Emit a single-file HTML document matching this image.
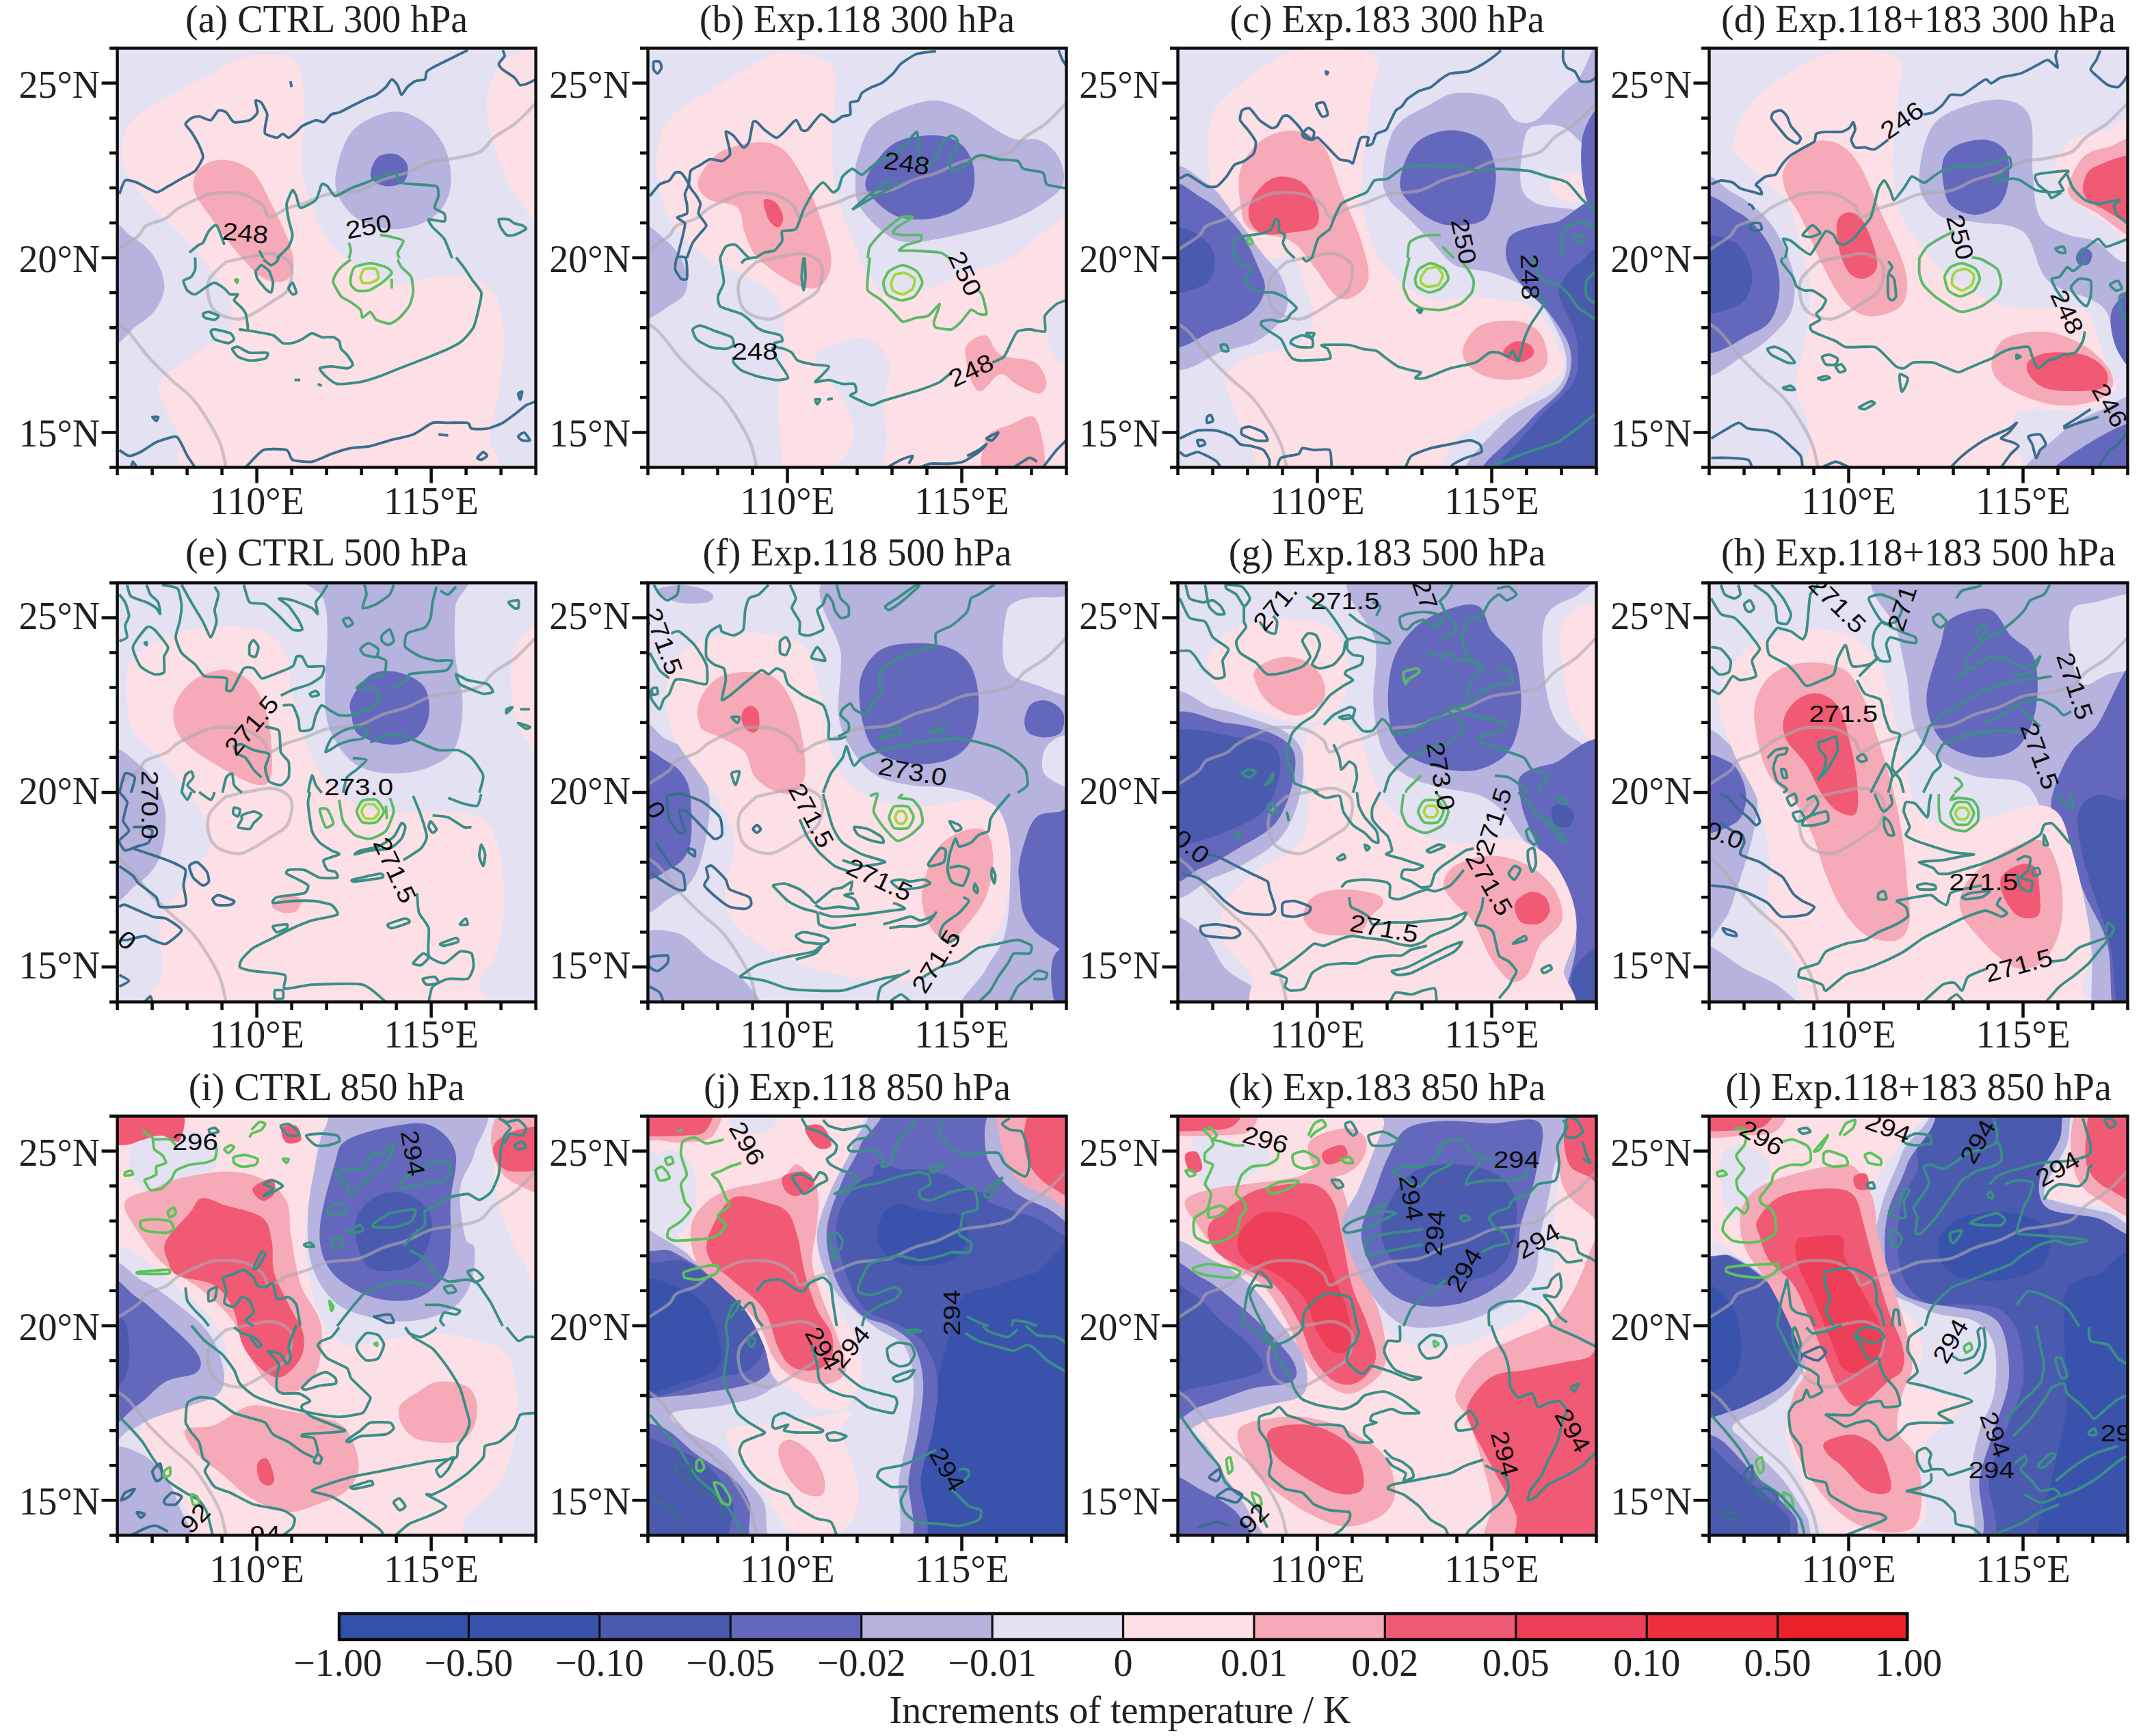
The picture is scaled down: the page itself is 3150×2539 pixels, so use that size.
<!DOCTYPE html><html><head><meta charset="utf-8"><style>html,body{margin:0;padding:0;background:#fff;overflow:hidden}svg{display:block}</style></head><body>
<svg xmlns="http://www.w3.org/2000/svg" width="3150" height="2539" viewBox="0 0 3150 2539">
<rect width="3150" height="2539" fill="#fff"/>
<defs><clipPath id="cp"><rect x="0" y="0" width="1736" height="1736"/></clipPath></defs>
<g transform="translate(171.6 70.5) scale(0.353111)">
<g clip-path="url(#cp)">
<rect x="-10" y="-10" width="1760" height="1760" fill="#e4e1f3"/>
<path d="M1590 60C1612.5 38.3 1645 30 1680 20C1715 10 1780 -123.3 1800 0C1820 123.3 1816.7 646.7 1800 760C1783.3 873.3 1730 713.3 1700 680C1670 646.7 1643.3 606.7 1620 560C1596.7 513.3 1575 451.7 1560 400C1545 348.3 1532.5 291.7 1530 250C1527.5 208.3 1535 181.7 1545 150C1555 118.3 1567.5 81.7 1590 60Z" fill="#fde0e5"/>
<path d="M480 55C513.3 42.5 560 27.5 600 25C640 22.5 692.5 24.2 720 40C747.5 55.8 756.3 76.7 765 120C773.7 163.3 772 240 772 300C772 360 760.3 421.7 765 480C769.7 538.3 780.8 596.7 800 650C819.2 703.3 848.3 758.3 880 800C911.7 841.7 945 870.8 990 900C1035 929.2 1098.3 966.7 1150 975C1201.7 983.3 1250 955 1300 950C1350 945 1405 931.7 1450 945C1495 958.3 1545 987.5 1570 1030C1595 1072.5 1597.5 1138.3 1600 1200C1602.5 1261.7 1595 1333.3 1585 1400C1575 1466.7 1555.8 1533.3 1540 1600C1524.2 1666.7 1683.3 1766.7 1490 1800C1296.7 1833.3 586.7 1835 380 1800C173.3 1765 284.2 1651.7 250 1590C215.8 1528.3 184.2 1468.3 175 1430C165.8 1391.7 165.8 1390 195 1360C224.2 1330 305.8 1281.7 350 1250C394.2 1218.3 440 1201.7 460 1170C480 1138.3 480 1100 470 1060C460 1020 431.7 975 400 930C368.3 885 325 838.3 280 790C235 741.7 171.7 688.3 130 640C88.3 591.7 48.3 541.7 30 500C11.7 458.3 11.7 426.7 20 390C28.3 353.3 41.7 315 80 280C118.3 245 196.7 210 250 180C303.3 150 361.7 120.8 400 100C438.3 79.2 446.7 67.5 480 55Z" fill="#fde0e5"/>
<path d="M-50 740C-31.7 666.7 26.7 760 60 780C93.3 800 127.5 826.7 150 860C172.5 893.3 193.3 943.3 195 980C196.7 1016.7 179.2 1051.7 160 1080C140.8 1108.3 115 1126.7 80 1150C45 1173.3 -28.3 1288.3 -50 1220C-71.7 1151.7 -68.3 813.3 -50 740Z" fill="#b6b3de"/>
<path d="M340 500C360.3 478.7 403.3 460.3 440 462C476.7 463.7 526.7 478.7 560 510C593.3 541.3 615 601.7 640 650C665 698.3 695 757.5 710 800C725 842.5 733.3 877.5 730 905C726.7 932.5 711.7 957.5 690 965C668.3 972.5 631.7 969.2 600 950C568.3 930.8 533.3 888.3 500 850C466.7 811.7 430.3 763.3 400 720C369.7 676.7 328 626.7 318 590C308 553.3 319.7 521.3 340 500Z" fill="#f6a9b6"/>
<path d="M905 520C911.7 476.7 934.2 399.2 960 360C985.8 320.8 1023.3 300.8 1060 285C1096.7 269.2 1140 257.5 1180 265C1220 272.5 1268.3 299.2 1300 330C1331.7 360.8 1357.5 405 1370 450C1382.5 495 1386.7 557.5 1375 600C1363.3 642.5 1337.5 680 1300 705C1262.5 730 1200 749.2 1150 750C1100 750.8 1038.3 731.7 1000 710C961.7 688.3 935.8 651.7 920 620C904.2 588.3 898.3 563.3 905 520Z" fill="#b6b3de"/>
<path d="M1050 510C1053.3 493.3 1063.3 462 1080 450C1096.7 438 1130 433 1150 438C1170 443 1193.3 461.3 1200 480C1206.7 498.7 1203.3 534.7 1190 550C1176.7 565.3 1141.7 572 1120 572C1098.3 572 1071.7 560.3 1060 550C1048.3 539.7 1046.7 526.7 1050 510Z" fill="#6468bc"/>
<path d="M1790 180C1781 187.5 1759.3 203.3 1736 225C1712.7 246.7 1679.3 285.8 1650 310C1620.7 334.2 1585 350 1560 370C1535 390 1526.7 415.8 1500 430C1473.3 444.2 1433.3 448.3 1400 455C1366.7 461.7 1333.3 460 1300 470C1266.7 480 1233.3 502.5 1200 515C1166.7 527.5 1133.3 532.5 1100 545C1066.7 557.5 1038.3 580 1000 590C961.7 600 906.7 596.7 870 605C833.3 613.3 808.3 630 780 640C751.7 650 725 655 700 665C675 675 646.7 702.5 630 700C613.3 697.5 618.3 665.8 600 650C581.7 634.2 553.3 613.3 520 605C486.7 596.7 431.7 596.7 400 600C368.3 603.3 355 614.2 330 625C305 635.8 271.7 651.7 250 665C228.3 678.3 221.7 693.3 200 705C178.3 716.7 138.3 723.3 120 735C101.7 746.7 103.3 762.5 90 775C76.7 787.5 61.7 795.8 40 810C18.3 824.2 -26.7 851.7 -40 860" fill="none" stroke="#aca9b0" stroke-opacity="0.62" stroke-width="13" stroke-linejoin="round" stroke-linecap="round"/>
<path d="M-40 1120C-26.7 1128.3 11.7 1143.3 40 1170C68.3 1196.7 100 1246.7 130 1280C160 1313.3 190 1341.7 220 1370C250 1398.3 283.3 1420 310 1450C336.7 1480 360 1516.7 380 1550C400 1583.3 416.7 1610 430 1650C443.3 1690 455 1766.7 460 1790" fill="none" stroke="#aca9b0" stroke-opacity="0.62" stroke-width="13" stroke-linejoin="round" stroke-linecap="round"/>
<path d="M450 885C468.3 881.2 526.7 867.5 560 862C593.3 856.5 623.3 845.7 650 852C676.7 858.3 710.8 875.3 720 900C729.2 924.7 718.3 975 705 1000C691.7 1025 664.2 1033.3 640 1050C615.8 1066.7 583.3 1088 560 1100C536.7 1112 523.3 1122 500 1122C476.7 1122 439.7 1112 420 1100C400.3 1088 388.7 1073.3 382 1050C375.3 1026.7 368.7 987.5 380 960C391.3 932.5 438.3 897.5 450 885" fill="none" stroke="#aca9b0" stroke-opacity="0.62" stroke-width="13" stroke-linejoin="round" stroke-linecap="round"/>
<path d="M8.1 604.5C10.5 598.8 25 552.9 32.2 548C39.5 543.2 67.7 551.3 80.6 556.1C93.5 560.9 148.3 594.8 161.2 596.4C174.1 598 199.1 577.9 209.5 572.2C220 566.6 254.7 546.4 266 540C277.2 533.5 313.5 516.6 322.4 507.7C331.2 498.9 353 461.8 354.6 451.3C356.2 440.9 343.3 413.4 338.5 403C333.7 392.5 311.9 355.4 306.3 346.6C300.6 337.7 282.1 320 282.1 314.3C282.1 308.7 300.6 293.4 306.3 290.1C311.9 286.9 330.4 281.3 338.5 282.1C346.6 282.9 378.8 300.6 386.9 298.2C394.9 295.8 412.6 261.1 419.1 257.9C425.5 254.7 444.9 261.1 451.3 266C457.8 270.8 473.9 303 483.6 306.3C493.2 309.5 538.4 302.2 548 298.2C557.7 294.2 577.9 274 580.3 266C582.7 257.9 570.6 221.6 572.2 217.6C573.8 213.6 591.6 220 596.4 225.7C601.2 231.3 619 264.3 620.6 274C622.2 283.7 613.3 314.3 612.5 322.4C611.7 330.4 607.7 349.8 612.5 354.6C617.4 359.5 653.6 370.7 660.9 370.7C668.1 370.7 680.2 354.6 685.1 354.6C689.9 354.6 703.6 371.5 709.2 370.7C714.9 369.9 735.8 351.4 741.5 346.6C747.1 341.7 757.6 327.2 765.6 322.4C773.7 317.5 813.2 299.8 822.1 298.2C830.9 296.6 847.9 308.7 854.3 306.3C860.7 303.8 880.1 278.1 886.5 274C893 270 909.1 270 918.8 266C928.4 261.9 972 239.4 983.2 233.7C994.5 228.1 1022.7 213.6 1031.6 209.5C1040.5 205.5 1063.8 198.3 1071.9 193.4C1080 188.6 1105.8 167.6 1112.2 161.2C1118.6 154.7 1131.5 129.8 1136.4 129C1141.2 128.1 1156.5 146.7 1160.6 153.1C1164.6 159.6 1172.6 192.6 1176.7 193.4C1180.7 194.2 1195.2 166.8 1200.9 161.2C1206.5 155.5 1225.8 140.2 1233.1 137C1240.3 133.8 1268.6 133 1273.4 129C1278.2 124.9 1278.2 101.5 1281.4 96.7C1284.7 91.9 1296.8 85.4 1305.6 80.6C1314.5 75.8 1358.8 54 1370.1 48.4C1381.4 42.7 1410.4 28.2 1418.5 24.2C1426.5 20.1 1447.5 9.7 1450.7 8.1" fill="none" stroke="#3b6e8e" stroke-width="11" stroke-linejoin="round"/>
<path d="M1595.8 8.1C1596.6 10.5 1605.4 26.6 1603.8 32.2C1602.2 37.9 1580.5 58.8 1579.6 64.5C1578.8 70.1 1589.3 83 1595.8 88.7C1602.2 94.3 1636.9 114.4 1644.1 120.9C1651.4 127.3 1662.7 150.7 1668.3 153.1C1673.9 155.5 1694.1 147.5 1700.5 145.1C1707 142.7 1729.6 130.6 1732.8 129" fill="none" stroke="#3b6e8e" stroke-width="11" stroke-linejoin="round"/>
<path d="M717.3 137C717.7 139.4 720.9 158.8 721.3 161.2" fill="none" stroke="#3b6e8e" stroke-width="11" stroke-linejoin="round"/>
<path d="M298.2 846.2C302.2 843 332.9 818 338.5 814C344.1 810 350.6 811.6 354.6 805.9C358.6 800.3 373.2 764.8 378.8 757.6C384.4 750.3 404.6 727.8 411 733.4C417.5 739 440 805.9 443.3 814" fill="none" stroke="#3b8e86" stroke-width="11" stroke-linejoin="round"/>
<path d="M660.9 869.6C665.7 864.9 702.8 831.7 709.2 822.1C715.7 812.5 725.3 785 725.3 773.7C725.3 762.4 711.6 722.1 709.2 709.2C706.8 696.3 699.6 656.8 701.2 644.8C702.8 632.7 721.3 591.6 725.3 588.3C729.4 585.1 738.2 605.3 741.5 612.5C744.7 619.8 749.5 659.3 757.6 660.9C765.6 662.5 813.2 638.3 822.1 628.6C830.9 619 841.4 569.8 846.2 564.2C851.1 558.5 864.8 567.4 870.4 572.2C876.1 577.1 893 611.7 902.7 612.5C912.3 613.3 954.2 585.9 967.1 580.3C980 574.6 1019.5 560.9 1031.6 556.1C1043.7 551.3 1075.9 536 1088 531.9C1100.1 527.9 1144.4 513.4 1152.5 515.8C1160.6 518.2 1159.8 551.3 1168.6 556.1C1177.5 560.9 1225.8 562.5 1241.2 564.2C1256.5 565.8 1312.9 567.4 1321.7 572.2C1330.6 577.1 1330.6 603.7 1329.8 612.5C1329 621.4 1311.3 653.6 1313.7 660.9C1316.1 668.1 1350 679.4 1354 685.1C1358 690.7 1360.4 714.9 1354 717.3C1347.5 719.7 1294.3 706.8 1289.5 709.2C1284.7 711.6 1299.2 733.4 1305.6 741.5C1312.1 749.5 1345.9 777 1354 789.8C1362 802.6 1383 861.6 1386.2 869.6" fill="none" stroke="#3b8e86" stroke-width="11" stroke-linejoin="round"/>
<path d="M1579.6 709.2C1582.9 706 1613.5 707.6 1619.9 709.2C1626.4 710.8 1638.5 722.9 1644.1 725.3C1649.8 727.8 1671.5 731 1676.4 733.4C1681.2 735.8 1695.7 745.5 1692.5 749.5C1689.3 753.6 1652.2 771.3 1644.1 773.7C1636.1 776.1 1617.5 776.9 1611.9 773.7C1606.2 770.5 1590.9 747.9 1587.7 741.5C1584.5 735 1576.4 712.5 1579.6 709.2Z" fill="none" stroke="#3b8e86" stroke-width="11" stroke-linejoin="round"/>
<path d="M1088 773.7C1092.9 774.5 1126.7 779.3 1136.4 781.8C1146.1 784.2 1182.3 791.4 1184.7 797.9C1187.2 804.3 1162.2 839.1 1160.6 846.2C1158.9 853.4 1167.8 867.3 1168.6 869.6" fill="none" stroke="#5cb86a" stroke-width="11" stroke-linejoin="round"/>
<path d="M959.1 869.6C959.9 866.5 967.1 844.5 967.1 838.2C967.1 831.8 959.9 809.2 959.1 805.9" fill="none" stroke="#5cb86a" stroke-width="11" stroke-linejoin="round"/>
<path d="M588.3 838.2C589.9 841.3 602.8 866.5 604.5 869.6" fill="none" stroke="#3b8e86" stroke-width="11" stroke-linejoin="round"/>
<path d="M322.4 866.6C322.4 871.4 324 906.9 322.4 915C320.8 923 311.1 942.4 306.3 947.2C301.4 952 275.6 957.7 274 963.3C272.4 969 285.3 998 290.1 1003.6C295 1009.3 314.3 1021.3 322.4 1019.7C330.4 1018.1 362.7 992.3 370.7 987.5C378.8 982.7 395.7 970.6 403 971.4C410.2 972.2 436.8 990.7 443.3 995.6C449.7 1000.4 461.8 1017.3 467.4 1019.7C473.1 1022.1 498.1 1017.3 499.7 1019.7C501.3 1022.1 482 1038.3 483.6 1043.9C485.2 1049.5 511 1070.5 515.8 1076.1C520.6 1081.8 529.5 1091.5 531.9 1100.3C534.3 1109.2 542.4 1158.4 540 1164.8C537.6 1171.2 505.3 1164 507.7 1164.8C510.2 1165.6 550.5 1170.4 564.2 1172.9C577.9 1175.3 632.7 1184.1 644.8 1189C656.8 1193.8 677 1218 685.1 1221.2C693.1 1224.4 717.3 1222.8 725.3 1221.2C733.4 1219.6 757.6 1209.1 765.6 1205.1C773.7 1201.1 797.9 1181.7 805.9 1180.9C814 1180.1 837.4 1195.4 846.2 1197C855.1 1198.6 887.3 1195.4 894.6 1197C901.8 1198.6 915.6 1208.3 918.8 1213.2C922 1218 923.6 1239.8 926.8 1245.4C930.1 1251 946.2 1263.1 951 1269.6C955.8 1276 975.2 1304.2 975.2 1309.9C975.2 1315.5 959.9 1325.2 951 1326C942.1 1326.8 897.8 1317.9 886.5 1317.9C875.3 1317.9 840.6 1322 838.2 1326C835.8 1330 855.1 1351.8 862.4 1358.2C869.6 1364.7 896.2 1388 910.7 1390.5C925.2 1392.9 989.7 1385.6 1007.4 1382.4C1025.2 1379.2 1071.9 1363.9 1088 1358.2C1104.1 1352.6 1150.1 1333.2 1168.6 1326C1187.2 1318.7 1253.2 1293.7 1273.4 1285.7C1293.5 1277.6 1354.8 1252.6 1370.1 1245.4C1385.4 1238.1 1416 1222 1426.5 1213.2C1437 1204.3 1467.6 1171.2 1474.9 1156.7C1482.1 1142.2 1495.8 1082.6 1499.1 1068.1C1502.3 1053.6 1510.3 1023 1507.1 1011.7C1503.9 1000.4 1474.1 965.7 1466.8 955.3C1459.6 944.8 1441 915.8 1434.6 906.9C1428.1 898 1405.6 870.6 1402.3 866.6" fill="none" stroke="#3b8e86" stroke-width="11" stroke-linejoin="round"/>
<path d="M580.3 915C582.7 912.5 591.6 898 596.4 898.8C601.2 899.6 623.8 915.8 628.6 923C633.5 930.3 643.9 962.5 644.8 971.4C645.6 980.2 639.9 1009.3 636.7 1011.7C633.5 1014.1 618.2 1001.2 612.5 995.6C606.9 989.9 584.3 962.5 580.3 955.3C576.2 948 572.2 927 572.2 923C572.2 919 577.9 917.4 580.3 915Z" fill="none" stroke="#3b8e86" stroke-width="11" stroke-linejoin="round"/>
<path d="M604.5 874.7C607.7 877.1 631.1 898 636.7 898.8C642.3 899.6 657.6 885.9 660.9 882.7C664.1 879.5 668.1 868.2 668.9 866.6" fill="none" stroke="#3b8e86" stroke-width="11" stroke-linejoin="round"/>
<path d="M709.2 995.6C709.2 990.7 722.1 969.8 725.3 971.4C728.6 973 741.5 1006.8 741.5 1011.7C741.5 1016.5 728.6 1021.3 725.3 1019.7C722.1 1018.1 709.2 1000.4 709.2 995.6Z" fill="none" stroke="#3b8e86" stroke-width="11" stroke-linejoin="round"/>
<path d="M354.6 1100.3C356.2 1097.9 372.3 1091.5 378.8 1092.3C385.2 1093.1 416.7 1105.2 419.1 1108.4C421.5 1111.6 408.6 1123.7 403 1124.5C397.3 1125.3 367.5 1118.9 362.7 1116.4C357.8 1114 353 1102.7 354.6 1100.3Z" fill="none" stroke="#3b8e86" stroke-width="11" stroke-linejoin="round"/>
<path d="M386.9 1172.9C386.9 1168.8 394.9 1164 403 1164.8C411 1165.6 459.4 1176.9 467.4 1180.9C475.5 1184.9 484.4 1201.1 483.6 1205.1C482.8 1209.1 467.4 1221.2 459.4 1221.2C451.3 1221.2 410.2 1209.9 403 1205.1C395.7 1200.3 386.9 1176.9 386.9 1172.9Z" fill="none" stroke="#3b8e86" stroke-width="11" stroke-linejoin="round"/>
<path d="M475.5 1245.4C475.5 1241.4 492.4 1235.7 499.7 1237.3C506.9 1238.9 536 1259.1 548 1261.5C560.1 1263.9 614.1 1259.1 620.6 1261.5C627 1263.9 619.8 1282.5 612.5 1285.7C605.3 1288.9 559.3 1294.6 548 1293.7C536.8 1292.9 506.9 1282.5 499.7 1277.6C492.4 1272.8 475.5 1249.4 475.5 1245.4Z" fill="none" stroke="#3b8e86" stroke-width="11" stroke-linejoin="round"/>
<path d="M733.4 1374.3C735.8 1374.3 755.2 1374.3 757.6 1374.3" fill="none" stroke="#3b8e86" stroke-width="11" stroke-linejoin="round"/>
<path d="M830.1 1390.5C831.7 1391.3 844.6 1397.7 846.2 1398.5" fill="none" stroke="#3b8e86" stroke-width="11" stroke-linejoin="round"/>
<path d="M487.6 959.3C488 958.1 498.9 958.1 499.7 959.3C500.5 960.5 496.9 971.4 495.7 971.4C494.4 971.4 487.2 960.5 487.6 959.3Z" fill="none" stroke="#5cb86a" stroke-width="11" stroke-linejoin="round"/>
<path d="M967.1 874.7C963.1 877.9 933.3 900.4 926.8 906.9C920.4 913.3 905.9 932.7 902.7 939.1C899.4 945.6 892.2 962.5 894.6 971.4C897 980.2 919.6 1019.7 926.8 1027.8C934.1 1035.8 959.1 1046.3 967.1 1052C975.2 1057.6 1002.6 1077.8 1007.4 1084.2C1012.3 1090.7 1011.5 1115.6 1015.5 1116.4C1019.5 1117.2 1042.1 1091.5 1047.7 1092.3C1053.4 1093.1 1063.8 1119.7 1071.9 1124.5C1080 1129.3 1118.6 1141.4 1128.3 1140.6C1138 1139.8 1160.6 1123.7 1168.6 1116.4C1176.7 1109.2 1203.3 1078.6 1208.9 1068.1C1214.6 1057.6 1224.2 1023.8 1225 1011.7C1225.8 999.6 1221.8 957.7 1217 947.2C1212.1 936.7 1182.3 914.2 1176.7 906.9C1171 899.6 1162.2 877.9 1160.6 874.7" fill="none" stroke="#5cb86a" stroke-width="11" stroke-linejoin="round"/>
<path d="M967.1 947.2C968.7 939.9 975.2 912.5 983.2 906.9C991.3 901.3 1034.8 890.8 1047.7 890.8C1060.6 890.8 1103.3 902.9 1112.2 906.9C1121.1 910.9 1138 924.6 1136.4 931.1C1134.8 937.5 1105.8 964.1 1096.1 971.4C1086.4 978.6 1050.1 1000.4 1039.7 1003.6C1029.2 1006.8 998.6 1006 991.3 1003.6C984.1 1001.2 969.5 985.1 967.1 979.4C964.7 973.8 965.5 954.4 967.1 947.2Z" fill="none" stroke="#5cc25c" stroke-width="11" stroke-linejoin="round"/>
<path d="M1007.4 947.2C1008.2 941.6 1017.1 918.2 1023.5 915C1030 911.7 1066.3 910.9 1071.9 915C1077.5 919 1082.4 949.6 1080 955.3C1077.5 960.9 1054.2 969.8 1047.7 971.4C1041.3 973 1019.5 973.8 1015.5 971.4C1011.5 969 1006.6 952.8 1007.4 947.2Z" fill="none" stroke="#9fd83c" stroke-width="11" stroke-linejoin="round"/>
<path d="M1136.4 955.3C1136.4 959.3 1136.4 991.5 1136.4 995.6" fill="none" stroke="#5cc25c" stroke-width="11" stroke-linejoin="round"/>
<path d="M8.1 1664.5C12.1 1666.9 39.5 1687.9 48.4 1688.7C57.2 1689.5 85.4 1678.2 96.7 1672.5C108 1666.9 146.7 1638.7 161.2 1632.2C175.7 1625.8 231.3 1607.3 241.8 1608.1C252.3 1608.9 261.1 1632.2 266 1640.3C270.8 1648.4 284.5 1679.1 290.1 1688.7C295.8 1698.3 319.2 1731.5 322.4 1736.2" fill="none" stroke="#3b6e8e" stroke-width="11" stroke-linejoin="round"/>
<path d="M531.9 1736.2C539.2 1729 587.5 1671.7 604.5 1664.5C621.4 1657.3 689.1 1660.5 701.2 1664.5C713.3 1668.5 714.9 1699.9 725.3 1704.8C735.8 1709.6 789.8 1715.3 805.9 1712.8C822.1 1710.4 870.4 1686.2 886.5 1680.6C902.7 1675 951 1659.6 967.1 1656.4C983.2 1653.2 1031.6 1651.6 1047.7 1648.4C1063.8 1645.1 1110.6 1629 1128.3 1624.2C1146.1 1619.4 1207.3 1607.3 1225 1600C1242.8 1592.8 1291.1 1556.5 1305.6 1551.7C1320.1 1546.8 1355.6 1551.7 1370.1 1551.7C1384.6 1551.7 1441 1549.2 1450.7 1551.7C1460.4 1554.1 1458.8 1573.4 1466.8 1575.8C1474.9 1578.2 1518.4 1578.2 1531.3 1575.8C1544.2 1573.4 1583.7 1558.1 1595.8 1551.7C1607.9 1545.2 1642.5 1518.6 1652.2 1511.4C1661.9 1504.1 1684.4 1484 1692.5 1479.1C1700.5 1474.3 1728.7 1464.6 1732.8 1463" fill="none" stroke="#3b6e8e" stroke-width="11" stroke-linejoin="round"/>
<path d="M145.1 1527.5C145.9 1525.9 167.6 1525.9 169.2 1527.5C170.9 1529.1 163.6 1543.6 161.2 1543.6C158.8 1543.6 144.3 1529.1 145.1 1527.5Z" fill="none" stroke="#3b6e8e" stroke-width="11" stroke-linejoin="round"/>
<path d="M1660.2 1430.8C1661 1427.5 1675.6 1420.3 1676.4 1422.7C1677.2 1425.1 1669.9 1454.1 1668.3 1454.9C1666.7 1455.7 1659.4 1434 1660.2 1430.8Z" fill="none" stroke="#3b6e8e" stroke-width="11" stroke-linejoin="round"/>
<path d="M1329.8 1600C1333.8 1600.4 1366.1 1603.6 1370.1 1604" fill="none" stroke="#3b6e8e" stroke-width="11" stroke-linejoin="round"/>
<path d="M1660.2 1608.1C1661 1604.8 1679.6 1590.3 1684.4 1591.9C1689.3 1593.6 1709.4 1621 1708.6 1624.2C1707.8 1627.4 1681.2 1625.8 1676.4 1624.2C1671.5 1622.6 1659.4 1611.3 1660.2 1608.1Z" fill="none" stroke="#3b6e8e" stroke-width="11" stroke-linejoin="round"/>
<path d="M1491 1696.7C1491.8 1693.5 1511.1 1673.3 1515.2 1672.5C1519.2 1671.7 1532.1 1685.4 1531.3 1688.7C1530.5 1691.9 1511.1 1704 1507.1 1704.8C1503.1 1705.6 1490.2 1699.9 1491 1696.7Z" fill="none" stroke="#3b6e8e" stroke-width="11" stroke-linejoin="round"/>
<path d="M56.4 1736.2C57.2 1733.9 62.1 1712.8 64.5 1712.8C66.9 1712.8 79 1733.9 80.6 1736.2" fill="none" stroke="#3b6e8e" stroke-width="11" stroke-linejoin="round"/>
<text transform="translate(530 765) rotate(5) scale(1.12 1)" y="36" font-family="Liberation Sans" font-size="102" text-anchor="middle" fill="#0d0d0d">248</text>
<text transform="translate(1040 738) rotate(-10) scale(1.12 1)" y="36" font-family="Liberation Sans" font-size="102" text-anchor="middle" fill="#0d0d0d">250</text>
</g></g>
<rect x="171.6" y="70.5" width="612" height="613" fill="none" stroke="#0d0d0d" stroke-width="4.4"/>
<path d="M171.6 683.5H160.1M171.6 632.4H148.6M171.6 581.3H160.1M171.6 530.2H160.1M171.6 479.2H160.1M171.6 428.1H160.1M171.6 377H148.6M171.6 325.9H160.1M171.6 274.8H160.1M171.6 223.8H160.1M171.6 172.7H160.1M171.6 121.6H148.6M171.6 70.5H160.1M171.6 683.5V695M222.6 683.5V695M273.6 683.5V695M324.6 683.5V695M375.6 683.5V706.5M426.6 683.5V695M477.6 683.5V695M528.6 683.5V695M579.6 683.5V695M630.6 683.5V706.5M681.6 683.5V695M732.6 683.5V695M783.6 683.5V695" stroke="#0d0d0d" stroke-width="4.5" fill="none"/>
<text x="146.3" y="653.4" font-family="Liberation Serif" font-size="56" text-anchor="end" fill="#231f20">15°N</text>
<text x="146.3" y="398" font-family="Liberation Serif" font-size="56" text-anchor="end" fill="#231f20">20°N</text>
<text x="146.3" y="142.6" font-family="Liberation Serif" font-size="56" text-anchor="end" fill="#231f20">25°N</text>
<text x="375.6" y="751.8" font-family="Liberation Serif" font-size="56" text-anchor="middle" fill="#231f20">110°E</text>
<text x="630.6" y="751.8" font-family="Liberation Serif" font-size="56" text-anchor="middle" fill="#231f20">115°E</text>
<text x="477.6" y="46.8" font-family="Liberation Serif" font-size="56" text-anchor="middle" fill="#231f20">(a) CTRL 300 hPa</text>
<g transform="translate(947.5 70.5) scale(0.353111)">
<g clip-path="url(#cp)">
<rect x="-10" y="-10" width="1760" height="1760" fill="#e4e1f3"/>
<path d="M540 20C606.7 1.7 661.3 26.7 700 40C738.7 53.3 760 65 772 100C784 135 774 200 772 250C770 300 758.7 341.7 760 400C761.3 458.3 765 533.3 780 600C795 666.7 826.7 741.7 850 800C873.3 858.3 895 913.3 920 950C945 986.7 961.7 1011.7 1000 1020C1038.3 1028.3 1100 1013.3 1150 1000C1200 986.7 1241.7 961.7 1300 940C1358.3 918.3 1443.3 900 1500 870C1556.7 840 1590 791.7 1640 760C1690 728.3 1773.3 640 1800 680C1826.7 720 1816.7 936.7 1800 1000C1783.3 1063.3 1725 1035 1700 1060C1675 1085 1650 1110 1650 1150C1650 1190 1675 1275 1700 1300C1725 1325 1783.3 1216.7 1800 1300C1816.7 1383.3 1925 1716.7 1800 1800C1675 1883.3 1185 1833.3 1050 1800C915 1766.7 1001.7 1658.3 990 1600C978.3 1541.7 978.3 1500 980 1450C981.7 1400 1013.3 1341.7 1000 1300C986.7 1258.3 946.7 1208.3 900 1200C853.3 1191.7 753.3 1233.3 720 1250C686.7 1266.7 681.7 1258.3 700 1300C718.3 1341.7 806.7 1441.7 830 1500C853.3 1558.3 861.7 1600 840 1650C818.3 1700 743.3 1775 700 1800C656.7 1825 606.7 1850 580 1800C553.3 1750 543.3 1591.7 540 1500C536.7 1408.3 556.7 1316.7 560 1250C563.3 1183.3 570 1141.7 560 1100C550 1058.3 530 1028.3 500 1000C470 971.7 421.7 951.7 380 930C338.3 908.3 293.3 900 250 870C206.7 840 153.3 795 120 750C86.7 705 63.3 655 50 600C36.7 545 31.7 473.3 40 420C48.3 366.7 56.7 325 100 280C143.3 235 226.7 193.3 300 150C373.3 106.7 473.3 38.3 540 20Z" fill="#fde0e5"/>
<path d="M-50 740C-28.3 688.3 46.7 773.3 80 800C113.3 826.7 136.7 866.7 150 900C163.3 933.3 168.3 973.3 160 1000C151.7 1026.7 135 1041.7 100 1060C65 1078.3 -25 1163.3 -50 1110C-75 1056.7 -71.7 791.7 -50 740Z" fill="#b6b3de"/>
<path d="M220 520C235 495 261.7 451.7 300 430C338.3 408.3 406.7 391.7 450 390C493.3 388.3 526.7 393.3 560 420C593.3 446.7 623.3 500 650 550C676.7 600 701.7 665 720 720C738.3 775 760 836.7 760 880C760 923.3 740 961.7 720 980C700 998.3 671.7 998.3 640 990C608.3 981.7 563.3 953.3 530 930C496.7 906.7 461.7 878.3 440 850C418.3 821.7 411.7 791.7 400 760C388.3 728.3 393.3 681.7 370 660C346.7 638.3 286.7 643.3 260 630C233.3 616.7 216.7 598.3 210 580C203.3 561.7 205 545 220 520Z" fill="#f6a9b6"/>
<path d="M480 630C485 618.3 516.7 628.3 530 640C543.3 651.7 558.3 683 560 700C561.7 717 550 740.3 540 742C530 743.7 510 728.7 500 710C490 691.3 475 641.7 480 630Z" fill="#f05a75"/>
<path d="M870 450C883.3 413.3 893.3 348.3 940 310C986.7 271.7 1090 230 1150 220C1210 210 1241.7 225 1300 250C1358.3 275 1446.7 348.3 1500 370C1553.3 391.7 1586.7 366.7 1620 380C1653.3 393.3 1683.3 420 1700 450C1716.7 480 1730 528.3 1720 560C1710 591.7 1680 613.3 1640 640C1600 666.7 1553.3 695 1480 720C1406.7 745 1271.7 776.7 1200 790C1128.3 803.3 1091.7 808.3 1050 800C1008.3 791.7 980 766.7 950 740C920 713.3 885 675 870 640C855 605 860 561.7 860 530C860 498.3 856.7 486.7 870 450Z" fill="#b6b3de"/>
<path d="M960 450C985 420 1010 394.7 1050 380C1090 365.3 1158.3 358.7 1200 362C1241.7 365.3 1275 377 1300 400C1325 423 1345 461.7 1350 500C1355 538.3 1355 596.7 1330 630C1305 663.3 1246.7 688 1200 700C1153.3 712 1091.7 712 1050 702C1008.3 692 975 663.7 950 640C925 616.3 898.3 591.7 900 560C901.7 528.3 935 480 960 450Z" fill="#6468bc"/>
<path d="M1320 1230C1333.3 1211.7 1376.7 1183.3 1400 1190C1423.3 1196.7 1426.7 1251.7 1460 1270C1493.3 1288.3 1568.3 1281.7 1600 1300C1631.7 1318.3 1646.7 1358.3 1650 1380C1653.3 1401.7 1640 1427.5 1620 1430C1600 1432.5 1556.7 1408.3 1530 1395C1503.3 1381.7 1485 1345.8 1460 1350C1435 1354.2 1400 1415 1380 1420C1360 1425 1350 1400 1340 1380C1330 1360 1323.3 1325 1320 1300C1316.7 1275 1306.7 1248.3 1320 1230Z" fill="#f6a9b6"/>
<path d="M1400 1620C1416.7 1580 1465 1573.3 1500 1560C1535 1546.7 1588.3 1500 1610 1540C1631.7 1580 1665 1756.7 1630 1800C1595 1843.3 1438.3 1830 1400 1800C1361.7 1770 1383.3 1660 1400 1620Z" fill="#f6a9b6"/>
<path d="M1790 180C1781 187.5 1759.3 203.3 1736 225C1712.7 246.7 1679.3 285.8 1650 310C1620.7 334.2 1585 350 1560 370C1535 390 1526.7 415.8 1500 430C1473.3 444.2 1433.3 448.3 1400 455C1366.7 461.7 1333.3 460 1300 470C1266.7 480 1233.3 502.5 1200 515C1166.7 527.5 1133.3 532.5 1100 545C1066.7 557.5 1038.3 580 1000 590C961.7 600 906.7 596.7 870 605C833.3 613.3 808.3 630 780 640C751.7 650 725 655 700 665C675 675 646.7 702.5 630 700C613.3 697.5 618.3 665.8 600 650C581.7 634.2 553.3 613.3 520 605C486.7 596.7 431.7 596.7 400 600C368.3 603.3 355 614.2 330 625C305 635.8 271.7 651.7 250 665C228.3 678.3 221.7 693.3 200 705C178.3 716.7 138.3 723.3 120 735C101.7 746.7 103.3 762.5 90 775C76.7 787.5 61.7 795.8 40 810C18.3 824.2 -26.7 851.7 -40 860" fill="none" stroke="#aca9b0" stroke-opacity="0.62" stroke-width="13" stroke-linejoin="round" stroke-linecap="round"/>
<path d="M-40 1120C-26.7 1128.3 11.7 1143.3 40 1170C68.3 1196.7 100 1246.7 130 1280C160 1313.3 190 1341.7 220 1370C250 1398.3 283.3 1420 310 1450C336.7 1480 360 1516.7 380 1550C400 1583.3 416.7 1610 430 1650C443.3 1690 455 1766.7 460 1790" fill="none" stroke="#aca9b0" stroke-opacity="0.62" stroke-width="13" stroke-linejoin="round" stroke-linecap="round"/>
<path d="M450 885C468.3 881.2 526.7 867.5 560 862C593.3 856.5 623.3 845.7 650 852C676.7 858.3 710.8 875.3 720 900C729.2 924.7 718.3 975 705 1000C691.7 1025 664.2 1033.3 640 1050C615.8 1066.7 583.3 1088 560 1100C536.7 1112 523.3 1122 500 1122C476.7 1122 439.7 1112 420 1100C400.3 1088 388.7 1073.3 382 1050C375.3 1026.7 368.7 987.5 380 960C391.3 932.5 438.3 897.5 450 885" fill="none" stroke="#aca9b0" stroke-opacity="0.62" stroke-width="13" stroke-linejoin="round" stroke-linecap="round"/>
<path d="M8.1 612.5C12.1 607.7 40.3 570.6 48.4 564.2C56.4 557.7 82.2 552.9 88.7 548C95.1 543.2 108 519 112.8 515.8C117.7 512.6 132.2 512.6 137 515.8C141.8 519 157.2 541.6 161.2 548C165.2 554.5 173.3 573.8 177.3 580.3C181.3 586.7 197.5 606.1 201.5 612.5C205.5 619 216.8 637.5 217.6 644.8C218.4 652 207.1 676.2 209.5 685.1C212 693.9 241 725.3 241.8 733.4C242.6 741.5 223.2 758.4 217.6 765.6C212 772.9 191 795.5 185.4 805.9C179.7 816.3 163.6 863.2 161.2 869.6" fill="none" stroke="#3b6e8e" stroke-width="11" stroke-linejoin="round"/>
<path d="M120.9 869.6C122.5 863.2 134.6 815.5 137 805.9C139.4 796.4 143.5 781.8 145.1 773.7C146.7 765.6 155.5 732.6 153.1 725.3C150.7 718.1 120.1 705.2 120.9 701.2C121.7 697.1 157.2 690.7 161.2 685.1C165.2 679.4 162 652.8 161.2 644.8C160.4 636.7 152.3 612.5 153.1 604.5C153.9 596.4 166.8 573.8 169.2 564.2C171.7 554.5 172.5 515.8 177.3 507.7C182.1 499.7 209.5 488.4 217.6 483.6C225.7 478.7 249 461 257.9 459.4C266.8 457.8 298.2 469.1 306.3 467.4C314.3 465.8 335.3 448.1 338.5 443.3C341.7 438.4 340.1 428.8 338.5 419.1C336.9 409.4 320.8 352.2 322.4 346.6C324 340.9 347.4 356.2 354.6 362.7C361.9 369.1 388.5 408.6 394.9 411C401.4 413.4 415.1 397.3 419.1 386.9C423.1 376.4 432 314.3 435.2 306.3C438.4 298.2 446.5 303 451.3 306.3C456.2 309.5 475.5 332 483.6 338.5C491.6 344.9 523.9 369.9 531.9 370.7C540 371.5 556.1 353.8 564.2 346.6C572.2 339.3 605.3 299 612.5 298.2C619.8 297.4 631.9 334.5 636.7 338.5C641.5 342.5 652.8 344.9 660.9 338.5C668.9 332 706.8 277.2 717.3 274C727.8 270.8 756.8 305.5 765.6 306.3C774.5 307.1 798.7 285.3 805.9 282.1C813.2 278.9 835 279.7 838.2 274C841.4 268.4 835 231.3 838.2 225.7C841.4 220 865.6 221.6 870.4 217.6C875.3 213.6 880.9 191 886.5 185.4C892.2 179.7 918.8 165.2 926.8 161.2C934.9 157.2 958.3 150.7 967.1 145.1C976 139.4 1007.4 112.8 1015.5 104.8C1023.5 96.7 1038.1 72.5 1047.7 64.5C1057.4 56.4 1097.7 29.4 1112.2 24.2C1126.7 18.9 1184.7 13.3 1192.8 12.1" fill="none" stroke="#3b6e8e" stroke-width="11" stroke-linejoin="round"/>
<path d="M24.2 56.4C26.6 53.2 45.1 54 48.4 56.4C51.6 58.8 57.2 75.8 56.4 80.6C55.6 85.4 43.5 104 40.3 104.8C37.1 105.6 25.8 93.5 24.2 88.7C22.6 83.8 21.8 59.6 24.2 56.4Z" fill="none" stroke="#3b6e8e" stroke-width="11" stroke-linejoin="round"/>
<path d="M1700.5 8.1C1702.2 12.1 1713.4 41.9 1716.7 48.4C1719.9 54.8 1731.2 70.1 1732.8 72.5" fill="none" stroke="#3b6e8e" stroke-width="11" stroke-linejoin="round"/>
<path d="M298.2 869.6C300.6 864.9 315.9 827.6 322.4 822.1C328.8 816.5 354.6 810.8 362.7 814C370.7 817.2 397.3 848.7 403 854.3C408.6 859.9 417.5 868.1 419.1 869.6" fill="none" stroke="#3b8e86" stroke-width="11" stroke-linejoin="round"/>
<path d="M443.3 869.6C447.3 867.3 475.5 849.4 483.6 846.2C491.6 843.1 516.6 843 523.9 838.2C531.1 833.3 552.9 805.9 556.1 797.9C559.3 789.8 550.5 762.4 556.1 757.6C561.7 752.8 603.7 758.4 612.5 749.5C621.4 740.7 637.5 684.2 644.8 668.9C652 653.6 677 607.7 685.1 596.4C693.1 585.1 717.3 556.1 725.3 556.1C733.4 556.1 759.2 594 765.6 596.4C772.1 598.8 785.8 586.7 789.8 580.3C793.9 573.8 800.3 540 805.9 531.9C811.6 523.9 838.2 500.5 846.2 499.7C854.3 498.9 877.7 525.5 886.5 523.9C895.4 522.3 924.4 490.8 934.9 483.6C945.4 476.3 980 457.8 991.3 451.3C1002.6 444.9 1035.6 429.6 1047.7 419.1C1059.8 408.6 1104.9 348.2 1112.2 346.6C1119.5 344.9 1118.6 390.9 1120.3 403C1121.9 415.1 1125.1 457.8 1128.3 467.4C1131.5 477.1 1146.1 501.3 1152.5 499.7C1158.9 498.1 1185.5 462.6 1192.8 451.3C1200 440 1218.6 395.7 1225 386.9C1231.5 378 1251.6 363.5 1257.3 362.7C1262.9 361.9 1279.8 373.2 1281.4 378.8C1283.1 384.4 1276.6 411 1273.4 419.1C1270.2 427.1 1250.8 450.5 1249.2 459.4C1247.6 468.3 1251.6 504.5 1257.3 507.7C1262.9 511 1296 497.3 1305.6 491.6C1315.3 486 1345.9 456.2 1354 451.3C1362 446.5 1376.5 442.5 1386.2 443.3C1395.9 444.1 1436.2 457 1450.7 459.4C1465.2 461.8 1520.8 463.4 1531.3 467.4C1541.8 471.5 1545 494.8 1555.5 499.7C1565.9 504.5 1626.4 509.4 1636.1 515.8C1645.7 522.3 1642.5 557.7 1652.2 564.2C1661.9 570.6 1724.7 578.7 1732.8 580.3" fill="none" stroke="#3b8e86" stroke-width="11" stroke-linejoin="round"/>
<path d="M846.2 668.9C852.7 663.3 894.6 625.4 910.7 612.5C926.8 599.6 997.8 547.2 1007.4 540" fill="none" stroke="#3b8e86" stroke-width="11" stroke-linejoin="round"/>
<path d="M846.2 668.9C854.3 664.1 906.7 631.9 926.8 620.6C947 609.3 1035.6 562.5 1047.7 556.1" fill="none" stroke="#3b8e86" stroke-width="11" stroke-linejoin="round"/>
<path d="M910.7 869.6C911.5 864.9 913.1 832.5 918.8 822.1C924.4 811.7 954.2 777.7 967.1 765.6C980 753.6 1034.8 707.6 1047.7 701.2C1060.6 694.7 1097.7 697.1 1096.1 701.2C1094.5 705.2 1039.7 735 1031.6 741.5C1023.5 747.9 1013.1 762.4 1015.5 765.6C1017.9 768.9 1044.5 772.9 1055.8 773.7C1067.1 774.5 1121.1 771.3 1128.3 773.7C1135.6 776.1 1134 793.9 1128.3 797.9C1122.7 801.9 1080.8 810 1071.9 814C1063 818 1038.1 835.8 1039.7 838.2C1041.3 840.6 1071.1 837.4 1088 838.2C1104.9 839 1192.8 843.1 1208.9 846.2C1225 849.4 1245.2 867.3 1249.2 869.6" fill="none" stroke="#5cb86a" stroke-width="11" stroke-linejoin="round"/>
<path d="M120.9 866.6C116.9 871.4 111.2 906.1 112.8 915C114.4 923.8 132.2 951.2 137 955.3C141.8 959.3 158.8 960.9 161.2 955.3C163.6 949.6 162 907.7 161.2 898.8C160.4 890 157.2 869.8 153.1 866.6C149.1 863.4 124.9 861.8 120.9 866.6Z" fill="none" stroke="#3b6e8e" stroke-width="11" stroke-linejoin="round"/>
<path d="M298.2 866.6C299 871.4 304.6 904.5 306.3 915C307.9 925.4 315.9 960.1 314.3 971.4C312.7 982.7 291.8 1018.1 290.1 1027.8C288.5 1037.5 293.4 1062.4 298.2 1068.1C303 1073.7 329.6 1081 338.5 1084.2C347.4 1087.4 378.8 1096.3 386.9 1100.3C394.9 1104.4 412.6 1118.9 419.1 1124.5C425.5 1130.1 444.9 1151.9 451.3 1156.7C457.8 1161.6 473.9 1169.6 483.6 1172.9C493.2 1176.1 540.8 1184.9 548 1189C555.3 1193 558.5 1209.9 556.1 1213.2C553.7 1216.4 526.3 1218.8 523.9 1221.2C521.4 1223.6 527.9 1234.9 531.9 1237.3C536 1239.8 557.7 1243 564.2 1245.4C570.6 1247.8 590.8 1256.7 596.4 1261.5C602 1266.3 611.7 1288.9 620.6 1293.7C629.4 1298.6 672.2 1307.5 685.1 1309.9C697.9 1312.3 746.3 1313.1 749.5 1317.9C752.8 1322.8 722.9 1351.8 717.3 1358.2C711.6 1364.7 689.9 1380.8 693.1 1382.4C696.3 1384 738.2 1373.5 749.5 1374.3C760.8 1375.1 795.5 1388.9 805.9 1390.5C816.4 1392.1 848.7 1387.2 854.3 1390.5C859.9 1393.7 864 1417.9 862.4 1422.7C860.7 1427.5 835.8 1434.8 838.2 1438.8C840.6 1442.8 877.7 1459 886.5 1463C895.4 1467 918.8 1479.1 926.8 1479.1C934.9 1479.1 955 1467 967.1 1463C979.2 1459 1031.6 1443.7 1047.7 1438.8C1063.8 1434 1112.2 1420.3 1128.3 1414.6C1144.4 1409 1196 1389.7 1208.9 1382.4C1221.8 1375.1 1252.4 1346.1 1257.3 1342.1" fill="none" stroke="#3b8e86" stroke-width="11" stroke-linejoin="round"/>
<path d="M1426.5 1301.8C1431.4 1299.4 1466.8 1286.5 1474.9 1277.6C1482.9 1268.8 1501.5 1223.6 1507.1 1213.2C1512.8 1202.7 1524 1177.7 1531.3 1172.9C1538.5 1168 1568.4 1164.8 1579.6 1164.8C1590.9 1164.8 1637.7 1178.5 1644.1 1172.9C1650.6 1167.2 1639.3 1119.7 1644.1 1108.4C1649 1097.1 1683.6 1066.5 1692.5 1060C1701.3 1053.6 1728.7 1045.5 1732.8 1043.9" fill="none" stroke="#3b8e86" stroke-width="11" stroke-linejoin="round"/>
<path d="M515.8 1237.3C517.4 1242.2 527.1 1276 531.9 1285.7C536.8 1295.4 559.3 1326 564.2 1334C569 1342.1 583.5 1362.3 580.3 1366.3C577.1 1370.3 544.8 1375.1 531.9 1374.3C519 1373.5 465.8 1362.3 451.3 1358.2C436.8 1354.2 396.5 1339.7 386.9 1334C377.2 1328.4 357.8 1307.5 354.6 1301.8C351.4 1296.2 354.6 1280 354.6 1277.6" fill="none" stroke="#3b8e86" stroke-width="11" stroke-linejoin="round"/>
<path d="M185.4 1164.8C187 1159.2 207.9 1147.9 217.6 1148.7C227.3 1149.5 269.2 1168 282.1 1172.9C295 1177.7 339.3 1191.4 346.6 1197C353.8 1202.7 357 1224.4 354.6 1229.3C352.2 1234.1 332 1244.6 322.4 1245.4C312.7 1246.2 270 1241.4 257.9 1237.3C245.8 1233.3 208.7 1212.3 201.5 1205.1C194.2 1197.8 183.8 1170.4 185.4 1164.8Z" fill="none" stroke="#3b8e86" stroke-width="11" stroke-linejoin="round"/>
<path d="M386.9 890.8C388.5 889.2 397.3 877.1 403 874.7C408.6 872.2 439.2 867.4 443.3 866.6" fill="none" stroke="#3b8e86" stroke-width="11" stroke-linejoin="round"/>
<path d="M644.8 866.6C643.9 874.7 636.7 933.5 636.7 947.2C636.7 960.9 643.1 1003.6 644.8 1003.6C646.4 1003.6 652.4 960.9 652.8 947.2C653.2 933.5 649.2 874.7 648.8 866.6" fill="none" stroke="#3b8e86" stroke-width="11" stroke-linejoin="round"/>
<path d="M918.8 866.6C918 874.7 911.5 933.5 910.7 947.2C909.9 960.9 905.1 993.9 910.7 1003.6C916.4 1013.3 955.8 1034.2 967.1 1043.9C978.4 1053.6 1014.7 1091.5 1023.5 1100.3C1032.4 1109.2 1046.9 1130.9 1055.8 1132.6C1064.6 1134.2 1101.7 1118.9 1112.2 1116.4C1122.7 1114 1150.9 1114 1160.6 1108.4C1170.2 1102.7 1206.5 1057.6 1208.9 1060C1211.3 1062.4 1186.3 1122.9 1184.7 1132.6C1183.1 1142.2 1185.5 1153.5 1192.8 1156.7C1200 1160 1246.8 1167.2 1257.3 1164.8C1267.7 1162.4 1289.5 1140.6 1297.6 1132.6C1305.6 1124.5 1330.6 1087.4 1337.9 1084.2C1345.1 1081 1363.7 1098.7 1370.1 1100.3C1376.5 1101.9 1400.7 1107.6 1402.3 1100.3C1404 1093.1 1389.4 1037.5 1386.2 1027.8C1383 1018.1 1371.7 1006 1370.1 1003.6" fill="none" stroke="#5cb86a" stroke-width="11" stroke-linejoin="round"/>
<path d="M975.2 971.4C976 961.7 991.3 930.3 999.4 923C1007.4 915.8 1044.5 898.8 1055.8 898.8C1067.1 898.8 1104.1 915.8 1112.2 923C1120.3 930.3 1137.2 960.9 1136.4 971.4C1135.6 981.8 1113 1020.5 1104.1 1027.8C1095.3 1035 1059 1044.7 1047.7 1043.9C1036.4 1043.1 998.6 1027 991.3 1019.7C984.1 1012.5 974.4 981 975.2 971.4Z" fill="none" stroke="#5cc25c" stroke-width="11" stroke-linejoin="round"/>
<path d="M1007.4 971.4C1008.2 964.9 1017.9 943.2 1023.5 939.1C1029.2 935.1 1055.8 929.5 1063.8 931.1C1071.9 932.7 1100.9 948.8 1104.1 955.3C1107.4 961.7 1100.9 989.1 1096.1 995.6C1091.2 1002 1063.8 1018.9 1055.8 1019.7C1047.7 1020.5 1020.3 1008.4 1015.5 1003.6C1010.7 998.8 1006.6 977.8 1007.4 971.4Z" fill="none" stroke="#9fd83c" stroke-width="11" stroke-linejoin="round"/>
<path d="M741.5 1454.9C743.9 1454.5 763.2 1451.3 765.6 1450.9" fill="none" stroke="#3b8e86" stroke-width="11" stroke-linejoin="round"/>
<path d="M693.1 1454.9C694.3 1452.9 712.5 1452.9 713.3 1454.9C714.1 1457 703.2 1475.1 701.2 1475.1C699.2 1475.1 691.9 1457 693.1 1454.9Z" fill="none" stroke="#3b8e86" stroke-width="11" stroke-linejoin="round"/>
<path d="M991.3 1736.2C997 1733.1 1037.2 1709.5 1047.7 1704.8C1058.2 1700 1092.9 1687 1096.1 1688.7C1099.3 1690.3 1081.6 1717.7 1080 1720.9" fill="none" stroke="#3b6e8e" stroke-width="11" stroke-linejoin="round"/>
<path d="M1128.3 1736.2C1132.3 1734.7 1156.5 1722.4 1168.6 1720.9C1180.7 1719.4 1235.5 1721.7 1249.2 1720.9C1262.9 1720.1 1293.5 1717.7 1305.6 1712.8C1317.7 1708 1360.4 1679.8 1370.1 1672.5C1379.8 1665.3 1402.3 1641.1 1402.3 1640.3C1402.3 1639.5 1378.2 1659.6 1370.1 1664.5C1362 1669.3 1326.6 1686.2 1321.7 1688.7" fill="none" stroke="#3b6e8e" stroke-width="11" stroke-linejoin="round"/>
<path d="M1402.3 1616.1C1404.8 1612.9 1448.3 1591.1 1450.7 1591.9C1453.1 1592.8 1431.4 1621.8 1426.5 1624.2C1421.7 1626.6 1399.9 1619.4 1402.3 1616.1Z" fill="none" stroke="#3b6e8e" stroke-width="11" stroke-linejoin="round"/>
<path d="M1515.2 1736.2C1521.6 1732.3 1570 1699.1 1579.6 1696.7C1589.3 1694.4 1608.7 1711.2 1611.9 1712.8" fill="none" stroke="#3b6e8e" stroke-width="11" stroke-linejoin="round"/>
<path d="M1636.1 1736.2C1641.7 1729 1682.8 1675.7 1692.5 1664.5C1702.2 1653.3 1728.7 1628.2 1732.8 1624.2" fill="none" stroke="#3b6e8e" stroke-width="11" stroke-linejoin="round"/>
<text transform="translate(1072 476) rotate(8) scale(1.12 1)" y="36" font-family="Liberation Sans" font-size="102" text-anchor="middle" fill="#0d0d0d">248</text>
<text transform="translate(1314 933) rotate(65) scale(1.12 1)" y="36" font-family="Liberation Sans" font-size="102" text-anchor="middle" fill="#0d0d0d">250</text>
<text transform="translate(443 1253) rotate(0) scale(1.12 1)" y="36" font-family="Liberation Sans" font-size="102" text-anchor="middle" fill="#0d0d0d">248</text>
<text transform="translate(1338 1334) rotate(-25) scale(1.12 1)" y="36" font-family="Liberation Sans" font-size="102" text-anchor="middle" fill="#0d0d0d">248</text>
</g></g>
<rect x="947.5" y="70.5" width="612" height="613" fill="none" stroke="#0d0d0d" stroke-width="4.4"/>
<path d="M947.5 683.5H936M947.5 632.4H924.5M947.5 581.3H936M947.5 530.2H936M947.5 479.2H936M947.5 428.1H936M947.5 377H924.5M947.5 325.9H936M947.5 274.8H936M947.5 223.8H936M947.5 172.7H936M947.5 121.6H924.5M947.5 70.5H936M947.5 683.5V695M998.5 683.5V695M1049.5 683.5V695M1100.5 683.5V695M1151.5 683.5V706.5M1202.5 683.5V695M1253.5 683.5V695M1304.5 683.5V695M1355.5 683.5V695M1406.5 683.5V706.5M1457.5 683.5V695M1508.5 683.5V695M1559.5 683.5V695" stroke="#0d0d0d" stroke-width="4.5" fill="none"/>
<text x="922.2" y="653.4" font-family="Liberation Serif" font-size="56" text-anchor="end" fill="#231f20">15°N</text>
<text x="922.2" y="398" font-family="Liberation Serif" font-size="56" text-anchor="end" fill="#231f20">20°N</text>
<text x="922.2" y="142.6" font-family="Liberation Serif" font-size="56" text-anchor="end" fill="#231f20">25°N</text>
<text x="1151.5" y="751.8" font-family="Liberation Serif" font-size="56" text-anchor="middle" fill="#231f20">110°E</text>
<text x="1406.5" y="751.8" font-family="Liberation Serif" font-size="56" text-anchor="middle" fill="#231f20">115°E</text>
<text x="1253.5" y="46.8" font-family="Liberation Serif" font-size="56" text-anchor="middle" fill="#231f20">(b) Exp.118 300 hPa</text>
<g transform="translate(1722.5 70.5) scale(0.353111)">
<g clip-path="url(#cp)">
<rect x="-10" y="-10" width="1760" height="1760" fill="#e4e1f3"/>
<path d="M430 30C496.7 -3.3 534.7 -1.7 600 0C665.3 1.7 788.7 6.7 822 40C855.3 73.3 808.7 131.7 800 200C791.3 268.3 776.7 383.3 770 450C763.3 516.7 755 541.7 760 600C765 658.3 776.7 741.7 800 800C823.3 858.3 858.3 910 900 950C941.7 990 1000 1026.7 1050 1040C1100 1053.3 1141.7 1028.3 1200 1030C1258.3 1031.7 1350 1038.3 1400 1050C1450 1061.7 1470 1066.7 1500 1100C1530 1133.3 1566.7 1208.3 1580 1250C1593.3 1291.7 1618.3 1308.3 1580 1350C1541.7 1391.7 1421.7 1455 1350 1500C1278.3 1545 1208.3 1570 1150 1620C1091.7 1670 1121.7 1770 1000 1800C878.3 1830 536.7 1825 420 1800C303.3 1775 335 1711.7 300 1650C265 1588.3 226.7 1480 210 1430C193.3 1380 185 1375 200 1350C215 1325 250 1301.3 300 1280C350 1258.7 456.7 1252 500 1222C543.3 1192 556.7 1140.3 560 1100C563.3 1059.7 535 1018.3 520 980C505 941.7 511.7 890 470 870C428.3 850 323.3 896.7 270 860C216.7 823.3 173.3 738.3 150 650C126.7 561.7 121.7 405 130 330C138.3 255 150 250 200 200C250 150 363.3 63.3 430 30Z" fill="#fde0e5"/>
<path d="M-50 540C-21.7 419.2 71.7 533.3 120 560C168.3 586.7 201.7 651.7 240 700C278.3 748.3 318.3 808.3 350 850C381.7 891.7 413.3 911.7 430 950C446.7 988.3 463.3 1038.3 450 1080C436.7 1121.7 391.7 1171.7 350 1200C308.3 1228.3 266.7 1235.8 200 1250C133.3 1264.2 -8.3 1403.3 -50 1285C-91.7 1166.7 -78.3 660.8 -50 540Z" fill="#b6b3de"/>
<path d="M-50 600C-25 503.3 50 595 100 620C150 645 211.7 703.3 250 750C288.3 796.7 311.7 858.3 330 900C348.3 941.7 365 966.7 360 1000C355 1033.3 335 1071.7 300 1100C265 1128.3 208.3 1153.3 150 1170C91.7 1186.7 -16.7 1295 -50 1200C-83.3 1105 -75 696.7 -50 600Z" fill="#6468bc"/>
<path d="M-50 760C-31.7 720 28.3 748.3 60 760C91.7 771.7 125 803.3 140 830C155 856.7 156.7 894.2 150 920C143.3 945.8 133.3 971.7 100 985C66.7 998.3 -25 1037.5 -50 1000C-75 962.5 -68.3 800 -50 760Z" fill="#4a5aaf"/>
<path d="M260 500C275 455 313.3 406.3 350 380C386.7 353.7 438.3 338.7 480 342C521.7 345.3 566.7 357 600 400C633.3 443 653.3 533.3 680 600C706.7 666.7 741.7 741.7 760 800C778.3 858.3 793.3 913 790 950C786.7 987 761.7 1008.7 740 1022C718.3 1035.3 690 1050.3 660 1030C630 1009.7 591.7 938.3 560 900C528.3 861.7 513.3 825 470 800C426.7 775 335 775 300 750C265 725 266.7 691.7 260 650C253.3 608.3 245 545 260 500Z" fill="#f6a9b6"/>
<path d="M300 640C310 613.3 338.3 578 360 560C381.7 542 403.3 532 430 532C456.7 532 495 538.7 520 560C545 581.3 571.7 630 580 660C588.3 690 586.7 723 570 740C553.3 757 515 757 480 762C445 767 390 777 360 770C330 763 310 741.7 300 720C290 698.3 290 666.7 300 640Z" fill="#f05a75"/>
<path d="M850 520C855 471.7 866.7 378.3 900 330C933.3 281.7 1006.7 254.2 1050 230C1093.3 205.8 1115 188.3 1160 185C1205 181.7 1280 190.8 1320 210C1360 229.2 1373.3 285 1400 300C1426.7 315 1453.3 313.3 1480 300C1506.7 286.7 1531.7 246.7 1560 220C1588.3 193.3 1610 168.3 1650 140C1690 111.7 1775 -226.7 1800 50C1825 326.7 1900 1508.3 1800 1800C1700 2091.7 1275 1841.7 1200 1800C1125 1758.3 1290 1613.3 1350 1550C1410 1486.7 1516.7 1461.7 1560 1420C1603.3 1378.3 1610 1345 1610 1300C1610 1255 1586.7 1200 1560 1150C1533.3 1100 1493.3 1036.7 1450 1000C1406.7 963.3 1350 946.7 1300 930C1250 913.3 1191.7 921.7 1150 900C1108.3 878.3 1083.3 833.3 1050 800C1016.7 766.7 980 730 950 700C920 670 886.7 650 870 620C853.3 590 845 568.3 850 520Z" fill="#b6b3de"/>
<path d="M1420 560C1413.3 513.3 1426.7 400 1440 360C1453.3 320 1473.3 325 1500 320C1526.7 315 1566.7 313.3 1600 330C1633.3 346.7 1666.7 391.7 1700 420C1733.3 448.3 1783.3 456.7 1800 500C1816.7 543.3 1830 652.5 1800 680C1770 707.5 1673.3 671.7 1620 665C1566.7 658.3 1513.3 657.5 1480 640C1446.7 622.5 1426.7 606.7 1420 560Z" fill="#e4e1f3"/>
<path d="M1540 570C1543.3 552.5 1576.7 526.7 1600 520C1623.3 513.3 1660 520 1680 530C1700 540 1723.3 563.3 1720 580C1716.7 596.7 1683.3 622.5 1660 630C1636.7 637.5 1600 635 1580 625C1560 615 1536.7 587.5 1540 570Z" fill="#fde0e5"/>
<path d="M920 560C920 516.7 946.7 436.7 980 400C1013.3 363.3 1073.3 343.3 1120 340C1166.7 336.7 1227.5 353.3 1260 380C1292.5 406.7 1308.3 455 1315 500C1321.7 545 1310.8 613.3 1300 650C1289.2 686.7 1283.3 706.7 1250 720C1216.7 733.3 1145 740 1100 730C1055 720 1010 688.3 980 660C950 631.7 920 603.3 920 560Z" fill="#6468bc"/>
<path d="M1680 350C1698.3 285 1780 168.3 1800 230C1820 291.7 1818.3 655 1800 720C1781.7 785 1710 681.7 1690 620C1670 558.3 1661.7 415 1680 350Z" fill="#6468bc"/>
<path d="M1360 820C1365 797 1366.7 778.3 1400 762C1433.3 745.7 1493.3 732.3 1560 722C1626.7 711.7 1760 520.3 1800 700C1840 879.7 1891.7 1616.7 1800 1800C1708.3 1983.3 1308.3 1841.7 1250 1800C1191.7 1758.3 1391.7 1616.7 1450 1550C1508.3 1483.3 1570.8 1450 1600 1400C1629.2 1350 1635 1300 1625 1250C1615 1200 1570.8 1141.7 1540 1100C1509.2 1058.3 1468.3 1033.3 1440 1000C1411.7 966.7 1383.3 930 1370 900C1356.7 870 1355 843 1360 820Z" fill="#6468bc"/>
<path d="M1580 1000C1588.3 970 1613.3 920 1650 900C1686.7 880 1775 730 1800 880C1825 1030 1880 1646.7 1800 1800C1720 1953.3 1373.3 1841.7 1320 1800C1266.7 1758.3 1426.7 1620 1480 1550C1533.3 1480 1611.7 1438.3 1640 1380C1668.3 1321.7 1656.7 1250 1650 1200C1643.3 1150 1611.7 1113.3 1600 1080C1588.3 1046.7 1571.7 1030 1580 1000Z" fill="#4a5aaf"/>
<path d="M1180 1250C1185 1220 1213.3 1170 1250 1150C1286.7 1130 1358.3 1125 1400 1130C1441.7 1135 1478.3 1151.7 1500 1180C1521.7 1208.3 1536.7 1270 1530 1300C1523.3 1330 1493.3 1348 1460 1360C1426.7 1372 1370 1377 1330 1372C1290 1367 1245 1350.3 1220 1330C1195 1309.7 1175 1280 1180 1250Z" fill="#f6a9b6"/>
<path d="M1350 1250C1356.7 1238.8 1381.7 1218.3 1400 1215C1418.3 1211.7 1448 1220.8 1460 1230C1472 1239.2 1478.7 1258.3 1472 1270C1465.3 1281.7 1438.7 1298 1420 1300C1401.3 1302 1371.7 1290.3 1360 1282C1348.3 1273.7 1343.3 1261.2 1350 1250Z" fill="#f05a75"/>
<path d="M1790 180C1781 187.5 1759.3 203.3 1736 225C1712.7 246.7 1679.3 285.8 1650 310C1620.7 334.2 1585 350 1560 370C1535 390 1526.7 415.8 1500 430C1473.3 444.2 1433.3 448.3 1400 455C1366.7 461.7 1333.3 460 1300 470C1266.7 480 1233.3 502.5 1200 515C1166.7 527.5 1133.3 532.5 1100 545C1066.7 557.5 1038.3 580 1000 590C961.7 600 906.7 596.7 870 605C833.3 613.3 808.3 630 780 640C751.7 650 725 655 700 665C675 675 646.7 702.5 630 700C613.3 697.5 618.3 665.8 600 650C581.7 634.2 553.3 613.3 520 605C486.7 596.7 431.7 596.7 400 600C368.3 603.3 355 614.2 330 625C305 635.8 271.7 651.7 250 665C228.3 678.3 221.7 693.3 200 705C178.3 716.7 138.3 723.3 120 735C101.7 746.7 103.3 762.5 90 775C76.7 787.5 61.7 795.8 40 810C18.3 824.2 -26.7 851.7 -40 860" fill="none" stroke="#aca9b0" stroke-opacity="0.62" stroke-width="13" stroke-linejoin="round" stroke-linecap="round"/>
<path d="M-40 1120C-26.7 1128.3 11.7 1143.3 40 1170C68.3 1196.7 100 1246.7 130 1280C160 1313.3 190 1341.7 220 1370C250 1398.3 283.3 1420 310 1450C336.7 1480 360 1516.7 380 1550C400 1583.3 416.7 1610 430 1650C443.3 1690 455 1766.7 460 1790" fill="none" stroke="#aca9b0" stroke-opacity="0.62" stroke-width="13" stroke-linejoin="round" stroke-linecap="round"/>
<path d="M450 885C468.3 881.2 526.7 867.5 560 862C593.3 856.5 623.3 845.7 650 852C676.7 858.3 710.8 875.3 720 900C729.2 924.7 718.3 975 705 1000C691.7 1025 664.2 1033.3 640 1050C615.8 1066.7 583.3 1088 560 1100C536.7 1112 523.3 1122 500 1122C476.7 1122 439.7 1112 420 1100C400.3 1088 388.7 1073.3 382 1050C375.3 1026.7 368.7 987.5 380 960C391.3 932.5 438.3 897.5 450 885" fill="none" stroke="#aca9b0" stroke-opacity="0.62" stroke-width="13" stroke-linejoin="round" stroke-linecap="round"/>
<path d="M8.1 540C11.3 538.4 33 523.1 40.3 523.9C47.6 524.7 72.5 543.2 80.6 548C88.7 552.9 112.8 569.8 120.9 572.2C129 574.6 153.1 576.2 161.2 572.2C169.2 568.2 194.2 540.8 201.5 531.9C208.7 523.1 226.5 490 233.7 483.6C241 477.1 266 472.3 274 467.4C282.1 462.6 309.5 443.3 314.3 435.2C319.2 427.1 324.8 396.5 322.4 386.9C320 377.2 296.6 347.4 290.1 338.5C283.7 329.6 260.3 306.3 257.9 298.2C255.5 290.1 261.9 262.7 266 257.9C270 253.1 290.9 245.8 298.2 249.8C305.5 253.9 329.6 290.1 338.5 298.2C347.4 306.3 379.6 328 386.9 330.4C394.1 332.9 406.2 327.2 411 322.4C415.9 317.5 430.4 286.1 435.2 282.1C440 278.1 452.9 278.1 459.4 282.1C465.8 286.1 493.2 315.1 499.7 322.4C506.1 329.6 518.2 349 523.9 354.6C529.5 360.3 550.5 377.2 556.1 378.8C561.7 380.4 573 366.7 580.3 370.7C587.5 374.8 619.8 410.2 628.6 419.1C637.5 428 660.9 454.6 668.9 459.4C677 464.2 703.6 465.8 709.2 467.4C714.9 469.1 722.1 480.3 725.3 475.5C728.6 470.7 738.2 429.6 741.5 419.1C744.7 408.6 752.8 375.6 757.6 370.7C762.4 365.9 787.4 367.5 789.8 370.7C792.2 374 780.2 400.6 781.8 403C783.4 405.4 801.9 399.7 805.9 394.9C810 390.1 816.4 360.3 822.1 354.6C827.7 349 856.7 343.3 862.4 338.5C868 333.7 874.4 314.3 878.5 306.3C882.5 298.2 897.8 264.3 902.7 257.9C907.5 251.5 922 246.6 926.8 241.8C931.7 236.9 943.8 216 951 209.5C958.3 203.1 989.7 182.1 999.4 177.3C1009 172.5 1038.9 166 1047.7 161.2C1056.6 156.4 1080 134.6 1088 129C1096.1 123.3 1117 108 1128.3 104.8C1139.6 101.5 1187.2 100.7 1200.9 96.7C1214.6 92.7 1253.2 71.7 1265.3 64.5C1277.4 57.2 1314.5 29.8 1321.7 24.2C1329 18.5 1336.3 9.7 1337.9 8.1" fill="none" stroke="#3b6e8e" stroke-width="11" stroke-linejoin="round"/>
<path d="M515.8 354.6C517.4 350.6 535.1 331.2 540 330.4C544.8 329.6 562.5 341.7 564.2 346.6C565.8 351.4 560.1 376.4 556.1 378.8C552.1 381.2 527.9 373.2 523.9 370.7C519.8 368.3 514.2 358.6 515.8 354.6Z" fill="none" stroke="#3b6e8e" stroke-width="11" stroke-linejoin="round"/>
<path d="M572.2 233.7C573 228.1 599.6 221.6 604.5 225.7C609.3 229.7 621.4 268.4 620.6 274C619.8 279.7 601.2 286.1 596.4 282.1C591.6 278.1 571.4 239.4 572.2 233.7Z" fill="none" stroke="#3b6e8e" stroke-width="11" stroke-linejoin="round"/>
<path d="M612.5 96.7C613.1 95.9 621.8 99.5 622.2 100.7C622.6 102 617.5 109.2 616.5 108.8C615.6 108.4 612 97.5 612.5 96.7Z" fill="none" stroke="#3b6e8e" stroke-width="11" stroke-linejoin="round"/>
<path d="M1595.8 8.1C1595.8 12.1 1594.2 41.1 1595.8 48.4C1597.4 55.6 1607 75.8 1611.9 80.6C1616.7 85.4 1638.5 91.1 1644.1 96.7C1649.8 102.4 1661.9 133 1668.3 137C1674.7 141 1702.2 138.6 1708.6 137C1715 135.4 1730.4 122.5 1732.8 120.9" fill="none" stroke="#3b6e8e" stroke-width="11" stroke-linejoin="round"/>
<path d="M233.7 869.6C232.9 863.2 223.2 814.7 225.7 805.9C228.1 797.2 249.8 785 257.9 781.8C266 778.5 296.6 775.3 306.3 773.7C315.9 772.1 346.6 768.1 354.6 765.6C362.7 763.2 382 755.2 386.9 749.5C391.7 743.9 399.7 712.5 403 709.2C406.2 706 417.5 712.5 419.1 717.3C420.7 722.1 416.7 751.9 419.1 757.6C421.5 763.2 441.7 768.9 443.3 773.7C444.9 778.5 434.4 799.5 435.2 805.9C436 812.4 446.5 831.8 451.3 838.2C456.2 844.5 480.3 866.5 483.6 869.6" fill="none" stroke="#3b8e86" stroke-width="11" stroke-linejoin="round"/>
<path d="M556.1 869.6C558.5 861.6 573 801.8 580.3 789.8C587.5 777.8 622.2 757.6 628.6 749.5C635.1 741.5 639.9 719.7 644.8 709.2C649.6 698.8 668.9 653.6 677 644.8C685.1 635.9 714.9 625.4 725.3 620.6C735.8 615.7 772.9 603.7 781.8 596.4C790.6 589.1 805.1 553.7 814 548C822.9 542.4 859.1 544.8 870.4 540C881.7 535.1 913.1 505.3 926.8 499.7C940.5 494 991.3 484.4 1007.4 483.6C1023.5 482.8 1071.9 490.8 1088 491.6C1104.1 492.4 1152.5 490 1168.6 491.6C1184.7 493.2 1233.1 506.9 1249.2 507.7C1265.3 508.5 1309.7 499.7 1329.8 499.7C1350 499.7 1430.5 504.5 1450.7 507.7C1470.8 511 1515.2 527.1 1531.3 531.9C1547.4 536.8 1597.4 546.4 1611.9 556.1C1626.4 565.8 1664.3 616.5 1676.4 628.6C1688.4 640.7 1727.1 672.2 1732.8 677" fill="none" stroke="#3b8e86" stroke-width="11" stroke-linejoin="round"/>
<path d="M951 869.6C951.8 863.2 954.2 814.7 959.1 805.9C963.9 797.2 990.5 785 999.4 781.8C1008.2 778.5 1038.9 774.5 1047.7 773.7C1056.6 772.9 1084 773.7 1088 773.7" fill="none" stroke="#5cb86a" stroke-width="11" stroke-linejoin="round"/>
<path d="M1096.1 822.1C1098.5 824.5 1115.4 841.5 1120.3 846.2C1125.1 851 1142 867.3 1144.4 869.6" fill="none" stroke="#5cb86a" stroke-width="11" stroke-linejoin="round"/>
<path d="M1595.8 869.6C1595 861.6 1586.1 802.6 1587.7 789.8C1589.3 777 1606.2 747.9 1611.9 741.5C1617.5 735 1636.1 727 1644.1 725.3C1652.2 723.7 1683.6 723.7 1692.5 725.3C1701.3 727 1728.7 739.9 1732.8 741.5" fill="none" stroke="#3b8e86" stroke-width="11" stroke-linejoin="round"/>
<path d="M1644.1 781.8C1646.5 778.5 1672.3 772.1 1676.4 773.7C1680.4 775.3 1686.8 794.7 1684.4 797.9C1682 801.1 1656.2 807.6 1652.2 805.9C1648.2 804.3 1641.7 785 1644.1 781.8Z" fill="none" stroke="#3b8e86" stroke-width="11" stroke-linejoin="round"/>
<path d="M286.1 793.9C286.7 791 297.4 784.6 299.8 785.8C302.2 787 310.9 803.1 310.3 805.9C309.7 808.8 296.6 815.2 294.2 814C291.8 812.8 285.5 796.7 286.1 793.9Z" fill="none" stroke="#5cc25c" stroke-width="11" stroke-linejoin="round"/>
<path d="M241.8 866.6C244.2 869.8 259.5 894 266 898.8C272.4 903.7 304.6 910.1 306.3 915C307.9 919.8 284.5 941.6 282.1 947.2C279.7 952.8 278.1 965.7 282.1 971.4C286.1 977 314.3 999.6 322.4 1003.6C330.4 1007.6 355.4 1010.9 362.7 1011.7C369.9 1012.5 387.7 1010.1 394.9 1011.7C402.2 1013.3 428.8 1024.6 435.2 1027.8C441.7 1031 453.7 1039.1 459.4 1043.9C465 1048.7 490.8 1070.5 491.6 1076.1C492.4 1081.8 471.5 1095.5 467.4 1100.3C463.4 1105.2 456.2 1121.3 451.3 1124.5C446.5 1127.7 425.5 1132.6 419.1 1132.6C412.6 1132.6 394.1 1124.5 386.9 1124.5C379.6 1124.5 350.6 1130.1 346.6 1132.6C342.5 1135 343.3 1144.7 346.6 1148.7C349.8 1152.7 370.7 1167.2 378.8 1172.9C386.9 1178.5 419.9 1197 427.1 1205.1C434.4 1213.2 446.5 1245.4 451.3 1253.5C456.2 1261.5 469.1 1281.7 475.5 1285.7C482 1289.7 500.5 1293.7 515.8 1293.7C531.1 1293.7 618.2 1290.5 628.6 1285.7C639.1 1280.9 623.8 1251 620.6 1245.4C617.4 1239.8 587.5 1230.9 596.4 1229.3C605.3 1227.7 692.3 1227.7 709.2 1229.3C726.2 1230.9 754.4 1243 765.6 1245.4C776.9 1247.8 813.2 1250.2 822.1 1253.5C830.9 1256.7 845.4 1271.2 854.3 1277.6C863.2 1284.1 899.4 1312.3 910.7 1317.9C922 1323.6 957.5 1331.6 967.1 1334C976.8 1336.5 1005.8 1338.9 1007.4 1342.1C1009 1345.3 981.6 1363.9 983.2 1366.3C984.9 1368.7 1009 1370.3 1023.5 1366.3C1038.1 1362.3 1107.4 1332.4 1128.3 1326C1149.3 1319.5 1217 1308.3 1233.1 1301.8C1249.2 1295.4 1279.8 1265.5 1289.5 1261.5C1299.2 1257.5 1321.7 1259.9 1329.8 1261.5C1337.9 1263.1 1364.5 1278.4 1370.1 1277.6C1375.7 1276.8 1382.2 1251.8 1386.2 1253.5C1390.3 1255.1 1405.6 1298.6 1410.4 1293.7C1415.2 1288.9 1429.7 1219.6 1434.6 1205.1C1439.4 1190.6 1453.1 1159.2 1458.8 1148.7C1464.4 1138.2 1485.4 1109.2 1491 1100.3C1496.6 1091.5 1514.4 1067.3 1515.2 1060C1516 1052.8 1503.1 1031.8 1499.1 1027.8C1495 1023.8 1477.3 1020.5 1474.9 1019.7" fill="none" stroke="#3b8e86" stroke-width="11" stroke-linejoin="round"/>
<path d="M515.8 866.6C517.4 868.2 527.9 882.7 531.9 882.7C536 882.7 553.7 868.2 556.1 866.6" fill="none" stroke="#3b8e86" stroke-width="11" stroke-linejoin="round"/>
<path d="M959.1 866.6C957.5 873 945.4 919 943 931.1C940.5 943.2 933.3 976.2 934.9 987.5C936.5 998.8 951.8 1035 959.1 1043.9C966.3 1052.8 994.5 1072.1 1007.4 1076.1C1020.3 1080.2 1071.9 1085.8 1088 1084.2C1104.1 1082.6 1155.7 1067.3 1168.6 1060C1181.5 1052.8 1211.3 1021.3 1217 1011.7C1222.6 1002 1226.6 973 1225 963.3C1223.4 953.6 1206.5 923.8 1200.9 915C1195.2 906.1 1171.8 878.7 1168.6 874.7" fill="none" stroke="#5cb86a" stroke-width="11" stroke-linejoin="round"/>
<path d="M983.2 955.3C984.1 948 992.9 921.4 999.4 915C1005.8 908.5 1037.2 890.8 1047.7 890.8C1058.2 890.8 1096.9 908.5 1104.1 915C1111.4 921.4 1121.9 947.2 1120.3 955.3C1118.6 963.3 1096.1 989.9 1088 995.6C1080 1001.2 1049.3 1012.5 1039.7 1011.7C1030 1010.9 997 993.1 991.3 987.5C985.7 981.8 982.4 962.5 983.2 955.3Z" fill="none" stroke="#5cc25c" stroke-width="11" stroke-linejoin="round"/>
<path d="M1007.4 947.2C1009.8 941.6 1025.2 919 1031.6 915C1038.1 910.9 1065.5 904.5 1071.9 906.9C1078.4 909.3 1095.3 931.9 1096.1 939.1C1096.9 946.4 1086.4 974.6 1080 979.4C1073.5 984.3 1038.9 988.3 1031.6 987.5C1024.4 986.7 1009.8 975.4 1007.4 971.4C1005 967.3 1005 952.8 1007.4 947.2Z" fill="none" stroke="#9fd83c" stroke-width="11" stroke-linejoin="round"/>
<path d="M475.5 1205.1C480.3 1201.9 507.7 1189 515.8 1189C523.9 1189 552.1 1200.3 556.1 1205.1C560.1 1209.9 561.7 1234.1 556.1 1237.3C550.5 1240.6 508.5 1238.9 499.7 1237.3C490.8 1235.7 469.9 1224.4 467.4 1221.2C465 1218 470.7 1208.3 475.5 1205.1Z" fill="none" stroke="#3b8e86" stroke-width="11" stroke-linejoin="round"/>
<path d="M531.9 1180.9C532.7 1179.3 561.7 1179.3 564.2 1180.9C566.6 1182.5 559.3 1197 556.1 1197C552.9 1197 531.1 1182.5 531.9 1180.9Z" fill="none" stroke="#3b8e86" stroke-width="11" stroke-linejoin="round"/>
<path d="M177.3 1229.3C178.9 1226.9 198.3 1226.9 201.5 1229.3C204.7 1231.7 211.2 1251 209.5 1253.5C207.9 1255.9 188.6 1255.9 185.4 1253.5C182.1 1251 175.7 1231.7 177.3 1229.3Z" fill="none" stroke="#3b8e86" stroke-width="11" stroke-linejoin="round"/>
<path d="M991.3 1084.2C992.1 1083 1010.2 1083 1011.5 1084.2C1012.7 1085.4 1005.4 1096.3 1003.4 1096.3C1001.4 1096.3 990.5 1085.4 991.3 1084.2Z" fill="none" stroke="#3b8e86" stroke-width="11" stroke-linejoin="round"/>
<path d="M8.1 1616.1C15.3 1612.9 65.3 1587.1 80.6 1583.9C95.9 1580.7 146.7 1581.5 161.2 1583.9C175.7 1586.3 216 1602.4 225.7 1608.1C235.3 1613.7 249.8 1636.3 257.9 1640.3C266 1644.3 296.6 1645.9 306.3 1648.4C315.9 1650.8 347.4 1658.8 354.6 1664.5C361.9 1670.1 376.4 1697.6 378.8 1704.8C381.2 1712 378.8 1733.1 378.8 1736.2" fill="none" stroke="#3b6e8e" stroke-width="11" stroke-linejoin="round"/>
<path d="M8.1 1672.5C10.5 1674.2 25 1688.7 32.2 1688.7C39.5 1688.7 71.7 1672.5 80.6 1672.5C89.5 1672.5 112.8 1684.6 120.9 1688.7C129 1692.7 155.5 1708.1 161.2 1712.8C166.8 1717.6 175.7 1733.9 177.3 1736.2" fill="none" stroke="#3b6e8e" stroke-width="11" stroke-linejoin="round"/>
<path d="M80.6 1624.2C82.2 1621.8 101.5 1622.6 104.8 1624.2C108 1625.8 114.4 1637.9 112.8 1640.3C111.2 1642.7 91.9 1650 88.7 1648.4C85.4 1646.8 79 1626.6 80.6 1624.2Z" fill="none" stroke="#3b6e8e" stroke-width="11" stroke-linejoin="round"/>
<path d="M266 1575.8C269.2 1572.6 289.3 1566.2 298.2 1567.8C307.1 1569.4 347.4 1586.3 354.6 1591.9C361.9 1597.6 374 1621 370.7 1624.2C367.5 1627.4 332.9 1626.6 322.4 1624.2C311.9 1621.8 271.6 1604.8 266 1600C260.3 1595.2 262.7 1579.1 266 1575.8Z" fill="none" stroke="#3b6e8e" stroke-width="11" stroke-linejoin="round"/>
<path d="M120.9 1527.5C122.5 1524.2 134.6 1517.8 137 1519.4C139.4 1521 146.7 1540.4 145.1 1543.6C143.5 1546.8 123.3 1553.3 120.9 1551.7C118.5 1550 119.3 1530.7 120.9 1527.5Z" fill="none" stroke="#3b6e8e" stroke-width="11" stroke-linejoin="round"/>
<path d="M411 1736.2C412.6 1732.3 418.3 1702.3 427.1 1696.7C436 1691.2 490.8 1684.6 499.7 1680.6C508.5 1676.6 509.4 1658 515.8 1656.4C522.3 1654.8 552.9 1663.7 564.2 1664.5C575.4 1665.3 621.4 1657.3 628.6 1664.5C635.9 1671.7 635.9 1729 636.7 1736.2" fill="none" stroke="#3b6e8e" stroke-width="11" stroke-linejoin="round"/>
<path d="M943 1736.2C945.4 1731.5 956.7 1696.6 967.1 1688.7C977.6 1680.7 1031.6 1661.3 1047.7 1656.4C1063.8 1651.6 1112.2 1643.5 1128.3 1640.3C1144.4 1637.1 1196.8 1624.2 1208.9 1624.2C1221 1624.2 1244.4 1635.5 1249.2 1640.3C1254 1645.1 1262.9 1666.9 1257.3 1672.5C1251.6 1678.2 1204.1 1691.9 1192.8 1696.7C1181.5 1701.6 1150.9 1716.9 1144.4 1720.9C1138 1724.8 1129.9 1734.7 1128.3 1736.2" fill="none" stroke="#3b6e8e" stroke-width="11" stroke-linejoin="round"/>
<path d="M1466.8 866.6C1469.2 873 1486.2 921.4 1491 931.1C1495.8 940.7 1507.1 958.5 1515.2 963.3C1523.2 968.1 1561.9 974.6 1571.6 979.4C1581.3 984.3 1603 1002 1611.9 1011.7C1620.8 1021.3 1648.2 1064.9 1660.2 1076.1C1672.3 1087.4 1725.5 1119.7 1732.8 1124.5" fill="none" stroke="#3b8e86" stroke-width="11" stroke-linejoin="round"/>
<path d="M1732.8 923C1728.7 927 1696.5 952.8 1692.5 963.3C1688.4 973.8 1688.4 1018.1 1692.5 1027.8C1696.5 1037.5 1728.7 1056.8 1732.8 1060" fill="none" stroke="#3b8e86" stroke-width="11" stroke-linejoin="round"/>
<path d="M1289.5 1736.2C1305.6 1729.8 1422.5 1682.9 1450.7 1672.5C1478.9 1662.1 1551.4 1641.9 1571.6 1632.2C1591.7 1622.6 1636.1 1587.9 1652.2 1575.8C1668.3 1563.7 1724.7 1517.8 1732.8 1511.4" fill="none" stroke="#3b8e86" stroke-width="11" stroke-linejoin="round"/>
<text transform="translate(1185 800) rotate(78) scale(1.12 1)" y="36" font-family="Liberation Sans" font-size="102" text-anchor="middle" fill="#0d0d0d">250</text>
<text transform="translate(1459 947) rotate(88) scale(1.12 1)" y="36" font-family="Liberation Sans" font-size="102" text-anchor="middle" fill="#0d0d0d">248</text>
</g></g>
<rect x="1722.5" y="70.5" width="612" height="613" fill="none" stroke="#0d0d0d" stroke-width="4.4"/>
<path d="M1722.5 683.5H1711M1722.5 632.4H1699.5M1722.5 581.3H1711M1722.5 530.2H1711M1722.5 479.2H1711M1722.5 428.1H1711M1722.5 377H1699.5M1722.5 325.9H1711M1722.5 274.8H1711M1722.5 223.8H1711M1722.5 172.7H1711M1722.5 121.6H1699.5M1722.5 70.5H1711M1722.5 683.5V695M1773.5 683.5V695M1824.5 683.5V695M1875.5 683.5V695M1926.5 683.5V706.5M1977.5 683.5V695M2028.5 683.5V695M2079.5 683.5V695M2130.5 683.5V695M2181.5 683.5V706.5M2232.5 683.5V695M2283.5 683.5V695M2334.5 683.5V695" stroke="#0d0d0d" stroke-width="4.5" fill="none"/>
<text x="1697.2" y="653.4" font-family="Liberation Serif" font-size="56" text-anchor="end" fill="#231f20">15°N</text>
<text x="1697.2" y="398" font-family="Liberation Serif" font-size="56" text-anchor="end" fill="#231f20">20°N</text>
<text x="1697.2" y="142.6" font-family="Liberation Serif" font-size="56" text-anchor="end" fill="#231f20">25°N</text>
<text x="1926.5" y="751.8" font-family="Liberation Serif" font-size="56" text-anchor="middle" fill="#231f20">110°E</text>
<text x="2181.5" y="751.8" font-family="Liberation Serif" font-size="56" text-anchor="middle" fill="#231f20">115°E</text>
<text x="2028.5" y="46.8" font-family="Liberation Serif" font-size="56" text-anchor="middle" fill="#231f20">(c) Exp.183 300 hPa</text>
<g transform="translate(2499.5 70.5) scale(0.353111)">
<g clip-path="url(#cp)">
<rect x="-10" y="-10" width="1760" height="1760" fill="#e4e1f3"/>
<path d="M500 20C596.7 -6.7 733.3 10 780 40C826.7 70 783.3 123.3 780 200C776.7 276.7 756.7 416.7 760 500C763.3 583.3 776.7 641.7 800 700C823.3 758.3 866.7 808.3 900 850C933.3 891.7 950 915 1000 950C1050 985 1133.3 1038.3 1200 1060C1266.7 1081.7 1341.7 1076.7 1400 1080C1458.3 1083.3 1515 1060 1550 1080C1585 1100 1593.3 1158.3 1610 1200C1626.7 1241.7 1638.3 1293.3 1650 1330C1661.7 1366.7 1696.7 1391.7 1680 1420C1663.3 1448.3 1613.3 1486.7 1550 1500C1486.7 1513.3 1350 1483.3 1300 1500C1250 1516.7 1258.3 1550 1250 1600C1241.7 1650 1381.7 1766.7 1250 1800C1118.3 1833.3 598.3 1833.3 460 1800C321.7 1766.7 436.7 1666.7 420 1600C403.3 1533.3 366.7 1450 360 1400C353.3 1350 370 1358.3 380 1300C390 1241.7 416.7 1116.7 420 1050C423.3 983.3 415 966.7 400 900C385 833.3 358.3 708.3 330 650C301.7 591.7 265 583.3 230 550C195 516.7 141.7 478.3 120 450C98.3 421.7 86.7 421.7 100 380C113.3 338.3 133.3 260 200 200C266.7 140 403.3 46.7 500 20Z" fill="#fde0e5"/>
<path d="M1430 500C1430 460 1465 406.7 1500 380C1535 353.3 1590 351.7 1640 340C1690 328.3 1773.3 230 1800 310C1826.7 390 1826.7 751.7 1800 820C1773.3 888.3 1690 753.3 1640 720C1590 686.7 1535 656.7 1500 620C1465 583.3 1430 540 1430 500Z" fill="#fde0e5"/>
<path d="M1490 560C1498.3 531.7 1523.3 475 1550 450C1576.7 425 1608.3 420 1650 410C1691.7 400 1775 328.3 1800 390C1825 451.7 1833.3 731.7 1800 780C1766.7 828.3 1650 706.7 1600 680C1550 653.3 1518.3 640 1500 620C1481.7 600 1481.7 588.3 1490 560Z" fill="#f6a9b6"/>
<path d="M1550 560C1556.7 538.3 1558.3 507.5 1600 490C1641.7 472.5 1766.7 415 1800 455C1833.3 495 1830 695.8 1800 730C1770 764.2 1660 678.3 1620 660C1580 641.7 1571.7 636.7 1560 620C1548.3 603.3 1543.3 581.7 1550 560Z" fill="#f05a75"/>
<path d="M-50 580C-25 461.7 50 576.7 100 600C150 623.3 210 670 250 720C290 770 323.3 845 340 900C356.7 955 356.7 1008.3 350 1050C343.3 1091.7 333.3 1113.3 300 1150C266.7 1186.7 208.3 1243.3 150 1270C91.7 1296.7 -16.7 1425 -50 1310C-83.3 1195 -75 698.3 -50 580Z" fill="#b6b3de"/>
<path d="M-50 650C-21.7 558.3 71.7 655 120 680C168.3 705 211.7 755 240 800C268.3 845 285 900 290 950C295 1000 288.3 1061.7 270 1100C251.7 1138.3 233.3 1158.3 180 1180C126.7 1201.7 -11.7 1318.3 -50 1230C-88.3 1141.7 -78.3 741.7 -50 650Z" fill="#6468bc"/>
<path d="M-50 800C-25 753.3 63.3 783.3 100 800C136.7 816.7 158.3 866.7 170 900C181.7 933.3 180 971.7 170 1000C160 1028.3 146.7 1056.7 110 1070C73.3 1083.3 -23.3 1125 -50 1080C-76.7 1035 -75 846.7 -50 800Z" fill="#4a5aaf"/>
<path d="M310 500C323.3 466.7 365 418.3 400 400C435 381.7 483.3 376.7 520 390C556.7 403.3 586.7 428.3 620 480C653.3 531.7 690 633.3 720 700C750 766.7 783.3 830 800 880C816.7 930 823.3 966.7 820 1000C816.7 1033.3 806.7 1061.7 780 1080C753.3 1098.3 696.7 1115 660 1110C623.3 1105 591.7 1085 560 1050C528.3 1015 500 958.3 470 900C440 841.7 405 750 380 700C355 650 331.7 633.3 320 600C308.3 566.7 296.7 533.3 310 500Z" fill="#f6a9b6"/>
<path d="M530 720C536.7 693.3 561.7 680 580 680C598.3 680 621.7 691.7 640 720C658.3 748.3 681.7 816.7 690 850C698.3 883.3 698.3 902.5 690 920C681.7 937.5 658.3 953.3 640 955C621.7 956.7 596.7 949.2 580 930C563.3 910.8 548.3 875 540 840C531.7 805 523.3 746.7 530 720Z" fill="#f05a75"/>
<path d="M870 560C865 500 888.3 383.3 920 330C951.7 276.7 1008.3 259.2 1060 240C1111.7 220.8 1185 206.7 1230 215C1275 223.3 1311.7 239.2 1330 290C1348.3 340.8 1333.3 451.7 1340 520C1346.7 588.3 1346.7 658.3 1370 700C1393.3 741.7 1441.7 753.3 1480 770C1518.3 786.7 1563.3 781.7 1600 800C1636.7 818.3 1666.7 860 1700 880C1733.3 900 1783.3 850 1800 920C1816.7 990 1816.7 1245 1800 1300C1783.3 1355 1725 1283.3 1700 1250C1675 1216.7 1670 1135 1650 1100C1630 1065 1621.7 1063.3 1580 1040C1538.3 1016.7 1446.7 1006.7 1400 960C1353.3 913.3 1350 800 1300 760C1250 720 1158.3 731.7 1100 720C1041.7 708.3 988.3 716.7 950 690C911.7 663.3 875 620 870 560Z" fill="#b6b3de"/>
<path d="M970 460C980 433.3 1000 413.3 1030 400C1060 386.7 1116.7 375 1150 380C1183.3 385 1215 401.7 1230 430C1245 458.3 1245 513.3 1240 550C1235 586.7 1223.3 626.7 1200 650C1176.7 673.3 1133.3 690 1100 690C1066.7 690 1021.7 671.7 1000 650C978.3 628.3 975 591.7 970 560C965 528.3 960 486.7 970 460Z" fill="#6468bc"/>
<path d="M1520 860C1523.3 848.3 1539.2 826.7 1550 825C1560.8 823.3 1581.7 838.3 1585 850C1588.3 861.7 1579.2 887.5 1570 895C1560.8 902.5 1538.3 900.8 1530 895C1521.7 889.2 1516.7 871.7 1520 860Z" fill="#6468bc"/>
<path d="M1670 1080C1688.3 1038.3 1778.3 955 1800 1000C1821.7 1045 1818.3 1308.3 1800 1350C1781.7 1391.7 1711.7 1295 1690 1250C1668.3 1205 1651.7 1121.7 1670 1080Z" fill="#6468bc"/>
<path d="M1300 1800C1241.7 1766.7 1396.7 1650 1450 1600C1503.3 1550 1561.7 1525 1620 1500C1678.3 1475 1770 1400 1800 1450C1830 1500 1883.3 1741.7 1800 1800C1716.7 1858.3 1358.3 1833.3 1300 1800Z" fill="#b6b3de"/>
<path d="M1400 1800C1358.3 1775 1483.3 1691.7 1550 1650C1616.7 1608.3 1758.3 1525 1800 1550C1841.7 1575 1866.7 1758.3 1800 1800C1733.3 1841.7 1441.7 1825 1400 1800Z" fill="#6468bc"/>
<path d="M1170 1300C1175 1270 1191.7 1220.8 1230 1200C1268.3 1179.2 1346.7 1170 1400 1175C1453.3 1180 1508.3 1205.8 1550 1230C1591.7 1254.2 1630 1291.7 1650 1320C1670 1348.3 1678.3 1376.7 1670 1400C1661.7 1423.3 1636.7 1446.7 1600 1460C1563.3 1473.3 1500 1483.3 1450 1480C1400 1476.7 1341.7 1456.7 1300 1440C1258.3 1423.3 1221.7 1403.3 1200 1380C1178.3 1356.7 1165 1330 1170 1300Z" fill="#f6a9b6"/>
<path d="M1320 1300C1331.7 1283.7 1361.7 1267 1400 1262C1438.3 1257 1510 1258.7 1550 1270C1590 1281.3 1625 1308.3 1640 1330C1655 1351.7 1655 1385 1640 1400C1625 1415 1590 1418.3 1550 1420C1510 1421.7 1436.7 1420 1400 1410C1363.3 1400 1343.3 1378.3 1330 1360C1316.7 1341.7 1308.3 1316.3 1320 1300Z" fill="#f05a75"/>
<path d="M1790 180C1781 187.5 1759.3 203.3 1736 225C1712.7 246.7 1679.3 285.8 1650 310C1620.7 334.2 1585 350 1560 370C1535 390 1526.7 415.8 1500 430C1473.3 444.2 1433.3 448.3 1400 455C1366.7 461.7 1333.3 460 1300 470C1266.7 480 1233.3 502.5 1200 515C1166.7 527.5 1133.3 532.5 1100 545C1066.7 557.5 1038.3 580 1000 590C961.7 600 906.7 596.7 870 605C833.3 613.3 808.3 630 780 640C751.7 650 725 655 700 665C675 675 646.7 702.5 630 700C613.3 697.5 618.3 665.8 600 650C581.7 634.2 553.3 613.3 520 605C486.7 596.7 431.7 596.7 400 600C368.3 603.3 355 614.2 330 625C305 635.8 271.7 651.7 250 665C228.3 678.3 221.7 693.3 200 705C178.3 716.7 138.3 723.3 120 735C101.7 746.7 103.3 762.5 90 775C76.7 787.5 61.7 795.8 40 810C18.3 824.2 -26.7 851.7 -40 860" fill="none" stroke="#aca9b0" stroke-opacity="0.62" stroke-width="13" stroke-linejoin="round" stroke-linecap="round"/>
<path d="M-40 1120C-26.7 1128.3 11.7 1143.3 40 1170C68.3 1196.7 100 1246.7 130 1280C160 1313.3 190 1341.7 220 1370C250 1398.3 283.3 1420 310 1450C336.7 1480 360 1516.7 380 1550C400 1583.3 416.7 1610 430 1650C443.3 1690 455 1766.7 460 1790" fill="none" stroke="#aca9b0" stroke-opacity="0.62" stroke-width="13" stroke-linejoin="round" stroke-linecap="round"/>
<path d="M450 885C468.3 881.2 526.7 867.5 560 862C593.3 856.5 623.3 845.7 650 852C676.7 858.3 710.8 875.3 720 900C729.2 924.7 718.3 975 705 1000C691.7 1025 664.2 1033.3 640 1050C615.8 1066.7 583.3 1088 560 1100C536.7 1112 523.3 1122 500 1122C476.7 1122 439.7 1112 420 1100C400.3 1088 388.7 1073.3 382 1050C375.3 1026.7 368.7 987.5 380 960C391.3 932.5 438.3 897.5 450 885" fill="none" stroke="#aca9b0" stroke-opacity="0.62" stroke-width="13" stroke-linejoin="round" stroke-linecap="round"/>
<path d="M8.1 564.2C12.1 562.5 39.5 548.8 48.4 548C57.2 547.2 88.7 552.9 96.7 556.1C104.8 559.3 120.1 576.2 129 580.3C137.8 584.3 176.5 594 185.4 596.4C194.2 598.8 215.2 606.1 217.6 604.5C220 602.8 212 584.3 209.5 580.3C207.1 576.2 191 569 193.4 564.2C195.8 559.3 225.7 536 233.7 531.9C241.8 527.9 268.4 527.1 274 523.9C279.7 520.6 286.9 504.5 290.1 499.7C293.4 494.8 301.4 481.1 306.3 475.5C311.1 469.9 331.2 448.9 338.5 443.3C345.7 437.6 369.1 424.7 378.8 419.1C388.5 413.4 428.8 393.3 435.2 386.9C441.7 380.4 438.4 358.6 443.3 354.6C448.1 350.6 473.1 347.4 483.6 346.6C494 345.7 538.4 348.2 548 346.6C557.7 344.9 575.4 334.5 580.3 330.4C585.1 326.4 594 305.5 596.4 306.3C598.8 307.1 605.3 331.2 604.5 338.5C603.7 345.7 588.3 371.5 588.3 378.8C588.3 386 598.8 407.8 604.5 411C610.1 414.3 636.7 410.2 644.8 411C652.8 411.8 675.4 422.3 685.1 419.1C694.7 415.9 735.8 382.8 741.5 378.8" fill="none" stroke="#3b6e8e" stroke-width="11" stroke-linejoin="round"/>
<path d="M886.5 274C890.6 273.2 918.8 270 926.8 266C934.9 261.9 959.9 241 967.1 233.7C974.4 226.5 991.3 197.5 999.4 193.4C1007.4 189.4 1038.1 196.6 1047.7 193.4C1057.4 190.2 1086.4 167.6 1096.1 161.2C1105.8 154.7 1137.2 130.6 1144.4 129C1151.7 127.3 1162.2 145.9 1168.6 145.1C1175.1 144.3 1196.8 124.9 1208.9 120.9C1221 116.9 1275 109.6 1289.5 104.8C1304 99.9 1342.7 78.2 1354 72.5C1365.3 66.9 1393.5 47.6 1402.3 48.4C1411.2 49.2 1439.4 82.2 1442.6 80.6C1445.9 79 1434.6 39.5 1434.6 32.2C1434.6 25 1441.8 10.5 1442.6 8.1" fill="none" stroke="#3b6e8e" stroke-width="11" stroke-linejoin="round"/>
<path d="M266 266C270 262.7 292.6 256.3 298.2 257.9C303.8 259.5 318.3 275.6 322.4 282.1C326.4 288.5 332.9 313.5 338.5 322.4C344.1 331.2 376.4 363.5 378.8 370.7C381.2 378 368.3 394.9 362.7 394.9C357 394.9 330.4 378 322.4 370.7C314.3 363.5 288.5 330.4 282.1 322.4C275.6 314.3 259.5 295.8 257.9 290.1C256.3 284.5 261.9 269.2 266 266Z" fill="none" stroke="#3b6e8e" stroke-width="11" stroke-linejoin="round"/>
<path d="M1619.9 8.1C1618.3 12.1 1607.9 40.3 1603.8 48.4C1599.8 56.4 1578.8 81.4 1579.6 88.7C1580.5 95.9 1604.6 114.4 1611.9 120.9C1619.1 127.3 1644.1 149.1 1652.2 153.1C1660.2 157.2 1686 162.8 1692.5 161.2C1698.9 159.6 1712.6 141.8 1716.7 137C1720.7 132.2 1731.2 115.2 1732.8 112.8" fill="none" stroke="#3b6e8e" stroke-width="11" stroke-linejoin="round"/>
<path d="M161.2 644.8C162.8 645.6 174.9 650.4 177.3 652.8C179.7 655.2 184.6 667.3 185.4 668.9" fill="none" stroke="#3b6e8e" stroke-width="11" stroke-linejoin="round"/>
<path d="M177.3 725.3C181.3 723.7 205.5 722.9 209.5 725.3C213.6 727.8 220 746.3 217.6 749.5C215.2 752.8 190.2 758.4 185.4 757.6C180.5 756.8 170.1 744.7 169.2 741.5C168.4 738.2 173.3 727 177.3 725.3Z" fill="none" stroke="#3b6e8e" stroke-width="11" stroke-linejoin="round"/>
<path d="M314.3 869.6C315.1 865.7 323.2 838.1 322.4 830.1C321.6 822.1 304.6 793 306.3 789.8C307.9 786.6 331.2 793.9 338.5 797.9C345.7 801.9 370.7 824.5 378.8 830.1C386.9 835.8 411.8 856.7 419.1 854.3C426.3 851.9 444.9 815.6 451.3 805.9C457.8 796.3 477.1 760.8 483.6 757.6C490 754.4 511 768.9 515.8 773.7C520.6 778.5 527.9 801.9 531.9 805.9C536 810 549.7 815.6 556.1 814C562.5 812.4 588.3 797.1 596.4 789.8C604.5 782.6 629.4 750.3 636.7 741.5C643.9 732.6 664.1 710.8 668.9 701.2C673.8 691.5 681.8 656.8 685.1 644.8C688.3 632.7 697.1 589.9 701.2 580.3C705.2 570.6 720.5 547.2 725.3 548C730.2 548.8 745.5 580.3 749.5 588.3C753.6 596.4 760 629.4 765.6 628.6C771.3 627.8 798.7 589.9 805.9 580.3C813.2 570.6 831.7 535.1 838.2 531.9C844.6 528.7 864.8 545.6 870.4 548C876.1 550.5 886.5 559.3 894.6 556.1C902.7 552.9 939.7 522.3 951 515.8C962.3 509.4 993.7 494 1007.4 491.6C1021.1 489.2 1071.9 493.2 1088 491.6C1104.1 490 1153.3 479.5 1168.6 475.5C1183.9 471.5 1233.1 449.7 1241.2 451.3C1249.2 452.9 1250.8 486 1249.2 491.6C1247.6 497.3 1232.3 501.3 1225 507.7C1217.8 514.2 1178.3 552.1 1176.7 556.1C1175.1 560.1 1200.9 549.7 1208.9 548C1217 546.4 1249.2 540 1257.3 540C1265.3 540 1279.8 543.2 1289.5 548C1299.2 552.9 1341.1 583.5 1354 588.3C1366.9 593.2 1407.2 596.4 1418.5 596.4C1429.7 596.4 1463.6 592.4 1466.8 588.3C1470 584.3 1449.9 562.5 1450.7 556.1C1451.5 549.7 1471.7 528.7 1474.9 523.9C1478.1 519 1495 507.7 1482.9 507.7C1470.8 507.7 1366.1 518.2 1354 523.9C1341.9 529.5 1357.2 556.9 1362 564.2C1366.9 571.4 1396.7 590.8 1402.3 596.4C1408 602 1412.8 620.6 1418.5 620.6C1424.1 620.6 1454.7 598.8 1458.8 596.4" fill="none" stroke="#3b8e86" stroke-width="11" stroke-linejoin="round"/>
<path d="M1482.9 523.9C1485.4 529.5 1499.9 569.8 1507.1 580.3C1514.4 590.8 1545 622.2 1555.5 628.6C1565.9 635.1 1602.2 643.9 1611.9 644.8C1621.6 645.6 1643.3 638.3 1652.2 636.7C1661 635.1 1698.1 627 1700.5 628.6C1703 630.2 1677.2 646.4 1676.4 652.8C1675.6 659.3 1686.8 685.9 1692.5 693.1C1698.1 700.4 1728.7 722.1 1732.8 725.3" fill="none" stroke="#3b8e86" stroke-width="11" stroke-linejoin="round"/>
<path d="M386.9 773.7C387.7 768.9 419.9 734.2 427.1 733.4C434.4 732.6 460.2 760.8 459.4 765.6C458.6 770.5 426.3 781 419.1 781.8C411.8 782.6 386 778.5 386.9 773.7Z" fill="none" stroke="#3b8e86" stroke-width="11" stroke-linejoin="round"/>
<path d="M870.4 869.6C873.6 864.9 893 830.8 902.7 822.1C912.3 813.3 955.8 788.2 967.1 781.8C978.4 775.3 1010.7 760 1015.5 757.6" fill="none" stroke="#5cb86a" stroke-width="11" stroke-linejoin="round"/>
<path d="M1434.6 830.1C1436.2 827.7 1462.8 820.4 1466.8 822.1C1470.8 823.7 1476.5 843.8 1474.9 846.2C1473.3 848.7 1454.7 847.9 1450.7 846.2C1446.7 844.6 1433 832.5 1434.6 830.1Z" fill="none" stroke="#3b8e86" stroke-width="11" stroke-linejoin="round"/>
<path d="M1523.2 869.6C1525.6 866.5 1541 844.5 1547.4 838.2C1553.9 831.8 1581.3 810.8 1587.7 805.9C1594.2 801.1 1606.2 788.2 1611.9 789.8C1617.5 791.4 1636.1 820.4 1644.1 822.1C1652.2 823.7 1683.6 809.2 1692.5 805.9C1701.3 802.7 1728.7 791.4 1732.8 789.8" fill="none" stroke="#3b8e86" stroke-width="11" stroke-linejoin="round"/>
<path d="M306.3 866.6C305.5 868.2 296.6 877.9 298.2 882.7C299.8 887.6 317.5 908.5 322.4 915C327.2 921.4 342.5 939.9 346.6 947.2C350.6 954.4 357.8 981.8 362.7 987.5C367.5 993.1 388.5 1002 394.9 1003.6C401.4 1005.2 419.9 1001.2 427.1 1003.6C434.4 1006 461.8 1023.8 467.4 1027.8C473.1 1031.8 483.6 1039.1 483.6 1043.9C483.6 1048.7 471.5 1070.5 467.4 1076.1C463.4 1081.8 444.1 1095.5 443.3 1100.3C442.5 1105.2 461.8 1119.7 459.4 1124.5C457 1129.3 422.3 1143.8 419.1 1148.7C415.9 1153.5 420.7 1168 427.1 1172.9C433.6 1177.7 473.9 1193 483.6 1197C493.2 1201.1 515.8 1209.1 523.9 1213.2C531.9 1217.2 553.7 1234.9 564.2 1237.3C574.6 1239.8 616.5 1237.3 628.6 1237.3C640.7 1237.3 677 1235.7 685.1 1237.3C693.1 1238.9 703.6 1248.6 709.2 1253.5C714.9 1258.3 735 1279.2 741.5 1285.7C747.9 1292.1 767.3 1313.9 773.7 1317.9C780.2 1322 798.7 1327.6 805.9 1326C813.2 1324.4 834.2 1304.2 846.2 1301.8C858.3 1299.4 914.7 1300.2 926.8 1301.8C938.9 1303.4 956.7 1313.9 967.1 1317.9C977.6 1322 1021.1 1341.3 1031.6 1342.1C1042.1 1342.9 1062.2 1330 1071.9 1326C1081.6 1322 1118.6 1305.8 1128.3 1301.8C1138 1297.8 1160.6 1289.7 1168.6 1285.7C1176.7 1281.7 1200.9 1265.5 1208.9 1261.5C1217 1257.5 1237.9 1247.8 1249.2 1245.4C1260.5 1243 1312.9 1234.1 1321.7 1237.3C1330.6 1240.6 1333.8 1268.8 1337.9 1277.6C1341.9 1286.5 1355.6 1324.4 1362 1326C1368.5 1327.6 1395.1 1297.8 1402.3 1293.7C1409.6 1289.7 1428.1 1288.1 1434.6 1285.7C1441 1283.3 1458.8 1272 1466.8 1269.6C1474.9 1267.2 1507.1 1267.2 1515.2 1261.5C1523.2 1255.9 1543.4 1222 1547.4 1213.2C1551.4 1204.3 1554.7 1176.9 1555.5 1172.9" fill="none" stroke="#3b8e86" stroke-width="11" stroke-linejoin="round"/>
<path d="M741.5 882.7C743.1 885.1 757.6 902.1 757.6 906.9C757.6 911.7 743.1 928.7 741.5 931.1" fill="none" stroke="#3b8e86" stroke-width="11" stroke-linejoin="round"/>
<path d="M741.5 939.1C743.9 931.9 762.4 946.4 765.6 955.3C768.9 964.1 774.5 1018.9 773.7 1027.8C772.9 1036.7 760.8 1043.9 757.6 1043.9C754.4 1043.9 743.1 1038.3 741.5 1027.8C739.9 1017.3 739 946.4 741.5 939.1Z" fill="none" stroke="#3b8e86" stroke-width="11" stroke-linejoin="round"/>
<path d="M241.8 1245.4C243.4 1242.2 266 1235.7 274 1237.3C282.1 1238.9 314.3 1255.1 322.4 1261.5C330.4 1268 354.6 1297.8 354.6 1301.8C354.6 1305.8 332 1305 322.4 1301.8C312.7 1298.6 266 1275.2 257.9 1269.6C249.8 1263.9 240.2 1248.6 241.8 1245.4Z" fill="none" stroke="#3b8e86" stroke-width="11" stroke-linejoin="round"/>
<path d="M467.4 1277.6C469.1 1273.6 493.2 1268.8 499.7 1269.6C506.1 1270.4 529.5 1281.7 531.9 1285.7C534.3 1289.7 528.7 1307.5 523.9 1309.9C519 1312.3 489.2 1313.1 483.6 1309.9C477.9 1306.6 465.8 1281.7 467.4 1277.6Z" fill="none" stroke="#3b8e86" stroke-width="11" stroke-linejoin="round"/>
<path d="M523.9 1317.9C524.7 1314.7 544 1308.3 548 1309.9C552.1 1311.5 565 1330.8 564.2 1334C563.4 1337.3 544 1343.7 540 1342.1C536 1340.5 523.1 1321.2 523.9 1317.9Z" fill="none" stroke="#3b8e86" stroke-width="11" stroke-linejoin="round"/>
<path d="M451.3 1366.3C452.9 1364.7 478.7 1358.2 483.6 1358.2C488.4 1358.2 501.3 1364.7 499.7 1366.3C498.1 1367.9 472.3 1374.3 467.4 1374.3C462.6 1374.3 449.7 1367.9 451.3 1366.3Z" fill="none" stroke="#3b8e86" stroke-width="11" stroke-linejoin="round"/>
<path d="M306.3 1406.6C307.9 1405 333.7 1397.7 338.5 1398.5C343.3 1399.3 356.2 1413 354.6 1414.6C353 1416.3 327.2 1415.4 322.4 1414.6C317.5 1413.8 304.6 1408.2 306.3 1406.6Z" fill="none" stroke="#3b8e86" stroke-width="11" stroke-linejoin="round"/>
<path d="M620.6 1487.2C623 1484 662.5 1464.6 668.9 1463C675.4 1461.4 687.5 1467.8 685.1 1471.1C682.6 1474.3 651.2 1493.6 644.8 1495.2C638.3 1496.8 618.2 1490.4 620.6 1487.2Z" fill="none" stroke="#3b8e86" stroke-width="11" stroke-linejoin="round"/>
<path d="M789.8 1350.2C793 1348.6 819.6 1361.4 822.1 1366.3C824.5 1371.1 816.4 1392.9 814 1398.5C811.6 1404.2 800.3 1424.3 797.9 1422.7C795.5 1421.1 790.6 1389.7 789.8 1382.4C789 1375.1 786.6 1351.8 789.8 1350.2Z" fill="none" stroke="#3b8e86" stroke-width="11" stroke-linejoin="round"/>
<path d="M1273.4 1269.6C1275 1268.8 1289.5 1276 1289.5 1277.6C1289.5 1279.2 1275 1286.5 1273.4 1285.7C1271.8 1284.9 1271.8 1270.4 1273.4 1269.6Z" fill="none" stroke="#3b8e86" stroke-width="11" stroke-linejoin="round"/>
<path d="M870.4 866.6C870.4 873 868.8 919.8 870.4 931.1C872 942.4 880.1 969.8 886.5 979.4C893 989.1 922.8 1018.1 934.9 1027.8C947 1037.5 996.1 1069.7 1007.4 1076.1C1018.7 1082.6 1035.6 1093.1 1047.7 1092.3C1059.8 1091.5 1113.8 1075.3 1128.3 1068.1C1142.8 1060.8 1184.7 1029.4 1192.8 1019.7C1200.9 1010.1 1208.9 981.8 1208.9 971.4C1208.9 960.9 1200.9 924.6 1192.8 915C1184.7 905.3 1138.8 879.5 1128.3 874.7C1117.8 869.8 1092.1 867.4 1088 866.6" fill="none" stroke="#5cb86a" stroke-width="11" stroke-linejoin="round"/>
<path d="M975.2 947.2C976 937.5 992.1 912.5 999.4 906.9C1006.6 901.3 1037.2 890 1047.7 890.8C1058.2 891.6 1096.9 908.5 1104.1 915C1111.4 921.4 1121.1 946.4 1120.3 955.3C1119.5 964.1 1104.1 996.4 1096.1 1003.6C1088 1010.9 1050.1 1027.8 1039.7 1027.8C1029.2 1027.8 997.8 1011.7 991.3 1003.6C984.9 995.6 974.4 956.9 975.2 947.2Z" fill="none" stroke="#5cc25c" stroke-width="11" stroke-linejoin="round"/>
<path d="M1007.4 947.2C1009 941.6 1017.9 926.2 1023.5 923C1029.2 919.8 1056.6 913.3 1063.8 915C1071.1 916.6 1093.7 932.7 1096.1 939.1C1098.5 945.6 1092.9 973 1088 979.4C1083.2 985.9 1055.8 1003.6 1047.7 1003.6C1039.7 1003.6 1011.5 985.1 1007.4 979.4C1003.4 973.8 1005.8 952.8 1007.4 947.2Z" fill="none" stroke="#9fd83c" stroke-width="11" stroke-linejoin="round"/>
<path d="M1563.5 866.6C1561.9 869 1553.1 885.1 1547.4 890.8C1541.8 896.4 1513.6 921.4 1507.1 923C1500.7 924.6 1488.6 904.5 1482.9 906.9C1477.3 909.3 1457.1 942.4 1450.7 947.2C1444.2 952 1420.1 950.4 1418.5 955.3C1416.8 960.1 1429.7 986.7 1434.6 995.6C1439.4 1004.4 1463.6 1039.1 1466.8 1043.9" fill="none" stroke="#3b8e86" stroke-width="11" stroke-linejoin="round"/>
<path d="M1499.1 987.5C1501.5 981.8 1523.2 957.7 1531.3 955.3C1539.4 952.8 1574.8 956.1 1579.6 963.3C1584.5 970.6 1581.3 1017.3 1579.6 1027.8C1578 1038.3 1567.6 1065.7 1563.5 1068.1C1559.5 1070.5 1545 1057.6 1539.4 1052C1533.7 1046.3 1511.1 1018.1 1507.1 1011.7C1503.1 1005.2 1496.6 993.1 1499.1 987.5Z" fill="none" stroke="#3b8e86" stroke-width="11" stroke-linejoin="round"/>
<path d="M1660.2 979.4C1661 975.4 1687.6 961.7 1692.5 963.3C1697.3 964.9 1709.4 991.5 1708.6 995.6C1707.8 999.6 1689.3 1005.2 1684.4 1003.6C1679.6 1002 1659.4 983.5 1660.2 979.4Z" fill="none" stroke="#3b8e86" stroke-width="11" stroke-linejoin="round"/>
<path d="M1732.8 1011.7C1729.6 1013.3 1703 1018.1 1700.5 1027.8C1698.1 1037.5 1705.4 1098.7 1708.6 1108.4C1711.8 1118.1 1730.4 1122.9 1732.8 1124.5" fill="none" stroke="#3b8e86" stroke-width="11" stroke-linejoin="round"/>
<path d="M8.1 1616.1C12.1 1613.7 37.1 1598.4 48.4 1591.9C59.6 1585.5 109.6 1553.3 120.9 1551.7C132.2 1550 149.1 1572.6 161.2 1575.8C173.3 1579.1 229.7 1581.5 241.8 1583.9C253.9 1586.3 272.4 1593.6 282.1 1600C291.8 1606.5 328.8 1639.5 338.5 1648.4C348.2 1657.2 374 1679.9 378.8 1688.7C383.6 1697.4 386 1731.5 386.9 1736.2" fill="none" stroke="#3b6e8e" stroke-width="11" stroke-linejoin="round"/>
<path d="M8.1 1696.7C15.3 1696.7 65.3 1695.9 80.6 1696.7C95.9 1697.5 151.5 1700.8 161.2 1704.8C170.9 1708.7 175.7 1733.1 177.3 1736.2" fill="none" stroke="#3b6e8e" stroke-width="11" stroke-linejoin="round"/>
<path d="M467.4 1736.2C473.1 1733.9 512.6 1712.8 523.9 1712.8C535.1 1712.8 574.6 1733.9 580.3 1736.2" fill="none" stroke="#3b6e8e" stroke-width="11" stroke-linejoin="round"/>
<path d="M999.4 1736.2C1004.2 1731.5 1036.4 1698.3 1047.7 1688.7C1059 1679.1 1100.1 1648.4 1112.2 1640.3C1124.3 1632.2 1155.7 1614.5 1168.6 1608.1C1181.5 1601.6 1230.7 1581.5 1241.2 1575.8C1251.6 1570.2 1273.4 1550 1273.4 1551.7C1273.4 1553.3 1247.6 1585.5 1241.2 1591.9C1234.7 1598.4 1207.3 1612.1 1208.9 1616.1C1210.5 1620.2 1250 1629 1257.3 1632.2C1264.5 1635.5 1282.3 1643.5 1281.4 1648.4C1280.6 1653.2 1256.5 1671.8 1249.2 1680.6C1242 1689.4 1212.9 1730.7 1208.9 1736.2" fill="none" stroke="#3b6e8e" stroke-width="11" stroke-linejoin="round"/>
<path d="M1321.7 1608.1C1325 1604 1362.8 1596.8 1370.1 1600C1377.4 1603.2 1394.3 1633.9 1394.3 1640.3C1394.3 1646.8 1374.1 1658.8 1370.1 1664.5C1366.1 1670.1 1357.2 1699.1 1354 1696.7C1350.8 1694.3 1341.1 1649.2 1337.9 1640.3C1334.6 1631.4 1318.5 1612.1 1321.7 1608.1Z" fill="none" stroke="#3b6e8e" stroke-width="11" stroke-linejoin="round"/>
<path d="M1466.8 1567.8C1473.3 1563.7 1520 1534.7 1531.3 1527.5C1542.6 1520.2 1574.8 1498.5 1579.6 1495.2" fill="none" stroke="#3b6e8e" stroke-width="11" stroke-linejoin="round"/>
<path d="M1466.8 1575.8C1473.3 1573.4 1516.8 1556.5 1531.3 1551.7C1545.8 1546.8 1603.8 1529.9 1611.9 1527.5" fill="none" stroke="#3b6e8e" stroke-width="11" stroke-linejoin="round"/>
<path d="M1611.9 1736.2C1615.9 1729.8 1644.1 1682.1 1652.2 1672.5C1660.2 1663 1684.4 1648.4 1692.5 1640.3C1700.5 1632.2 1728.7 1596.8 1732.8 1591.9" fill="none" stroke="#3b6e8e" stroke-width="11" stroke-linejoin="round"/>
<text transform="translate(798 298) rotate(-35) scale(1.12 1)" y="36" font-family="Liberation Sans" font-size="102" text-anchor="middle" fill="#0d0d0d">246</text>
<text transform="translate(1040 782) rotate(75) scale(1.12 1)" y="36" font-family="Liberation Sans" font-size="102" text-anchor="middle" fill="#0d0d0d">250</text>
<text transform="translate(1483 1092) rotate(65) scale(1.12 1)" y="36" font-family="Liberation Sans" font-size="102" text-anchor="middle" fill="#0d0d0d">248</text>
<text transform="translate(1660 1479) rotate(60) scale(1.12 1)" y="36" font-family="Liberation Sans" font-size="102" text-anchor="middle" fill="#0d0d0d">246</text>
</g></g>
<rect x="2499.5" y="70.5" width="612" height="613" fill="none" stroke="#0d0d0d" stroke-width="4.4"/>
<path d="M2499.5 683.5H2488M2499.5 632.4H2476.5M2499.5 581.3H2488M2499.5 530.2H2488M2499.5 479.2H2488M2499.5 428.1H2488M2499.5 377H2476.5M2499.5 325.9H2488M2499.5 274.8H2488M2499.5 223.8H2488M2499.5 172.7H2488M2499.5 121.6H2476.5M2499.5 70.5H2488M2499.5 683.5V695M2550.5 683.5V695M2601.5 683.5V695M2652.5 683.5V695M2703.5 683.5V706.5M2754.5 683.5V695M2805.5 683.5V695M2856.5 683.5V695M2907.5 683.5V695M2958.5 683.5V706.5M3009.5 683.5V695M3060.5 683.5V695M3111.5 683.5V695" stroke="#0d0d0d" stroke-width="4.5" fill="none"/>
<text x="2474.2" y="653.4" font-family="Liberation Serif" font-size="56" text-anchor="end" fill="#231f20">15°N</text>
<text x="2474.2" y="398" font-family="Liberation Serif" font-size="56" text-anchor="end" fill="#231f20">20°N</text>
<text x="2474.2" y="142.6" font-family="Liberation Serif" font-size="56" text-anchor="end" fill="#231f20">25°N</text>
<text x="2703.5" y="751.8" font-family="Liberation Serif" font-size="56" text-anchor="middle" fill="#231f20">110°E</text>
<text x="2958.5" y="751.8" font-family="Liberation Serif" font-size="56" text-anchor="middle" fill="#231f20">115°E</text>
<text x="2805.5" y="46.8" font-family="Liberation Serif" font-size="56" text-anchor="middle" fill="#231f20">(d) Exp.118+183 300 hPa</text>
<g transform="translate(171.6 852.4) scale(0.353111)">
<g clip-path="url(#cp)">
<rect x="-10" y="-10" width="1760" height="1760" fill="#e4e1f3"/>
<path d="M380 180C446.7 175 546.7 180 600 200C653.3 220 680 258.3 700 300C720 341.7 706.7 391.7 720 450C733.3 508.3 758.3 591.7 780 650C801.7 708.3 821.7 758.3 850 800C878.3 841.7 908.3 875 950 900C991.7 925 1041.7 941.7 1100 950C1158.3 958.3 1233.3 946.7 1300 950C1366.7 953.3 1453.3 945 1500 970C1546.7 995 1563.3 1045 1580 1100C1596.7 1155 1600 1233.3 1600 1300C1600 1366.7 1596.7 1441.7 1580 1500C1563.3 1558.3 1525 1600 1500 1650C1475 1700 1641.7 1775 1430 1800C1218.3 1825 436.7 1833.3 230 1800C23.3 1766.7 198.3 1666.7 190 1600C181.7 1533.3 165 1458.3 180 1400C195 1341.7 246.7 1300 280 1250C313.3 1200 365 1141.7 380 1100C395 1058.3 383.3 1036.7 370 1000C356.7 963.3 328.3 921.7 300 880C271.7 838.3 240 796.7 200 750C160 703.3 86.7 658.3 60 600C33.3 541.7 40 446.7 40 400C40 353.3 33.3 348.3 60 320C86.7 291.7 146.7 253.3 200 230C253.3 206.7 313.3 185 380 180Z" fill="#fde0e5"/>
<path d="M1640 280C1651.7 243.3 1673.3 221.7 1700 200C1726.7 178.3 1783.3 56.7 1800 150C1816.7 243.3 1816.7 675 1800 760C1783.3 845 1725 693.3 1700 660C1675 626.7 1661.7 600 1650 560C1638.3 520 1631.7 466.7 1630 420C1628.3 373.3 1628.3 316.7 1640 280Z" fill="#fde0e5"/>
<path d="M-50 720C-25 630 61.7 733.3 100 760C138.3 786.7 163.3 840 180 880C196.7 920 201.7 955 200 1000C198.3 1045 190 1108.3 170 1150C150 1191.7 116.7 1225 80 1250C43.3 1275 -28.3 1388.3 -50 1300C-71.7 1211.7 -75 810 -50 720Z" fill="#b6b3de"/>
<path d="M240 500C253.3 466.7 285 423.3 320 400C355 376.7 410 356.7 450 360C490 363.3 531.7 388.3 560 420C588.3 451.7 606.7 503.3 620 550C633.3 596.7 638.3 655 640 700C641.7 745 643.3 798 630 820C616.7 842 595 842 560 832C525 822 463.3 785.3 420 760C376.7 734.7 330 706.7 300 680C270 653.3 250 630 240 600C230 570 226.7 533.3 240 500Z" fill="#f6a9b6"/>
<path d="M770 -50C865 -68.3 1315 -75 1420 -50C1525 -25 1403.3 41.7 1400 100C1396.7 158.3 1395 233.3 1400 300C1405 366.7 1430 436.7 1430 500C1430 563.3 1421.7 636.7 1400 680C1378.3 723.3 1341.7 741.7 1300 760C1258.3 778.3 1200 790 1150 790C1100 790 1041.7 783.3 1000 760C958.3 736.7 923.3 693.3 900 650C876.7 606.7 865 575 860 500C855 425 871.7 273.3 870 200C868.3 126.7 866.7 101.7 850 60C833.3 18.3 675 -31.7 770 -50Z" fill="#b6b3de"/>
<path d="M970 480C983.3 451.7 1018.3 398.3 1050 380C1081.7 361.7 1123.3 361.7 1160 370C1196.7 378.3 1248.3 400 1270 430C1291.7 460 1295 515 1290 550C1285 585 1266.7 620 1240 640C1213.3 660 1170 671.7 1130 670C1090 668.3 1026.7 650 1000 630C973.3 610 975 575 970 550C965 525 956.7 508.3 970 480Z" fill="#6468bc"/>
<path d="M640 1335C643.3 1324.2 680 1304.2 700 1300C720 1295.8 753.3 1300 760 1310C766.7 1320 753.3 1350.8 740 1360C726.7 1369.2 696.7 1369.2 680 1365C663.3 1360.8 636.7 1345.8 640 1335Z" fill="#f6a9b6"/>
<path d="M1790 180C1781 187.5 1759.3 203.3 1736 225C1712.7 246.7 1679.3 285.8 1650 310C1620.7 334.2 1585 350 1560 370C1535 390 1526.7 415.8 1500 430C1473.3 444.2 1433.3 448.3 1400 455C1366.7 461.7 1333.3 460 1300 470C1266.7 480 1233.3 502.5 1200 515C1166.7 527.5 1133.3 532.5 1100 545C1066.7 557.5 1038.3 580 1000 590C961.7 600 906.7 596.7 870 605C833.3 613.3 808.3 630 780 640C751.7 650 725 655 700 665C675 675 646.7 702.5 630 700C613.3 697.5 618.3 665.8 600 650C581.7 634.2 553.3 613.3 520 605C486.7 596.7 431.7 596.7 400 600C368.3 603.3 355 614.2 330 625C305 635.8 271.7 651.7 250 665C228.3 678.3 221.7 693.3 200 705C178.3 716.7 138.3 723.3 120 735C101.7 746.7 103.3 762.5 90 775C76.7 787.5 61.7 795.8 40 810C18.3 824.2 -26.7 851.7 -40 860" fill="none" stroke="#aca9b0" stroke-opacity="0.62" stroke-width="13" stroke-linejoin="round" stroke-linecap="round"/>
<path d="M-40 1120C-26.7 1128.3 11.7 1143.3 40 1170C68.3 1196.7 100 1246.7 130 1280C160 1313.3 190 1341.7 220 1370C250 1398.3 283.3 1420 310 1450C336.7 1480 360 1516.7 380 1550C400 1583.3 416.7 1610 430 1650C443.3 1690 455 1766.7 460 1790" fill="none" stroke="#aca9b0" stroke-opacity="0.62" stroke-width="13" stroke-linejoin="round" stroke-linecap="round"/>
<path d="M450 885C468.3 881.2 526.7 867.5 560 862C593.3 856.5 623.3 845.7 650 852C676.7 858.3 710.8 875.3 720 900C729.2 924.7 718.3 975 705 1000C691.7 1025 664.2 1033.3 640 1050C615.8 1066.7 583.3 1088 560 1100C536.7 1112 523.3 1122 500 1122C476.7 1122 439.7 1112 420 1100C400.3 1088 388.7 1073.3 382 1050C375.3 1026.7 368.7 987.5 380 960C391.3 932.5 438.3 897.5 450 885" fill="none" stroke="#aca9b0" stroke-opacity="0.62" stroke-width="13" stroke-linejoin="round" stroke-linecap="round"/>
<path d="M8.1 48.4C10.5 51.6 28.2 71.7 32.2 80.6C36.3 89.5 48.4 127.3 48.4 137C48.4 146.7 33 168.4 32.2 177.3C31.4 186.2 42.7 219.2 40.3 225.7C37.9 232.1 11.3 240.2 8.1 241.8" fill="none" stroke="#3b8e86" stroke-width="11" stroke-linejoin="round"/>
<path d="M40.3 8.1C41.9 12.9 48.4 49.2 56.4 56.4C64.5 63.7 110.4 75.8 120.9 80.6C131.4 85.4 155.5 99.9 161.2 104.8C166.8 109.6 176.5 131.4 177.3 129C178.1 126.5 173.3 88.7 169.2 80.6C165.2 72.5 141.8 55.6 137 48.4C132.2 41.1 122.5 12.1 120.9 8.1" fill="none" stroke="#3b8e86" stroke-width="11" stroke-linejoin="round"/>
<path d="M64.5 266C66.9 249.8 112 192.6 120.9 185.4C129.8 178.1 144.3 185.4 153.1 193.4C162 201.5 205.5 254.7 209.5 266C213.6 277.2 195 295.8 193.4 306.3C191.8 316.7 197.5 363.5 193.4 370.7C189.4 378 162.8 381.2 153.1 378.8C143.5 376.4 105.6 357.8 96.7 346.6C87.8 335.3 62.1 282.1 64.5 266Z" fill="none" stroke="#3b8e86" stroke-width="11" stroke-linejoin="round"/>
<path d="M112.8 249.8C112.8 248.6 120.1 245 120.9 245.8C121.7 246.6 121.7 257.5 120.9 257.9C120.1 258.3 112.8 251.1 112.8 249.8Z" fill="none" stroke="#3b8e86" stroke-width="11" stroke-linejoin="round"/>
<path d="M185.4 8.1C191.8 9.7 241.8 15.3 249.8 24.2C257.9 33 265.2 83 266 96.7C266.8 110.4 260.3 148.3 257.9 161.2C255.5 174.1 241 212.8 241.8 225.7C242.6 238.6 257.9 278.9 266 290.1C274 301.4 312.7 328.8 322.4 338.5C332 348.2 349.8 381.2 362.7 386.9C375.6 392.5 442.5 389.3 451.3 394.9C460.2 400.6 448.9 438.4 451.3 443.3C453.7 448.1 468.3 452.1 475.5 443.3C482.8 434.4 515 363.5 523.9 354.6C532.7 345.7 556.9 350.6 564.2 354.6C571.4 358.6 589.9 391.7 596.4 394.9C602.8 398.1 615.7 391.7 628.6 386.9C641.5 382 714.1 354.6 725.3 346.6C736.6 338.5 737.4 310.3 741.5 306.3C745.5 302.2 760.8 302.2 765.6 306.3C770.5 310.3 781 342.5 789.8 346.6C798.7 350.6 848.7 342.5 854.3 346.6C859.9 350.6 851.9 379.6 846.2 386.9C840.6 394.1 810 413.4 797.9 419.1C785.8 424.7 737.4 438.4 725.3 443.3C713.3 448.1 681.8 465 677 467.4" fill="none" stroke="#3b8e86" stroke-width="11" stroke-linejoin="round"/>
<path d="M685.1 507.7C689.1 507.7 718.9 502.1 725.3 507.7C731.8 513.4 746.3 553.7 749.5 564.2C752.8 574.6 751.9 608.5 757.6 612.5C763.2 616.5 799.5 610.9 805.9 604.5C812.4 598 818 557.7 822.1 548C826.1 538.4 839.8 509.4 846.2 507.7C852.7 506.1 879.3 527.9 886.5 531.9C893.8 536 910.7 546.4 918.8 548C926.8 549.7 953.4 551.3 967.1 548C980.8 544.8 1043.7 523.1 1055.8 515.8C1067.9 508.5 1087.2 483.6 1088 475.5C1088.8 467.4 1073.5 439.2 1063.8 435.2C1054.2 431.2 992.9 439.2 991.3 435.2C989.7 431.2 1036.4 400.6 1047.7 394.9C1059 389.3 1097.7 386 1104.1 378.8C1110.6 371.5 1115.4 329.6 1112.2 322.4C1109 315.1 1075.9 307.9 1071.9 306.3" fill="none" stroke="#3b8e86" stroke-width="11" stroke-linejoin="round"/>
<path d="M266 8.1C270 15.3 297.4 65.3 306.3 80.6C315.1 95.9 346.6 146.7 354.6 161.2C362.7 175.7 381.2 225.7 386.9 225.7C392.5 225.7 409.4 172.5 411 161.2C412.6 149.9 402.2 124.1 403 112.8C403.8 101.5 419.1 58 419.1 48.4C419.1 38.7 404.6 19.3 403 16.1" fill="none" stroke="#3b8e86" stroke-width="11" stroke-linejoin="round"/>
<path d="M523.9 8.1C526.3 15.3 539.2 72.5 548 80.6C556.9 88.7 600.4 83 612.5 88.7C624.6 94.3 657.6 126.5 668.9 137C680.2 147.5 715.7 187.8 725.3 193.4C735 199.1 763.2 197.5 765.6 193.4C768.1 189.4 755.2 162.8 749.5 153.1C743.9 143.5 717.3 105.6 709.2 96.7C701.2 87.8 667.3 66.9 668.9 64.5C670.5 62.1 711.6 68.5 725.3 72.5C739 76.6 795.5 99.1 805.9 104.8C816.4 110.4 828.5 131.4 830.1 129C831.7 126.5 820.4 88.7 822.1 80.6C823.7 72.5 841.4 55.6 846.2 48.4C851.1 41.1 868 12.1 870.4 8.1" fill="none" stroke="#3b8e86" stroke-width="11" stroke-linejoin="round"/>
<path d="M564.2 237.8C567.8 238.6 583.5 259.1 584.3 266C585.1 272.8 575.8 303 572.2 306.3C568.6 309.5 550.5 303 548 298.2C545.6 293.4 546.4 263.9 548 257.9C549.7 251.9 560.5 236.9 564.2 237.8Z" fill="none" stroke="#3b8e86" stroke-width="11" stroke-linejoin="round"/>
<path d="M1007.4 274C1009 269.2 1032.4 249.8 1039.7 249.8C1046.9 249.8 1076.7 268.4 1080 274C1083.2 279.7 1077.5 303.8 1071.9 306.3C1066.3 308.7 1030 301.4 1023.5 298.2C1017.1 295 1005.8 278.9 1007.4 274Z" fill="none" stroke="#3b8e86" stroke-width="11" stroke-linejoin="round"/>
<path d="M1096.1 217.6C1099.3 212.8 1123.5 191 1128.3 193.4C1133.2 195.8 1145.2 235.3 1144.4 241.8C1143.6 248.2 1125.1 257.9 1120.3 257.9C1115.4 257.9 1098.5 245.8 1096.1 241.8C1093.7 237.8 1092.9 222.4 1096.1 217.6Z" fill="none" stroke="#3b8e86" stroke-width="11" stroke-linejoin="round"/>
<path d="M934.9 153.1C935.7 149.5 955 143.5 959.1 145.1C963.1 146.7 976 165.6 975.2 169.2C974.4 172.9 955 182.9 951 181.3C947 179.7 934.1 156.8 934.9 153.1Z" fill="none" stroke="#3b8e86" stroke-width="11" stroke-linejoin="round"/>
<path d="M797.9 459.4C799.5 457 818.4 446.9 822.1 447.3C825.7 447.7 835.8 461 834.2 463.4C832.5 465.8 809.6 471.9 805.9 471.5C802.3 471.1 796.3 461.8 797.9 459.4Z" fill="none" stroke="#3b8e86" stroke-width="11" stroke-linejoin="round"/>
<path d="M1023.5 8.1C1024.4 12.1 1032.4 38.7 1031.6 48.4C1030.8 58 1011.5 100.7 1015.5 104.8C1019.5 108.8 1060.6 94.3 1071.9 88.7C1083.2 83 1121.1 56.4 1128.3 48.4C1135.6 40.3 1142.8 12.1 1144.4 8.1" fill="none" stroke="#3b8e86" stroke-width="11" stroke-linejoin="round"/>
<path d="M1321.7 16.1C1320.1 22.6 1308 67.7 1305.6 80.6C1303.2 93.5 1300.8 134.6 1297.6 145.1C1294.3 155.5 1283.1 178.9 1273.4 185.4C1263.7 191.8 1208.9 201.5 1200.9 209.5C1192.8 217.6 1187.2 256.3 1192.8 266C1198.4 275.6 1244.4 300.6 1257.3 306.3C1270.2 311.9 1308.9 320.8 1321.7 322.4C1334.6 324 1382.2 318.3 1386.2 322.4C1390.3 326.4 1373.3 357.8 1362 362.7C1350.8 367.5 1288.7 369.1 1273.4 370.7C1258.1 372.3 1216.2 375.6 1208.9 378.8C1201.7 382 1207.3 397.3 1200.9 403C1194.4 408.6 1150.1 432 1144.4 435.2" fill="none" stroke="#3b8e86" stroke-width="11" stroke-linejoin="round"/>
<path d="M1402.3 16.1C1399.1 19.3 1376.5 46.7 1370.1 48.4C1363.7 50 1341.1 33.8 1337.9 32.2" fill="none" stroke="#3b8e86" stroke-width="11" stroke-linejoin="round"/>
<path d="M862.4 701.2C859.1 698.8 879.3 653.6 886.5 644.8C893.8 635.9 923.6 617.4 934.9 612.5C946.2 607.7 988.9 596.4 999.4 596.4C1009.8 596.4 1038.1 607.7 1039.7 612.5C1041.3 617.4 1022.7 640.7 1015.5 644.8C1008.2 648.8 976.8 650.4 967.1 652.8C957.5 655.2 929.3 664.1 918.8 668.9C908.3 673.8 865.6 703.6 862.4 701.2Z" fill="none" stroke="#3b8e86" stroke-width="11" stroke-linejoin="round"/>
<path d="M975.2 725.3C980.8 726.2 1030 728.6 1031.6 733.4C1033.2 738.2 999.4 766.5 991.3 773.7C983.2 781 956.7 796.4 951 805.9C945.4 815.5 936.5 863.2 934.9 869.6" fill="none" stroke="#3b8e86" stroke-width="11" stroke-linejoin="round"/>
<path d="M1047.7 660.9C1055.8 657.6 1113.8 631.1 1128.3 628.6C1142.8 626.2 1180.7 633.5 1192.8 636.7C1204.9 639.9 1235.5 655.2 1249.2 660.9C1262.9 666.5 1313.7 689.9 1329.8 693.1C1345.9 696.3 1396.7 689.9 1410.4 693.1C1424.1 696.3 1456.3 714.9 1466.8 725.3C1477.3 735.8 1511.9 783.5 1515.2 797.9C1518.4 812.3 1500.7 862.4 1499.1 869.6" fill="none" stroke="#3b8e86" stroke-width="11" stroke-linejoin="round"/>
<path d="M1402.3 378.8C1405.6 377.2 1437.8 398.9 1450.7 403C1463.6 407 1520.8 414.3 1531.3 419.1C1541.8 423.9 1557.1 447.3 1555.5 451.3C1553.9 455.4 1525.6 461 1515.2 459.4C1504.7 457.8 1460.4 439.2 1450.7 435.2C1441 431.2 1423.3 424.7 1418.5 419.1C1413.6 413.4 1399.1 380.4 1402.3 378.8Z" fill="none" stroke="#3b8e86" stroke-width="11" stroke-linejoin="round"/>
<path d="M1619.9 80.6C1621.6 77.4 1656.2 70.1 1660.2 72.5C1664.3 75 1661.9 101.5 1660.2 104.8C1658.6 108 1648.2 107.2 1644.1 104.8C1640.1 102.4 1618.3 83.8 1619.9 80.6Z" fill="none" stroke="#3b8e86" stroke-width="11" stroke-linejoin="round"/>
<path d="M1611.9 523.9C1614.3 521.4 1636.1 514.2 1636.1 515.8C1636.1 517.4 1614.3 539.2 1611.9 540C1609.5 540.8 1609.5 526.3 1611.9 523.9Z" fill="none" stroke="#3b8e86" stroke-width="11" stroke-linejoin="round"/>
<path d="M1668.3 523.9C1672.3 523.9 1704.6 523.9 1708.6 523.9" fill="none" stroke="#3b8e86" stroke-width="11" stroke-linejoin="round"/>
<path d="M1660.2 580.3C1661.9 579.5 1705.4 594 1708.6 596.4C1711.8 598.8 1697.3 606.1 1692.5 604.5C1687.6 602.8 1658.6 581.1 1660.2 580.3Z" fill="none" stroke="#3b8e86" stroke-width="11" stroke-linejoin="round"/>
<path d="M612.5 596.4C618.2 598 662.5 602 668.9 612.5C675.4 623 673 688.3 677 701.2C681 714.1 706 731 709.2 741.5C712.5 751.9 712.5 796.3 709.2 805.9C706 815.6 685.1 836.6 677 838.2C668.9 839.8 635.1 829.3 628.6 822.1C622.2 814.8 612.5 776.9 612.5 765.6C612.5 754.4 633.5 716.5 628.6 709.2C623.8 702 575.4 697.1 564.2 693.1C552.9 689.1 523.9 670.5 515.8 668.9C507.7 667.3 485.2 673 483.6 677C482 681 494.8 704.4 499.7 709.2C504.5 714.1 525.5 718.9 531.9 725.3C538.4 731.8 557.7 765.6 564.2 773.7C570.6 781.8 593.2 802.7 596.4 805.9" fill="none" stroke="#3b8e86" stroke-width="11" stroke-linejoin="round"/>
<path d="M266 869.6C267.6 862.4 278.1 806.7 282.1 797.9C286.1 789.1 303 781 306.3 781.8C309.5 782.6 315.9 800.3 314.3 805.9C312.7 811.6 289.3 831.8 290.1 838.2C290.9 844.5 319.2 866.5 322.4 869.6" fill="none" stroke="#3b8e86" stroke-width="11" stroke-linejoin="round"/>
<path d="M435.2 869.6C436.8 863.2 447.3 813.9 451.3 805.9C455.4 798 472.3 786.6 475.5 789.8C478.7 793 479.5 830.2 483.6 838.2C487.6 846.2 512.6 866.5 515.8 869.6" fill="none" stroke="#3b8e86" stroke-width="11" stroke-linejoin="round"/>
<path d="M789.8 869.6C791.4 862.4 802.7 801 805.9 797.9C809.2 794.7 818 831 822.1 838.2C826.1 845.4 843.8 866.5 846.2 869.6" fill="none" stroke="#3b8e86" stroke-width="11" stroke-linejoin="round"/>
<path d="M8.1 869.6C10.5 861.6 25.8 796.2 32.2 789.8C38.7 783.5 70.1 798 72.5 805.9C75 813.9 58 863.2 56.4 869.6" fill="none" stroke="#3b6e8e" stroke-width="11" stroke-linejoin="round"/>
<path d="M797.9 866.6C797.1 871.4 789 898.8 789.8 915C790.6 931.1 801.1 1011.7 805.9 1027.8C810.8 1043.9 830.1 1068.1 838.2 1076.1C846.2 1084.2 878.5 1103.5 886.5 1108.4C894.6 1113.2 922 1120.5 918.8 1124.5C915.6 1128.5 859.1 1142.2 854.3 1148.7C849.5 1155.1 865.6 1184.1 870.4 1189C875.3 1193.8 898.6 1193.8 902.7 1197C906.7 1200.3 917.2 1218.8 910.7 1221.2C904.3 1223.6 851.9 1224.4 838.2 1221.2C824.5 1218 786.6 1192.2 773.7 1189C760.8 1185.8 716.5 1187.4 709.2 1189C702 1190.6 697.1 1201.1 701.2 1205.1C705.2 1209.1 740.7 1224.4 749.5 1229.3C758.4 1234.1 787.4 1247.8 789.8 1253.5C792.2 1259.1 786.6 1280.9 773.7 1285.7C760.8 1290.5 673.8 1297.8 660.9 1301.8C648 1305.8 638.3 1324.4 644.8 1326C651.2 1327.6 708.4 1318.7 725.3 1317.9C742.3 1317.1 797.9 1316.3 814 1317.9C830.1 1319.5 876.9 1328.4 886.5 1334C896.2 1339.7 918.8 1367.9 910.7 1374.3C902.7 1380.8 824.5 1392.9 805.9 1398.5C787.4 1404.2 741.5 1423.5 725.3 1430.8C709.2 1438 660.9 1463 644.8 1471.1C628.6 1479.1 577.1 1502.5 564.2 1511.4C551.3 1520.2 521.4 1551.7 515.8 1559.7C510.2 1567.8 502.9 1587.1 507.7 1591.9C512.6 1596.8 545.6 1604.8 564.2 1608.1C582.7 1611.3 680.2 1616.9 693.1 1624.2C706 1631.4 681.8 1676.6 693.1 1680.6C704.4 1684.6 773.7 1666.1 805.9 1664.5C838.2 1662.9 984.9 1657.3 1015.5 1664.5C1046.1 1671.7 1102.5 1729 1112.2 1736.2" fill="none" stroke="#3b8e86" stroke-width="11" stroke-linejoin="round"/>
<path d="M1225 882.7C1228.3 890.8 1251.6 946.4 1257.3 963.3C1262.9 980.2 1281.4 1038.3 1281.4 1052C1281.4 1065.7 1266.9 1090.7 1257.3 1100.3C1247.6 1110 1192 1143.8 1184.7 1148.7" fill="none" stroke="#3b8e86" stroke-width="11" stroke-linejoin="round"/>
<path d="M1241.2 1285.7C1242 1293.7 1244.4 1351.8 1249.2 1366.3C1254 1380.8 1285.5 1413 1289.5 1430.8C1293.5 1448.5 1283.1 1529.1 1289.5 1543.6C1296 1558.1 1341.1 1577.4 1354 1575.8C1366.9 1574.2 1407.2 1531.5 1418.5 1527.5C1429.7 1523.4 1461.2 1529.1 1466.8 1535.5C1472.5 1542 1476.5 1581.5 1474.9 1591.9C1473.3 1602.4 1461.2 1635.5 1450.7 1640.3C1440.2 1645.1 1384.6 1637.1 1370.1 1640.3C1355.6 1643.5 1313.7 1663 1305.6 1672.5C1297.6 1682.1 1291.1 1729.8 1289.5 1736.2" fill="none" stroke="#3b8e86" stroke-width="11" stroke-linejoin="round"/>
<path d="M1507.1 874.7C1505.5 879.5 1498.2 919 1491 923C1483.7 927 1446.7 918.2 1434.6 915C1422.5 911.7 1376.5 893.2 1370.1 890.8" fill="none" stroke="#3b8e86" stroke-width="11" stroke-linejoin="round"/>
<path d="M1305.6 963.3C1312.1 964.1 1357.2 966.5 1370.1 971.4C1383 976.2 1424.9 1007.6 1434.6 1011.7C1444.2 1015.7 1463.6 1011.7 1466.8 1011.7" fill="none" stroke="#3b8e86" stroke-width="11" stroke-linejoin="round"/>
<path d="M1297.6 987.5C1300.8 988.3 1320.9 1014.9 1321.7 1019.7C1322.6 1024.6 1308.9 1036.7 1305.6 1035.8C1302.4 1035 1290.3 1016.5 1289.5 1011.7C1288.7 1006.8 1294.3 986.7 1297.6 987.5Z" fill="none" stroke="#3b8e86" stroke-width="11" stroke-linejoin="round"/>
<path d="M1507.1 1084.2C1509.5 1083.4 1522.4 1115.6 1523.2 1124.5C1524 1133.4 1517.6 1172.1 1515.2 1172.9C1512.8 1173.7 1499.9 1141.4 1499.1 1132.6C1498.2 1123.7 1504.7 1085 1507.1 1084.2Z" fill="none" stroke="#3b8e86" stroke-width="11" stroke-linejoin="round"/>
<path d="M1120.3 1414.6C1125.9 1410.6 1183.9 1391.3 1192.8 1390.5C1201.7 1389.7 1214.6 1402.6 1208.9 1406.6C1203.3 1410.6 1145.2 1430 1136.4 1430.8C1127.5 1431.6 1114.6 1418.7 1120.3 1414.6Z" fill="none" stroke="#3b8e86" stroke-width="11" stroke-linejoin="round"/>
<path d="M975.2 1229.3C985.7 1226.1 1075.9 1205.9 1088 1205.1C1100.1 1204.3 1106.6 1218 1096.1 1221.2C1085.6 1224.4 995.3 1236.5 983.2 1237.3C971.2 1238.1 964.7 1232.5 975.2 1229.3Z" fill="none" stroke="#3b8e86" stroke-width="11" stroke-linejoin="round"/>
<path d="M1225 1575.8C1225.8 1571 1258.9 1538 1265.3 1535.5C1271.8 1533.1 1290.3 1546.8 1289.5 1551.7C1288.7 1556.5 1263.7 1581.5 1257.3 1583.9C1250.8 1586.3 1224.2 1580.7 1225 1575.8Z" fill="none" stroke="#3b8e86" stroke-width="11" stroke-linejoin="round"/>
<path d="M1265.3 1640.3C1268.6 1637.1 1307.2 1630.6 1313.7 1632.2C1320.1 1633.9 1333 1653.2 1329.8 1656.4C1326.6 1659.6 1287.9 1666.1 1281.4 1664.5C1275 1662.9 1262.1 1643.5 1265.3 1640.3Z" fill="none" stroke="#3b8e86" stroke-width="11" stroke-linejoin="round"/>
<path d="M1418.5 1414.6C1417.7 1412.2 1439.4 1390.5 1442.6 1390.5C1445.9 1390.5 1453.1 1412.2 1450.7 1414.6C1448.3 1417.1 1419.3 1417.1 1418.5 1414.6Z" fill="none" stroke="#3b8e86" stroke-width="11" stroke-linejoin="round"/>
<path d="M1337.9 1495.2C1342.7 1492 1395.1 1471.9 1402.3 1471.1C1409.6 1470.3 1415.2 1484 1410.4 1487.2C1405.6 1490.4 1361.2 1502.5 1354 1503.3C1346.7 1504.1 1333 1498.5 1337.9 1495.2Z" fill="none" stroke="#3b8e86" stroke-width="11" stroke-linejoin="round"/>
<path d="M983.2 1124.5C987.3 1124.5 1033.2 1110.8 1047.7 1108.4C1062.2 1106 1115.4 1105.2 1128.3 1100.3C1141.2 1095.5 1170.2 1068.9 1176.7 1060C1183.1 1051.2 1192.8 1018.1 1192.8 1011.7C1192.8 1005.2 1181.5 991.5 1176.7 995.6C1171.8 999.6 1154.1 1042.3 1144.4 1052C1134.8 1061.6 1093.7 1086.6 1080 1092.3C1066.3 1097.9 1017.1 1105.2 1007.4 1108.4C997.8 1111.6 979.2 1124.5 983.2 1124.5Z" fill="none" stroke="#3b8e86" stroke-width="11" stroke-linejoin="round"/>
<path d="M918.8 898.8C920.4 907.7 928.4 973 934.9 987.5C941.3 1002 972 1036.7 983.2 1043.9C994.5 1051.2 1034.8 1061.6 1047.7 1060C1060.6 1058.4 1102.5 1039.1 1112.2 1027.8C1121.9 1016.5 1142.8 960.9 1144.4 947.2C1146.1 933.5 1129.9 896.4 1128.3 890.8" fill="none" stroke="#5cb86a" stroke-width="11" stroke-linejoin="round"/>
<path d="M838.2 939.1C839 931.9 864.8 933.5 870.4 939.1C876.1 944.8 895.4 988.3 894.6 995.6C893.8 1002.8 868 1017.3 862.4 1011.7C856.7 1006 837.4 946.4 838.2 939.1Z" fill="none" stroke="#5cb86a" stroke-width="11" stroke-linejoin="round"/>
<path d="M991.3 947.2C991.3 938.3 1007.4 907.7 1015.5 902.9C1023.5 898 1063 894.4 1071.9 898.8C1080.8 903.3 1104.1 937.9 1104.1 947.2C1104.1 956.5 1080.8 987.1 1071.9 991.5C1063 996 1023.5 996 1015.5 991.5C1007.4 987.1 991.3 956.1 991.3 947.2Z" fill="none" stroke="#5cc25c" stroke-width="11" stroke-linejoin="round"/>
<path d="M1011.5 947.2C1011.5 941.6 1022.3 921.8 1027.6 919C1032.8 916.2 1058.2 916.2 1063.8 919C1069.5 921.8 1084 941.6 1084 947.2C1084 952.8 1069.5 972.6 1063.8 975.4C1058.2 978.2 1032.8 978.2 1027.6 975.4C1022.3 972.6 1011.5 952.8 1011.5 947.2Z" fill="none" stroke="#9fd83c" stroke-width="11" stroke-linejoin="round"/>
<path d="M1112.2 923C1112.6 928.7 1115.8 973.8 1116.2 979.4" fill="none" stroke="#5cc25c" stroke-width="11" stroke-linejoin="round"/>
<path d="M8.1 1172.9C13.7 1176.9 56.4 1205.9 64.5 1213.2C72.5 1220.4 79 1236.5 88.7 1245.4C98.3 1254.3 152.3 1292.1 161.2 1301.8C170.1 1311.5 165.2 1338.9 177.3 1342.1C189.4 1345.3 272.4 1342.9 282.1 1334C291.8 1325.2 274 1268 274 1253.5C274 1238.9 286.9 1198.6 282.1 1189C277.2 1179.3 237.8 1162.4 225.7 1156.7C213.6 1151.1 177.3 1138.2 161.2 1132.6C145.1 1126.9 74.1 1103.5 64.5 1100.3" fill="none" stroke="#3b6e8e" stroke-width="11" stroke-linejoin="round"/>
<path d="M8.1 1342.1C10.5 1341.3 18.5 1330 32.2 1334C45.9 1338.1 128.1 1376.8 145.1 1382.4C162 1388 189.4 1384.8 201.5 1390.5C213.6 1396.1 266 1428.3 266 1438.8C266 1449.3 213.6 1491.2 201.5 1495.2C189.4 1499.3 153.9 1482.3 145.1 1479.1C136.2 1475.9 123.3 1463 112.8 1463C102.4 1463 50.8 1477.5 40.3 1479.1C29.8 1480.7 11.3 1479.1 8.1 1479.1" fill="none" stroke="#3b6e8e" stroke-width="11" stroke-linejoin="round"/>
<path d="M298.2 1172.9C299.8 1166.4 323.2 1154.3 330.4 1156.7C337.7 1159.2 365.9 1189 370.7 1197C375.6 1205.1 380.4 1231.7 378.8 1237.3C377.2 1243 361.1 1255.1 354.6 1253.5C348.2 1251.8 320 1229.3 314.3 1221.2C308.7 1213.2 296.6 1179.3 298.2 1172.9Z" fill="none" stroke="#3b6e8e" stroke-width="11" stroke-linejoin="round"/>
<path d="M394.9 1309.9C395.7 1305.8 410.2 1292.9 419.1 1293.7C428 1294.6 478.7 1313.9 483.6 1317.9C488.4 1322 474.7 1332.4 467.4 1334C460.2 1335.7 418.3 1336.5 411 1334C403.8 1331.6 394.1 1313.9 394.9 1309.9Z" fill="none" stroke="#3b6e8e" stroke-width="11" stroke-linejoin="round"/>
<path d="M8.1 866.6C11.3 870.6 37.9 898.8 40.3 906.9C42.7 915 33.8 939.1 32.2 947.2C30.6 955.3 22.6 979.4 24.2 987.5C25.8 995.6 50 1019.7 48.4 1027.8C46.7 1035.8 9.7 1060 8.1 1068.1C6.4 1076.1 25 1106 32.2 1108.4C39.5 1110.8 70.9 1095.5 80.6 1092.3C90.3 1089 122.5 1082.6 129 1076.1C135.4 1069.7 146.7 1034.2 145.1 1027.8C143.5 1021.3 120.9 1013.3 112.8 1011.7C104.8 1010.1 69.3 1011.7 64.5 1011.7" fill="none" stroke="#3b6e8e" stroke-width="11" stroke-linejoin="round"/>
<path d="M266 866.6C268.4 869.8 286.1 898.8 290.1 898.8C294.2 898.8 304.6 869.8 306.3 866.6" fill="none" stroke="#3b8e86" stroke-width="11" stroke-linejoin="round"/>
<path d="M338.5 866.6C343.3 869.8 380.4 898.8 386.9 898.8C393.3 898.8 401.4 869.8 403 866.6" fill="none" stroke="#3b8e86" stroke-width="11" stroke-linejoin="round"/>
<path d="M483.6 931.1C486.4 929.5 506.1 935.5 507.7 939.1C509.4 942.8 502.5 965.7 499.7 967.3C496.9 969 481.1 958.9 479.5 955.3C477.9 951.6 480.7 932.7 483.6 931.1Z" fill="none" stroke="#3b8e86" stroke-width="11" stroke-linejoin="round"/>
<path d="M515.8 963.3C520.6 960.1 556.1 947.2 564.2 947.2C572.2 947.2 596.4 958.5 596.4 963.3C596.4 968.1 569 989.9 564.2 995.6C559.3 1001.2 554.5 1018.1 548 1019.7C541.6 1021.3 502.9 1015.7 499.7 1011.7C496.5 1007.6 514.2 984.3 515.8 979.4C517.4 974.6 511 966.5 515.8 963.3Z" fill="none" stroke="#3b8e86" stroke-width="11" stroke-linejoin="round"/>
<path d="M644.8 1422.7C648.8 1419.5 695.5 1413.8 701.2 1414.6C706.8 1415.4 705.2 1427.5 701.2 1430.8C697.1 1434 666.5 1447.7 660.9 1446.9C655.2 1446.1 640.7 1425.9 644.8 1422.7Z" fill="none" stroke="#3b8e86" stroke-width="11" stroke-linejoin="round"/>
<path d="M8.1 1624.2C12.1 1626.6 48.4 1643.5 48.4 1648.4C48.4 1653.2 12.1 1670.1 8.1 1672.5" fill="none" stroke="#3b6e8e" stroke-width="11" stroke-linejoin="round"/>
<path d="M112.8 1736.2C115.2 1733.9 133.8 1712.8 137 1712.8C140.2 1712.8 144.3 1733.9 145.1 1736.2" fill="none" stroke="#3b6e8e" stroke-width="11" stroke-linejoin="round"/>
<path d="M652.8 1688.7C656 1685.4 681.8 1685.4 685.1 1688.7C688.3 1691.9 688.3 1717.7 685.1 1720.9C681.8 1724.1 656 1724.1 652.8 1720.9C649.6 1717.7 649.6 1691.9 652.8 1688.7Z" fill="none" stroke="#3b8e86" stroke-width="11" stroke-linejoin="round"/>
<text transform="translate(555 590) rotate(-50) scale(1.12 1)" y="36" font-family="Liberation Sans" font-size="102" text-anchor="middle" fill="#0d0d0d">271.5</text>
<text transform="translate(1000 845) rotate(0) scale(1.12 1)" y="36" font-family="Liberation Sans" font-size="102" text-anchor="middle" fill="#0d0d0d">273.0</text>
<text transform="translate(135 920) rotate(90) scale(1.12 1)" y="36" font-family="Liberation Sans" font-size="102" text-anchor="middle" fill="#0d0d0d">270.0</text>
<text transform="translate(1150 1190) rotate(65) scale(1.12 1)" y="36" font-family="Liberation Sans" font-size="102" text-anchor="middle" fill="#0d0d0d">271.5</text>
<text transform="translate(40 1480) rotate(40) scale(1.12 1)" y="36" font-family="Liberation Sans" font-size="102" text-anchor="middle" fill="#0d0d0d">0</text>
</g></g>
<rect x="171.6" y="852.4" width="612" height="613" fill="none" stroke="#0d0d0d" stroke-width="4.4"/>
<path d="M171.6 1465.4H160.1M171.6 1414.3H148.6M171.6 1363.2H160.1M171.6 1312.2H160.1M171.6 1261.1H160.1M171.6 1210H160.1M171.6 1158.9H148.6M171.6 1107.8H160.1M171.6 1056.7H160.1M171.6 1005.6H160.1M171.6 954.6H160.1M171.6 903.5H148.6M171.6 852.4H160.1M171.6 1465.4V1476.9M222.6 1465.4V1476.9M273.6 1465.4V1476.9M324.6 1465.4V1476.9M375.6 1465.4V1488.4M426.6 1465.4V1476.9M477.6 1465.4V1476.9M528.6 1465.4V1476.9M579.6 1465.4V1476.9M630.6 1465.4V1488.4M681.6 1465.4V1476.9M732.6 1465.4V1476.9M783.6 1465.4V1476.9" stroke="#0d0d0d" stroke-width="4.5" fill="none"/>
<text x="146.3" y="1430.9" font-family="Liberation Serif" font-size="56" text-anchor="end" fill="#231f20">15°N</text>
<text x="146.3" y="1175.5" font-family="Liberation Serif" font-size="56" text-anchor="end" fill="#231f20">20°N</text>
<text x="146.3" y="920.1" font-family="Liberation Serif" font-size="56" text-anchor="end" fill="#231f20">25°N</text>
<text x="375.6" y="1532" font-family="Liberation Serif" font-size="56" text-anchor="middle" fill="#231f20">110°E</text>
<text x="630.6" y="1532" font-family="Liberation Serif" font-size="56" text-anchor="middle" fill="#231f20">115°E</text>
<text x="477.6" y="826.8" font-family="Liberation Serif" font-size="56" text-anchor="middle" fill="#231f20">(e) CTRL 500 hPa</text>
<g transform="translate(947.5 852.4) scale(0.353111)">
<g clip-path="url(#cp)">
<rect x="-10" y="-10" width="1760" height="1760" fill="#e4e1f3"/>
<path d="M780 -50C946.7 -108.3 1630 -358.3 1800 -50C1970 258.3 1883.3 1491.7 1800 1800C1716.7 2108.3 1366.7 1833.3 1300 1800C1233.3 1766.7 1370 1658.3 1400 1600C1430 1541.7 1463.3 1516.7 1480 1450C1496.7 1383.3 1500 1275 1500 1200C1500 1125 1496.7 1050 1480 1000C1463.3 950 1438.3 925 1400 900C1361.7 875 1300 860 1250 850C1200 840 1150 848.3 1100 840C1050 831.7 991.7 823.3 950 800C908.3 776.7 876.7 741.7 850 700C823.3 658.3 798.3 616.7 790 550C781.7 483.3 801.7 400 800 300C798.3 200 613.3 8.3 780 -50Z" fill="#b6b3de"/>
<path d="M1480 150C1486.7 105 1491.7 95 1520 80C1548.3 65 1603.3 56.7 1650 60C1696.7 63.3 1775 35 1800 100C1825 165 1833.3 396.7 1800 450C1766.7 503.3 1653.3 436.7 1600 420C1546.7 403.3 1500 395 1480 350C1460 305 1473.3 195 1480 150Z" fill="#e4e1f3"/>
<path d="M1640 700C1648.3 673.3 1673.3 650 1700 640C1726.7 630 1783.3 605 1800 640C1816.7 675 1825 823.3 1800 850C1775 876.7 1676.7 825 1650 800C1623.3 775 1631.7 726.7 1640 700Z" fill="#e4e1f3"/>
<path d="M-50 620C-28.3 508.3 38.3 633.3 80 650C121.7 666.7 171.7 686.7 200 720C228.3 753.3 241.7 803.3 250 850C258.3 896.7 258.3 941.7 250 1000C241.7 1058.3 225 1150 200 1200C175 1250 141.7 1280 100 1300C58.3 1320 -25 1433.3 -50 1320C-75 1206.7 -71.7 731.7 -50 620Z" fill="#b6b3de"/>
<path d="M-50 1480C-21.7 1421.7 70 1438.3 120 1450C170 1461.7 203.3 1516.7 250 1550C296.7 1583.3 366.7 1608.3 400 1650C433.3 1691.7 525 1775 450 1800C375 1825 33.3 1853.3 -50 1800C-133.3 1746.7 -78.3 1538.3 -50 1480Z" fill="#b6b3de"/>
<path d="M40 30C45 18.3 113.3 8.3 150 10C186.7 11.7 243.3 28.3 260 40C276.7 51.7 273.3 73.3 250 80C226.7 86.7 155 88.3 120 80C85 71.7 35 41.7 40 30Z" fill="#b6b3de"/>
<path d="M880 400C891.7 350 923.3 305 960 280C996.7 255 1051.7 251.7 1100 250C1148.3 248.3 1210 253.3 1250 270C1290 286.7 1320 311.7 1340 350C1360 388.3 1370 450 1370 500C1370 550 1360 611.7 1340 650C1320 688.3 1290 713.3 1250 730C1210 746.7 1150 755 1100 750C1050 745 985 728.3 950 700C915 671.7 901.7 630 890 580C878.3 530 868.3 450 880 400Z" fill="#6468bc"/>
<path d="M1560 565C1562.5 545 1573.3 512.5 1590 500C1606.7 487.5 1638.3 483.3 1660 490C1681.7 496.7 1711.7 518.3 1720 540C1728.3 561.7 1723.3 603.3 1710 620C1696.7 636.7 1662.5 640 1640 640C1617.5 640 1588.3 632.5 1575 620C1561.7 607.5 1557.5 585 1560 565Z" fill="#6468bc"/>
<path d="M1540 1150C1550 1105 1573.3 1013.3 1600 980C1626.7 946.7 1666.7 955 1700 950C1733.3 945 1783.3 858.3 1800 950C1816.7 1041.7 1825 1411.7 1800 1500C1775 1588.3 1690 1500 1650 1480C1610 1460 1578.3 1418.3 1560 1380C1541.7 1341.7 1543.3 1288.3 1540 1250C1536.7 1211.7 1530 1195 1540 1150Z" fill="#6468bc"/>
<path d="M-50 720C-28.3 643.3 45 723.3 80 740C115 756.7 143.3 785 160 820C176.7 855 178.3 903.3 180 950C181.7 996.7 183.3 1061.7 170 1100C156.7 1138.3 136.7 1163.3 100 1180C63.3 1196.7 -25 1276.7 -50 1200C-75 1123.3 -71.7 796.7 -50 720Z" fill="#6468bc"/>
<path d="M1680 1550C1698.3 1508.3 1780 1458.3 1800 1500C1820 1541.7 1818.3 1758.3 1800 1800C1781.7 1841.7 1710 1791.7 1690 1750C1670 1708.3 1661.7 1591.7 1680 1550Z" fill="#6468bc"/>
<path d="M80 420C88.3 363.3 113.3 313.3 150 280C186.7 246.7 245 231.7 300 220C355 208.3 423.3 203.3 480 210C536.7 216.7 603.3 228.3 640 260C676.7 291.7 685 351.7 700 400C715 448.3 720 500 730 550C740 600 745 655 760 700C775 745 788.3 786.7 820 820C851.7 853.3 903.3 881.7 950 900C996.7 918.3 1050 928.3 1100 930C1150 931.7 1203.3 915 1250 910C1296.7 905 1345 893.3 1380 900C1415 906.7 1440 916.7 1460 950C1480 983.3 1495 1041.7 1500 1100C1505 1158.3 1500 1241.7 1490 1300C1480 1358.3 1471.7 1406.7 1440 1450C1408.3 1493.3 1356.7 1528.3 1300 1560C1243.3 1591.7 1166.7 1626.7 1100 1640C1033.3 1653.3 966.7 1646.7 900 1640C833.3 1633.3 766.7 1620 700 1600C633.3 1580 558.3 1553.3 500 1520C441.7 1486.7 380 1445 350 1400C320 1355 318.3 1300 320 1250C321.7 1200 360 1150 360 1100C360 1050 343.3 1000 320 950C296.7 900 256.7 855 220 800C183.3 745 123.3 683.3 100 620C76.7 556.7 71.7 476.7 80 420Z" fill="#fde0e5"/>
<path d="M210 500C220 466.7 248.3 421.7 280 400C311.7 378.3 360 371.7 400 370C440 368.3 486.7 368.3 520 390C553.3 411.7 580 456.7 600 500C620 543.3 631.7 600 640 650C648.3 700 656.7 763.3 650 800C643.3 836.7 621.7 860 600 870C578.3 880 546.7 871.7 520 860C493.3 848.3 460 826.7 440 800C420 773.3 423.3 726.7 400 700C376.7 673.3 330 656.7 300 640C270 623.3 235 623.3 220 600C205 576.7 200 533.3 210 500Z" fill="#f6a9b6"/>
<path d="M1140 1250C1150 1208.3 1173.3 1136.7 1200 1100C1226.7 1063.3 1266.7 1041.7 1300 1030C1333.3 1018.3 1378.3 1010 1400 1030C1421.7 1050 1430 1105 1430 1150C1430 1195 1418.3 1255 1400 1300C1381.7 1345 1345 1390 1320 1420C1295 1450 1273.3 1476.7 1250 1480C1226.7 1483.3 1198.3 1461.7 1180 1440C1161.7 1418.3 1146.7 1381.7 1140 1350C1133.3 1318.3 1130 1291.7 1140 1250Z" fill="#f6a9b6"/>
<path d="M390 540C394.2 526.7 409.2 511.7 420 510C430.8 508.3 448.3 515 455 530C461.7 545 464.2 585 460 600C455.8 615 440.8 621.7 430 620C419.2 618.3 401.7 603.3 395 590C388.3 576.7 385.8 553.3 390 540Z" fill="#f05a75"/>
<path d="M1790 180C1781 187.5 1759.3 203.3 1736 225C1712.7 246.7 1679.3 285.8 1650 310C1620.7 334.2 1585 350 1560 370C1535 390 1526.7 415.8 1500 430C1473.3 444.2 1433.3 448.3 1400 455C1366.7 461.7 1333.3 460 1300 470C1266.7 480 1233.3 502.5 1200 515C1166.7 527.5 1133.3 532.5 1100 545C1066.7 557.5 1038.3 580 1000 590C961.7 600 906.7 596.7 870 605C833.3 613.3 808.3 630 780 640C751.7 650 725 655 700 665C675 675 646.7 702.5 630 700C613.3 697.5 618.3 665.8 600 650C581.7 634.2 553.3 613.3 520 605C486.7 596.7 431.7 596.7 400 600C368.3 603.3 355 614.2 330 625C305 635.8 271.7 651.7 250 665C228.3 678.3 221.7 693.3 200 705C178.3 716.7 138.3 723.3 120 735C101.7 746.7 103.3 762.5 90 775C76.7 787.5 61.7 795.8 40 810C18.3 824.2 -26.7 851.7 -40 860" fill="none" stroke="#aca9b0" stroke-opacity="0.62" stroke-width="13" stroke-linejoin="round" stroke-linecap="round"/>
<path d="M-40 1120C-26.7 1128.3 11.7 1143.3 40 1170C68.3 1196.7 100 1246.7 130 1280C160 1313.3 190 1341.7 220 1370C250 1398.3 283.3 1420 310 1450C336.7 1480 360 1516.7 380 1550C400 1583.3 416.7 1610 430 1650C443.3 1690 455 1766.7 460 1790" fill="none" stroke="#aca9b0" stroke-opacity="0.62" stroke-width="13" stroke-linejoin="round" stroke-linecap="round"/>
<path d="M450 885C468.3 881.2 526.7 867.5 560 862C593.3 856.5 623.3 845.7 650 852C676.7 858.3 710.8 875.3 720 900C729.2 924.7 718.3 975 705 1000C691.7 1025 664.2 1033.3 640 1050C615.8 1066.7 583.3 1088 560 1100C536.7 1112 523.3 1122 500 1122C476.7 1122 439.7 1112 420 1100C400.3 1088 388.7 1073.3 382 1050C375.3 1026.7 368.7 987.5 380 960C391.3 932.5 438.3 897.5 450 885" fill="none" stroke="#aca9b0" stroke-opacity="0.62" stroke-width="13" stroke-linejoin="round" stroke-linecap="round"/>
<path d="M24.2 8.1C26.6 12.1 42.7 41.9 48.4 48.4C54 54.8 73.3 72.5 80.6 72.5C87.8 72.5 116.1 54.8 120.9 48.4C125.7 41.9 128.1 12.1 129 8.1" fill="none" stroke="#3b8e86" stroke-width="11" stroke-linejoin="round"/>
<path d="M96.7 209.5C99.9 208.7 119.3 196.6 129 201.5C138.6 206.3 182.1 244.2 193.4 257.9C204.7 271.6 236.9 322.4 241.8 338.5C246.6 354.6 249.8 412.6 241.8 419.1C233.7 425.5 174.1 404.6 161.2 403C148.3 401.4 120.1 397.3 112.8 403C105.6 408.6 93.5 451.3 88.7 459.4C83.8 467.4 68.5 477.1 64.5 483.6C60.4 490 53.2 523.9 48.4 523.9C43.5 523.9 20.1 491.6 16.1 483.6C12.1 475.5 8.9 447.3 8.1 443.3" fill="none" stroke="#3b8e86" stroke-width="11" stroke-linejoin="round"/>
<path d="M8.1 290.1C12.1 297.4 40.3 352.2 48.4 362.7C56.4 373.2 84.6 391.7 88.7 394.9" fill="none" stroke="#3b8e86" stroke-width="11" stroke-linejoin="round"/>
<path d="M16.1 439.2C17.7 436.4 33.8 433.2 36.3 435.2C38.7 437.2 41.9 456.6 40.3 459.4C38.7 462.2 22.6 465.4 20.1 463.4C17.7 461.4 14.5 442.1 16.1 439.2Z" fill="none" stroke="#3b8e86" stroke-width="11" stroke-linejoin="round"/>
<path d="M241.8 233.7C243.4 230.5 252.3 207.1 257.9 201.5C263.5 195.8 293.4 177.3 298.2 177.3C303 177.3 300.6 197.5 306.3 201.5C311.9 205.5 345.7 218.4 354.6 217.6C363.5 216.8 390.1 203.9 394.9 193.4C399.7 182.9 400.6 125.7 403 112.8C405.4 99.9 413.4 70.9 419.1 64.5C424.7 58 451.3 54 459.4 48.4C467.4 42.7 495.7 12.1 499.7 8.1" fill="none" stroke="#3b8e86" stroke-width="11" stroke-linejoin="round"/>
<path d="M241.8 233.7C241.8 241 238.6 295.8 241.8 306.3C245 316.7 266.8 333.7 274 338.5C281.3 343.3 309.5 348.2 314.3 354.6C319.2 361.1 323.2 390.1 322.4 403C321.6 415.9 304.6 477.1 306.3 483.6C307.9 490 330.4 473.1 338.5 467.4C346.6 461.8 374 437.6 386.9 427.1C399.7 416.7 456.2 367.5 467.4 362.7C478.7 357.8 493.2 379.6 499.7 378.8C506.1 378 525.5 355.4 531.9 354.6C538.4 353.8 559.3 364.3 564.2 370.7C569 377.2 572.2 409.4 580.3 419.1C588.3 428.8 630.2 458.6 644.8 467.4C659.3 476.3 714.9 496.5 725.3 507.7C735.8 519 747.1 566.6 749.5 580.3C751.9 594 744.7 638.3 749.5 644.8C754.4 651.2 790.6 645.6 797.9 644.8C805.1 643.9 819.6 637.5 822.1 636.7" fill="none" stroke="#3b8e86" stroke-width="11" stroke-linejoin="round"/>
<path d="M588.3 8.1C590.8 13.7 611.7 54.8 612.5 64.5C613.3 74.1 594.8 95.1 596.4 104.8C598 114.4 625.4 150.7 628.6 161.2C631.9 171.7 624.6 203.9 628.6 209.5C632.7 215.2 659.3 219.2 668.9 217.6C678.6 216 720.5 199.1 725.3 193.4C730.2 187.8 719.7 169.2 717.3 161.2C714.9 153.1 700.4 120.1 701.2 112.8C702 105.6 721.3 95.1 725.3 88.7C729.4 82.2 737.4 49.2 741.5 48.4C745.5 47.6 762.4 74.1 765.6 80.6C768.9 87 770.5 106.4 773.7 112.8C776.9 119.3 792.2 142.7 797.9 145.1C803.5 147.5 826.9 141.8 830.1 137C833.3 132.2 833.3 104 830.1 96.7C826.9 89.5 802.7 73.3 797.9 64.5C793 55.6 783.4 13.7 781.8 8.1" fill="none" stroke="#3b8e86" stroke-width="11" stroke-linejoin="round"/>
<path d="M548 241.8C550.5 235.3 568.2 224.1 572.2 225.7C576.2 227.3 588.3 250.6 588.3 257.9C588.3 265.2 576.2 295 572.2 298.2C568.2 301.4 550.5 295.8 548 290.1C545.6 284.5 545.6 248.2 548 241.8Z" fill="none" stroke="#3b8e86" stroke-width="11" stroke-linejoin="round"/>
<path d="M677 306.3C678.6 301.4 696.3 266.8 701.2 266C706 265.2 722.1 292.6 725.3 298.2C728.6 303.8 737.4 320.8 733.4 322.4C729.4 324 690.7 315.9 685.1 314.3C679.4 312.7 675.4 311.1 677 306.3Z" fill="none" stroke="#3b8e86" stroke-width="11" stroke-linejoin="round"/>
<path d="M983.2 96.7C986.5 91.9 1018.7 73.3 1031.6 64.5C1044.5 55.6 1103.3 12.9 1112.2 8.1C1121.1 3.2 1126.7 8.9 1120.3 16.1C1113.8 23.4 1059.8 70.9 1047.7 80.6C1035.6 90.3 1005.8 111.2 999.4 112.8C992.9 114.4 980 101.5 983.2 96.7Z" fill="none" stroke="#3b8e86" stroke-width="11" stroke-linejoin="round"/>
<path d="M1434.6 8.1C1428.1 12.1 1379.8 42.7 1370.1 48.4C1360.4 54 1342.7 57.2 1337.9 64.5C1333 71.7 1329.8 109.6 1321.7 120.9C1313.7 132.2 1270.2 168.4 1257.3 177.3C1244.4 186.2 1199.2 200.7 1192.8 209.5C1186.3 218.4 1196 260.3 1192.8 266C1189.6 271.6 1175.1 261.9 1160.6 266C1146.1 270 1067.1 296.6 1047.7 306.3C1028.4 315.9 976 351.4 967.1 362.7C958.3 374 959.1 410.2 959.1 419.1C959.1 428 971.2 441.7 967.1 451.3C963.1 461 925.2 506.1 918.8 515.8C912.3 525.5 909.1 547.2 902.7 548C896.2 548.8 860.7 528.7 854.3 523.9C847.9 519 843 499.7 838.2 499.7C833.3 499.7 810 519 805.9 523.9C801.9 528.7 795.5 542.4 797.9 548C800.3 553.7 826.9 573.8 830.1 580.3C833.3 586.7 834.2 606.9 830.1 612.5C826.1 618.2 793.9 634.3 789.8 636.7" fill="none" stroke="#3b8e86" stroke-width="11" stroke-linejoin="round"/>
<path d="M959.1 644.8C959.1 642.3 982.4 616.5 991.3 612.5C1000.2 608.5 1042.9 602.8 1047.7 604.5C1052.6 606.1 1045.3 625.4 1039.7 628.6C1034 631.9 999.4 635.1 991.3 636.7C983.2 638.3 959.1 647.2 959.1 644.8Z" fill="none" stroke="#3b8e86" stroke-width="11" stroke-linejoin="round"/>
<path d="M1168.6 612.5C1171 610.9 1202.5 604.5 1208.9 604.5C1215.4 604.5 1235.5 610.9 1233.1 612.5C1230.7 614.1 1191.2 620.6 1184.7 620.6C1178.3 620.6 1166.2 614.1 1168.6 612.5Z" fill="none" stroke="#3b8e86" stroke-width="11" stroke-linejoin="round"/>
<path d="M725.3 869.6C728.6 861.6 749.5 804.2 757.6 789.8C765.6 775.4 799.5 736.6 805.9 725.3C812.4 714.1 818.8 677 822.1 677C825.3 677 835 717.3 838.2 725.3C841.4 733.4 849.5 757.6 854.3 757.6C859.1 757.6 876.9 731 886.5 725.3C896.2 719.7 934.9 706 951 701.2C967.1 696.3 1026 681.8 1047.7 677C1069.5 672.2 1144.4 656 1168.6 652.8C1192.8 649.6 1269.4 643.9 1289.5 644.8C1309.7 645.6 1354 656.8 1370.1 660.9C1386.2 664.9 1436.2 678.6 1450.7 685.1C1465.2 691.5 1503.9 716.5 1515.2 725.3C1526.5 734.2 1557.9 762.4 1563.5 773.7C1569.2 785 1574.8 828.6 1571.6 838.2C1568.4 847.8 1535.3 866.5 1531.3 869.6" fill="none" stroke="#3b8e86" stroke-width="11" stroke-linejoin="round"/>
<path d="M346.6 556.1C347.4 553.7 376.4 553.7 378.8 556.1C381.2 558.5 374 580.3 370.7 580.3C367.5 580.3 345.7 558.5 346.6 556.1Z" fill="none" stroke="#3b8e86" stroke-width="11" stroke-linejoin="round"/>
<path d="M346.6 789.8C348.2 784.2 377.2 776.9 378.8 781.8C380.4 786.6 365.9 837.4 362.7 838.2C359.5 839 344.9 795.5 346.6 789.8Z" fill="none" stroke="#3b8e86" stroke-width="11" stroke-linejoin="round"/>
<path d="M80.6 882.7C86.2 878.7 122.5 872.2 137 874.7C151.5 877.1 209.5 897.2 225.7 906.9C241.8 916.6 290.1 957.7 298.2 971.4C306.3 985.1 308.7 1035 306.3 1043.9C303.8 1052.8 282.9 1064.1 274 1060C265.2 1056 228.9 1014.9 217.6 1003.6C206.3 992.3 170.1 952.8 161.2 947.2C152.3 941.6 129.8 939.1 129 947.2C128.1 955.3 153.1 1018.9 153.1 1027.8C153.1 1036.7 135.4 1040.7 129 1035.8C122.5 1031 93.5 991.5 88.7 979.4C83.8 967.3 81.4 924.6 80.6 915C79.8 905.3 75 886.7 80.6 882.7Z" fill="none" stroke="#3b6e8e" stroke-width="11" stroke-linejoin="round"/>
<path d="M32.2 1076.1C35.5 1081 58 1114.8 64.5 1124.5C70.9 1134.2 88.7 1164.8 96.7 1172.9C104.8 1180.9 139.4 1195.4 145.1 1205.1C150.7 1214.8 155.5 1263.1 153.1 1269.6C150.7 1276 129.8 1272.8 120.9 1269.6C112 1266.3 75 1243.8 64.5 1237.3C54 1230.9 21 1208.3 16.1 1205.1" fill="none" stroke="#3b6e8e" stroke-width="11" stroke-linejoin="round"/>
<path d="M241.8 1180.9C243.4 1176.1 257.9 1168 266 1172.9C274 1177.7 315.1 1219.6 322.4 1229.3C329.6 1238.9 328.8 1262.3 338.5 1269.6C348.2 1276.8 410.2 1295.4 419.1 1301.8C428 1308.3 428.8 1329.2 427.1 1334C425.5 1338.9 411.8 1349.4 403 1350.2C394.1 1351 350.6 1346.9 338.5 1342.1C326.4 1337.3 292.6 1310.7 282.1 1301.8C271.6 1292.9 236.9 1261.5 233.7 1253.5C230.5 1245.4 249 1228.5 249.8 1221.2C250.6 1214 240.2 1185.8 241.8 1180.9Z" fill="none" stroke="#3b6e8e" stroke-width="11" stroke-linejoin="round"/>
<path d="M169.2 1100.3C171.7 1099.5 191 1105.2 193.4 1108.4C195.8 1111.6 195.8 1131.8 193.4 1132.6C191 1133.4 171.7 1119.7 169.2 1116.4C166.8 1113.2 166.8 1101.1 169.2 1100.3Z" fill="none" stroke="#3b6e8e" stroke-width="11" stroke-linejoin="round"/>
<path d="M435.2 1019.7C435.2 1016.5 448.1 1003.6 451.3 1003.6C454.6 1003.6 467.4 1016.5 467.4 1019.7C467.4 1023 454.6 1035.8 451.3 1035.8C448.1 1035.8 435.2 1023 435.2 1019.7Z" fill="none" stroke="#3b6e8e" stroke-width="11" stroke-linejoin="round"/>
<path d="M8.1 1551.7C15.3 1546.8 73.3 1541.2 80.6 1543.6C87.8 1546 84.6 1569.4 80.6 1575.8C76.6 1582.3 47.6 1606.5 40.3 1608.1C33 1609.7 11.3 1597.6 8.1 1591.9C4.8 1586.3 0.8 1556.5 8.1 1551.7Z" fill="none" stroke="#3b6e8e" stroke-width="11" stroke-linejoin="round"/>
<path d="M8.1 1672.5C12.1 1675 42.7 1690.4 48.4 1696.7C54 1703.1 62.9 1732.3 64.5 1736.2" fill="none" stroke="#3b6e8e" stroke-width="11" stroke-linejoin="round"/>
<path d="M628.6 979.4C631.9 986.7 652.8 1038.3 660.9 1052C668.9 1065.7 697.9 1104.4 709.2 1116.4C720.5 1128.5 760.8 1164.8 773.7 1172.9C786.6 1180.9 831.7 1194.6 838.2 1197" fill="none" stroke="#3b8e86" stroke-width="11" stroke-linejoin="round"/>
<path d="M725.3 874.7C729.4 888.4 757.6 991.5 765.6 1011.7C773.7 1031.8 793.9 1064.9 805.9 1076.1C818 1087.4 868.8 1116.4 886.5 1124.5C904.3 1132.6 983.2 1151.9 983.2 1156.7C983.2 1161.6 904.3 1173.7 886.5 1172.9C868.8 1172.1 814 1151.1 805.9 1148.7" fill="none" stroke="#3b8e86" stroke-width="11" stroke-linejoin="round"/>
<path d="M515.8 1253.5C520.6 1252.6 552.9 1243.8 564.2 1245.4C575.4 1247 618.2 1263.9 628.6 1269.6C639.1 1275.2 662.5 1296.2 668.9 1301.8C675.4 1307.5 687.5 1326 693.1 1326C698.8 1326 718.1 1307.5 725.3 1301.8C732.6 1296.2 757.6 1273.6 765.6 1269.6C773.7 1265.5 797.9 1264.7 805.9 1261.5C814 1258.3 843 1235.7 846.2 1237.3C849.5 1238.9 839 1273.6 838.2 1277.6" fill="none" stroke="#3b8e86" stroke-width="11" stroke-linejoin="round"/>
<path d="M693.1 1334C696.3 1335.7 715.7 1349.4 725.3 1350.2C735 1351 775.3 1342.1 789.8 1342.1C804.3 1342.1 864 1353.4 870.4 1350.2C876.9 1346.9 859.9 1315.5 854.3 1309.9C848.7 1304.2 814 1296.2 814 1293.7C814 1291.3 850.3 1286.5 854.3 1285.7" fill="none" stroke="#3b8e86" stroke-width="11" stroke-linejoin="round"/>
<path d="M515.8 1253.5C522.3 1259.9 567.4 1308.3 580.3 1317.9C593.2 1327.6 632.7 1345.3 644.8 1350.2C656.8 1355 694.7 1359.8 701.2 1366.3C707.6 1372.7 702.8 1408.2 709.2 1414.6C715.7 1421.1 750.3 1430.8 765.6 1430.8C781 1430.8 852.7 1416.3 862.4 1414.6" fill="none" stroke="#3b8e86" stroke-width="11" stroke-linejoin="round"/>
<path d="M709.2 1366.3C714.9 1367.9 747.9 1381.6 765.6 1382.4C783.4 1383.2 862.4 1376.8 886.5 1374.3C910.7 1371.9 989.7 1360.6 1007.4 1358.2C1025.2 1355.8 1060.6 1352.6 1063.8 1350.2C1067.1 1347.7 1044.5 1336.5 1039.7 1334C1034.8 1331.6 1017.9 1326.8 1015.5 1326" fill="none" stroke="#3b8e86" stroke-width="11" stroke-linejoin="round"/>
<path d="M612.5 1463C612.5 1459 633.5 1446.9 644.8 1446.9C656 1446.9 714.9 1459.8 725.3 1463C735.8 1466.2 749.5 1475.9 749.5 1479.1C749.5 1482.3 735.8 1494.4 725.3 1495.2C714.9 1496 656 1490.4 644.8 1487.2C633.5 1484 612.5 1467 612.5 1463Z" fill="none" stroke="#3b8e86" stroke-width="11" stroke-linejoin="round"/>
<path d="M975.2 1414.6C980.8 1413 1020.3 1401.7 1031.6 1398.5C1042.9 1395.3 1078.4 1382.4 1088 1382.4C1097.7 1382.4 1119.5 1398.5 1128.3 1398.5C1137.2 1398.5 1170.2 1385.6 1176.7 1382.4C1183.1 1379.2 1194.4 1363.9 1192.8 1366.3C1191.2 1368.7 1168.6 1400.9 1160.6 1406.6C1152.5 1412.2 1123.5 1421.1 1112.2 1422.7C1100.9 1424.3 1059 1421.9 1047.7 1422.7C1036.4 1423.5 1004.2 1430 999.4 1430.8" fill="none" stroke="#3b8e86" stroke-width="11" stroke-linejoin="round"/>
<path d="M1007.4 1237.3C1007.4 1233.3 1039.7 1229.3 1047.7 1229.3C1055.8 1229.3 1078.4 1237.3 1088 1237.3C1097.7 1237.3 1136.4 1228.5 1144.4 1229.3C1152.5 1230.1 1170.2 1242.2 1168.6 1245.4C1167 1248.6 1140.4 1259.1 1128.3 1261.5C1116.2 1263.9 1059.8 1272 1047.7 1269.6C1035.6 1267.2 1007.4 1241.4 1007.4 1237.3Z" fill="none" stroke="#3b8e86" stroke-width="11" stroke-linejoin="round"/>
<path d="M1499.1 874.7C1494.2 880.3 1458.8 920.6 1450.7 931.1C1442.6 941.6 1422.5 969.8 1418.5 979.4C1414.4 989.1 1415.2 1021.3 1410.4 1027.8C1405.6 1034.2 1377.4 1039.1 1370.1 1043.9C1362.8 1048.7 1345.9 1071.3 1337.9 1076.1C1329.8 1081 1296 1093.9 1289.5 1092.3C1283.1 1090.7 1277.4 1056.8 1273.4 1060C1269.4 1063.2 1252.4 1111.6 1249.2 1124.5C1246 1137.4 1240.3 1177.7 1241.2 1189C1242 1200.3 1250.8 1230.9 1257.3 1237.3C1263.7 1243.8 1298.4 1258.3 1305.6 1253.5C1312.9 1248.6 1331.4 1197 1329.8 1189C1328.2 1180.9 1297.6 1173.7 1289.5 1172.9C1281.4 1172.1 1253.2 1180.1 1249.2 1180.9" fill="none" stroke="#3b8e86" stroke-width="11" stroke-linejoin="round"/>
<path d="M1160.6 1164.8C1163.8 1157.5 1201.7 1106 1208.9 1100.3C1216.2 1094.7 1231.5 1102.7 1233.1 1108.4C1234.7 1114 1230.7 1150.3 1225 1156.7C1219.4 1163.2 1183.1 1172.1 1176.7 1172.9C1170.2 1173.7 1157.3 1172.1 1160.6 1164.8Z" fill="none" stroke="#3b8e86" stroke-width="11" stroke-linejoin="round"/>
<path d="M1305.6 1301.8C1308 1303.4 1331.4 1311.5 1329.8 1317.9C1328.2 1324.4 1300 1356.6 1289.5 1366.3C1279 1376 1233.1 1405 1225 1414.6C1217 1424.3 1206.5 1455.7 1208.9 1463C1211.3 1470.3 1241.2 1487.2 1249.2 1487.2C1257.3 1487.2 1285.5 1465.4 1289.5 1463" fill="none" stroke="#3b8e86" stroke-width="11" stroke-linejoin="round"/>
<path d="M1426.5 1180.9C1428.1 1180.9 1437.8 1206.7 1438.6 1213.2C1439.4 1219.6 1436.2 1245.4 1434.6 1245.4C1433 1245.4 1423.3 1219.6 1422.5 1213.2C1421.7 1206.7 1424.9 1180.9 1426.5 1180.9Z" fill="none" stroke="#3b8e86" stroke-width="11" stroke-linejoin="round"/>
<path d="M1354 1245.4C1355.6 1245.4 1365.3 1265.5 1366.1 1269.6C1366.9 1273.6 1363.7 1285.7 1362 1285.7C1360.4 1285.7 1350.8 1273.6 1350 1269.6C1349.1 1265.5 1352.4 1245.4 1354 1245.4Z" fill="none" stroke="#3b8e86" stroke-width="11" stroke-linejoin="round"/>
<path d="M1249.2 987.5C1250.8 985.1 1284.7 1000.4 1289.5 1003.6C1294.3 1006.8 1299.2 1017.3 1297.6 1019.7C1296 1022.1 1278.2 1031 1273.4 1027.8C1268.6 1024.6 1247.6 989.9 1249.2 987.5Z" fill="none" stroke="#3b8e86" stroke-width="11" stroke-linejoin="round"/>
<path d="M378.8 1632.2C386 1627.4 432.8 1591.9 451.3 1583.9C469.9 1575.8 540.8 1557.3 564.2 1551.7C587.5 1546 668.9 1533.1 685.1 1527.5C701.2 1521.8 724.5 1494.4 725.3 1495.2C726.2 1496 704.4 1529.1 693.1 1535.5C681.8 1542 620.6 1557.3 612.5 1559.7" fill="none" stroke="#3b8e86" stroke-width="11" stroke-linejoin="round"/>
<path d="M378.8 1632.2C389.3 1633.9 463.4 1643.5 483.6 1648.4C503.7 1653.2 560.1 1676.6 580.3 1680.6C600.4 1684.6 662.5 1687.9 685.1 1688.7C707.6 1689.5 785.8 1691.1 805.9 1688.7C826.1 1686.2 870.4 1669.3 886.5 1664.5C902.7 1659.6 951 1644.3 967.1 1640.3C983.2 1636.3 1036.4 1627.4 1047.7 1624.2C1059 1621 1088 1603.2 1080 1608.1C1071.9 1612.9 980 1659.7 967.1 1672.5C954.2 1685.4 952.6 1729.8 951 1736.2" fill="none" stroke="#3b8e86" stroke-width="11" stroke-linejoin="round"/>
<path d="M1128.3 1640.3C1136.4 1635.5 1192.8 1599.2 1208.9 1591.9C1225 1584.7 1273.4 1575.8 1289.5 1567.8C1305.6 1559.7 1354 1518.6 1370.1 1511.4C1386.2 1504.1 1434.6 1498.5 1450.7 1495.2C1466.8 1492 1517.6 1478.3 1531.3 1479.1C1545 1479.9 1582.9 1497.7 1587.7 1503.3C1592.5 1508.9 1586.9 1532.3 1579.6 1535.5C1572.4 1538.8 1524 1531.5 1515.2 1535.5C1506.3 1539.6 1497.4 1566.2 1491 1575.8C1484.5 1585.5 1457.9 1621 1450.7 1632.2C1443.4 1643.5 1426.5 1678.3 1418.5 1688.7C1410.4 1699.1 1374.9 1731.5 1370.1 1736.2" fill="none" stroke="#3b8e86" stroke-width="11" stroke-linejoin="round"/>
<path d="M999.4 1736.2C1004.2 1733.1 1038.9 1704.8 1047.7 1704.8C1056.6 1704.8 1084 1733.1 1088 1736.2" fill="none" stroke="#3b8e86" stroke-width="11" stroke-linejoin="round"/>
<path d="M1499.1 1736.2C1502.3 1729.8 1524 1682.1 1531.3 1672.5C1538.5 1663 1563.5 1646.8 1571.6 1640.3C1579.6 1633.9 1603.8 1610.5 1611.9 1608.1C1619.9 1605.6 1649 1612.9 1652.2 1616.1C1655.4 1619.4 1649.8 1637.9 1644.1 1640.3C1638.5 1642.7 1600.6 1640.3 1595.8 1640.3" fill="none" stroke="#3b8e86" stroke-width="11" stroke-linejoin="round"/>
<path d="M918.8 882.7C922 881.9 949.4 868.2 951 874.7C952.6 881.1 932.5 933.5 934.9 947.2C937.3 960.9 965.5 999.6 975.2 1011.7C984.9 1023.8 1020.3 1064.9 1031.6 1068.1C1042.9 1071.3 1077.5 1051.2 1088 1043.9C1098.5 1036.7 1132.3 1006 1136.4 995.6C1140.4 985.1 1132.3 948.8 1128.3 939.1C1124.3 929.5 1104.9 903.7 1096.1 898.8C1087.2 894 1043.7 893.2 1039.7 890.8C1035.6 888.4 1054.2 876.3 1055.8 874.7" fill="none" stroke="#5cb86a" stroke-width="11" stroke-linejoin="round"/>
<path d="M854.3 1011.7C858.3 1009.3 899.4 1015.7 910.7 1019.7C922 1023.8 960.7 1046.3 967.1 1052C973.6 1057.6 979.2 1074.5 975.2 1076.1C971.2 1077.8 937.3 1071.3 926.8 1068.1C916.4 1064.9 877.7 1049.5 870.4 1043.9C863.2 1038.3 850.3 1014.1 854.3 1011.7Z" fill="none" stroke="#3b8e86" stroke-width="11" stroke-linejoin="round"/>
<path d="M999.4 971.4C999.4 962.5 1011.9 931.5 1019.5 927C1027.2 922.6 1067.9 922.6 1075.9 927C1084 931.5 1100.1 962.5 1100.1 971.4C1100.1 980.2 1084 1011.3 1075.9 1015.7C1067.9 1020.1 1027.2 1020.1 1019.5 1015.7C1011.9 1011.3 999.4 980.2 999.4 971.4Z" fill="none" stroke="#5cc25c" stroke-width="11" stroke-linejoin="round"/>
<path d="M1023.5 971.4C1023.5 966.5 1032 949.6 1035.6 947.2C1039.3 944.8 1056.2 944.8 1059.8 947.2C1063.4 949.6 1071.9 966.5 1071.9 971.4C1071.9 976.2 1063.4 993.1 1059.8 995.6C1056.2 998 1039.3 998 1035.6 995.6C1032 993.1 1023.5 976.2 1023.5 971.4Z" fill="none" stroke="#9fd83c" stroke-width="11" stroke-linejoin="round"/>
<text transform="translate(65 242) rotate(70) scale(1.12 1)" y="36" font-family="Liberation Sans" font-size="102" text-anchor="middle" fill="#0d0d0d">271.5</text>
<text transform="translate(1096 782) rotate(10) scale(1.12 1)" y="36" font-family="Liberation Sans" font-size="102" text-anchor="middle" fill="#0d0d0d">273.0</text>
<text transform="translate(677 963) rotate(62) scale(1.12 1)" y="36" font-family="Liberation Sans" font-size="102" text-anchor="middle" fill="#0d0d0d">271.5</text>
<text transform="translate(959 1229) rotate(25) scale(1.12 1)" y="36" font-family="Liberation Sans" font-size="102" text-anchor="middle" fill="#0d0d0d">271.5</text>
<text transform="translate(1193 1568) rotate(-58) scale(1.12 1)" y="36" font-family="Liberation Sans" font-size="102" text-anchor="middle" fill="#0d0d0d">271.5</text>
<text transform="translate(32 940) rotate(60) scale(1.12 1)" y="36" font-family="Liberation Sans" font-size="102" text-anchor="middle" fill="#0d0d0d">0</text>
</g></g>
<rect x="947.5" y="852.4" width="612" height="613" fill="none" stroke="#0d0d0d" stroke-width="4.4"/>
<path d="M947.5 1465.4H936M947.5 1414.3H924.5M947.5 1363.2H936M947.5 1312.2H936M947.5 1261.1H936M947.5 1210H936M947.5 1158.9H924.5M947.5 1107.8H936M947.5 1056.7H936M947.5 1005.6H936M947.5 954.6H936M947.5 903.5H924.5M947.5 852.4H936M947.5 1465.4V1476.9M998.5 1465.4V1476.9M1049.5 1465.4V1476.9M1100.5 1465.4V1476.9M1151.5 1465.4V1488.4M1202.5 1465.4V1476.9M1253.5 1465.4V1476.9M1304.5 1465.4V1476.9M1355.5 1465.4V1476.9M1406.5 1465.4V1488.4M1457.5 1465.4V1476.9M1508.5 1465.4V1476.9M1559.5 1465.4V1476.9" stroke="#0d0d0d" stroke-width="4.5" fill="none"/>
<text x="922.2" y="1430.9" font-family="Liberation Serif" font-size="56" text-anchor="end" fill="#231f20">15°N</text>
<text x="922.2" y="1175.5" font-family="Liberation Serif" font-size="56" text-anchor="end" fill="#231f20">20°N</text>
<text x="922.2" y="920.1" font-family="Liberation Serif" font-size="56" text-anchor="end" fill="#231f20">25°N</text>
<text x="1151.5" y="1532" font-family="Liberation Serif" font-size="56" text-anchor="middle" fill="#231f20">110°E</text>
<text x="1406.5" y="1532" font-family="Liberation Serif" font-size="56" text-anchor="middle" fill="#231f20">115°E</text>
<text x="1253.5" y="826.8" font-family="Liberation Serif" font-size="56" text-anchor="middle" fill="#231f20">(f) Exp.118 500 hPa</text>
<g transform="translate(1722.5 852.4) scale(0.353111)">
<g clip-path="url(#cp)">
<rect x="-10" y="-10" width="1760" height="1760" fill="#e4e1f3"/>
<path d="M760 -50C923.3 -100 1626.7 -358.3 1800 -50C1973.3 258.3 1841.7 1491.7 1800 1800C1758.3 2108.3 1580 1850 1550 1800C1520 1750 1611.7 1583.3 1620 1500C1628.3 1416.7 1620 1358.3 1600 1300C1580 1241.7 1530 1191.7 1500 1150C1470 1108.3 1445 1083.3 1420 1050C1395 1016.7 1378.3 978.3 1350 950C1321.7 921.7 1291.7 896.7 1250 880C1208.3 863.3 1150 863.3 1100 850C1050 836.7 991.7 825 950 800C908.3 775 873.3 750 850 700C826.7 650 815 575 810 500C805 425 828.3 341.7 820 250C811.7 158.3 596.7 0 760 -50Z" fill="#b6b3de"/>
<path d="M1520 150C1540 93.3 1593.3 80 1640 60C1686.7 40 1773.3 -76.7 1800 30C1826.7 136.7 1825 596.7 1800 700C1775 803.3 1690 673.3 1650 650C1610 626.7 1581.7 601.7 1560 560C1538.3 518.3 1526.7 468.3 1520 400C1513.3 331.7 1500 206.7 1520 150Z" fill="#e4e1f3"/>
<path d="M1600 150C1633.3 103.3 1766.7 31.7 1800 120C1833.3 208.3 1825 603.3 1800 680C1775 756.7 1683.3 626.7 1650 580C1616.7 533.3 1608.3 471.7 1600 400C1591.7 328.3 1566.7 196.7 1600 150Z" fill="#fde0e5"/>
<path d="M-50 500C-16.7 376.7 91.7 510 150 520C208.3 530 250 543.3 300 560C350 576.7 413.3 593.3 450 620C486.7 646.7 511.7 673.3 520 720C528.3 766.7 515 845 500 900C485 955 463.3 1008.3 430 1050C396.7 1091.7 346.7 1121.7 300 1150C253.3 1178.3 208.3 1201.7 150 1220C91.7 1238.3 -16.7 1380 -50 1260C-83.3 1140 -83.3 623.3 -50 500Z" fill="#b6b3de"/>
<path d="M-50 1400C-25 1341.7 58.3 1416.7 100 1450C141.7 1483.3 158.3 1558.3 200 1600C241.7 1641.7 316.7 1666.7 350 1700C383.3 1733.3 466.7 1783.3 400 1800C333.3 1816.7 25 1866.7 -50 1800C-125 1733.3 -75 1458.3 -50 1400Z" fill="#b6b3de"/>
<path d="M870 480C870 421.7 878.3 351.7 900 300C921.7 248.3 958.3 203.3 1000 170C1041.7 136.7 1108.3 111.7 1150 100C1191.7 88.3 1225 83.3 1250 100C1275 116.7 1276.7 166.7 1300 200C1323.3 233.3 1370 258.3 1390 300C1410 341.7 1416.7 400 1420 450C1423.3 500 1421.7 555 1410 600C1398.3 645 1385 690 1350 720C1315 750 1258.3 776.7 1200 780C1141.7 783.3 1050 761.7 1000 740C950 718.3 921.7 693.3 900 650C878.3 606.7 870 538.3 870 480Z" fill="#6468bc"/>
<path d="M1420 800C1441.7 775 1486.7 763.3 1550 750C1613.3 736.7 1758.3 545 1800 720C1841.7 895 1833.3 1620 1800 1800C1766.7 1980 1625 1850 1600 1800C1575 1750 1646.7 1583.3 1650 1500C1653.3 1416.7 1641.7 1358.3 1620 1300C1598.3 1241.7 1548.3 1200 1520 1150C1491.7 1100 1466.7 1041.7 1450 1000C1433.3 958.3 1425 933.3 1420 900C1415 866.7 1398.3 825 1420 800Z" fill="#6468bc"/>
<path d="M-50 580C-8.3 476.7 128.3 573.3 200 580C271.7 586.7 333.3 600 380 620C426.7 640 465 661.7 480 700C495 738.3 483.3 800 470 850C456.7 900 436.7 958.3 400 1000C363.3 1041.7 300 1070 250 1100C200 1130 150 1163.3 100 1180C50 1196.7 -25 1300 -50 1200C-75 1100 -91.7 683.3 -50 580Z" fill="#6468bc"/>
<path d="M-50 640C0 566.7 175 633.3 250 640C325 646.7 371.7 653.3 400 680C428.3 706.7 428.3 755 420 800C411.7 845 386.7 911.7 350 950C313.3 988.3 250 1008.3 200 1030C150 1051.7 91.7 1071.7 50 1080C8.3 1088.3 -33.3 1153.3 -50 1080C-66.7 1006.7 -100 713.3 -50 640Z" fill="#4a5aaf"/>
<path d="M1640 1600C1663.3 1550 1773.3 1466.7 1800 1500C1826.7 1533.3 1823.3 1750 1800 1800C1776.7 1850 1686.7 1833.3 1660 1800C1633.3 1766.7 1616.7 1650 1640 1600Z" fill="#4a5aaf"/>
<path d="M1550 930C1556.7 916.7 1585 915 1600 920C1615 925 1636.7 945 1640 960C1643.3 975 1633.3 1003.3 1620 1010C1606.7 1016.7 1571.7 1013.3 1560 1000C1548.3 986.7 1543.3 943.3 1550 930Z" fill="#4a5aaf"/>
<path d="M130 300C146.7 260 196.7 205 250 180C303.3 155 388.3 150 450 150C511.7 150 578.3 155 620 180C661.7 205 686.7 255 700 300C713.3 345 713.3 408.3 700 450C686.7 491.7 653.3 528.3 620 550C586.7 571.7 553.3 585 500 580C446.7 575 358.3 546.7 300 520C241.7 493.3 178.3 456.7 150 420C121.7 383.3 113.3 340 130 300Z" fill="#fde0e5"/>
<path d="M540 620C560 588.3 606.7 570 640 570C673.3 570 713.3 585 740 620C766.7 655 781.7 733.3 800 780C818.3 826.7 825 863.3 850 900C875 936.7 916.7 973.3 950 1000C983.3 1026.7 1008.3 1046.7 1050 1060C1091.7 1073.3 1150 1080 1200 1080C1250 1080 1308.3 1060 1350 1060C1391.7 1060 1416.7 1065 1450 1080C1483.3 1095 1520 1113.3 1550 1150C1580 1186.7 1613.3 1250 1630 1300C1646.7 1350 1655 1400 1650 1450C1645 1500 1616.7 1541.7 1600 1600C1583.3 1658.3 1746.7 1766.7 1550 1800C1353.3 1833.3 628.3 1830 420 1800C211.7 1770 338.3 1673.3 300 1620C261.7 1566.7 206.7 1530 190 1480C173.3 1430 178.3 1366.7 200 1320C221.7 1273.3 278.3 1233.3 320 1200C361.7 1166.7 416.7 1145 450 1120C483.3 1095 505 1086.7 520 1050C535 1013.3 540 948.3 540 900C540 851.7 520 806.7 520 760C520 713.3 520 651.7 540 620Z" fill="#fde0e5"/>
<path d="M320 360C335 340 386.7 316.7 420 310C453.3 303.3 491.7 308.3 520 320C548.3 331.7 575 356.7 590 380C605 403.3 613.3 436.7 610 460C606.7 483.3 591.7 505 570 520C548.3 535 511.7 553.3 480 550C448.3 546.7 405 520 380 500C355 480 340 453.3 330 430C320 406.7 305 380 320 360Z" fill="#f6a9b6"/>
<path d="M520 1380C520 1356.7 533.3 1318.3 560 1300C586.7 1281.7 636.7 1271.7 680 1270C723.3 1268.3 791.7 1280 820 1290C848.3 1300 853.3 1315 850 1330C846.7 1345 816.7 1360 800 1380C783.3 1400 775 1436.7 750 1450C725 1463.3 681.7 1461.7 650 1460C618.3 1458.3 581.7 1453.3 560 1440C538.3 1426.7 520 1403.3 520 1380Z" fill="#f6a9b6"/>
<path d="M1100 1250C1100 1223.3 1116.7 1190 1150 1170C1183.3 1150 1250 1130 1300 1130C1350 1130 1406.7 1146.7 1450 1170C1493.3 1193.3 1536.7 1231.7 1560 1270C1583.3 1308.3 1600 1361.7 1590 1400C1580 1438.3 1523.3 1463.3 1500 1500C1476.7 1536.7 1470 1595 1450 1620C1430 1645 1405 1660 1380 1650C1355 1640 1326.7 1601.7 1300 1560C1273.3 1518.3 1245 1438.3 1220 1400C1195 1361.7 1170 1355 1150 1330C1130 1305 1100 1276.7 1100 1250Z" fill="#f6a9b6"/>
<path d="M1400 1320C1410 1305 1440 1283.3 1460 1280C1480 1276.7 1506.7 1286.7 1520 1300C1533.3 1313.3 1543.3 1341.7 1540 1360C1536.7 1378.3 1518.3 1401.7 1500 1410C1481.7 1418.3 1446.7 1416.7 1430 1410C1413.3 1403.3 1405 1385 1400 1370C1395 1355 1390 1335 1400 1320Z" fill="#f05a75"/>
<path d="M1790 180C1781 187.5 1759.3 203.3 1736 225C1712.7 246.7 1679.3 285.8 1650 310C1620.7 334.2 1585 350 1560 370C1535 390 1526.7 415.8 1500 430C1473.3 444.2 1433.3 448.3 1400 455C1366.7 461.7 1333.3 460 1300 470C1266.7 480 1233.3 502.5 1200 515C1166.7 527.5 1133.3 532.5 1100 545C1066.7 557.5 1038.3 580 1000 590C961.7 600 906.7 596.7 870 605C833.3 613.3 808.3 630 780 640C751.7 650 725 655 700 665C675 675 646.7 702.5 630 700C613.3 697.5 618.3 665.8 600 650C581.7 634.2 553.3 613.3 520 605C486.7 596.7 431.7 596.7 400 600C368.3 603.3 355 614.2 330 625C305 635.8 271.7 651.7 250 665C228.3 678.3 221.7 693.3 200 705C178.3 716.7 138.3 723.3 120 735C101.7 746.7 103.3 762.5 90 775C76.7 787.5 61.7 795.8 40 810C18.3 824.2 -26.7 851.7 -40 860" fill="none" stroke="#aca9b0" stroke-opacity="0.62" stroke-width="13" stroke-linejoin="round" stroke-linecap="round"/>
<path d="M-40 1120C-26.7 1128.3 11.7 1143.3 40 1170C68.3 1196.7 100 1246.7 130 1280C160 1313.3 190 1341.7 220 1370C250 1398.3 283.3 1420 310 1450C336.7 1480 360 1516.7 380 1550C400 1583.3 416.7 1610 430 1650C443.3 1690 455 1766.7 460 1790" fill="none" stroke="#aca9b0" stroke-opacity="0.62" stroke-width="13" stroke-linejoin="round" stroke-linecap="round"/>
<path d="M450 885C468.3 881.2 526.7 867.5 560 862C593.3 856.5 623.3 845.7 650 852C676.7 858.3 710.8 875.3 720 900C729.2 924.7 718.3 975 705 1000C691.7 1025 664.2 1033.3 640 1050C615.8 1066.7 583.3 1088 560 1100C536.7 1112 523.3 1122 500 1122C476.7 1122 439.7 1112 420 1100C400.3 1088 388.7 1073.3 382 1050C375.3 1026.7 368.7 987.5 380 960C391.3 932.5 438.3 897.5 450 885" fill="none" stroke="#aca9b0" stroke-opacity="0.62" stroke-width="13" stroke-linejoin="round" stroke-linecap="round"/>
<path d="M8.1 64.5C12.1 72.5 37.9 135.4 48.4 145.1C58.8 154.7 103.2 153.1 112.8 161.2C122.5 169.2 135.4 214.4 145.1 225.7C154.7 236.9 205.5 264.3 209.5 274C213.6 283.7 187 311.1 185.4 322.4C183.8 333.7 196.6 379.6 193.4 386.9C190.2 394.1 162 398.1 153.1 394.9C144.3 391.7 112.8 363.5 104.8 354.6C96.7 345.7 78.2 313.5 72.5 306.3C66.9 299 54.8 284.5 48.4 282.1C41.9 279.7 12.1 282.1 8.1 282.1" fill="none" stroke="#3b8e86" stroke-width="11" stroke-linejoin="round"/>
<path d="M32.2 8.1C33.8 13.7 41.1 57.2 48.4 64.5C55.6 71.7 95.1 79.8 104.8 80.6C114.4 81.4 137.8 70.9 145.1 72.5C152.3 74.1 172.5 91.1 177.3 96.7C182.1 102.4 195 125.7 193.4 129C191.8 132.2 167.6 132.2 161.2 129C154.7 125.7 133.8 108.8 129 96.7C124.1 84.6 114.4 16.9 112.8 8.1" fill="none" stroke="#3b8e86" stroke-width="11" stroke-linejoin="round"/>
<path d="M201.5 8.1C207.9 7.3 256.3 10.5 266 16.1C275.6 21.8 297.4 56.4 298.2 64.5C299 72.5 279.7 98.3 274 96.7C268.4 95.1 249 55.6 241.8 48.4C234.5 41.1 205.5 28.2 201.5 24.2C197.5 20.1 195 8.9 201.5 8.1Z" fill="none" stroke="#3b8e86" stroke-width="11" stroke-linejoin="round"/>
<path d="M274 96.7C274 103.2 273.2 152.3 274 161.2C274.8 170.1 285.3 177.3 282.1 185.4C278.9 193.4 244.2 231.3 241.8 241.8C239.4 252.3 249.8 281.3 257.9 290.1C266 299 311.1 321.6 322.4 330.4C333.7 339.3 358.6 374.8 370.7 378.8C382.8 382.8 428.8 374 443.3 370.7C457.8 367.5 505.3 353 515.8 346.6C526.3 340.1 548 316.7 548 306.3C548 295.8 516.6 251.5 515.8 241.8C515 232.1 534.3 212 540 209.5C545.6 207.1 567.4 212.8 572.2 217.6C577.1 222.4 588.3 249 588.3 257.9C588.3 266.8 575.4 298.2 572.2 306.3C569 314.3 554.5 333.7 556.1 338.5C557.7 343.3 579.5 354.6 588.3 354.6C597.2 354.6 635.1 344.9 644.8 338.5C654.4 332 680.2 299 685.1 290.1C689.9 281.3 690.7 255.5 693.1 249.8C695.5 244.2 702.8 236.1 709.2 233.7C715.7 231.3 747.9 224.9 757.6 225.7C767.3 226.5 796.3 239.4 805.9 241.8C815.6 244.2 847 249 854.3 249.8C861.6 250.6 876.9 251.5 878.5 249.8C880.1 248.2 877.7 239.4 870.4 233.7C863.2 228.1 818 200.7 805.9 193.4C793.9 186.2 759.2 167.6 749.5 161.2C739.9 154.7 713.3 132.2 709.2 129" fill="none" stroke="#3b8e86" stroke-width="11" stroke-linejoin="round"/>
<path d="M338.5 161.2C341.7 165.2 364.3 196.6 370.7 201.5C377.2 206.3 398.9 213.6 403 209.5C407 205.5 411.8 168.4 411 161.2C410.2 153.9 396.5 139.4 394.9 137" fill="none" stroke="#3b8e86" stroke-width="11" stroke-linejoin="round"/>
<path d="M531.9 56.4C536.8 59.6 572.2 83.8 580.3 88.7C588.3 93.5 606.1 99.1 612.5 104.8C619 110.4 638.3 136.2 644.8 145.1C651.2 153.9 671.4 184.6 677 193.4C682.6 202.3 698.8 225.7 701.2 233.7C703.6 241.8 698.8 267.6 701.2 274C703.6 280.5 718.9 295 725.3 298.2C731.8 301.4 762.4 302.2 765.6 306.3C768.9 310.3 764 332.9 757.6 338.5C751.1 344.1 707.6 358.6 701.2 362.7C694.7 366.7 690.7 374.8 693.1 378.8C695.5 382.8 726.2 398.1 725.3 403C724.5 407.8 694.7 420.7 685.1 427.1C675.4 433.6 640.7 455.4 628.6 467.4C616.5 479.5 575.4 536.8 564.2 548C552.9 559.3 524.7 573 515.8 580.3C506.9 587.5 481.1 611.7 475.5 620.6C469.9 629.4 461.8 658.5 459.4 668.9C457 679.4 449.7 713.3 451.3 725.3C452.9 737.4 472.3 779.3 475.5 789.8C478.7 800.3 476.3 823.7 483.6 830.1C490.8 836.6 538.4 850.3 548 854.3C557.7 858.2 577.1 868.1 580.3 869.6" fill="none" stroke="#3b8e86" stroke-width="11" stroke-linejoin="round"/>
<path d="M604.5 588.3C608.5 584.3 634.3 555.3 644.8 548C655.2 540.8 700.4 518.2 709.2 515.8C718.1 513.4 731.8 519 733.4 523.9C735 528.7 722.1 555.3 725.3 564.2C728.6 573 757.6 607.7 765.6 612.5C773.7 617.4 797.9 617.4 805.9 612.5C814 607.7 839 565.8 846.2 564.2C853.5 562.5 873.6 589.9 878.5 596.4C883.3 602.8 885.7 627 894.6 628.6C903.5 630.2 951.8 618.2 967.1 612.5C982.4 606.9 1030 581.9 1047.7 572.2C1065.5 562.5 1128.3 523.1 1144.4 515.8C1160.6 508.5 1202.5 501.3 1208.9 499.7" fill="none" stroke="#3b8e86" stroke-width="11" stroke-linejoin="round"/>
<path d="M668.9 556.1C671.4 554.5 704.4 547.6 709.2 548C714.1 548.4 719.7 558.5 717.3 560.1C714.9 561.7 689.9 564.6 685.1 564.2C680.2 563.8 666.5 557.7 668.9 556.1Z" fill="none" stroke="#3b8e86" stroke-width="11" stroke-linejoin="round"/>
<path d="M822.1 137C823.7 133 839.8 102.4 838.2 96.7C836.6 91.1 809.2 82.2 805.9 80.6" fill="none" stroke="#3b8e86" stroke-width="11" stroke-linejoin="round"/>
<path d="M1080 80.6C1083.2 77.4 1106.6 55.6 1112.2 48.4C1117.8 41.1 1134 12.1 1136.4 8.1" fill="none" stroke="#3b8e86" stroke-width="11" stroke-linejoin="round"/>
<path d="M1088 80.6C1090.4 85.4 1106.6 120.1 1112.2 129C1117.8 137.8 1140.4 162 1144.4 169.2C1148.5 176.5 1155.7 196.6 1152.5 201.5C1149.3 206.3 1117.8 213.6 1112.2 217.6C1106.6 221.6 1097.7 239.4 1096.1 241.8" fill="none" stroke="#3b8e86" stroke-width="11" stroke-linejoin="round"/>
<path d="M926.8 185.4C923.6 180.5 916.4 150.7 918.8 145.1C921.2 139.4 941.3 131.4 951 129C960.7 126.5 1003.4 120.9 1015.5 120.9C1027.6 120.9 1063.8 124.9 1071.9 129C1080 133 1097.7 156.4 1096.1 161.2C1094.5 166 1063.8 178.1 1055.8 177.3C1047.7 176.5 1023.5 153.9 1015.5 153.1C1007.4 152.3 981.6 165.2 975.2 169.2C968.7 173.3 955.8 191.8 951 193.4C946.2 195 930.1 190.2 926.8 185.4Z" fill="none" stroke="#3b8e86" stroke-width="11" stroke-linejoin="round"/>
<path d="M1321.7 24.2C1326.6 23.4 1362 13.7 1370.1 16.1C1378.2 18.5 1403.1 42.7 1402.3 48.4C1401.5 54 1369.3 72.5 1362 72.5C1354.8 72.5 1337.1 47.6 1329.8 48.4C1322.6 49.2 1296.8 71.7 1289.5 80.6C1282.3 89.5 1266.1 129 1257.3 137C1248.4 145.1 1208.9 152.3 1200.9 161.2C1192.8 170.1 1177.5 213.6 1176.7 225.7C1175.9 237.8 1188 271.6 1192.8 282.1C1197.6 292.6 1217.8 324 1225 330.4C1232.3 336.9 1263.7 342.5 1265.3 346.6C1266.9 350.6 1246.8 363.5 1241.2 370.7C1235.5 378 1212.9 409.4 1208.9 419.1C1204.9 428.8 1199.2 461 1200.9 467.4C1202.5 473.9 1219.4 485.2 1225 483.6C1230.7 482 1246.8 457.8 1257.3 451.3C1267.7 444.9 1316.9 423.1 1329.8 419.1C1342.7 415.1 1382.2 416.7 1386.2 411C1390.3 405.4 1375.7 369.1 1370.1 362.7C1364.5 356.2 1333.8 348.2 1329.8 346.6" fill="none" stroke="#3b8e86" stroke-width="11" stroke-linejoin="round"/>
<path d="M1031.6 290.1C1038.1 291.8 1086.4 306.3 1096.1 306.3C1105.8 306.3 1122.7 289.3 1128.3 290.1C1134 290.9 1144.4 311.1 1152.5 314.3C1160.6 317.5 1199.2 320 1208.9 322.4C1218.6 324.8 1245.2 336.9 1249.2 338.5" fill="none" stroke="#3b8e86" stroke-width="11" stroke-linejoin="round"/>
<path d="M934.9 370.7C939.7 364.3 984.9 354.6 991.3 354.6C997.8 354.6 1003.4 365.9 999.4 370.7C995.3 375.6 956.7 398.1 951 403C945.4 407.8 944.6 422.3 943 419.1C941.3 415.9 930.1 377.2 934.9 370.7Z" fill="none" stroke="#5cb86a" stroke-width="11" stroke-linejoin="round"/>
<path d="M1120.3 531.9C1124.3 535.1 1154.1 556.1 1160.6 564.2C1167 572.2 1188.8 602.8 1184.7 612.5C1180.7 622.2 1134 653.6 1120.3 660.9C1106.6 668.1 1064.6 678.6 1047.7 685.1C1030.8 691.5 967.9 714.1 951 725.3C934.1 736.6 888.1 783.5 878.5 797.9C868.8 812.3 856.7 862.4 854.3 869.6" fill="none" stroke="#3b8e86" stroke-width="11" stroke-linejoin="round"/>
<path d="M1144.4 515.8C1150.9 519 1194.4 543.2 1208.9 548C1223.4 552.9 1275 560.9 1289.5 564.2C1304 567.4 1349.1 575.4 1354 580.3C1358.8 585.1 1347.5 606.9 1337.9 612.5C1328.2 618.2 1265.3 631.9 1257.3 636.7C1249.2 641.5 1246 654.4 1257.3 660.9C1268.6 667.3 1352.4 694.7 1370.1 701.2C1387.8 707.6 1424.9 718.1 1434.6 725.3C1444.2 732.6 1457.1 767.3 1466.8 773.7C1476.5 780.2 1526.5 785 1531.3 789.8C1536.1 794.7 1519.2 814.1 1515.2 822.1C1511.1 830 1493.4 864.9 1491 869.6" fill="none" stroke="#3b8e86" stroke-width="11" stroke-linejoin="round"/>
<path d="M1313.7 797.9C1319.3 798.7 1359.6 801.9 1370.1 805.9C1380.6 810 1410.4 831.8 1418.5 838.2C1426.5 844.5 1447.5 866.5 1450.7 869.6" fill="none" stroke="#3b8e86" stroke-width="11" stroke-linejoin="round"/>
<path d="M1007.4 797.9C1001.8 803.5 957.5 847.1 951 854.3C944.6 861.5 943.8 868.1 943 869.6" fill="none" stroke="#5cb86a" stroke-width="11" stroke-linejoin="round"/>
<path d="M266 789.8C265.2 786.6 284.5 774.5 290.1 773.7C295.8 772.9 321.6 778.5 322.4 781.8C323.2 785 303.8 805.1 298.2 805.9C292.6 806.7 266.8 793 266 789.8Z" fill="none" stroke="#3b8e86" stroke-width="11" stroke-linejoin="round"/>
<path d="M362.7 838.2C363.5 835 392.5 791.4 394.9 789.8C397.3 788.2 390.1 817.2 386.9 822.1C383.6 826.9 361.9 841.4 362.7 838.2Z" fill="none" stroke="#3b8e86" stroke-width="11" stroke-linejoin="round"/>
<path d="M644.8 668.9C647.2 674.6 665.7 714.9 668.9 725.3C672.2 735.8 673 772.1 677 773.7C681 775.3 703.6 743.1 709.2 741.5C714.9 739.9 730.2 751.1 733.4 757.6C736.6 764 742.3 794.7 741.5 805.9C740.7 817.1 727 863.2 725.3 869.6" fill="none" stroke="#3b8e86" stroke-width="11" stroke-linejoin="round"/>
<path d="M16.1 1205.1C22.6 1206.7 67.7 1214.8 80.6 1221.2C93.5 1227.7 133.8 1259.9 145.1 1269.6C156.4 1279.2 181.3 1308.3 193.4 1317.9C205.5 1327.6 247.4 1360.6 266 1366.3C284.5 1371.9 365.1 1376 378.8 1374.3C392.5 1372.7 403 1360.6 403 1350.2C403 1339.7 382 1280.9 378.8 1269.6C375.6 1258.3 378 1243.8 370.7 1237.3C363.5 1230.9 319.2 1211.5 306.3 1205.1C293.4 1198.6 256.3 1180.1 241.8 1172.9C227.3 1165.6 174.9 1137.4 161.2 1132.6C147.5 1127.7 110.4 1125.3 104.8 1124.5" fill="none" stroke="#3b6e8e" stroke-width="11" stroke-linejoin="round"/>
<path d="M435.2 1326C440 1320.3 472.3 1316.3 483.6 1317.9C494.8 1319.5 542.4 1337.3 548 1342.1C553.7 1346.9 546.4 1362.3 540 1366.3C533.5 1370.3 494 1381.6 483.6 1382.4C473.1 1383.2 440 1380 435.2 1374.3C430.4 1368.7 430.4 1331.6 435.2 1326Z" fill="none" stroke="#3b6e8e" stroke-width="11" stroke-linejoin="round"/>
<path d="M96.7 1422.7C103.2 1419.5 146.7 1413.8 161.2 1414.6C175.7 1415.4 232.1 1426.7 241.8 1430.8C251.5 1434.8 259.5 1450.9 257.9 1454.9C256.3 1459 239.4 1470.3 225.7 1471.1C212 1471.9 133.8 1465.4 120.9 1463C108 1460.6 99.1 1450.9 96.7 1446.9C94.3 1442.8 90.3 1425.9 96.7 1422.7Z" fill="none" stroke="#3b6e8e" stroke-width="11" stroke-linejoin="round"/>
<path d="M564.2 866.6C569 869 602 889.2 612.5 890.8C623 892.4 661.7 877.1 668.9 882.7C676.2 888.4 679.4 935.1 685.1 947.2C690.7 959.3 716.5 994.7 725.3 1003.6C734.2 1012.5 765.6 1029.4 773.7 1035.8C781.8 1042.3 800.3 1064.1 805.9 1068.1C811.6 1072.1 828.5 1080.2 830.1 1076.1C831.7 1072.1 827.7 1038.3 822.1 1027.8C816.4 1017.3 781 981.8 773.7 971.4C766.5 960.9 752.8 933.5 749.5 923C746.3 912.5 742.3 872.2 741.5 866.6" fill="none" stroke="#3b8e86" stroke-width="11" stroke-linejoin="round"/>
<path d="M838.2 866.6C835 873 809.2 919.8 805.9 931.1C802.7 942.4 802.7 970.6 805.9 979.4C809.2 988.3 831.7 1012.5 838.2 1019.7C844.6 1027 865.6 1043.1 870.4 1052C875.3 1060.8 887.3 1101.1 886.5 1108.4C885.7 1115.6 859.1 1121.3 862.4 1124.5C865.6 1127.7 908.3 1137.4 918.8 1140.6C929.3 1143.8 957.5 1153.5 967.1 1156.7C976.8 1160 1013.9 1169.6 1015.5 1172.9C1017.1 1176.1 991.3 1187.4 983.2 1189C975.2 1190.6 940.5 1185.8 934.9 1189C929.3 1192.2 923.6 1216.4 926.8 1221.2C930.1 1226.1 959.1 1233.3 967.1 1237.3C975.2 1241.4 999.4 1259.9 1007.4 1261.5C1015.5 1263.1 1042.1 1259.1 1047.7 1253.5C1053.4 1247.8 1059 1213.2 1063.8 1205.1C1068.7 1197 1088 1179.3 1096.1 1172.9C1104.1 1166.4 1134.8 1147.1 1144.4 1140.6C1154.1 1134.2 1184.7 1112.4 1192.8 1108.4C1200.9 1104.4 1221.8 1101.1 1225 1100.3" fill="none" stroke="#3b8e86" stroke-width="11" stroke-linejoin="round"/>
<path d="M677 1261.5C679.4 1259.1 691.5 1240.6 701.2 1237.3C710.8 1234.1 758.4 1229.3 773.7 1229.3C789 1229.3 843.8 1234.9 854.3 1237.3C864.8 1239.8 876.1 1247 878.5 1253.5C880.9 1259.9 874.4 1296.2 878.5 1301.8C882.5 1307.5 908.3 1311.5 918.8 1309.9C929.3 1308.3 972 1289.7 983.2 1285.7C994.5 1281.7 1023.5 1270.4 1031.6 1269.6C1039.7 1268.8 1054.2 1279.2 1063.8 1277.6C1073.5 1276 1116.2 1262.3 1128.3 1253.5C1140.4 1244.6 1179.1 1195.4 1184.7 1189" fill="none" stroke="#3b8e86" stroke-width="11" stroke-linejoin="round"/>
<path d="M709.2 1301.8C710 1305.8 713.3 1336.5 717.3 1342.1C721.3 1347.7 742.3 1354.2 749.5 1358.2C756.8 1362.3 784.2 1376.8 789.8 1382.4C795.5 1388 796.3 1412.2 805.9 1414.6C815.6 1417.1 870.4 1407.4 886.5 1406.6C902.7 1405.8 951 1407.4 967.1 1406.6C983.2 1405.8 1031.6 1400.1 1047.7 1398.5C1063.8 1396.9 1113.8 1393.7 1128.3 1390.5C1142.8 1387.2 1188 1365.5 1192.8 1366.3C1197.6 1367.1 1183.1 1392.1 1176.7 1398.5C1170.2 1405 1141.2 1424.3 1128.3 1430.8C1115.4 1437.2 1059 1457.4 1047.7 1463C1036.4 1468.6 1023.5 1483.1 1015.5 1487.2C1007.4 1491.2 977.6 1502.5 967.1 1503.3C956.7 1504.1 922 1497.7 910.7 1495.2C899.4 1492.8 867.2 1481.5 854.3 1479.1C841.4 1476.7 794.7 1472.7 781.8 1471.1C768.9 1469.4 735 1463 725.3 1463C715.7 1463 693.1 1468.6 685.1 1471.1C677 1473.5 652.8 1484 644.8 1487.2C636.7 1490.4 612.5 1502.5 604.5 1503.3C596.4 1504.1 572.2 1492.8 564.2 1495.2C556.1 1497.7 531.9 1521 523.9 1527.5C515.8 1533.9 493.2 1552.5 483.6 1559.7C473.9 1567 436.8 1594.4 427.1 1600C417.5 1605.6 387.7 1613.7 386.9 1616.1C386 1618.5 412.6 1621.8 419.1 1624.2C425.5 1626.6 448.9 1635.5 451.3 1640.3C453.7 1645.1 441.7 1667.7 443.3 1672.5C444.9 1677.4 459.4 1687.9 467.4 1688.7C475.5 1689.5 515 1687.9 523.9 1680.6C532.7 1673.3 547.2 1625.8 556.1 1616.1C565 1606.5 599.6 1587.9 612.5 1583.9C625.4 1579.9 672.2 1576.6 685.1 1575.8C697.9 1575 729.4 1578.2 741.5 1575.8C753.6 1573.4 791.4 1554.9 805.9 1551.7C820.4 1548.4 874.4 1544.4 886.5 1543.6C898.6 1542.8 918.8 1546 926.8 1543.6C934.9 1541.2 956.7 1523.4 967.1 1519.4C977.6 1515.4 1025.2 1504.9 1031.6 1503.3" fill="none" stroke="#3b8e86" stroke-width="11" stroke-linejoin="round"/>
<path d="M886.5 1608.1C890.6 1604.8 936.5 1597.6 951 1591.9C965.5 1586.3 1015.5 1559.7 1031.6 1551.7C1047.7 1543.6 1097.7 1517.8 1112.2 1511.4C1126.7 1504.9 1173.5 1485.6 1176.7 1487.2C1179.9 1488.8 1157.3 1518.6 1144.4 1527.5C1131.5 1536.3 1065.5 1567 1047.7 1575.8C1030 1584.7 980.8 1611.3 967.1 1616.1C953.4 1621 918.8 1625 910.7 1624.2C902.7 1623.4 882.5 1611.3 886.5 1608.1Z" fill="none" stroke="#3b8e86" stroke-width="11" stroke-linejoin="round"/>
<path d="M878.5 1736.2C880.9 1732.3 893.8 1699.9 902.7 1696.7C911.5 1693.6 955.8 1705.6 967.1 1704.8C978.4 1704 1005.8 1691.1 1015.5 1688.7C1025.2 1686.2 1058.2 1675.8 1063.8 1680.6C1069.5 1685.4 1071.1 1730.7 1071.9 1736.2" fill="none" stroke="#3b8e86" stroke-width="11" stroke-linejoin="round"/>
<path d="M1265.3 1301.8C1264.5 1306.6 1260.5 1338.9 1257.3 1350.2C1254 1361.4 1231.5 1407.4 1233.1 1414.6C1234.7 1421.9 1266.1 1419.5 1273.4 1422.7C1280.6 1425.9 1300 1434.8 1305.6 1446.9C1311.3 1459 1323.4 1531.5 1329.8 1543.6C1336.3 1555.7 1362.8 1561.3 1370.1 1567.8C1377.4 1574.2 1400.7 1600.8 1402.3 1608.1C1404 1615.3 1389.4 1633.9 1386.2 1640.3C1383 1646.8 1375.7 1664.5 1370.1 1672.5C1364.5 1680.6 1333.8 1716.1 1329.8 1720.9" fill="none" stroke="#3b8e86" stroke-width="11" stroke-linejoin="round"/>
<path d="M1370.1 1205.1C1370.1 1199.5 1389.4 1174.5 1394.3 1172.9C1399.1 1171.2 1418.5 1183.3 1418.5 1189C1418.5 1194.6 1399.1 1227.7 1394.3 1229.3C1389.4 1230.9 1370.1 1210.7 1370.1 1205.1Z" fill="none" stroke="#3b8e86" stroke-width="11" stroke-linejoin="round"/>
<path d="M1442.6 1027.8C1443.4 1023.8 1453.9 1015.7 1458.8 1019.7C1463.6 1023.8 1489.4 1061.6 1491 1068.1C1492.6 1074.5 1478.9 1085 1474.9 1084.2C1470.8 1083.4 1453.9 1065.7 1450.7 1060C1447.5 1054.4 1441.8 1031.8 1442.6 1027.8Z" fill="none" stroke="#3b8e86" stroke-width="11" stroke-linejoin="round"/>
<path d="M1450.7 1108.4C1453.1 1103.5 1471.7 1094.7 1474.9 1100.3C1478.1 1106 1483.7 1155.1 1482.9 1164.8C1482.1 1174.5 1470 1198.6 1466.8 1197C1463.6 1195.4 1452.3 1157.5 1450.7 1148.7C1449.1 1139.8 1448.3 1113.2 1450.7 1108.4Z" fill="none" stroke="#3b8e86" stroke-width="11" stroke-linejoin="round"/>
<path d="M1386.2 1495.2C1385.4 1493.6 1428.9 1464.6 1434.6 1463C1440.2 1461.4 1447.5 1475.9 1442.6 1479.1C1437.8 1482.3 1387 1496.8 1386.2 1495.2Z" fill="none" stroke="#3b8e86" stroke-width="11" stroke-linejoin="round"/>
<path d="M1507.1 1600C1509.5 1596.8 1535.3 1583.9 1539.4 1583.9C1543.4 1583.9 1549.8 1596.8 1547.4 1600C1545 1603.2 1519.2 1616.1 1515.2 1616.1C1511.1 1616.1 1504.7 1603.2 1507.1 1600Z" fill="none" stroke="#3b8e86" stroke-width="11" stroke-linejoin="round"/>
<path d="M1410.4 866.6C1414.4 871.4 1442.6 905.3 1450.7 915C1458.8 924.6 1482.9 956.9 1491 963.3C1499.1 969.8 1522.4 973 1531.3 979.4C1540.2 985.9 1571.6 1018.9 1579.6 1027.8C1587.7 1036.7 1611.1 1064.9 1611.9 1068.1C1612.7 1071.3 1594.2 1065.7 1587.7 1060C1581.3 1054.4 1554.7 1018.9 1547.4 1011.7C1540.2 1004.4 1518.4 989.9 1515.2 987.5" fill="none" stroke="#3b8e86" stroke-width="11" stroke-linejoin="round"/>
<path d="M1571.6 890.8C1573.2 889.2 1599.8 896.4 1603.8 898.8C1607.9 901.3 1613.5 913.3 1611.9 915C1610.3 916.6 1591.7 917.4 1587.7 915C1583.7 912.5 1570 892.4 1571.6 890.8Z" fill="none" stroke="#3b8e86" stroke-width="11" stroke-linejoin="round"/>
<path d="M934.9 874.7C934.1 881.9 925.2 934.3 926.8 947.2C928.4 960.1 941.3 994.7 951 1003.6C960.7 1012.5 1009 1035.8 1023.5 1035.8C1038.1 1035.8 1086.4 1012.5 1096.1 1003.6C1105.8 994.7 1120.3 957.7 1120.3 947.2C1120.3 936.7 1100.9 906.1 1096.1 898.8C1091.2 891.6 1074.3 877.1 1071.9 874.7" fill="none" stroke="#5cb86a" stroke-width="11" stroke-linejoin="round"/>
<path d="M995.3 947.2C995.3 938.3 1011.5 907.3 1019.5 902.9C1027.6 898.4 1067.9 898.4 1075.9 902.9C1084 907.3 1100.1 938.3 1100.1 947.2C1100.1 956.1 1084 987.1 1075.9 991.5C1067.9 996 1027.6 996 1019.5 991.5C1011.5 987.1 995.3 956.1 995.3 947.2Z" fill="none" stroke="#5cc25c" stroke-width="11" stroke-linejoin="round"/>
<path d="M1019.5 947.2C1019.5 942.7 1027.2 926.9 1031.6 924.6C1036 922.4 1059.4 922.4 1063.8 924.6C1068.3 926.9 1075.9 942.7 1075.9 947.2C1075.9 951.7 1068.3 967.5 1063.8 969.8C1059.4 972 1036 972 1031.6 969.8C1027.2 967.5 1019.5 951.7 1019.5 947.2Z" fill="none" stroke="#9fd83c" stroke-width="11" stroke-linejoin="round"/>
<path d="M370.7 923C371.5 919 390.9 912.5 394.9 915C398.9 917.4 411.8 943.2 411 947.2C410.2 951.2 390.9 957.7 386.9 955.3C382.8 952.8 369.9 927 370.7 923Z" fill="none" stroke="#3b8e86" stroke-width="11" stroke-linejoin="round"/>
<path d="M451.3 947.2C452.1 951.2 458.6 983.5 459.4 987.5" fill="none" stroke="#3b8e86" stroke-width="11" stroke-linejoin="round"/>
<path d="M233.7 1035.8C234.5 1033.4 256.3 1033.4 257.9 1035.8C259.5 1038.3 252.3 1060 249.8 1060C247.4 1060 232.9 1038.3 233.7 1035.8Z" fill="none" stroke="#3b8e86" stroke-width="11" stroke-linejoin="round"/>
<path d="M773.7 1084.2C774.9 1083 793 1093.9 793.9 1096.3C794.7 1098.7 783.8 1109.6 781.8 1108.4C779.7 1107.2 772.5 1085.4 773.7 1084.2Z" fill="none" stroke="#3b8e86" stroke-width="11" stroke-linejoin="round"/>
<path d="M660.9 1140.6C662.5 1138.2 681.8 1124.5 685.1 1124.5C688.3 1124.5 694.7 1138.2 693.1 1140.6C691.5 1143 672.2 1148.7 668.9 1148.7C665.7 1148.7 659.3 1143 660.9 1140.6Z" fill="none" stroke="#3b8e86" stroke-width="11" stroke-linejoin="round"/>
<path d="M1031.6 1108.4C1034.8 1105.2 1072.7 1085.8 1080 1084.2C1087.2 1082.6 1107.4 1089 1104.1 1092.3C1100.9 1095.5 1055 1114.8 1047.7 1116.4C1040.5 1118.1 1028.4 1111.6 1031.6 1108.4Z" fill="none" stroke="#3b8e86" stroke-width="11" stroke-linejoin="round"/>
<text transform="translate(403 97) rotate(-50) scale(1.12 1)" y="36" font-family="Liberation Sans" font-size="102" text-anchor="middle" fill="#0d0d0d">271.</text>
<text transform="translate(693 72) rotate(0) scale(1.12 1)" y="36" font-family="Liberation Sans" font-size="102" text-anchor="middle" fill="#0d0d0d">271.5</text>
<text transform="translate(1024 48) rotate(70) scale(1.12 1)" y="36" font-family="Liberation Sans" font-size="102" text-anchor="middle" fill="#0d0d0d">27</text>
<text transform="translate(1090 800) rotate(80) scale(1.12 1)" y="36" font-family="Liberation Sans" font-size="102" text-anchor="middle" fill="#0d0d0d">273.0</text>
<text transform="translate(1306 988) rotate(-72) scale(1.12 1)" y="36" font-family="Liberation Sans" font-size="102" text-anchor="middle" fill="#0d0d0d">271.5</text>
<text transform="translate(1290 1245) rotate(60) scale(1.12 1)" y="36" font-family="Liberation Sans" font-size="102" text-anchor="middle" fill="#0d0d0d">271.5</text>
<text transform="translate(854 1431) rotate(10) scale(1.12 1)" y="36" font-family="Liberation Sans" font-size="102" text-anchor="middle" fill="#0d0d0d">271.5</text>
<text transform="translate(56 1092) rotate(40) scale(1.12 1)" y="36" font-family="Liberation Sans" font-size="102" text-anchor="middle" fill="#0d0d0d">0.0</text>
</g></g>
<rect x="1722.5" y="852.4" width="612" height="613" fill="none" stroke="#0d0d0d" stroke-width="4.4"/>
<path d="M1722.5 1465.4H1711M1722.5 1414.3H1699.5M1722.5 1363.2H1711M1722.5 1312.2H1711M1722.5 1261.1H1711M1722.5 1210H1711M1722.5 1158.9H1699.5M1722.5 1107.8H1711M1722.5 1056.7H1711M1722.5 1005.6H1711M1722.5 954.6H1711M1722.5 903.5H1699.5M1722.5 852.4H1711M1722.5 1465.4V1476.9M1773.5 1465.4V1476.9M1824.5 1465.4V1476.9M1875.5 1465.4V1476.9M1926.5 1465.4V1488.4M1977.5 1465.4V1476.9M2028.5 1465.4V1476.9M2079.5 1465.4V1476.9M2130.5 1465.4V1476.9M2181.5 1465.4V1488.4M2232.5 1465.4V1476.9M2283.5 1465.4V1476.9M2334.5 1465.4V1476.9" stroke="#0d0d0d" stroke-width="4.5" fill="none"/>
<text x="1697.2" y="1430.9" font-family="Liberation Serif" font-size="56" text-anchor="end" fill="#231f20">15°N</text>
<text x="1697.2" y="1175.5" font-family="Liberation Serif" font-size="56" text-anchor="end" fill="#231f20">20°N</text>
<text x="1697.2" y="920.1" font-family="Liberation Serif" font-size="56" text-anchor="end" fill="#231f20">25°N</text>
<text x="1926.5" y="1532" font-family="Liberation Serif" font-size="56" text-anchor="middle" fill="#231f20">110°E</text>
<text x="2181.5" y="1532" font-family="Liberation Serif" font-size="56" text-anchor="middle" fill="#231f20">115°E</text>
<text x="2028.5" y="826.8" font-family="Liberation Serif" font-size="56" text-anchor="middle" fill="#231f20">(g) Exp.183 500 hPa</text>
<g transform="translate(2499.5 852.4) scale(0.353111)">
<g clip-path="url(#cp)">
<rect x="-10" y="-10" width="1760" height="1760" fill="#e4e1f3"/>
<path d="M740 -50C910 -91.7 1623.3 -358.3 1800 -50C1976.7 258.3 1833.3 1491.7 1800 1800C1766.7 2108.3 1636.7 1850 1600 1800C1563.3 1750 1600 1583.3 1580 1500C1560 1416.7 1506.7 1366.7 1480 1300C1453.3 1233.3 1436.7 1158.3 1420 1100C1403.3 1041.7 1400 995 1380 950C1360 905 1346.7 855 1300 830C1253.3 805 1158.3 816.7 1100 800C1041.7 783.3 991.7 763.3 950 730C908.3 696.7 871.7 655 850 600C828.3 545 831.7 466.7 820 400C808.3 333.3 793.3 275 780 200C766.7 125 570 -8.3 740 -50Z" fill="#b6b3de"/>
<path d="M1500 120C1516.7 83.3 1550 90 1600 80C1650 70 1766.7 20 1800 60C1833.3 100 1825 266.7 1800 320C1775 373.3 1691.7 363.3 1650 380C1608.3 396.7 1575 433.3 1550 420C1525 406.7 1508.3 350 1500 300C1491.7 250 1483.3 156.7 1500 120Z" fill="#e4e1f3"/>
<path d="M-50 660C-25 531.7 61.7 660 100 680C138.3 700 163.3 743.3 180 780C196.7 816.7 200 855 200 900C200 945 193.3 991.7 180 1050C166.7 1108.3 140 1191.7 120 1250C100 1308.3 88.3 1366.7 60 1400C31.7 1433.3 -31.7 1573.3 -50 1450C-68.3 1326.7 -75 788.3 -50 660Z" fill="#b6b3de"/>
<path d="M-50 1500C-16.7 1466.7 91.7 1570 150 1600C208.3 1630 261.7 1646.7 300 1680C338.3 1713.3 438.3 1780 380 1800C321.7 1820 21.7 1850 -50 1800C-121.7 1750 -83.3 1533.3 -50 1500Z" fill="#b6b3de"/>
<path d="M900 480C900 413.3 943.3 305 960 250C976.7 195 966.7 173.3 1000 150C1033.3 126.7 1118.3 98.3 1160 110C1201.7 121.7 1220 188.3 1250 220C1280 251.7 1321.7 261.7 1340 300C1358.3 338.3 1361.7 400 1360 450C1358.3 500 1348.3 558.3 1330 600C1311.7 641.7 1288.3 680 1250 700C1211.7 720 1148.3 728.3 1100 720C1051.7 711.7 993.3 690 960 650C926.7 610 900 546.7 900 480Z" fill="#6468bc"/>
<path d="M1430 850C1443.3 808.3 1471.7 741.7 1500 700C1528.3 658.3 1550 653.3 1600 600C1650 546.7 1766.7 180 1800 380C1833.3 580 1820 1563.3 1800 1800C1780 2036.7 1705 1850 1680 1800C1655 1750 1670 1583.3 1650 1500C1630 1416.7 1588.3 1366.7 1560 1300C1531.7 1233.3 1503.3 1158.3 1480 1100C1456.7 1041.7 1428.3 991.7 1420 950C1411.7 908.3 1416.7 891.7 1430 850Z" fill="#6468bc"/>
<path d="M-50 730C-28.3 683.3 48.3 725 80 740C111.7 755 128.3 790 140 820C151.7 850 156.7 890 150 920C143.3 950 133.3 983.3 100 1000C66.7 1016.7 -25 1065 -50 1020C-75 975 -71.7 776.7 -50 730Z" fill="#6468bc"/>
<path d="M1530 950C1540 913.3 1571.7 888.3 1600 880C1628.3 871.7 1666.7 888.3 1700 900C1733.3 911.7 1783.3 800 1800 950C1816.7 1100 1816.7 1658.3 1800 1800C1783.3 1941.7 1723.3 1850 1700 1800C1676.7 1750 1680 1591.7 1660 1500C1640 1408.3 1600 1316.7 1580 1250C1560 1183.3 1548.3 1150 1540 1100C1531.7 1050 1520 986.7 1530 950Z" fill="#4a5aaf"/>
<path d="M40 470C48.3 400 98.3 325 150 280C201.7 235 281.7 211.7 350 200C418.3 188.3 501.7 188.3 560 210C618.3 231.7 666.7 278.3 700 330C733.3 381.7 743.3 455 760 520C776.7 585 786.7 660 800 720C813.3 780 823.3 836.7 840 880C856.7 923.3 865 960 900 980C935 1000 1000 1003.3 1050 1000C1100 996.7 1150 973.3 1200 960C1250 946.7 1308.3 920 1350 920C1391.7 920 1425 930 1450 960C1475 990 1483.3 1043.3 1500 1100C1516.7 1156.7 1536.7 1233.3 1550 1300C1563.3 1366.7 1580 1441.7 1580 1500C1580 1558.3 1571.7 1600 1550 1650C1528.3 1700 1625 1775 1450 1800C1275 1825 683.3 1840 500 1800C316.7 1760 393.3 1630 350 1560C306.7 1490 256.7 1448.3 240 1380C223.3 1311.7 256.7 1230 250 1150C243.3 1070 225 975 200 900C175 825 126.7 771.7 100 700C73.3 628.3 31.7 540 40 470Z" fill="#fde0e5"/>
<path d="M190 500C200 455 225 408.3 260 380C295 351.7 350 333.3 400 330C450 326.7 520 335 560 360C600 385 616.7 431.7 640 480C663.3 528.3 680 588.3 700 650C720 711.7 743.3 783.3 760 850C776.7 916.7 790 983.3 800 1050C810 1116.7 815 1191.7 820 1250C825 1308.3 836.7 1361.7 830 1400C823.3 1438.3 810 1470 780 1480C750 1490 688.3 1481.7 650 1460C611.7 1438.3 578.3 1393.3 550 1350C521.7 1306.7 500 1250 480 1200C460 1150 451.7 1100 430 1050C408.3 1000 380 941.7 350 900C320 858.3 275 841.7 250 800C225 758.3 210 700 200 650C190 600 180 545 190 500Z" fill="#f6a9b6"/>
<path d="M1040 1300C1048.3 1270 1065 1233.3 1100 1200C1135 1166.7 1203.3 1121.7 1250 1100C1296.7 1078.3 1346.7 1053.3 1380 1070C1413.3 1086.7 1436.7 1145 1450 1200C1463.3 1255 1468.3 1341.7 1460 1400C1451.7 1458.3 1426.7 1516.7 1400 1550C1373.3 1583.3 1333.3 1600 1300 1600C1266.7 1600 1233.3 1575 1200 1550C1166.7 1525 1125 1478.3 1100 1450C1075 1421.7 1060 1405 1050 1380C1040 1355 1031.7 1330 1040 1300Z" fill="#f6a9b6"/>
<path d="M310 560C318.3 531.7 345 496.7 370 480C395 463.3 431.7 453.3 460 460C488.3 466.7 520 488.3 540 520C560 551.7 568.3 603.3 580 650C591.7 696.7 605 750 610 800C615 850 621.7 925 610 950C598.3 975 563.3 961.7 540 950C516.7 938.3 493.3 913.3 470 880C446.7 846.7 425 788.3 400 750C375 711.7 335 681.7 320 650C305 618.3 301.7 588.3 310 560Z" fill="#f05a75"/>
<path d="M1210 1220C1220 1198.3 1256.7 1176.7 1280 1170C1303.3 1163.3 1335 1158.3 1350 1180C1365 1201.7 1368.3 1266.7 1370 1300C1371.7 1333.3 1375 1366.7 1360 1380C1345 1393.3 1303.3 1393.3 1280 1380C1256.7 1366.7 1231.7 1326.7 1220 1300C1208.3 1273.3 1200 1241.7 1210 1220Z" fill="#f05a75"/>
<path d="M1790 180C1781 187.5 1759.3 203.3 1736 225C1712.7 246.7 1679.3 285.8 1650 310C1620.7 334.2 1585 350 1560 370C1535 390 1526.7 415.8 1500 430C1473.3 444.2 1433.3 448.3 1400 455C1366.7 461.7 1333.3 460 1300 470C1266.7 480 1233.3 502.5 1200 515C1166.7 527.5 1133.3 532.5 1100 545C1066.7 557.5 1038.3 580 1000 590C961.7 600 906.7 596.7 870 605C833.3 613.3 808.3 630 780 640C751.7 650 725 655 700 665C675 675 646.7 702.5 630 700C613.3 697.5 618.3 665.8 600 650C581.7 634.2 553.3 613.3 520 605C486.7 596.7 431.7 596.7 400 600C368.3 603.3 355 614.2 330 625C305 635.8 271.7 651.7 250 665C228.3 678.3 221.7 693.3 200 705C178.3 716.7 138.3 723.3 120 735C101.7 746.7 103.3 762.5 90 775C76.7 787.5 61.7 795.8 40 810C18.3 824.2 -26.7 851.7 -40 860" fill="none" stroke="#aca9b0" stroke-opacity="0.62" stroke-width="13" stroke-linejoin="round" stroke-linecap="round"/>
<path d="M-40 1120C-26.7 1128.3 11.7 1143.3 40 1170C68.3 1196.7 100 1246.7 130 1280C160 1313.3 190 1341.7 220 1370C250 1398.3 283.3 1420 310 1450C336.7 1480 360 1516.7 380 1550C400 1583.3 416.7 1610 430 1650C443.3 1690 455 1766.7 460 1790" fill="none" stroke="#aca9b0" stroke-opacity="0.62" stroke-width="13" stroke-linejoin="round" stroke-linecap="round"/>
<path d="M450 885C468.3 881.2 526.7 867.5 560 862C593.3 856.5 623.3 845.7 650 852C676.7 858.3 710.8 875.3 720 900C729.2 924.7 718.3 975 705 1000C691.7 1025 664.2 1033.3 640 1050C615.8 1066.7 583.3 1088 560 1100C536.7 1112 523.3 1122 500 1122C476.7 1122 439.7 1112 420 1100C400.3 1088 388.7 1073.3 382 1050C375.3 1026.7 368.7 987.5 380 960C391.3 932.5 438.3 897.5 450 885" fill="none" stroke="#aca9b0" stroke-opacity="0.62" stroke-width="13" stroke-linejoin="round" stroke-linecap="round"/>
<path d="M8.1 64.5C12.1 70.9 38.7 120.9 48.4 129C58 137 95.1 139.4 104.8 145.1C114.4 150.7 137.8 177.3 145.1 185.4C152.3 193.4 170.9 216.8 177.3 225.7C183.8 234.5 209.5 264.3 209.5 274C209.5 283.7 178.9 311.1 177.3 322.4C175.7 333.7 198.3 378.8 193.4 386.9C188.6 394.9 138.6 403 129 403C119.3 403 103.2 383.6 96.7 386.9C90.3 390.1 70.1 428 64.5 435.2C58.8 442.5 45.9 458.6 40.3 459.4C34.7 460.2 11.3 444.9 8.1 443.3" fill="none" stroke="#3b8e86" stroke-width="11" stroke-linejoin="round"/>
<path d="M8.1 266C12.1 266.8 40.3 268.4 48.4 274C56.4 279.7 85.4 312.7 88.7 322.4C91.9 332 85.4 365.1 80.6 370.7C75.8 376.4 47.6 381.2 40.3 378.8C33 376.4 11.3 349.8 8.1 346.6" fill="none" stroke="#3b8e86" stroke-width="11" stroke-linejoin="round"/>
<path d="M48.4 8.1C50 12.1 58.8 42.7 64.5 48.4C70.1 54 98.3 64.5 104.8 64.5C111.2 64.5 127.3 54 129 48.4C130.6 42.7 121.7 12.1 120.9 8.1" fill="none" stroke="#3b8e86" stroke-width="11" stroke-linejoin="round"/>
<path d="M145.1 88.7C146.7 84.6 165.2 70.9 169.2 72.5C173.3 74.1 185.4 99.9 185.4 104.8C185.4 109.6 172.5 120.1 169.2 120.9C166 121.7 155.5 116.1 153.1 112.8C150.7 109.6 143.5 92.7 145.1 88.7Z" fill="none" stroke="#3b8e86" stroke-width="11" stroke-linejoin="round"/>
<path d="M185.4 8.1C191 12.1 232.9 39.5 241.8 48.4C250.6 57.2 270 85.4 274 96.7C278.1 108 277.2 153.9 282.1 161.2C286.9 168.4 316.7 172.5 322.4 169.2C328 166 340.1 139.4 338.5 129C336.9 118.5 314.3 76.6 306.3 64.5C298.2 52.4 262.7 13.7 257.9 8.1" fill="none" stroke="#3b8e86" stroke-width="11" stroke-linejoin="round"/>
<path d="M282.1 185.4C278.1 191 245 230.5 241.8 241.8C238.6 253.1 241.8 288.5 249.8 298.2C257.9 307.9 311.1 330.4 322.4 338.5C333.7 346.6 354.6 369.9 362.7 378.8C370.7 387.7 392.5 424.7 403 427.1C413.4 429.6 456.2 407.8 467.4 403C478.7 398.1 509.4 387.7 515.8 378.8C522.3 369.9 527.1 326.4 531.9 314.3C536.8 302.2 559.3 257.9 564.2 257.9C569 257.9 577.1 305.5 580.3 314.3C583.5 323.2 588.3 344.1 596.4 346.6C604.5 349 651.2 341.7 660.9 338.5C670.5 335.3 691.5 322.4 693.1 314.3C694.7 306.3 677.8 269.2 677 257.9C676.2 246.6 681 211.2 685.1 201.5C689.1 191.8 710 162.8 717.3 161.2C724.5 159.6 747.9 180.5 757.6 185.4C767.3 190.2 804.3 205.5 814 209.5C823.7 213.6 850.3 221.6 854.3 225.7C858.3 229.7 859.1 248.2 854.3 249.8C849.5 251.5 816.4 244.2 805.9 241.8C795.5 239.4 756.8 224.1 749.5 225.7C742.3 227.3 733.4 248.2 733.4 257.9C733.4 267.6 751.9 315.9 749.5 322.4C747.1 328.8 715.7 324.8 709.2 322.4C702.8 320 687.5 300.6 685.1 298.2" fill="none" stroke="#3b8e86" stroke-width="11" stroke-linejoin="round"/>
<path d="M282.1 185.4C287.7 187 328 196.6 338.5 201.5C349 206.3 380.4 233.7 386.9 233.7C393.3 233.7 400.6 212.8 403 201.5C405.4 190.2 409.4 136.2 411 120.9C412.6 105.6 415.1 59.6 419.1 48.4C423.1 37.1 448.1 12.1 451.3 8.1" fill="none" stroke="#3b8e86" stroke-width="11" stroke-linejoin="round"/>
<path d="M620.6 386.9C625.4 382 660.9 346.6 668.9 338.5C677 330.4 697.9 309.5 701.2 306.3" fill="none" stroke="#3b8e86" stroke-width="11" stroke-linejoin="round"/>
<path d="M612.5 403C615.7 408.6 635.1 451.3 644.8 459.4C654.4 467.4 701.2 474.7 709.2 483.6C717.3 492.4 721.3 535.1 725.3 548C729.4 560.9 743.1 604.5 749.5 612.5C756 620.6 787.4 621.4 789.8 628.6C792.2 635.9 776.9 671.4 773.7 685.1C770.5 698.8 756 752.8 757.6 765.6C759.2 778.5 785 803.6 789.8 814C794.7 824.4 804.3 864.1 805.9 869.6" fill="none" stroke="#3b8e86" stroke-width="11" stroke-linejoin="round"/>
<path d="M660.9 64.5C662.5 56.4 697.9 47.6 709.2 48.4C720.5 49.2 764.8 66.1 773.7 72.5C782.6 79 797.9 104 797.9 112.8C797.9 121.7 781 155.5 773.7 161.2C766.5 166.8 733.4 172.5 725.3 169.2C717.3 166 699.6 139.4 693.1 129C686.7 118.5 659.3 72.5 660.9 64.5Z" fill="none" stroke="#3b8e86" stroke-width="11" stroke-linejoin="round"/>
<path d="M1023.5 64.5C1026 61.3 1038.9 37.1 1047.7 32.2C1056.6 27.4 1104.1 18.5 1112.2 16.1C1120.3 13.7 1126.7 8.9 1128.3 8.1" fill="none" stroke="#3b8e86" stroke-width="11" stroke-linejoin="round"/>
<path d="M926.8 145.1C928.4 141 945.4 127.3 951 129C956.7 130.6 982.4 155.5 983.2 161.2C984.1 166.8 963.9 184.6 959.1 185.4C954.2 186.2 938.1 173.3 934.9 169.2C931.7 165.2 925.2 149.1 926.8 145.1Z" fill="none" stroke="#3b8e86" stroke-width="11" stroke-linejoin="round"/>
<path d="M1410.4 8.1C1408 12.1 1394.3 41.9 1386.2 48.4C1378.2 54.8 1337.9 66.1 1329.8 72.5C1321.7 79 1312.9 104 1305.6 112.8C1298.4 121.7 1268.6 151.5 1257.3 161.2C1246 170.9 1204.1 202.3 1192.8 209.5C1181.5 216.8 1152.5 228.1 1144.4 233.7C1136.4 239.4 1120.3 258.7 1112.2 266C1104.1 273.2 1068.7 299 1063.8 306.3C1059 313.5 1062.2 333.7 1063.8 338.5C1065.5 343.3 1078.4 353 1080 354.6" fill="none" stroke="#3b8e86" stroke-width="11" stroke-linejoin="round"/>
<path d="M1023.5 394.9C1030 390.9 1073.5 363.5 1088 354.6C1102.5 345.7 1152.5 309.5 1168.6 306.3C1184.7 303 1235.5 317.5 1249.2 322.4C1262.9 327.2 1295.1 354.6 1305.6 354.6C1316.1 354.6 1347.5 327.2 1354 322.4C1360.4 317.5 1371.7 301.4 1370.1 306.3C1368.5 311.1 1349.1 363.5 1337.9 370.7C1326.6 378 1265.3 378 1257.3 378.8" fill="none" stroke="#3b8e86" stroke-width="11" stroke-linejoin="round"/>
<path d="M1104.1 209.5C1104.9 203.9 1124.3 178.1 1128.3 177.3C1132.3 176.5 1145.2 195.8 1144.4 201.5C1143.6 207.1 1124.3 232.9 1120.3 233.7C1116.2 234.5 1103.3 215.2 1104.1 209.5Z" fill="none" stroke="#3b8e86" stroke-width="11" stroke-linejoin="round"/>
<path d="M910.7 596.4C916.4 591.6 953.4 557.7 967.1 548C980.8 538.4 1031.6 509.4 1047.7 499.7C1063.8 490 1112.2 459.4 1128.3 451.3C1144.4 443.3 1192.8 423.9 1208.9 419.1C1225 414.3 1273.4 405.4 1289.5 403C1305.6 400.6 1357.2 396.5 1370.1 394.9C1383 393.3 1413.6 387.7 1418.5 386.9" fill="none" stroke="#3b8e86" stroke-width="11" stroke-linejoin="round"/>
<path d="M1144.4 580.3C1150.9 577.1 1194.4 556.1 1208.9 548C1223.4 540 1273.4 506.1 1289.5 499.7C1305.6 493.2 1355.6 482 1370.1 483.6C1384.6 485.2 1424.9 509.4 1434.6 515.8C1444.2 522.3 1460.4 546.4 1466.8 548C1473.3 549.7 1495.8 533.5 1499.1 531.9" fill="none" stroke="#3b8e86" stroke-width="11" stroke-linejoin="round"/>
<path d="M1297.6 523.9C1300 526.3 1316.1 542.4 1321.7 548C1327.4 553.7 1349.1 575.4 1354 580.3C1358.8 585.1 1368.5 594.8 1370.1 596.4" fill="none" stroke="#3b8e86" stroke-width="11" stroke-linejoin="round"/>
<path d="M967.1 668.9C975.2 665.7 1031.6 641.5 1047.7 636.7C1063.8 631.9 1112.2 623 1128.3 620.6C1144.4 618.2 1192.8 612.5 1208.9 612.5C1225 612.5 1281.4 619.8 1289.5 620.6" fill="none" stroke="#3b8e86" stroke-width="11" stroke-linejoin="round"/>
<path d="M886.5 869.6C890.6 861.6 919.6 801 926.8 789.8C934.1 778.6 957.5 764.8 959.1 757.6C960.7 750.3 942.1 726.2 943 717.3C943.8 708.4 964.7 673.8 967.1 668.9" fill="none" stroke="#3b8e86" stroke-width="11" stroke-linejoin="round"/>
<path d="M910.7 596.4C908.3 602.8 892.2 649.6 886.5 660.9C880.9 672.2 864 697.9 854.3 709.2C844.6 720.5 799.5 764 789.8 773.7C780.2 783.4 760.8 802.7 757.6 805.9" fill="none" stroke="#3b8e86" stroke-width="11" stroke-linejoin="round"/>
<path d="M451.3 660.9C453.7 656.8 476.3 655.2 483.6 652.8C490.8 650.4 519 632.7 523.9 636.7C528.7 640.7 533.5 682.6 531.9 693.1C530.3 703.6 512.6 732.6 507.7 741.5C502.9 750.3 489.2 774.5 483.6 781.8C477.9 789 452.1 814.8 451.3 814C450.5 813.2 472.3 782.6 475.5 773.7C478.7 764.8 485.2 733.4 483.6 725.3C482 717.3 462.6 699.6 459.4 693.1C456.2 686.7 448.9 664.9 451.3 660.9Z" fill="none" stroke="#3b8e86" stroke-width="11" stroke-linejoin="round"/>
<path d="M241.8 725.3C245 722.1 266 697.1 274 693.1C282.1 689.1 318.3 683.4 322.4 685.1C326.4 686.7 318.3 706 314.3 709.2C310.3 712.5 286.9 711.6 282.1 717.3C277.2 722.9 266 755.2 266 765.6C266 776.1 276.4 813.2 282.1 822.1C287.7 830.9 320 849.5 322.4 854.3C324.8 859.1 307.9 868.1 306.3 869.6" fill="none" stroke="#3b8e86" stroke-width="11" stroke-linejoin="round"/>
<path d="M298.2 773.7C299 770.5 311.9 770.5 314.3 773.7C316.7 776.9 323.2 802.7 322.4 805.9C321.6 809.2 308.7 809.2 306.3 805.9C303.8 802.7 297.4 776.9 298.2 773.7Z" fill="none" stroke="#3b8e86" stroke-width="11" stroke-linejoin="round"/>
<path d="M612.5 725.3C613.3 722.1 632.7 708.4 636.7 709.2C640.7 710 653.6 730.2 652.8 733.4C652 736.6 632.7 742.3 628.6 741.5C624.6 740.7 611.7 728.6 612.5 725.3Z" fill="none" stroke="#3b8e86" stroke-width="11" stroke-linejoin="round"/>
<path d="M668.9 869.6C673 861.6 702.8 801.8 709.2 789.8C715.7 777.8 728.6 748.7 733.4 749.5C738.2 750.3 756.8 785.9 757.6 797.9C758.4 809.9 743.1 862.4 741.5 869.6" fill="none" stroke="#3b8e86" stroke-width="11" stroke-linejoin="round"/>
<path d="M1015.5 805.9C1017.1 806.7 1028.4 810.8 1031.6 814C1034.8 817.2 1049.3 832.6 1047.7 838.2C1046.1 843.7 1018.7 866.5 1015.5 869.6" fill="none" stroke="#5cb86a" stroke-width="11" stroke-linejoin="round"/>
<path d="M8.1 1253.5C15.3 1254.3 65.3 1258.3 80.6 1261.5C95.9 1264.7 145.1 1279.2 161.2 1285.7C177.3 1292.1 228.1 1316.3 241.8 1326C255.5 1335.7 282.1 1377.6 298.2 1382.4C314.3 1387.2 389.3 1378.4 403 1374.3C416.7 1370.3 436.8 1347.7 435.2 1342.1C433.6 1336.5 395.7 1323.6 386.9 1317.9C378 1312.3 354.6 1295.4 346.6 1285.7C338.5 1276 315.1 1230.9 306.3 1221.2C297.4 1211.5 267.6 1195.4 257.9 1189C248.2 1182.5 222.4 1163.2 209.5 1156.7C196.6 1150.3 135.4 1132.6 129 1124.5C122.5 1116.4 144.3 1084.2 145.1 1076.1C145.9 1068.1 141.8 1048.7 137 1043.9C132.2 1039.1 105.6 1032.6 96.7 1027.8C87.8 1023 53.2 998.8 48.4 995.6" fill="none" stroke="#3b6e8e" stroke-width="11" stroke-linejoin="round"/>
<path d="M129 874.7C134.6 880.3 177.3 919.8 185.4 931.1C193.4 942.4 208.7 980.2 209.5 987.5C210.4 994.7 198.3 1005.2 193.4 1003.6C188.6 1002 169.2 978.6 161.2 971.4C153.1 964.1 120.9 939.1 112.8 931.1C104.8 923 87 896.4 80.6 890.8C74.1 885.1 51.6 876.3 48.4 874.7" fill="none" stroke="#3b6e8e" stroke-width="11" stroke-linejoin="round"/>
<path d="M56.4 1430.8C59.6 1430 99.1 1443.7 104.8 1446.9C110.4 1450.1 116.1 1462.2 112.8 1463C109.6 1463.8 78.2 1458.2 72.5 1454.9C66.9 1451.7 53.2 1431.6 56.4 1430.8Z" fill="none" stroke="#3b6e8e" stroke-width="11" stroke-linejoin="round"/>
<path d="M322.4 890.8C324 885.9 350.6 873 354.6 874.7C358.6 876.3 364.3 902.1 362.7 906.9C361.1 911.7 342.5 924.6 338.5 923C334.5 921.4 320.8 895.6 322.4 890.8Z" fill="none" stroke="#3b8e86" stroke-width="11" stroke-linejoin="round"/>
<path d="M346.6 955.3C348.2 951.2 374 944.8 378.8 947.2C383.6 949.6 396.5 975.4 394.9 979.4C393.3 983.5 367.5 989.9 362.7 987.5C357.8 985.1 344.9 959.3 346.6 955.3Z" fill="none" stroke="#3b8e86" stroke-width="11" stroke-linejoin="round"/>
<path d="M403 971.4C412.6 965.7 474.7 945.6 483.6 947.2C492.4 948.8 496.5 981.8 491.6 987.5C486.8 993.1 445.7 1002 435.2 1003.6C424.7 1005.2 390.1 1006.8 386.9 1003.6C383.6 1000.4 393.3 977 403 971.4Z" fill="none" stroke="#3b8e86" stroke-width="11" stroke-linejoin="round"/>
<path d="M378.8 987.5C382.8 985.1 411.8 970.6 419.1 963.3C426.3 956.1 449.7 923 451.3 915C452.9 906.9 440 884.3 435.2 882.7C430.4 881.1 406.2 897.2 403 898.8" fill="none" stroke="#3b8e86" stroke-width="11" stroke-linejoin="round"/>
<path d="M685.1 874.7C687.5 880.3 705.2 923.8 709.2 931.1C713.3 938.3 720.5 948.8 725.3 947.2C730.2 945.6 755.2 922.2 757.6 915C760 907.7 750.3 878.7 749.5 874.7" fill="none" stroke="#3b8e86" stroke-width="11" stroke-linejoin="round"/>
<path d="M725.3 971.4C727.8 969.8 745.5 988.3 749.5 995.6C753.6 1002.8 766.5 1039.1 765.6 1043.9C764.8 1048.7 745.5 1047.1 741.5 1043.9C737.4 1040.7 727 1018.9 725.3 1011.7C723.7 1004.4 722.9 973 725.3 971.4Z" fill="none" stroke="#3b8e86" stroke-width="11" stroke-linejoin="round"/>
<path d="M814 906.9C818 907.7 845.4 908.5 854.3 915C863.2 921.4 897 971.4 902.7 971.4C908.3 971.4 909.1 924.6 910.7 915C912.3 905.3 918 878.7 918.8 874.7" fill="none" stroke="#3b8e86" stroke-width="11" stroke-linejoin="round"/>
<path d="M814 906.9C813.2 910.9 804.3 936.7 805.9 947.2C807.6 957.7 829.3 1002 830.1 1011.7C830.9 1021.3 811.6 1038.3 814 1043.9C816.4 1049.5 843 1063.2 854.3 1068.1C865.6 1072.9 911.5 1087.4 926.8 1092.3C942.1 1097.1 990.5 1113.2 1007.4 1116.4C1024.4 1119.7 1092.1 1122.9 1096.1 1124.5C1100.1 1126.1 1060.6 1130.1 1047.7 1132.6C1034.8 1135 984.9 1146.3 967.1 1148.7C949.4 1151.1 874.4 1153.5 870.4 1156.7C866.4 1160 918.8 1176.1 926.8 1180.9C934.9 1185.8 943.8 1202.7 951 1205.1C958.3 1207.5 994.5 1205.1 999.4 1205.1" fill="none" stroke="#3b8e86" stroke-width="11" stroke-linejoin="round"/>
<path d="M773.7 1317.9C781.8 1316.3 839.8 1304.2 854.3 1301.8C868.8 1299.4 909.1 1292.1 918.8 1293.7C928.4 1295.4 944.6 1313.9 951 1317.9C957.5 1322 978.4 1337.3 983.2 1334C988.1 1330.8 992.9 1292.1 999.4 1285.7C1005.8 1279.2 1034.8 1272.8 1047.7 1269.6C1060.6 1266.3 1120.3 1255.1 1128.3 1253.5" fill="none" stroke="#3b8e86" stroke-width="11" stroke-linejoin="round"/>
<path d="M1047.7 1301.8C1049.3 1299.4 1068.7 1288.1 1080 1285.7C1091.2 1283.3 1155.7 1276 1160.6 1277.6C1165.4 1279.2 1138 1298.6 1128.3 1301.8C1118.6 1305 1071.9 1309.9 1063.8 1309.9C1055.8 1309.9 1046.1 1304.2 1047.7 1301.8Z" fill="none" stroke="#3b8e86" stroke-width="11" stroke-linejoin="round"/>
<path d="M773.7 1317.9C777.7 1320.3 809.2 1335.7 814 1342.1C818.8 1348.6 826.1 1375.1 822.1 1382.4C818 1389.7 785.8 1408.2 773.7 1414.6C761.6 1421.1 714.1 1440.4 701.2 1446.9C688.3 1453.3 658.5 1474.3 644.8 1479.1C631.1 1484 580.3 1490.4 564.2 1495.2C548 1500.1 494.8 1519.4 483.6 1527.5C472.3 1535.5 461.8 1568.6 451.3 1575.8C440.9 1583.1 386.9 1594.4 378.8 1600C370.7 1605.6 368.3 1628.2 370.7 1632.2C373.2 1636.3 393.3 1637.1 403 1640.3C412.6 1643.5 459.4 1659.6 467.4 1664.5C475.5 1669.3 473.9 1692.7 483.6 1688.7C493.2 1684.6 548 1633.1 564.2 1624.2C580.3 1615.3 628.6 1605.6 644.8 1600C660.9 1594.4 709.2 1575 725.3 1567.8C741.5 1560.5 789.8 1537.1 805.9 1527.5C822.1 1517.8 870.4 1480.7 886.5 1471.1C902.7 1461.4 951 1438.8 967.1 1430.8C983.2 1422.7 1030 1397.7 1047.7 1390.5C1065.5 1383.2 1128.3 1359 1144.4 1358.2C1160.6 1357.4 1200 1381.6 1208.9 1382.4C1217.8 1383.2 1234.7 1371.1 1233.1 1366.3C1231.5 1361.4 1195.2 1340.5 1192.8 1334C1190.4 1327.6 1207.3 1305 1208.9 1301.8" fill="none" stroke="#3b8e86" stroke-width="11" stroke-linejoin="round"/>
<path d="M862.4 1253.5C864.8 1251 887.3 1245.4 894.6 1245.4C901.8 1245.4 930.9 1251 934.9 1253.5C938.9 1255.9 941.3 1268 934.9 1269.6C928.4 1271.2 877.7 1271.2 870.4 1269.6C863.2 1268 859.9 1255.9 862.4 1253.5Z" fill="none" stroke="#3b8e86" stroke-width="11" stroke-linejoin="round"/>
<path d="M701.2 1285.7C703.6 1282.5 722.1 1275.2 725.3 1277.6C728.6 1280 735.8 1306.6 733.4 1309.9C731 1313.1 704.4 1312.3 701.2 1309.9C697.9 1307.5 698.8 1288.9 701.2 1285.7Z" fill="none" stroke="#3b8e86" stroke-width="11" stroke-linejoin="round"/>
<path d="M991.3 1205.1C997 1203.5 1034 1193 1047.7 1189C1061.4 1184.9 1112.2 1170.4 1128.3 1164.8C1144.4 1159.2 1192.8 1139.8 1208.9 1132.6C1225 1125.3 1273.4 1101.1 1289.5 1092.3C1305.6 1083.4 1360.4 1052.8 1370.1 1043.9C1379.8 1035 1381.4 1008.4 1386.2 1003.6C1391.1 998.8 1412 993.1 1418.5 995.6C1424.9 998 1443.4 1019.7 1450.7 1027.8C1457.9 1035.8 1485.4 1070.5 1491 1076.1C1496.6 1081.8 1505.5 1083.4 1507.1 1084.2" fill="none" stroke="#3b8e86" stroke-width="11" stroke-linejoin="round"/>
<path d="M1273.4 1148.7C1276.6 1147.1 1300 1133.4 1305.6 1132.6C1311.3 1131.8 1328.2 1135 1329.8 1140.6C1331.4 1146.3 1325.8 1180.9 1321.7 1189C1317.7 1197 1287.9 1216.4 1289.5 1221.2C1291.1 1226.1 1333.8 1231.7 1337.9 1237.3C1341.9 1243 1334.6 1275.2 1329.8 1277.6C1325 1280 1295.1 1268.8 1289.5 1261.5C1283.9 1254.3 1275 1210.7 1273.4 1205.1" fill="none" stroke="#3b8e86" stroke-width="11" stroke-linejoin="round"/>
<path d="M1337.9 1189C1339.5 1185.8 1358.8 1179.3 1362 1180.9C1365.3 1182.5 1371.7 1201.9 1370.1 1205.1C1368.5 1208.3 1349.1 1214.8 1345.9 1213.2C1342.7 1211.5 1336.3 1192.2 1337.9 1189Z" fill="none" stroke="#3b8e86" stroke-width="11" stroke-linejoin="round"/>
<path d="M1386.2 1043.9C1387.8 1043.9 1402.3 1080.2 1402.3 1084.2C1402.3 1088.2 1387.8 1088.2 1386.2 1084.2C1384.6 1080.2 1384.6 1043.9 1386.2 1043.9Z" fill="none" stroke="#3b8e86" stroke-width="11" stroke-linejoin="round"/>
<path d="M886.5 1736.2C894.6 1729 954.2 1672.5 967.1 1664.5C980 1656.5 1007.4 1654 1015.5 1656.4C1023.5 1658.8 1042.1 1691.1 1047.7 1688.7C1053.4 1686.2 1062.2 1641.1 1071.9 1632.2C1081.6 1623.4 1137.2 1603.2 1144.4 1600" fill="none" stroke="#3b8e86" stroke-width="11" stroke-linejoin="round"/>
<path d="M1418.5 1567.8C1424.1 1567 1463.6 1565.4 1474.9 1559.7C1486.2 1554.1 1519.2 1518.6 1531.3 1511.4C1543.4 1504.1 1582.9 1492 1595.8 1487.2C1608.7 1482.3 1652.2 1468.6 1660.2 1463C1668.3 1457.4 1677.2 1436.4 1676.4 1430.8C1675.6 1425.1 1655.4 1405 1652.2 1406.6C1649 1408.2 1644.9 1442.8 1644.1 1446.9" fill="none" stroke="#3b8e86" stroke-width="11" stroke-linejoin="round"/>
<path d="M983.2 1736.2C987.3 1733.1 1016.3 1704.8 1023.5 1704.8C1030.8 1704.8 1052.6 1733.1 1055.8 1736.2" fill="none" stroke="#3b8e86" stroke-width="11" stroke-linejoin="round"/>
<path d="M1394.3 1736.2C1399.9 1729.8 1438.6 1683.7 1450.7 1672.5C1462.8 1661.3 1503.1 1633.9 1515.2 1624.2C1527.3 1614.5 1561.9 1585.5 1571.6 1575.8C1581.3 1566.2 1603.8 1537.1 1611.9 1527.5C1619.9 1517.8 1648.2 1484 1652.2 1479.1" fill="none" stroke="#3b8e86" stroke-width="11" stroke-linejoin="round"/>
<path d="M1434.6 874.7C1438.6 878.7 1467.6 909.3 1474.9 915C1482.1 920.6 1505.5 935.1 1507.1 931.1C1508.7 927 1492.6 880.3 1491 874.7" fill="none" stroke="#3b8e86" stroke-width="11" stroke-linejoin="round"/>
<path d="M951 874.7C951 880.3 950.2 919.8 951 931.1C951.8 942.4 953.4 978.6 959.1 987.5C964.7 996.4 997 1015.7 1007.4 1019.7C1017.9 1023.8 1053.4 1031 1063.8 1027.8C1074.3 1024.6 1107.4 997.2 1112.2 987.5C1117 977.8 1114.6 939.9 1112.2 931.1C1109.8 922.2 1096.1 902.9 1088 898.8C1080 894.8 1040.5 890.8 1031.6 890.8C1022.7 890.8 1001 900.4 999.4 898.8C997.8 897.2 1013.9 877.1 1015.5 874.7" fill="none" stroke="#5cb86a" stroke-width="11" stroke-linejoin="round"/>
<path d="M999.4 955.3C999.4 946.4 1016.3 915.4 1023.5 910.9C1030.8 906.5 1064.6 906.5 1071.9 910.9C1079.2 915.4 1096.1 946.4 1096.1 955.3C1096.1 964.1 1079.2 995.1 1071.9 999.6C1064.6 1004 1030.8 1004 1023.5 999.6C1016.3 995.1 999.4 964.1 999.4 955.3Z" fill="none" stroke="#5cc25c" stroke-width="11" stroke-linejoin="round"/>
<path d="M1019.5 955.3C1019.5 950.7 1028.9 934.9 1033.2 932.7C1037.5 930.4 1058 930.4 1062.2 932.7C1066.5 934.9 1075.9 950.7 1075.9 955.3C1075.9 959.8 1066.5 975.6 1062.2 977.8C1058 980.1 1037.5 980.1 1033.2 977.8C1028.9 975.6 1019.5 959.8 1019.5 955.3Z" fill="none" stroke="#9fd83c" stroke-width="11" stroke-linejoin="round"/>
<text transform="translate(556 540) rotate(0) scale(1.12 1)" y="36" font-family="Liberation Sans" font-size="102" text-anchor="middle" fill="#0d0d0d">271.5</text>
<text transform="translate(532 89) rotate(45) scale(1.12 1)" y="36" font-family="Liberation Sans" font-size="102" text-anchor="middle" fill="#0d0d0d">271.5</text>
<text transform="translate(798 105) rotate(-72) scale(1.12 1)" y="36" font-family="Liberation Sans" font-size="102" text-anchor="middle" fill="#0d0d0d">271</text>
<text transform="translate(1515 427) rotate(72) scale(1.12 1)" y="36" font-family="Liberation Sans" font-size="102" text-anchor="middle" fill="#0d0d0d">271.5</text>
<text transform="translate(1370 717) rotate(70) scale(1.12 1)" y="36" font-family="Liberation Sans" font-size="102" text-anchor="middle" fill="#0d0d0d">271.5</text>
<text transform="translate(1136 1237) rotate(0) scale(1.12 1)" y="36" font-family="Liberation Sans" font-size="102" text-anchor="middle" fill="#0d0d0d">271.5</text>
<text transform="translate(1281 1584) rotate(-15) scale(1.12 1)" y="36" font-family="Liberation Sans" font-size="102" text-anchor="middle" fill="#0d0d0d">271.5</text>
<text transform="translate(64 1044) rotate(20) scale(1.12 1)" y="36" font-family="Liberation Sans" font-size="102" text-anchor="middle" fill="#0d0d0d">0.0</text>
</g></g>
<rect x="2499.5" y="852.4" width="612" height="613" fill="none" stroke="#0d0d0d" stroke-width="4.4"/>
<path d="M2499.5 1465.4H2488M2499.5 1414.3H2476.5M2499.5 1363.2H2488M2499.5 1312.2H2488M2499.5 1261.1H2488M2499.5 1210H2488M2499.5 1158.9H2476.5M2499.5 1107.8H2488M2499.5 1056.7H2488M2499.5 1005.6H2488M2499.5 954.6H2488M2499.5 903.5H2476.5M2499.5 852.4H2488M2499.5 1465.4V1476.9M2550.5 1465.4V1476.9M2601.5 1465.4V1476.9M2652.5 1465.4V1476.9M2703.5 1465.4V1488.4M2754.5 1465.4V1476.9M2805.5 1465.4V1476.9M2856.5 1465.4V1476.9M2907.5 1465.4V1476.9M2958.5 1465.4V1488.4M3009.5 1465.4V1476.9M3060.5 1465.4V1476.9M3111.5 1465.4V1476.9" stroke="#0d0d0d" stroke-width="4.5" fill="none"/>
<text x="2474.2" y="1430.9" font-family="Liberation Serif" font-size="56" text-anchor="end" fill="#231f20">15°N</text>
<text x="2474.2" y="1175.5" font-family="Liberation Serif" font-size="56" text-anchor="end" fill="#231f20">20°N</text>
<text x="2474.2" y="920.1" font-family="Liberation Serif" font-size="56" text-anchor="end" fill="#231f20">25°N</text>
<text x="2703.5" y="1532" font-family="Liberation Serif" font-size="56" text-anchor="middle" fill="#231f20">110°E</text>
<text x="2958.5" y="1532" font-family="Liberation Serif" font-size="56" text-anchor="middle" fill="#231f20">115°E</text>
<text x="2805.5" y="826.8" font-family="Liberation Serif" font-size="56" text-anchor="middle" fill="#231f20">(h) Exp.118+183 500 hPa</text>
<g transform="translate(171.6 1632.4) scale(0.353111)">
<g clip-path="url(#cp)">
<rect x="-10" y="-10" width="1760" height="1760" fill="#e4e1f3"/>
<path d="M-50 -50C95 -141.7 673.3 -83.3 820 -50C966.7 -16.7 833.3 91.7 830 150C826.7 208.3 808.3 241.7 800 300C791.7 358.3 780 433.3 780 500C780 566.7 788.3 641.7 800 700C811.7 758.3 825 808.3 850 850C875 891.7 908.3 936.7 950 950C991.7 963.3 1041.7 938.3 1100 930C1158.3 921.7 1233.3 900 1300 900C1366.7 900 1446.7 913.3 1500 930C1553.3 946.7 1593.3 955 1620 1000C1646.7 1045 1658.3 1133.3 1660 1200C1661.7 1266.7 1646.7 1341.7 1630 1400C1613.3 1458.3 1590 1508.3 1560 1550C1530 1591.7 1493.3 1608.3 1450 1650C1406.7 1691.7 1478.3 1775 1300 1800C1121.7 1825 546.7 1825 380 1800C213.3 1775 330 1700 300 1650C270 1600 233.3 1550 200 1500C166.7 1450 111.7 1391.7 100 1350C88.3 1308.3 96.7 1275 130 1250C163.3 1225 251.7 1221.7 300 1200C348.3 1178.3 393.3 1153.3 420 1120C446.7 1086.7 463.3 1045 460 1000C456.7 955 426.7 891.7 400 850C373.3 808.3 336.7 783.3 300 750C263.3 716.7 221.7 683.3 180 650C138.3 616.7 88.3 575 50 550C11.7 525 -33.3 600 -50 500C-66.7 400 -195 41.7 -50 -50Z" fill="#fde0e5"/>
<path d="M1560 200C1565 141.7 1596.7 91.7 1620 50C1643.3 8.3 1670 -33.3 1700 -50C1730 -66.7 1783.3 -185 1800 -50C1816.7 85 1820 651.7 1800 760C1780 868.3 1715 660 1680 600C1645 540 1610 466.7 1590 400C1570 333.3 1555 258.3 1560 200Z" fill="#fde0e5"/>
<path d="M60 120C75 90 110 80 150 70C190 60 255 51.7 300 60C345 68.3 403.3 93.3 420 120C436.7 146.7 420 190 400 220C380 250 341.7 283.3 300 300C258.3 316.7 190 328.3 150 320C110 311.7 75 283.3 60 250C45 216.7 45 150 60 120Z" fill="#e4e1f3"/>
<path d="M860 50C871.7 66.7 896.7 158.3 900 200C903.3 241.7 893.3 291.7 880 300C866.7 308.3 828.3 283.3 820 250C811.7 216.7 823.3 133.3 830 100C836.7 66.7 848.3 33.3 860 50Z" fill="#e4e1f3"/>
<path d="M30 360C38.3 326.7 113.3 316.7 150 300C186.7 283.3 200 271.7 250 260C300 248.3 391.7 230 450 230C508.3 230 558.3 240 600 260C641.7 280 680 310 700 350C720 390 710 441.7 720 500C730 558.3 740 641.7 760 700C780 758.3 826.7 800 840 850C853.3 900 846.7 958.3 840 1000C833.3 1041.7 823.3 1075 800 1100C776.7 1125 730 1150 700 1150C670 1150 645 1125 620 1100C595 1075 573.3 1041.7 550 1000C526.7 958.3 513.3 896.7 480 850C446.7 803.3 396.7 758.3 350 720C303.3 681.7 241.7 656.7 200 620C158.3 583.3 128.3 543.3 100 500C71.7 456.7 21.7 393.3 30 360Z" fill="#f6a9b6"/>
<path d="M280 1300C291.7 1280 355 1296.7 400 1280C445 1263.3 500 1210 550 1200C600 1190 650 1211.7 700 1220C750 1228.3 808.3 1236.7 850 1250C891.7 1263.3 925 1266.7 950 1300C975 1333.3 1000 1408.3 1000 1450C1000 1491.7 975 1525 950 1550C925 1575 891.7 1585 850 1600C808.3 1615 750 1643.3 700 1640C650 1636.7 595 1606.7 550 1580C505 1553.3 466.7 1510 430 1480C393.3 1450 355 1430 330 1400C305 1370 268.3 1320 280 1300Z" fill="#f6a9b6"/>
<path d="M1170 1200C1181.7 1176.7 1223.3 1156.7 1250 1140C1276.7 1123.3 1296.7 1103.3 1330 1100C1363.3 1096.7 1423.3 1103.3 1450 1120C1476.7 1136.7 1486.7 1170 1490 1200C1493.3 1230 1485 1275 1470 1300C1455 1325 1436.7 1343.3 1400 1350C1363.3 1356.7 1286.7 1351.7 1250 1340C1213.3 1328.3 1193.3 1303.3 1180 1280C1166.7 1256.7 1158.3 1223.3 1170 1200Z" fill="#f6a9b6"/>
<path d="M1550 60C1558.3 18.3 1578.3 -31.7 1620 -50C1661.7 -68.3 1770 -108.3 1800 -50C1830 8.3 1825 245 1800 300C1775 355 1688.3 296.7 1650 280C1611.7 263.3 1586.7 236.7 1570 200C1553.3 163.3 1541.7 101.7 1550 60Z" fill="#f6a9b6"/>
<path d="M200 520C215 486.7 275 430 300 400C325 370 325 345 350 340C375 335 408.3 356.7 450 370C491.7 383.3 568.3 395 600 420C631.7 445 631.7 481.7 640 520C648.3 558.3 636.7 603.3 650 650C663.3 696.7 700 758.3 720 800C740 841.7 763.3 866.7 770 900C776.7 933.3 775 970 760 1000C745 1030 706.7 1071.7 680 1080C653.3 1088.3 626.7 1071.7 600 1050C573.3 1028.3 540 991.7 520 950C500 908.3 500 841.7 480 800C460 758.3 438.3 723.3 400 700C361.7 676.7 281.7 676.7 250 660C218.3 643.3 218.3 623.3 210 600C201.7 576.7 185 553.3 200 520Z" fill="#f05a75"/>
<path d="M-50 -50C0 -75 198.3 -75 250 -50C301.7 -25 271.7 78.3 260 100C248.3 121.7 206.7 80 180 80C153.3 80 125 93.3 100 100C75 106.7 55 120 30 120C5 120 -36.7 128.3 -50 100C-63.3 71.7 -100 -25 -50 -50Z" fill="#f05a75"/>
<path d="M580 1440C585 1425 608.3 1410 620 1420C631.7 1430 648.3 1481.7 650 1500C651.7 1518.3 640 1528.3 630 1530C620 1531.7 598.3 1525 590 1510C581.7 1495 575 1455 580 1440Z" fill="#f05a75"/>
<path d="M560 300C566.7 285 625 256.7 640 260C655 263.3 656.7 305 650 320C643.3 335 615 353.3 600 350C585 346.7 553.3 315 560 300Z" fill="#f05a75"/>
<path d="M680 50C686.7 38.3 726.7 31.7 740 40C753.3 48.3 766.7 88.3 760 100C753.3 111.7 713.3 118.3 700 110C686.7 101.7 673.3 61.7 680 50Z" fill="#f05a75"/>
<path d="M1560 120C1571.7 96.7 1610 71.7 1650 60C1690 48.3 1775 26.7 1800 50C1825 73.3 1825 170 1800 200C1775 230 1686.7 230 1650 230C1613.3 230 1595 218.3 1580 200C1565 181.7 1548.3 143.3 1560 120Z" fill="#f05a75"/>
<path d="M820 200C831.7 141.7 836.7 91.7 860 50C883.3 8.3 853.3 -33.3 960 -50C1066.7 -66.7 1413.3 -83.3 1500 -50C1586.7 -16.7 1493.3 91.7 1480 150C1466.7 208.3 1426.7 241.7 1420 300C1413.3 358.3 1430 458.3 1440 500C1450 541.7 1476.7 516.7 1480 550C1483.3 583.3 1476.7 658.3 1460 700C1443.3 741.7 1423.3 775 1380 800C1336.7 825 1263.3 846.7 1200 850C1136.7 853.3 1053.3 836.7 1000 820C946.7 803.3 913.3 786.7 880 750C846.7 713.3 815 658.3 800 600C785 541.7 786.7 466.7 790 400C793.3 333.3 808.3 258.3 820 200Z" fill="#b6b3de"/>
<path d="M-50 640C-25 535 50 656.7 100 680C150 703.3 203.3 743.3 250 780C296.7 816.7 348.3 855 380 900C411.7 945 433.3 1008.3 440 1050C446.7 1091.7 443.3 1125 420 1150C396.7 1175 345 1183.3 300 1200C255 1216.7 191.7 1233.3 150 1250C108.3 1266.7 83.3 1290 50 1300C16.7 1310 -33.3 1420 -50 1310C-66.7 1200 -75 745 -50 640Z" fill="#b6b3de"/>
<path d="M-50 1400C-25 1333.3 58.3 1383.3 100 1400C141.7 1416.7 175 1466.7 200 1500C225 1533.3 233.3 1550 250 1600C266.7 1650 350 1766.7 300 1800C250 1833.3 8.3 1866.7 -50 1800C-108.3 1733.3 -75 1466.7 -50 1400Z" fill="#b6b3de"/>
<path d="M840 450C846.7 383.3 881.7 258.3 900 200C918.3 141.7 908.3 126.7 950 100C991.7 73.3 1091.7 50 1150 40C1208.3 30 1258.3 21.7 1300 40C1341.7 58.3 1386.7 98.3 1400 150C1413.3 201.7 1383.3 291.7 1380 350C1376.7 408.3 1383.3 450 1380 500C1376.7 550 1381.7 608.3 1360 650C1338.3 691.7 1293.3 731.7 1250 750C1206.7 768.3 1150 768.3 1100 760C1050 751.7 990 726.7 950 700C910 673.3 878.3 641.7 860 600C841.7 558.3 833.3 516.7 840 450Z" fill="#6468bc"/>
<path d="M-50 700C-28.3 616.7 38.3 725 80 750C121.7 775 158.3 811.7 200 850C241.7 888.3 308.3 945 330 980C351.7 1015 351.7 1040 330 1060C308.3 1080 241.7 1076.7 200 1100C158.3 1123.3 121.7 1175 80 1200C38.3 1225 -28.3 1333.3 -50 1250C-71.7 1166.7 -71.7 783.3 -50 700Z" fill="#6468bc"/>
<path d="M1000 400C1018.3 366.7 1063.3 331.7 1100 320C1136.7 308.3 1186.7 313.3 1220 330C1253.3 346.7 1290 383.3 1300 420C1310 456.7 1296.7 515 1280 550C1263.3 585 1238.3 616.7 1200 630C1161.7 643.3 1085 648.3 1050 630C1015 611.7 998.3 558.3 990 520C981.7 481.7 981.7 433.3 1000 400Z" fill="#4a5aaf"/>
<path d="M-50 850C-36.7 805 13.3 825 30 850C46.7 875 51.7 958.3 50 1000C48.3 1041.7 36.7 1080 20 1100C3.3 1120 -38.3 1161.7 -50 1120C-61.7 1078.3 -63.3 895 -50 850Z" fill="#4a5aaf"/>
<path d="M1790 180C1781 187.5 1759.3 203.3 1736 225C1712.7 246.7 1679.3 285.8 1650 310C1620.7 334.2 1585 350 1560 370C1535 390 1526.7 415.8 1500 430C1473.3 444.2 1433.3 448.3 1400 455C1366.7 461.7 1333.3 460 1300 470C1266.7 480 1233.3 502.5 1200 515C1166.7 527.5 1133.3 532.5 1100 545C1066.7 557.5 1038.3 580 1000 590C961.7 600 906.7 596.7 870 605C833.3 613.3 808.3 630 780 640C751.7 650 725 655 700 665C675 675 646.7 702.5 630 700C613.3 697.5 618.3 665.8 600 650C581.7 634.2 553.3 613.3 520 605C486.7 596.7 431.7 596.7 400 600C368.3 603.3 355 614.2 330 625C305 635.8 271.7 651.7 250 665C228.3 678.3 221.7 693.3 200 705C178.3 716.7 138.3 723.3 120 735C101.7 746.7 103.3 762.5 90 775C76.7 787.5 61.7 795.8 40 810C18.3 824.2 -26.7 851.7 -40 860" fill="none" stroke="#aca9b0" stroke-opacity="0.62" stroke-width="13" stroke-linejoin="round" stroke-linecap="round"/>
<path d="M-40 1120C-26.7 1128.3 11.7 1143.3 40 1170C68.3 1196.7 100 1246.7 130 1280C160 1313.3 190 1341.7 220 1370C250 1398.3 283.3 1420 310 1450C336.7 1480 360 1516.7 380 1550C400 1583.3 416.7 1610 430 1650C443.3 1690 455 1766.7 460 1790" fill="none" stroke="#aca9b0" stroke-opacity="0.62" stroke-width="13" stroke-linejoin="round" stroke-linecap="round"/>
<path d="M450 885C468.3 881.2 526.7 867.5 560 862C593.3 856.5 623.3 845.7 650 852C676.7 858.3 710.8 875.3 720 900C729.2 924.7 718.3 975 705 1000C691.7 1025 664.2 1033.3 640 1050C615.8 1066.7 583.3 1088 560 1100C536.7 1112 523.3 1122 500 1122C476.7 1122 439.7 1112 420 1100C400.3 1088 388.7 1073.3 382 1050C375.3 1026.7 368.7 987.5 380 960C391.3 932.5 438.3 897.5 450 885" fill="none" stroke="#aca9b0" stroke-opacity="0.62" stroke-width="13" stroke-linejoin="round" stroke-linecap="round"/>
<path d="M104.8 56.4C106.4 58 116.9 69.3 120.9 72.5C124.9 75.8 141.8 82.2 145.1 88.7C148.3 95.1 149.1 129.8 153.1 137C157.2 144.3 180.5 155.5 185.4 161.2C190.2 166.8 203.9 188.6 201.5 193.4C199.1 198.3 165.2 204.7 161.2 209.5C157.2 214.4 164.4 236.9 161.2 241.8C158 246.6 133.8 255.5 129 257.9C124.1 260.3 112 261.1 112.8 266C113.6 270.8 129.8 303 137 306.3C144.3 309.5 176.5 303 185.4 298.2C194.2 293.4 220 265.2 225.7 257.9C231.3 250.6 234.5 231.3 241.8 225.7C249 220 286.1 204.7 298.2 201.5C310.3 198.3 352.2 195.8 362.7 193.4C373.2 191 398.1 182.9 403 177.3C407.8 171.7 411 143.5 411 137C411 130.6 403.8 115.2 403 112.8" fill="none" stroke="#5cc25c" stroke-width="11" stroke-linejoin="round"/>
<path d="M145.1 96.7C152.3 96.7 207.9 94.3 217.6 96.7C227.3 99.1 239.4 118.5 241.8 120.9" fill="none" stroke="#5cc25c" stroke-width="11" stroke-linejoin="round"/>
<path d="M32.2 233.7C34.7 231.7 53.2 224.9 56.4 225.7C59.6 226.5 66.9 239.8 64.5 241.8C62.1 243.8 35.5 246.6 32.2 245.8C29 245 29.8 235.7 32.2 233.7Z" fill="none" stroke="#5cc25c" stroke-width="11" stroke-linejoin="round"/>
<path d="M96.7 435.2C101.5 432 133 427.1 145.1 427.1C157.2 427.1 208.7 431.2 217.6 435.2C226.5 439.2 235.3 462.6 233.7 467.4C232.1 472.3 212.8 482.8 201.5 483.6C190.2 484.4 131.4 477.9 120.9 475.5C110.4 473.1 99.1 463.4 96.7 459.4C94.3 455.4 91.9 438.4 96.7 435.2Z" fill="none" stroke="#5cc25c" stroke-width="11" stroke-linejoin="round"/>
<path d="M209.5 394.9C211.2 390.9 230.5 378 233.7 378.8C236.9 379.6 243.4 398.9 241.8 403C240.2 407 220.8 419.9 217.6 419.1C214.4 418.3 207.9 398.9 209.5 394.9Z" fill="none" stroke="#5cc25c" stroke-width="11" stroke-linejoin="round"/>
<path d="M88.7 644.8C100.7 643.1 197.5 635.9 209.5 636.7C221.6 637.5 221.6 651.2 209.5 652.8C197.5 654.4 100.7 653.6 88.7 652.8C76.6 652 76.6 646.4 88.7 644.8Z" fill="none" stroke="#5cc25c" stroke-width="11" stroke-linejoin="round"/>
<path d="M483.6 169.2C488.4 166 522.3 160.4 531.9 161.2C541.6 162 576.2 173.3 580.3 177.3C584.3 181.3 578.7 198.3 572.2 201.5C565.8 204.7 524.7 210.4 515.8 209.5C506.9 208.7 486.8 197.5 483.6 193.4C480.3 189.4 478.7 172.5 483.6 169.2Z" fill="none" stroke="#5cc25c" stroke-width="11" stroke-linejoin="round"/>
<path d="M556.1 56.4C559.3 53.2 582.7 26.6 588.3 24.2C594 21.8 611.7 29 612.5 32.2C613.3 35.5 602 52.4 596.4 56.4C590.8 60.4 560.9 69.3 556.1 72.5C551.3 75.8 548.8 87 548 88.7" fill="none" stroke="#5cc25c" stroke-width="11" stroke-linejoin="round"/>
<path d="M443.3 137C444.1 133.8 463.4 121.7 467.4 120.9C471.5 120.1 484.4 125.7 483.6 129C482.8 132.2 463.4 152.3 459.4 153.1C455.4 153.9 442.5 140.2 443.3 137Z" fill="none" stroke="#5cc25c" stroke-width="11" stroke-linejoin="round"/>
<path d="M685.1 177.3C685.9 175.7 707.6 175.7 709.2 177.3C710.8 178.9 703.6 193.4 701.2 193.4C698.8 193.4 684.2 178.9 685.1 177.3Z" fill="none" stroke="#5cc25c" stroke-width="11" stroke-linejoin="round"/>
<path d="M878.5 765.6C879.3 764 893.8 785.8 894.6 789.8C895.4 793.9 888.1 808.4 886.5 805.9C884.9 803.5 877.7 767.3 878.5 765.6Z" fill="none" stroke="#5cc25c" stroke-width="11" stroke-linejoin="round"/>
<path d="M677 40.3C679.4 37.9 702 29.8 709.2 32.2C716.5 34.7 745.5 59.6 749.5 64.5C753.6 69.3 753.6 79 749.5 80.6C745.5 82.2 715.7 83 709.2 80.6C702.8 78.2 688.3 60.4 685.1 56.4C681.8 52.4 674.6 42.7 677 40.3Z" fill="none" stroke="#3b8e86" stroke-width="11" stroke-linejoin="round"/>
<path d="M781.8 80.6C784.2 75.8 833.3 72.5 846.2 72.5C859.1 72.5 903.5 77.4 910.7 80.6C918 83.8 922.8 100.7 918.8 104.8C914.7 108.8 880.1 119.3 870.4 120.9C860.7 122.5 830.9 124.9 822.1 120.9C813.2 116.9 779.3 85.4 781.8 80.6Z" fill="none" stroke="#3b8e86" stroke-width="11" stroke-linejoin="round"/>
<path d="M604.5 282.1C604.5 278.9 636.7 265.2 644.8 266C652.8 266.8 686.7 284.5 685.1 290.1C683.4 295.8 636.7 318.3 628.6 322.4C620.6 326.4 602.8 332.9 604.5 330.4C606.1 328 644.8 303 644.8 298.2C644.8 293.4 604.5 285.3 604.5 282.1Z" fill="none" stroke="#3b8e86" stroke-width="11" stroke-linejoin="round"/>
<path d="M378.8 56.4C380.4 54 398.9 47.6 403 48.4C407 49.2 420.7 62.1 419.1 64.5C417.5 66.9 390.9 73.3 386.9 72.5C382.8 71.7 377.2 58.8 378.8 56.4Z" fill="none" stroke="#3b8e86" stroke-width="11" stroke-linejoin="round"/>
<path d="M773.7 531.9C775.3 530.3 793.9 523.1 797.9 523.9C801.9 524.7 815.6 538.4 814 540C812.4 541.6 785.8 540.8 781.8 540C777.7 539.2 772.1 533.5 773.7 531.9Z" fill="none" stroke="#3b8e86" stroke-width="11" stroke-linejoin="round"/>
<path d="M902.7 233.7C905.1 228.1 955.8 219.2 967.1 217.6C978.4 216 1007.4 223.2 1015.5 217.6C1023.5 212 1040.5 167.6 1047.7 161.2C1055 154.7 1081.6 154.7 1088 153.1C1094.5 151.5 1106.6 149.1 1112.2 145.1C1117.8 141 1142.8 110.4 1144.4 112.8C1146.1 115.2 1132.3 160.4 1128.3 169.2C1124.3 178.1 1112.2 193.4 1104.1 201.5C1096.1 209.5 1061.4 237.8 1047.7 249.8C1034 261.9 977.6 320 967.1 322.4C956.7 324.8 949.4 282.9 943 274C936.5 265.2 900.2 239.4 902.7 233.7Z" fill="none" stroke="#3b8e86" stroke-width="11" stroke-linejoin="round"/>
<path d="M1168.6 282.1C1171.8 276.4 1196.8 249.8 1208.9 241.8C1221 233.7 1273.4 207.1 1289.5 201.5C1305.6 195.8 1361.2 181.3 1370.1 185.4C1379 189.4 1382.2 232.9 1378.2 241.8C1374.1 250.6 1342.7 270 1329.8 274C1316.9 278.1 1264.5 279.7 1249.2 282.1C1233.9 284.5 1184.7 298.2 1176.7 298.2C1168.6 298.2 1165.4 287.7 1168.6 282.1Z" fill="none" stroke="#3b8e86" stroke-width="11" stroke-linejoin="round"/>
<path d="M870.4 386.9C872.8 382 895.4 364.3 902.7 362.7C909.9 361.1 939.7 366.7 943 370.7C946.2 374.8 941.3 398.9 934.9 403C928.4 407 884.9 412.6 878.5 411C872 409.4 868 391.7 870.4 386.9Z" fill="none" stroke="#3b8e86" stroke-width="11" stroke-linejoin="round"/>
<path d="M1063.8 443.3C1070.3 437.6 1111.4 408.6 1128.3 403C1145.2 397.3 1224.2 383.6 1233.1 386.9C1242 390.1 1225 428 1217 435.2C1208.9 442.5 1167.8 457 1152.5 459.4C1137.2 461.8 1072.7 461 1063.8 459.4C1055 457.8 1057.4 448.9 1063.8 443.3Z" fill="none" stroke="#3b8e86" stroke-width="11" stroke-linejoin="round"/>
<path d="M959.1 475.5C963.1 472.3 1001.8 451.3 1007.4 451.3C1013.1 451.3 1019.5 472.3 1015.5 475.5C1011.5 478.7 972.8 483.6 967.1 483.6C961.5 483.6 955 478.7 959.1 475.5Z" fill="none" stroke="#3b8e86" stroke-width="11" stroke-linejoin="round"/>
<path d="M886.5 515.8C888.1 511 913.9 498.1 918.8 499.7C923.6 501.3 936.5 527.1 934.9 531.9C933.3 536.8 907.5 549.7 902.7 548C897.8 546.4 884.9 520.6 886.5 515.8Z" fill="none" stroke="#3b8e86" stroke-width="11" stroke-linejoin="round"/>
<path d="M1184.7 540C1189.6 534.3 1224.2 492.4 1233.1 483.6C1242 474.7 1269.4 460.2 1273.4 451.3C1277.4 442.5 1270.2 402.2 1273.4 394.9C1276.6 387.7 1296 384.4 1305.6 378.8C1315.3 373.2 1355.6 344.1 1370.1 338.5C1384.6 332.9 1437.8 321.6 1450.7 322.4C1463.6 323.2 1489.4 347.4 1499.1 346.6C1508.7 345.7 1539.4 324.8 1547.4 314.3C1555.5 303.8 1575.6 258.7 1579.6 241.8C1583.7 224.9 1585.3 161.2 1587.7 145.1C1590.1 129 1599.8 90.3 1603.8 80.6C1607.9 70.9 1628.8 54.8 1628 48.4C1627.2 41.9 1599 19.3 1595.8 16.1" fill="none" stroke="#3b8e86" stroke-width="11" stroke-linejoin="round"/>
<path d="M1208.9 556.1C1213.7 558.5 1249.2 574.6 1257.3 580.3C1265.3 585.9 1283.1 605.3 1289.5 612.5C1296 619.8 1313.7 645.6 1321.7 652.8C1329.8 660.1 1357.2 682.6 1370.1 685.1C1383 687.5 1438.6 676.2 1450.7 677C1462.8 677.8 1484.5 688.3 1491 693.1C1497.4 697.9 1509.5 717.3 1515.2 725.3C1520.8 733.4 1541 762.4 1547.4 773.7C1553.9 785 1574.8 828.6 1579.6 838.2C1584.5 847.8 1594.2 866.5 1595.8 869.6" fill="none" stroke="#3b8e86" stroke-width="11" stroke-linejoin="round"/>
<path d="M1450.7 644.8C1450.7 639.9 1476.5 634.3 1482.9 636.7C1489.4 639.1 1515.2 664.1 1515.2 668.9C1515.2 673.8 1489.4 687.5 1482.9 685.1C1476.5 682.6 1450.7 649.6 1450.7 644.8Z" fill="none" stroke="#3b8e86" stroke-width="11" stroke-linejoin="round"/>
<path d="M1354 709.2C1355.6 706 1381.4 699.6 1386.2 701.2C1391.1 702.8 1404 722.1 1402.3 725.3C1400.7 728.6 1374.9 735 1370.1 733.4C1365.3 731.8 1352.4 712.5 1354 709.2Z" fill="none" stroke="#3b8e86" stroke-width="11" stroke-linejoin="round"/>
<path d="M910.7 869.6C916.4 862.4 955.8 811.5 967.1 797.9C978.4 784.3 1011.5 743.1 1023.5 733.4C1035.6 723.7 1073.5 706 1088 701.2C1102.5 696.3 1152.5 685.9 1168.6 685.1C1184.7 684.2 1237.1 690.7 1249.2 693.1C1261.3 695.5 1285.5 707.6 1289.5 709.2" fill="none" stroke="#3b8e86" stroke-width="11" stroke-linejoin="round"/>
<path d="M1273.4 781.8C1279 781.8 1320.1 781 1329.8 781.8C1339.5 782.6 1361.2 787.4 1370.1 789.8C1379 792.2 1415.2 802.7 1418.5 805.9C1421.7 809.2 1408.8 821.3 1402.3 822.1C1395.9 822.9 1360.4 811.6 1354 814C1347.5 816.4 1337.9 840.7 1337.9 846.2C1337.9 851.8 1352.4 867.3 1354 869.6" fill="none" stroke="#3b8e86" stroke-width="11" stroke-linejoin="round"/>
<path d="M1063.8 830.1C1068.7 828.5 1120.3 819.6 1128.3 822.1C1136.4 824.5 1146.1 851.1 1144.4 854.3C1142.8 857.5 1118.6 855.9 1112.2 854.3C1105.8 852.7 1084.8 840.6 1080 838.2C1075.1 835.8 1059 831.7 1063.8 830.1Z" fill="none" stroke="#3b6e8e" stroke-width="11" stroke-linejoin="round"/>
<path d="M1579.6 8.1C1582.9 9.7 1603.8 23.4 1611.9 24.2C1619.9 25 1652.2 13.7 1660.2 16.1C1668.3 18.5 1690.9 41.9 1692.5 48.4C1694.1 54.8 1682.8 78.2 1676.4 80.6C1669.9 83 1635.3 69.3 1628 72.5C1620.8 75.8 1606.2 108.8 1603.8 112.8" fill="none" stroke="#3b8e86" stroke-width="11" stroke-linejoin="round"/>
<path d="M1644.1 120.9C1645.7 117.7 1671.5 104 1676.4 104.8C1681.2 105.6 1694.1 125.7 1692.5 129C1690.9 132.2 1665.1 137.8 1660.2 137C1655.4 136.2 1642.5 124.1 1644.1 120.9Z" fill="none" stroke="#3b8e86" stroke-width="11" stroke-linejoin="round"/>
<path d="M282.1 709.2C282.9 714.9 286.1 756 290.1 765.6C294.2 775.3 315.9 798.7 322.4 805.9C328.8 813.2 349 831.8 354.6 838.2C360.3 844.5 376.4 866.5 378.8 869.6" fill="none" stroke="#3b8e86" stroke-width="11" stroke-linejoin="round"/>
<path d="M378.8 725.3C382 719.7 408.6 706 411 709.2C413.4 712.5 406.2 751.9 403 757.6C399.7 763.2 381.2 768.9 378.8 765.6C376.4 762.4 375.6 731 378.8 725.3Z" fill="none" stroke="#3b8e86" stroke-width="11" stroke-linejoin="round"/>
<path d="M564.2 628.6C565.8 622.2 591.6 569.8 596.4 564.2C601.2 558.5 614.1 565.8 612.5 572.2C610.9 578.7 585.1 623 580.3 628.6C575.4 634.3 562.5 635.1 564.2 628.6Z" fill="none" stroke="#3b8e86" stroke-width="11" stroke-linejoin="round"/>
<path d="M435.2 668.9C440 667.3 474.7 656 483.6 652.8C492.4 649.6 515.8 635.1 523.9 636.7C531.9 638.3 558.5 662.5 564.2 668.9C569.8 675.4 575.4 697.1 580.3 701.2C585.1 705.2 606.1 710 612.5 709.2C619 708.4 639.9 688.3 644.8 693.1C649.6 697.9 654.4 751.9 660.9 757.6C667.3 763.2 701.2 747.1 709.2 749.5C717.3 751.9 736.6 769.8 741.5 781.8C746.3 793.8 756 860.8 757.6 869.6" fill="none" stroke="#3b8e86" stroke-width="11" stroke-linejoin="round"/>
<path d="M435.2 668.9C436.8 674.6 450.5 714.9 451.3 725.3C452.1 735.8 440 767.3 443.3 773.7C446.5 780.2 476.3 792.2 483.6 789.8C490.8 787.4 509.4 751.9 515.8 749.5C522.3 747.1 543.2 759.2 548 765.6C552.9 772.1 565.8 805.9 564.2 814C562.5 822.1 531.9 840.7 531.9 846.2C531.9 851.8 560.9 867.3 564.2 869.6" fill="none" stroke="#3b8e86" stroke-width="11" stroke-linejoin="round"/>
<path d="M306.3 866.6C311.9 873 349.8 919 362.7 931.1C375.6 943.2 423.1 975.4 435.2 987.5C447.3 999.6 476.3 1039.9 483.6 1052C490.8 1064.1 499.7 1097.9 507.7 1108.4C515.8 1118.9 550.5 1148.7 564.2 1156.7C577.9 1164.8 624.6 1182.5 644.8 1189C664.9 1195.4 745.5 1216.4 765.6 1221.2C785.8 1226.1 830.1 1234.9 846.2 1237.3C862.4 1239.8 909.9 1246.2 926.8 1245.4C943.8 1244.6 1004.2 1234.9 1015.5 1229.3C1026.8 1223.6 1036.4 1195.4 1039.7 1189C1042.9 1182.5 1050.9 1171.2 1047.7 1164.8C1044.5 1158.4 1015.5 1132.6 1007.4 1124.5C999.4 1116.4 972.8 1092.3 967.1 1084.2C961.5 1076.1 960.7 1052 951 1043.9C941.3 1035.8 881.7 1011.7 870.4 1003.6C859.1 995.6 842.2 969 838.2 963.3C834.2 957.7 829.3 950.4 830.1 947.2C830.9 944 840.6 934.3 846.2 931.1C851.9 927.9 879.3 920.6 886.5 915C893.8 909.3 915.6 878.7 918.8 874.7" fill="none" stroke="#3b8e86" stroke-width="11" stroke-linejoin="round"/>
<path d="M620.6 971.4C622.2 973 631.9 981.8 636.7 987.5C641.5 993.1 666.5 1018.9 668.9 1027.8C671.4 1036.7 661.7 1065.7 660.9 1076.1C660.1 1086.6 658.5 1125.3 660.9 1132.6C663.3 1139.8 676.2 1147.1 685.1 1148.7C693.9 1150.3 739.9 1147.1 749.5 1148.7C759.2 1150.3 776.9 1161.6 781.8 1164.8C786.6 1168 799.5 1177.7 797.9 1180.9C796.3 1184.1 768.9 1193.8 765.6 1197C762.4 1200.3 761.6 1208.3 765.6 1213.2C769.7 1218 797.9 1240.6 805.9 1245.4C814 1250.2 832.5 1255.9 846.2 1261.5C859.9 1267.2 938.9 1297 943 1301.8C947 1306.6 903.5 1308.3 886.5 1309.9C869.6 1311.5 785.8 1316.3 773.7 1317.9C761.6 1319.5 761.6 1324.4 765.6 1326C769.7 1327.6 807.6 1327.6 814 1334C820.4 1340.5 830.1 1380.8 830.1 1390.5C830.1 1400.1 813.2 1425.9 814 1430.8C814.8 1435.6 835 1440.4 838.2 1438.8C841.4 1437.2 847 1418.7 846.2 1414.6C845.4 1410.6 831.7 1400.1 830.1 1398.5" fill="none" stroke="#3b8e86" stroke-width="11" stroke-linejoin="round"/>
<path d="M628.6 971.4C633.5 973 669.7 981.8 677 987.5C684.2 993.1 697.1 1026.2 701.2 1027.8C705.2 1029.4 716.5 1010.9 717.3 1003.6C718.1 996.4 708.4 964.9 709.2 955.3C710 945.6 722.1 915.8 725.3 906.9C728.6 898 739.9 870.6 741.5 866.6" fill="none" stroke="#3b8e86" stroke-width="11" stroke-linejoin="round"/>
<path d="M483.6 874.7C486.8 877.1 507.7 894.8 515.8 898.8C523.9 902.9 556.1 910.1 564.2 915C572.2 919.8 594.8 943.2 596.4 947.2C598 951.2 585.1 958.5 580.3 955.3C575.4 952 551.3 919 548 915" fill="none" stroke="#3b8e86" stroke-width="11" stroke-linejoin="round"/>
<path d="M765.6 1124.5C768.1 1119.7 796.3 1090.7 805.9 1084.2C815.6 1077.8 852.7 1060 862.4 1060C872 1060 898.6 1079.4 902.7 1084.2C906.7 1089 909.1 1105.2 902.7 1108.4C896.2 1111.6 850.3 1114 838.2 1116.4C826.1 1118.9 789 1131.8 781.8 1132.6C774.5 1133.4 763.2 1129.3 765.6 1124.5Z" fill="none" stroke="#3b8e86" stroke-width="11" stroke-linejoin="round"/>
<path d="M991.3 947.2C994.5 939.1 1022.7 902.9 1031.6 898.8C1040.5 894.8 1072.7 902.1 1080 906.9C1087.2 911.7 1104.1 937.5 1104.1 947.2C1104.1 956.9 1087.2 997.2 1080 1003.6C1072.7 1010.1 1039.7 1014.1 1031.6 1011.7C1023.5 1009.3 1003.4 985.9 999.4 979.4C995.3 973 988.1 955.3 991.3 947.2Z" fill="none" stroke="#3b8e86" stroke-width="11" stroke-linejoin="round"/>
<path d="M1192.8 874.7C1194.4 877.1 1202.5 894.8 1208.9 898.8C1215.4 902.9 1247.6 915.8 1257.3 915C1266.9 914.2 1299.2 894.8 1305.6 890.8C1312.1 886.7 1320.1 876.3 1321.7 874.7" fill="none" stroke="#3b8e86" stroke-width="11" stroke-linejoin="round"/>
<path d="M1192.8 874.7C1196 878.7 1213.7 906.1 1225 915C1236.3 923.8 1291.1 950.4 1305.6 963.3C1320.1 976.2 1358.8 1027.8 1370.1 1043.9C1381.4 1060 1411.2 1108.4 1418.5 1124.5C1425.7 1140.6 1438.6 1190.6 1442.6 1205.1C1446.7 1219.6 1458.8 1258.3 1458.8 1269.6C1458.8 1280.9 1447.5 1308.3 1442.6 1317.9C1437.8 1327.6 1414.4 1356.6 1410.4 1366.3C1406.4 1376 1414.4 1408.2 1402.3 1414.6C1390.3 1421.1 1308.9 1427.5 1289.5 1430.8C1270.2 1434 1225 1443.7 1208.9 1446.9C1192.8 1450.1 1144.4 1459.8 1128.3 1463C1112.2 1466.2 1063.8 1475.9 1047.7 1479.1C1031.6 1482.3 983.2 1491.2 967.1 1495.2C951 1499.3 902.7 1513.8 886.5 1519.4C870.4 1525.1 805.9 1546 805.9 1551.7C805.9 1557.3 870.4 1568.6 886.5 1575.8C902.7 1583.1 953.4 1615.3 967.1 1624.2C980.8 1633.1 1011.5 1655.6 1023.5 1664.5C1035.6 1673.3 1080 1705.7 1088 1712.8C1096.1 1720 1102.5 1733.9 1104.1 1736.2" fill="none" stroke="#3b8e86" stroke-width="11" stroke-linejoin="round"/>
<path d="M951 1342.1C955.8 1337.3 997.8 1309.1 1007.4 1301.8C1017.1 1294.6 1035.6 1272.8 1047.7 1269.6C1059.8 1266.3 1118.6 1267.2 1128.3 1269.6C1138 1272 1146.1 1288.9 1144.4 1293.7C1142.8 1298.6 1125.9 1314.7 1112.2 1317.9C1098.5 1321.2 1022.7 1322.8 1007.4 1326C992.1 1329.2 964.7 1348.6 959.1 1350.2C953.4 1351.8 946.2 1346.9 951 1342.1Z" fill="none" stroke="#3b8e86" stroke-width="11" stroke-linejoin="round"/>
<path d="M282.1 1269.6C282.9 1261.5 284.5 1199.5 290.1 1189C295.8 1178.5 327.2 1166.4 338.5 1164.8C349.8 1163.2 388.5 1166.4 403 1172.9C417.5 1179.3 467.4 1221.2 483.6 1229.3C499.7 1237.3 551.3 1249.4 564.2 1253.5C577.1 1257.5 604.5 1263.1 612.5 1269.6C620.6 1276 635.1 1309.9 644.8 1317.9C654.4 1326 697.1 1342.9 709.2 1350.2C721.3 1357.4 755.2 1384 765.6 1390.5C776.1 1396.9 809.2 1412.2 814 1414.6" fill="none" stroke="#3b8e86" stroke-width="11" stroke-linejoin="round"/>
<path d="M282.1 1269.6C284.5 1273.6 300.6 1301.8 306.3 1309.9C311.9 1317.9 333.7 1339.7 338.5 1350.2C343.3 1360.6 350.6 1405.8 354.6 1414.6C358.6 1423.5 378 1433.2 378.8 1438.8C379.6 1444.5 360.3 1461.4 362.7 1471.1C365.1 1480.7 392.5 1526.7 403 1535.5C413.4 1544.4 451.3 1552.5 467.4 1559.7C483.6 1567 542.4 1600.8 564.2 1608.1C585.9 1615.3 668.1 1626.6 685.1 1632.2C702 1637.9 729.4 1657.2 733.4 1664.5C737.4 1671.7 730.2 1697.6 725.3 1704.8C720.5 1712 689.1 1733.1 685.1 1736.2" fill="none" stroke="#3b8e86" stroke-width="11" stroke-linejoin="round"/>
<path d="M8.1 1245.4C12.1 1249.4 38.7 1275.2 48.4 1285.7C58 1296.2 95.1 1337.3 104.8 1350.2C114.4 1363.1 137 1402.6 145.1 1414.6C153.1 1426.7 178.9 1461.4 185.4 1471.1C191.8 1480.7 199.9 1502.5 209.5 1511.4C219.2 1520.2 269.2 1551.7 282.1 1559.7C295 1567.8 329.6 1583.9 338.5 1591.9C347.4 1600 365.1 1625.9 370.7 1640.3C376.4 1654.7 392.5 1726.6 394.9 1736.2" fill="none" stroke="#3b8e86" stroke-width="11" stroke-linejoin="round"/>
<path d="M1611.9 874.7C1616.7 880.3 1652.2 927 1660.2 931.1C1668.3 935.1 1685.2 916.6 1692.5 915C1699.7 913.3 1728.7 915 1732.8 915" fill="none" stroke="#3b8e86" stroke-width="11" stroke-linejoin="round"/>
<path d="M1732.8 1229.3C1726.3 1230.1 1677.2 1230.9 1668.3 1237.3C1659.4 1243.8 1653 1282.5 1644.1 1293.7C1635.3 1305 1591.7 1342.9 1579.6 1350.2C1567.6 1357.4 1529.7 1359.8 1523.2 1366.3C1516.8 1372.7 1522.4 1403.4 1515.2 1414.6C1507.9 1425.9 1465.2 1467 1450.7 1479.1C1436.2 1491.2 1384.6 1526.7 1370.1 1535.5C1355.6 1544.4 1314.5 1564.5 1305.6 1567.8C1296.8 1571 1275.8 1562.9 1281.4 1567.8C1287.1 1572.6 1361.2 1607.3 1362 1616.1C1362.8 1625 1304.8 1649.2 1289.5 1656.4C1274.2 1663.7 1222.6 1680.7 1208.9 1688.7C1195.2 1696.6 1158.1 1731.5 1152.5 1736.2" fill="none" stroke="#3b8e86" stroke-width="11" stroke-linejoin="round"/>
<path d="M1321.7 1463C1325 1455.7 1362.8 1427.5 1370.1 1422.7C1377.4 1417.9 1394.3 1410.6 1394.3 1414.6C1394.3 1418.7 1375.7 1454.9 1370.1 1463C1364.5 1471.1 1342.7 1495.2 1337.9 1495.2C1333 1495.2 1318.5 1470.3 1321.7 1463Z" fill="none" stroke="#3b8e86" stroke-width="11" stroke-linejoin="round"/>
<path d="M1144.4 1600C1144.4 1595.2 1163.8 1582.3 1168.6 1583.9C1173.5 1585.5 1192.8 1611.3 1192.8 1616.1C1192.8 1621 1173.5 1633.9 1168.6 1632.2C1163.8 1630.6 1144.4 1604.8 1144.4 1600Z" fill="none" stroke="#3b8e86" stroke-width="11" stroke-linejoin="round"/>
<path d="M967.1 1535.5C973.6 1532.3 1038.9 1512.2 1047.7 1511.4C1056.6 1510.5 1062.2 1524.2 1055.8 1527.5C1049.3 1530.7 992.1 1542.8 983.2 1543.6C974.4 1544.4 960.7 1538.8 967.1 1535.5Z" fill="none" stroke="#3b8e86" stroke-width="11" stroke-linejoin="round"/>
<path d="M145.1 1471.1C146.7 1463.8 173.3 1436.4 177.3 1438.8C181.3 1441.2 187 1488 185.4 1495.2C183.8 1502.5 165.2 1513.8 161.2 1511.4C157.2 1508.9 143.5 1478.3 145.1 1471.1Z" fill="none" stroke="#3b6e8e" stroke-width="11" stroke-linejoin="round"/>
<path d="M193.4 1591.9C195.8 1587.1 218.4 1561.3 225.7 1559.7C232.9 1558.1 264.3 1571 266 1575.8C267.6 1580.7 248.2 1604.8 241.8 1608.1C235.3 1611.3 206.3 1609.7 201.5 1608.1C196.6 1606.5 191 1596.8 193.4 1591.9Z" fill="none" stroke="#3b6e8e" stroke-width="11" stroke-linejoin="round"/>
<path d="M80.6 1640.3C82.2 1638.7 111.2 1645.9 112.8 1648.4C114.4 1650.8 99.9 1665.3 96.7 1664.5C93.5 1663.7 79 1641.9 80.6 1640.3Z" fill="none" stroke="#3b6e8e" stroke-width="11" stroke-linejoin="round"/>
<path d="M56.4 1736.2C62.9 1733.1 110.4 1708.7 120.9 1704.8C131.4 1700.8 152.3 1695.1 161.2 1696.7C170.1 1698.3 204.7 1718.5 209.5 1720.9" fill="none" stroke="#3b6e8e" stroke-width="11" stroke-linejoin="round"/>
<path d="M16.1 1591.9C14.5 1590.3 26.6 1564.5 32.2 1559.7C37.9 1554.9 70.9 1542 72.5 1543.6C74.1 1545.2 54 1571 48.4 1575.8C42.7 1580.7 17.7 1593.6 16.1 1591.9Z" fill="none" stroke="#3b6e8e" stroke-width="11" stroke-linejoin="round"/>
<path d="M193.4 1471.1C195.8 1467 215.2 1453.3 217.6 1454.9C220 1456.5 220 1483.1 217.6 1487.2C215.2 1491.2 195.8 1496.8 193.4 1495.2C191 1493.6 191 1475.1 193.4 1471.1Z" fill="none" stroke="#5cc25c" stroke-width="11" stroke-linejoin="round"/>
<path d="M306.3 1567.8C307.9 1564.5 327.2 1571.8 330.4 1575.8C333.7 1579.9 340.1 1604.8 338.5 1608.1C336.9 1611.3 317.5 1612.1 314.3 1608.1C311.1 1604 304.6 1571 306.3 1567.8Z" fill="none" stroke="#5cc25c" stroke-width="11" stroke-linejoin="round"/>
<path d="M1063.8 943.2C1063.8 942 1074.7 938.3 1075.9 939.1C1077.1 939.9 1077.1 950.8 1075.9 951.2C1074.7 951.6 1063.8 944.4 1063.8 943.2Z" fill="none" stroke="#5cc25c" stroke-width="11" stroke-linejoin="round"/>
<text transform="translate(322 105) rotate(0) scale(1.12 1)" y="36" font-family="Liberation Sans" font-size="102" text-anchor="middle" fill="#0d0d0d">296</text>
<text transform="translate(1225 153) rotate(80) scale(1.12 1)" y="36" font-family="Liberation Sans" font-size="102" text-anchor="middle" fill="#0d0d0d">294</text>
<text transform="translate(322 1665) rotate(-45) scale(1.12 1)" y="36" font-family="Liberation Sans" font-size="102" text-anchor="middle" fill="#0d0d0d">92</text>
<text transform="translate(612 1729) rotate(0) scale(1.12 1)" y="36" font-family="Liberation Sans" font-size="102" text-anchor="middle" fill="#0d0d0d">94</text>
</g></g>
<rect x="171.6" y="1632.4" width="612" height="613" fill="none" stroke="#0d0d0d" stroke-width="4.4"/>
<path d="M171.6 2245.4H160.1M171.6 2194.3H148.6M171.6 2143.2H160.1M171.6 2092.2H160.1M171.6 2041.1H160.1M171.6 1990H160.1M171.6 1938.9H148.6M171.6 1887.8H160.1M171.6 1836.7H160.1M171.6 1785.7H160.1M171.6 1734.6H160.1M171.6 1683.5H148.6M171.6 1632.4H160.1M171.6 2245.4V2256.9M222.6 2245.4V2256.9M273.6 2245.4V2256.9M324.6 2245.4V2256.9M375.6 2245.4V2268.4M426.6 2245.4V2256.9M477.6 2245.4V2256.9M528.6 2245.4V2256.9M579.6 2245.4V2256.9M630.6 2245.4V2268.4M681.6 2245.4V2256.9M732.6 2245.4V2256.9M783.6 2245.4V2256.9" stroke="#0d0d0d" stroke-width="4.5" fill="none"/>
<text x="146.3" y="2215.3" font-family="Liberation Serif" font-size="56" text-anchor="end" fill="#231f20">15°N</text>
<text x="146.3" y="1959.9" font-family="Liberation Serif" font-size="56" text-anchor="end" fill="#231f20">20°N</text>
<text x="146.3" y="1704.5" font-family="Liberation Serif" font-size="56" text-anchor="end" fill="#231f20">25°N</text>
<text x="375.6" y="2313.7" font-family="Liberation Serif" font-size="56" text-anchor="middle" fill="#231f20">110°E</text>
<text x="630.6" y="2313.7" font-family="Liberation Serif" font-size="56" text-anchor="middle" fill="#231f20">115°E</text>
<text x="477.6" y="1608.7" font-family="Liberation Serif" font-size="56" text-anchor="middle" fill="#231f20">(i) CTRL 850 hPa</text>
<g transform="translate(947.5 1632.4) scale(0.353111)">
<g clip-path="url(#cp)">
<rect x="-10" y="-10" width="1760" height="1760" fill="#4a5aaf"/>
<path d="M1100 1800C991.7 1733.3 1133.3 1516.7 1150 1400C1166.7 1283.3 1183.3 1183.3 1200 1100C1216.7 1016.7 1233.3 958.3 1250 900C1266.7 841.7 1266.7 783.3 1300 750C1333.3 716.7 1400 716.7 1450 700C1500 683.3 1541.7 666.7 1600 650C1658.3 633.3 1766.7 408.3 1800 600C1833.3 791.7 1916.7 1600 1800 1800C1683.3 2000 1208.3 1866.7 1100 1800Z" fill="#3953ac"/>
<path d="M950 480C953.3 448.3 966.7 400 1000 380C1033.3 360 1100 353.3 1150 360C1200 366.7 1271.7 393.3 1300 420C1328.3 446.7 1328.3 490 1320 520C1311.7 550 1286.7 583.3 1250 600C1213.3 616.7 1145 625 1100 620C1055 615 1005 593.3 980 570C955 546.7 946.7 511.7 950 480Z" fill="#3953ac"/>
<path d="M-50 700C-16.7 633.3 100 703.3 150 720C200 736.7 225 761.7 250 800C275 838.3 295 908.3 300 950C305 991.7 305 1025 280 1050C255 1075 205 1088.3 150 1100C95 1111.7 -16.7 1186.7 -50 1120C-83.3 1053.3 -83.3 766.7 -50 700Z" fill="#3953ac"/>
<path d="M-50 -50C258.3 -150 1491.7 -138.3 1800 -50C2108.3 38.3 1833.3 401.7 1800 480C1766.7 558.3 1666.7 441.7 1600 420C1533.3 398.3 1458.3 378.3 1400 350C1341.7 321.7 1300 271.7 1250 250C1200 228.3 1150 221.7 1100 220C1050 218.3 991.7 226.7 950 240C908.3 253.3 878.3 265 850 300C821.7 335 785 391.7 780 450C775 508.3 800 591.7 820 650C840 708.3 861.7 763.3 900 800C938.3 836.7 1008.3 845 1050 870C1091.7 895 1125 911.7 1150 950C1175 988.3 1195 1041.7 1200 1100C1205 1158.3 1191.7 1233.3 1180 1300C1168.3 1366.7 1143.3 1416.7 1130 1500C1116.7 1583.3 1221.7 1750 1100 1800C978.3 1850 525 1833.3 400 1800C275 1766.7 375 1658.3 350 1600C325 1541.7 288.3 1486.7 250 1450C211.7 1413.3 170 1405 120 1380C70 1355 -21.7 1330 -50 1300C-78.3 1270 -83.3 1228.3 -50 1200C-16.7 1171.7 91.7 1150 150 1130C208.3 1110 255 1093.3 300 1080C345 1066.7 390 1071.7 420 1050C450 1028.3 480 991.7 480 950C480 908.3 450 841.7 420 800C390 758.3 345 733.3 300 700C255 666.7 208.3 625 150 600C91.7 575 -16.7 658.3 -50 550C-83.3 441.7 -358.3 50 -50 -50Z" fill="#6468bc"/>
<path d="M950 200C975 190 1041.7 223.3 1100 240C1158.3 256.7 1246.7 285 1300 300C1353.3 315 1420 313.3 1420 330C1420 346.7 1353.3 391.7 1300 400C1246.7 408.3 1158.3 396.7 1100 380C1041.7 363.3 975 330 950 300C925 270 925 210 950 200Z" fill="#4a5aaf"/>
<path d="M-50 -50C108.3 -141.7 745 -78.3 900 -50C1055 -21.7 896.7 65 880 120C863.3 175 823.3 220 800 280C776.7 340 743.3 413.3 740 480C736.7 546.7 756.7 623.3 780 680C803.3 736.7 843.3 788.3 880 820C916.7 851.7 963.3 848.3 1000 870C1036.7 891.7 1076.7 911.7 1100 950C1123.3 988.3 1136.7 1041.7 1140 1100C1143.3 1158.3 1130 1233.3 1120 1300C1110 1366.7 1091.7 1416.7 1080 1500C1068.3 1583.3 1150 1750 1050 1800C950 1850 585 1833.3 480 1800C375 1766.7 441.7 1650 420 1600C398.3 1550 386.7 1533.3 350 1500C313.3 1466.7 245 1433.3 200 1400C155 1366.7 121.7 1325 80 1300C38.3 1275 -28.3 1270 -50 1250C-71.7 1230 -91.7 1196.7 -50 1180C-8.3 1163.3 116.7 1163.3 200 1150C283.3 1136.7 396.7 1125 450 1100C503.3 1075 516.7 1041.7 520 1000C523.3 958.3 493.3 895 470 850C446.7 805 416.7 763.3 380 730C343.3 696.7 296.7 678.3 250 650C203.3 621.7 150 585 100 560C50 535 -25 601.7 -50 500C-75 398.3 -208.3 41.7 -50 -50Z" fill="#b6b3de"/>
<path d="M1450 -50C1516.7 -83.3 1741.7 -130 1800 -50C1858.3 30 1825 358.3 1800 430C1775 501.7 1700 401.7 1650 380C1600 358.3 1541.7 338.3 1500 300C1458.3 261.7 1408.3 208.3 1400 150C1391.7 91.7 1383.3 -16.7 1450 -50Z" fill="#b6b3de"/>
<path d="M-50 -50C100 -128.3 705 -83.3 850 -50C995 -16.7 835 91.7 820 150C805 208.3 780 241.7 760 300C740 358.3 700 433.3 700 500C700 566.7 735 650 760 700C785 750 818.3 770 850 800C881.7 830 915 855 950 880C985 905 1035 913.3 1060 950C1085 986.7 1096.7 1041.7 1100 1100C1103.3 1158.3 1090 1233.3 1080 1300C1070 1366.7 1053.3 1416.7 1040 1500C1026.7 1583.3 1081.7 1750 1000 1800C918.3 1850 636.7 1833.3 550 1800C463.3 1766.7 505 1650 480 1600C455 1550 430 1536.7 400 1500C370 1463.3 341.7 1413.3 300 1380C258.3 1346.7 183.3 1325 150 1300C116.7 1275 75 1246.7 100 1230C125 1213.3 236.7 1213.3 300 1200C363.3 1186.7 436.7 1175 480 1150C523.3 1125 553.3 1091.7 560 1050C566.7 1008.3 538.3 945 520 900C501.7 855 486.7 816.7 450 780C413.3 743.3 350 716.7 300 680C250 643.3 196.7 593.3 150 560C103.3 526.7 53.3 503.3 20 480C-13.3 456.7 -38.3 508.3 -50 420C-61.7 331.7 -200 28.3 -50 -50Z" fill="#e4e1f3"/>
<path d="M-50 -50C8.3 -78.3 233.3 -68.3 300 -50C366.7 -31.7 316.7 41.7 350 60C383.3 78.3 458.3 78.3 500 60C541.7 41.7 536.7 -31.7 600 -50C663.3 -68.3 838.3 -78.3 880 -50C921.7 -21.7 870 61.7 850 120C830 178.3 785 245 760 300C735 355 706.7 391.7 700 450C693.3 508.3 705 591.7 720 650C735 708.3 765 750 790 800C815 850 855 900 870 950C885 1000 891.7 1055 880 1100C868.3 1145 838.3 1195 800 1220C761.7 1245 708.3 1240 650 1250C591.7 1260 503.3 1271.7 450 1280C396.7 1288.3 345 1280 330 1300C315 1320 340 1366.7 360 1400C380 1433.3 423.3 1463.3 450 1500C476.7 1536.7 495 1583.3 520 1620C545 1656.7 553.3 1703.3 600 1720C646.7 1736.7 755 1740 800 1720C845 1700 861.7 1645 870 1600C878.3 1555 861.7 1500 850 1450C838.3 1400 801.7 1336.7 800 1300C798.3 1263.3 856.7 1245 840 1230C823.3 1215 736.7 1223.3 700 1210C663.3 1196.7 650 1171.7 620 1150C590 1128.3 543.3 1113.3 520 1080C496.7 1046.7 500 996.7 480 950C460 903.3 438.3 850 400 800C361.7 750 291.7 691.7 250 650C208.3 608.3 175 591.7 150 550C125 508.3 108.3 450 100 400C91.7 350 111.7 291.7 100 250C88.3 208.3 55 171.7 30 150C5 128.3 -36.7 153.3 -50 120C-63.3 86.7 -108.3 -21.7 -50 -50Z" fill="#fde0e5"/>
<path d="M30 180C38.3 153.3 75 136.7 100 140C125 143.3 163.3 165 180 200C196.7 235 205 303.3 200 350C195 396.7 170 463.3 150 480C130 496.7 96.7 480 80 450C63.3 420 58.3 345 50 300C41.7 255 21.7 206.7 30 180Z" fill="#e4e1f3"/>
<path d="M180 450C188.3 408.3 221.7 375 250 350C278.3 325 316.7 311.7 350 300C383.3 288.3 415 288.3 450 280C485 271.7 531.7 263.3 560 250C588.3 236.7 596.7 191.7 620 200C643.3 208.3 686.7 258.3 700 300C713.3 341.7 703.3 400 700 450C696.7 500 676.7 550 680 600C683.3 650 703.3 700 720 750C736.7 800 763.3 850 780 900C796.7 950 826.7 1015 820 1050C813.3 1085 776.7 1105 740 1110C703.3 1115 636.7 1098.3 600 1080C563.3 1061.7 545 1038.3 520 1000C495 961.7 486.7 900 450 850C413.3 800 341.7 741.7 300 700C258.3 658.3 220 641.7 200 600C180 558.3 171.7 491.7 180 450Z" fill="#f6a9b6"/>
<path d="M540 1380C543.3 1356.7 566.7 1336.7 590 1340C613.3 1343.3 656.7 1373.3 680 1400C703.3 1426.7 723.3 1471.7 730 1500C736.7 1528.3 735 1560 720 1570C705 1580 665 1575 640 1560C615 1545 586.7 1510 570 1480C553.3 1450 536.7 1403.3 540 1380Z" fill="#f6a9b6"/>
<path d="M-50 -50C5 -73.3 226.7 -71.7 280 -50C333.3 -28.3 291.7 53.3 270 80C248.3 106.7 186.7 106.7 150 110C113.3 113.3 83.3 103.3 50 100C16.7 96.7 -33.3 115 -50 90C-66.7 65 -105 -26.7 -50 -50Z" fill="#f6a9b6"/>
<path d="M1480 -50C1536.7 -75 1746.7 -121.7 1800 -50C1853.3 21.7 1825 316.7 1800 380C1775 443.3 1696.7 351.7 1650 330C1603.3 308.3 1551.7 288.3 1520 250C1488.3 211.7 1466.7 150 1460 100C1453.3 50 1423.3 -25 1480 -50Z" fill="#f6a9b6"/>
<path d="M250 500C265 456.7 308.3 363.3 350 340C391.7 316.7 461.7 350 500 360C538.3 370 560 376.7 580 400C600 423.3 608.3 458.3 620 500C631.7 541.7 636.7 600 650 650C663.3 700 681.7 758.3 700 800C718.3 841.7 750 866.7 760 900C770 933.3 770 975 760 1000C750 1025 726.7 1043.3 700 1050C673.3 1056.7 626.7 1055 600 1040C573.3 1025 560 1000 540 960C520 920 511.7 846.7 480 800C448.3 753.3 386.7 713.3 350 680C313.3 646.7 276.7 630 260 600C243.3 570 235 543.3 250 500Z" fill="#f05a75"/>
<path d="M-50 -50C0 -70 201.7 -68.3 250 -50C298.3 -31.7 256.7 38.3 240 60C223.3 81.7 198.3 78.3 150 80C101.7 81.7 -16.7 91.7 -50 70C-83.3 48.3 -100 -30 -50 -50Z" fill="#f05a75"/>
<path d="M1560 50C1566.7 8.3 1580 -33.3 1620 -50C1660 -66.7 1770 -111.7 1800 -50C1830 11.7 1820 261.7 1800 320C1780 378.3 1716.7 320 1680 300C1643.3 280 1600 241.7 1580 200C1560 158.3 1553.3 91.7 1560 50Z" fill="#f05a75"/>
<path d="M560 250C573.3 236.7 628.3 225 650 230C671.7 235 695 263.3 690 280C685 296.7 640 325 620 330C600 335 580 323.3 570 310C560 296.7 546.7 263.3 560 250Z" fill="#f05a75"/>
<path d="M650 50C653.3 35 701.7 28.3 720 40C738.3 51.7 763.3 105 760 120C756.7 135 718.3 141.7 700 130C681.7 118.3 646.7 65 650 50Z" fill="#f05a75"/>
<path d="M1790 180C1781 187.5 1759.3 203.3 1736 225C1712.7 246.7 1679.3 285.8 1650 310C1620.7 334.2 1585 350 1560 370C1535 390 1526.7 415.8 1500 430C1473.3 444.2 1433.3 448.3 1400 455C1366.7 461.7 1333.3 460 1300 470C1266.7 480 1233.3 502.5 1200 515C1166.7 527.5 1133.3 532.5 1100 545C1066.7 557.5 1038.3 580 1000 590C961.7 600 906.7 596.7 870 605C833.3 613.3 808.3 630 780 640C751.7 650 725 655 700 665C675 675 646.7 702.5 630 700C613.3 697.5 618.3 665.8 600 650C581.7 634.2 553.3 613.3 520 605C486.7 596.7 431.7 596.7 400 600C368.3 603.3 355 614.2 330 625C305 635.8 271.7 651.7 250 665C228.3 678.3 221.7 693.3 200 705C178.3 716.7 138.3 723.3 120 735C101.7 746.7 103.3 762.5 90 775C76.7 787.5 61.7 795.8 40 810C18.3 824.2 -26.7 851.7 -40 860" fill="none" stroke="#aca9b0" stroke-opacity="0.62" stroke-width="13" stroke-linejoin="round" stroke-linecap="round"/>
<path d="M-40 1120C-26.7 1128.3 11.7 1143.3 40 1170C68.3 1196.7 100 1246.7 130 1280C160 1313.3 190 1341.7 220 1370C250 1398.3 283.3 1420 310 1450C336.7 1480 360 1516.7 380 1550C400 1583.3 416.7 1610 430 1650C443.3 1690 455 1766.7 460 1790" fill="none" stroke="#aca9b0" stroke-opacity="0.62" stroke-width="13" stroke-linejoin="round" stroke-linecap="round"/>
<path d="M450 885C468.3 881.2 526.7 867.5 560 862C593.3 856.5 623.3 845.7 650 852C676.7 858.3 710.8 875.3 720 900C729.2 924.7 718.3 975 705 1000C691.7 1025 664.2 1033.3 640 1050C615.8 1066.7 583.3 1088 560 1100C536.7 1112 523.3 1122 500 1122C476.7 1122 439.7 1112 420 1100C400.3 1088 388.7 1073.3 382 1050C375.3 1026.7 368.7 987.5 380 960C391.3 932.5 438.3 897.5 450 885" fill="none" stroke="#aca9b0" stroke-opacity="0.62" stroke-width="13" stroke-linejoin="round" stroke-linecap="round"/>
<path d="M120.9 64.5C123.3 63.7 142.7 57.2 145.1 56.4" fill="none" stroke="#5cc25c" stroke-width="11" stroke-linejoin="round"/>
<path d="M314.3 96.7C307.1 98.3 253.9 113.6 241.8 112.8C229.7 112 203.1 89.5 193.4 88.7C183.8 87.8 150.7 97.5 145.1 104.8C139.4 112 135.4 147.5 137 161.2C138.6 174.9 161.2 229.7 161.2 241.8C161.2 253.9 137.8 270.8 137 282.1C136.2 293.4 149.1 344.1 153.1 354.6C157.2 365.1 178.9 378.8 177.3 386.9C175.7 394.9 145.9 427.1 137 435.2C128.1 443.3 94.3 461 88.7 467.4C83 473.9 78.2 494.8 80.6 499.7C83 504.5 96.7 515 112.8 515.8C129 516.6 224.1 510.2 241.8 507.7C259.5 505.3 282.1 497.3 290.1 491.6C298.2 486 322.4 459.4 322.4 451.3C322.4 443.3 288.5 419.1 290.1 411C291.8 403 335.3 378 338.5 370.7C341.7 363.5 325.6 345.7 322.4 338.5C319.2 331.2 309.5 305.5 306.3 298.2C303 290.9 294.2 271.6 290.1 266C286.1 260.3 264.3 245.8 266 241.8C267.6 237.8 299 228.9 306.3 225.7C313.5 222.4 330.4 212.8 338.5 209.5C346.6 206.3 382 195 386.9 193.4" fill="none" stroke="#5cc25c" stroke-width="11" stroke-linejoin="round"/>
<path d="M32.2 225.7C33 220 51.6 208.7 56.4 209.5C61.3 210.4 77.4 228.9 80.6 233.7C83.8 238.6 91.9 254.7 88.7 257.9C85.4 261.1 54 269.2 48.4 266C42.7 262.7 31.4 231.3 32.2 225.7Z" fill="none" stroke="#5cc25c" stroke-width="11" stroke-linejoin="round"/>
<path d="M72.5 177.3C74.1 174.1 93.5 167.6 96.7 169.2C99.9 170.9 106.4 190.2 104.8 193.4C103.2 196.6 83.8 203.1 80.6 201.5C77.4 199.9 70.9 180.5 72.5 177.3Z" fill="none" stroke="#5cc25c" stroke-width="11" stroke-linejoin="round"/>
<path d="M153.1 644.8C162 639.9 228.1 623 241.8 620.6C255.5 618.2 286.1 617.4 290.1 620.6C294.2 623.8 290.1 647.2 282.1 652.8C274 658.5 222.4 675.4 209.5 677C196.6 678.6 158.8 672.2 153.1 668.9C147.5 665.7 144.3 649.6 153.1 644.8Z" fill="none" stroke="#5cc25c" stroke-width="11" stroke-linejoin="round"/>
<path d="M322.4 869.6C324.8 861.6 340.9 800.2 346.6 789.8C352.2 779.4 376.4 764.8 378.8 765.6C381.2 766.5 374.8 790.6 370.7 797.9C366.7 805.1 341.7 834.2 338.5 838.2" fill="none" stroke="#3b8e86" stroke-width="11" stroke-linejoin="round"/>
<path d="M386.9 805.9C390.1 802.7 414.3 776.1 419.1 773.7C423.9 771.3 432 775.3 435.2 781.8C438.4 788.2 447.3 829.4 451.3 838.2C455.4 847 473.1 866.5 475.5 869.6" fill="none" stroke="#3b8e86" stroke-width="11" stroke-linejoin="round"/>
<path d="M451.3 725.3C454.6 721.3 473.9 689.9 483.6 685.1C493.2 680.2 535.1 673.8 548 677C560.9 680.2 602.8 712.5 612.5 717.3C622.2 722.1 639.1 727.8 644.8 725.3C650.4 722.9 660.9 698.8 668.9 693.1C677 687.5 716.5 668.1 725.3 668.9C734.2 669.7 753.6 691.5 757.6 701.2C761.6 710.8 763.2 748.8 765.6 765.6C768.1 782.5 780.2 859.2 781.8 869.6" fill="none" stroke="#3b8e86" stroke-width="11" stroke-linejoin="round"/>
<path d="M596.4 249.8C598 245 627.8 240.2 636.7 241.8C645.6 243.4 677.8 266.8 685.1 266C692.3 265.2 704.4 236.1 709.2 233.7C714.1 231.3 730.2 238.6 733.4 241.8C736.6 245 743.9 261.9 741.5 266C739 270 715.7 278.1 709.2 282.1C702.8 286.1 683.4 302.2 677 306.3C670.5 310.3 650.4 324 644.8 322.4C639.1 320.8 625.4 297.4 620.6 290.1C615.7 282.9 594.8 254.7 596.4 249.8Z" fill="none" stroke="#3b8e86" stroke-width="11" stroke-linejoin="round"/>
<path d="M749.5 499.7C751.1 492.4 776.1 482 781.8 483.6C787.4 485.2 804.3 509.4 805.9 515.8C807.6 522.3 801.9 544 797.9 548C793.9 552.1 770.5 560.9 765.6 556.1C760.8 551.3 747.9 506.9 749.5 499.7Z" fill="none" stroke="#3b8e86" stroke-width="11" stroke-linejoin="round"/>
<path d="M757.6 572.2C758.4 570.6 780.2 577.9 781.8 580.3C783.4 582.7 776.1 597.2 773.7 596.4C771.3 595.6 756.8 573.8 757.6 572.2Z" fill="none" stroke="#3b8e86" stroke-width="11" stroke-linejoin="round"/>
<path d="M636.7 8.1C639.1 12.1 653.6 42.7 660.9 48.4C668.1 54 700.4 60.4 709.2 64.5C718.1 68.5 742.3 83 749.5 88.7C756.8 94.3 779.3 114.4 781.8 120.9C784.2 127.3 777.7 147.5 773.7 153.1C769.7 158.8 743.1 172.5 741.5 177.3C739.9 182.1 751.1 196.6 757.6 201.5C764 206.3 796.3 221.6 805.9 225.7C815.6 229.7 847.9 237.8 854.3 241.8C860.7 245.8 873.6 260.3 870.4 266C867.2 271.6 831.7 292.6 822.1 298.2C812.4 303.8 772.1 321.6 773.7 322.4C775.3 323.2 826.9 309.5 838.2 306.3C849.5 303 873.6 293.4 886.5 290.1C899.4 286.9 954.2 277.2 967.1 274C980 270.8 1001 261.9 1015.5 257.9C1030 253.9 1097.7 235.3 1112.2 233.7C1126.7 232.1 1154.9 236.9 1160.6 241.8C1166.2 246.6 1171.8 275.6 1168.6 282.1C1165.4 288.5 1132.3 300.6 1128.3 306.3C1124.3 311.9 1123.5 334.5 1128.3 338.5C1133.2 342.5 1163.8 349 1176.7 346.6C1189.6 344.1 1240.3 319.2 1257.3 314.3C1274.2 309.5 1335.4 295.8 1345.9 298.2C1356.4 300.6 1360.4 329.6 1362 338.5C1363.7 347.4 1367.7 380.4 1362 386.9C1356.4 393.3 1312.1 396.5 1305.6 403C1299.2 409.4 1299.2 442.5 1297.6 451.3C1296 460.2 1285.5 484.4 1289.5 491.6C1293.5 498.9 1333.8 516.6 1337.9 523.9C1341.9 531.1 1337.9 560.1 1329.8 564.2C1321.7 568.2 1269.4 562.5 1257.3 564.2C1245.2 565.8 1221.8 577.1 1208.9 580.3C1196 583.5 1144.4 596.4 1128.3 596.4C1112.2 596.4 1061.4 581.1 1047.7 580.3C1034 579.5 1004.2 585.1 991.3 588.3C978.4 591.6 929.3 604.5 918.8 612.5C908.3 620.6 891.4 657.6 886.5 668.9C881.7 680.2 866.4 718.1 870.4 725.3C874.4 732.6 912.3 743.1 926.8 741.5C941.3 739.9 1003.4 710.8 1015.5 709.2C1027.6 707.6 1046.9 720.5 1047.7 725.3C1048.5 730.2 1031.6 751.9 1023.5 757.6C1015.5 763.2 979.2 775.3 967.1 781.8C955 788.2 910.7 813.3 902.7 822.1C894.6 830.8 888.1 864.9 886.5 869.6" fill="none" stroke="#3b8e86" stroke-width="11" stroke-linejoin="round"/>
<path d="M725.3 16.1C727.8 18.5 741.5 36.3 749.5 40.3C757.6 44.3 795.5 55.6 805.9 56.4C816.4 57.2 844.6 50 854.3 48.4C864 46.7 895.4 37.9 902.7 40.3C909.9 42.7 926 67.7 926.8 72.5C927.6 77.4 917.2 86.2 910.7 88.7C904.3 91.1 870.4 92.7 862.4 96.7C854.3 100.7 832.5 124.1 830.1 129C827.7 133.8 832.5 143.5 838.2 145.1C843.8 146.7 876.1 145.1 886.5 145.1C897 145.1 934.1 141 943 145.1C951.8 149.1 972.8 178.9 975.2 185.4C977.6 191.8 964.7 207.9 967.1 209.5C969.5 211.2 993.7 207.9 999.4 201.5C1005 195 1019.5 155.5 1023.5 145.1C1027.6 134.6 1034 105.6 1039.7 96.7C1045.3 87.8 1072.7 65.3 1080 56.4C1087.2 47.6 1109 12.9 1112.2 8.1" fill="none" stroke="#3b8e86" stroke-width="11" stroke-linejoin="round"/>
<path d="M1200.9 64.5C1205.7 70.1 1238.7 111.2 1249.2 120.9C1259.7 130.6 1293.5 158 1305.6 161.2C1317.7 164.4 1355.6 153.9 1370.1 153.1C1384.6 152.3 1440.2 149.1 1450.7 153.1C1461.2 157.2 1468.4 186.2 1474.9 193.4C1481.3 200.7 1506.3 220 1515.2 225.7C1524 231.3 1557.1 251.5 1563.5 249.8C1570 248.2 1578.8 221.6 1579.6 209.5C1580.5 197.5 1574.8 143.5 1571.6 129C1568.4 114.4 1554.7 71.7 1547.4 64.5C1540.2 57.2 1507.1 59.6 1499.1 56.4C1491 53.2 1466.8 37.1 1466.8 32.2C1466.8 27.4 1495.8 10.5 1499.1 8.1" fill="none" stroke="#3b8e86" stroke-width="11" stroke-linejoin="round"/>
<path d="M1168.6 217.6C1171.8 214.4 1203.3 203.9 1208.9 201.5C1214.6 199.1 1225.8 191 1225 193.4C1224.2 195.8 1205.7 221.6 1200.9 225.7C1196 229.7 1179.9 234.5 1176.7 233.7C1173.5 232.9 1165.4 220.8 1168.6 217.6Z" fill="none" stroke="#3b8e86" stroke-width="11" stroke-linejoin="round"/>
<path d="M1394.3 314.3C1399.1 307.1 1443.4 271.6 1450.7 266C1457.9 260.3 1470 251.5 1466.8 257.9C1463.6 264.3 1424.9 322.4 1418.5 330.4C1412 338.5 1404.8 340.1 1402.3 338.5C1399.9 336.9 1389.4 321.6 1394.3 314.3Z" fill="none" stroke="#3b8e86" stroke-width="11" stroke-linejoin="round"/>
<path d="M1233.1 8.1C1230.7 11.3 1212.1 34.7 1208.9 40.3C1205.7 45.9 1201.7 62.1 1200.9 64.5" fill="none" stroke="#3b8e86" stroke-width="11" stroke-linejoin="round"/>
<path d="M1321.7 830.1C1326.6 832.5 1361.2 850.3 1370.1 854.3C1379 858.2 1406.4 868.1 1410.4 869.6" fill="none" stroke="#3b8e86" stroke-width="11" stroke-linejoin="round"/>
<path d="M1507.1 869.6C1507.9 867.3 1508.7 847.8 1515.2 846.2C1521.6 844.7 1561.9 852 1571.6 854.3C1581.3 856.6 1607.9 868.1 1611.9 869.6" fill="none" stroke="#3b8e86" stroke-width="11" stroke-linejoin="round"/>
<path d="M322.4 866.6C323.2 874.7 331.2 924.6 330.4 947.2C329.6 969.8 312.7 1069.7 314.3 1092.3C315.9 1114.8 340.9 1159.2 346.6 1172.9C352.2 1186.6 363.5 1219.6 370.7 1229.3C378 1238.9 407.8 1261.5 419.1 1269.6C430.4 1277.6 480.3 1304.2 483.6 1309.9C486.8 1315.5 460.2 1322 451.3 1326C442.5 1330 402.2 1343.7 394.9 1350.2C387.7 1356.6 378 1380.8 378.8 1390.5C379.6 1400.1 395.7 1435.6 403 1446.9C410.2 1458.2 440 1493.6 451.3 1503.3C462.6 1513 502.9 1537.1 515.8 1543.6C528.7 1550 570.6 1560.5 580.3 1567.8C589.9 1575 601.2 1606.5 612.5 1616.1C623.8 1625.8 678.6 1658 693.1 1664.5C707.6 1670.9 748.7 1673.4 757.6 1680.6C766.5 1687.8 779.3 1730.7 781.8 1736.2" fill="none" stroke="#3b8e86" stroke-width="11" stroke-linejoin="round"/>
<path d="M677 947.2C679.4 955.3 697.9 1013.3 701.2 1027.8C704.4 1042.3 704.4 1081.8 709.2 1092.3C714.1 1102.7 739.9 1126.1 749.5 1132.6C759.2 1139 795.5 1153.5 805.9 1156.7C816.4 1160 843.8 1160 854.3 1164.8C864.8 1169.6 899.4 1199.5 910.7 1205.1C922 1210.7 956.7 1218.8 967.1 1221.2C977.6 1223.6 1009 1232.5 1015.5 1229.3C1021.9 1226.1 1030.8 1195.4 1031.6 1189C1032.4 1182.5 1030 1168.8 1023.5 1164.8C1017.1 1160.8 980.8 1152.7 967.1 1148.7C953.4 1144.7 901 1131.8 886.5 1124.5C872 1117.2 831.7 1084.2 822.1 1076.1C812.4 1068.1 793 1047.1 789.8 1043.9" fill="none" stroke="#3b8e86" stroke-width="11" stroke-linejoin="round"/>
<path d="M991.3 963.3C994.5 956.1 1021.9 940.7 1031.6 939.1C1041.3 937.5 1080.8 942.4 1088 947.2C1095.3 952 1104.9 979.4 1104.1 987.5C1103.3 995.6 1086.4 1023 1080 1027.8C1073.5 1032.6 1047.7 1037.5 1039.7 1035.8C1031.6 1034.2 1004.2 1018.9 999.4 1011.7C994.5 1004.4 988.1 970.6 991.3 963.3Z" fill="none" stroke="#3b8e86" stroke-width="11" stroke-linejoin="round"/>
<path d="M1015.5 1084.2C1019.5 1080.2 1063 1063.2 1071.9 1060C1080.8 1056.8 1103.3 1049.5 1104.1 1052C1104.9 1054.4 1087.2 1079.4 1080 1084.2C1072.7 1089 1038.1 1100.3 1031.6 1100.3C1025.2 1100.3 1011.5 1088.2 1015.5 1084.2Z" fill="none" stroke="#3b8e86" stroke-width="11" stroke-linejoin="round"/>
<path d="M1063.8 890.8C1067.1 889.2 1105.8 882.7 1112.2 882.7C1118.6 882.7 1131.5 889.2 1128.3 890.8C1125.1 892.4 1086.4 898.8 1080 898.8C1073.5 898.8 1060.6 892.4 1063.8 890.8Z" fill="none" stroke="#3b8e86" stroke-width="11" stroke-linejoin="round"/>
<path d="M523.9 1245.4C528.7 1239.8 555.3 1228.5 564.2 1229.3C573 1230.1 599.6 1247.8 612.5 1253.5C625.4 1259.1 681.8 1280.9 693.1 1285.7C704.4 1290.5 723.7 1299.4 725.3 1301.8C727 1304.2 720.5 1309.1 709.2 1309.9C697.9 1310.7 627 1310.7 612.5 1309.9C598 1309.1 567.4 1305 564.2 1301.8C560.9 1298.6 583.5 1278.4 580.3 1277.6C577.1 1276.8 538.4 1292.9 531.9 1293.7C525.5 1294.6 516.6 1290.5 515.8 1285.7C515 1280.9 519 1251 523.9 1245.4Z" fill="none" stroke="#3b8e86" stroke-width="11" stroke-linejoin="round"/>
<path d="M741.5 1317.9C743.9 1314.7 765.6 1309.1 773.7 1309.9C781.8 1310.7 820.4 1322.8 822.1 1326C823.7 1329.2 797.1 1340.5 789.8 1342.1C782.6 1343.7 754.4 1344.5 749.5 1342.1C744.7 1339.7 739 1321.2 741.5 1317.9Z" fill="none" stroke="#3b8e86" stroke-width="11" stroke-linejoin="round"/>
<path d="M1192.8 1382.4C1186.3 1385.6 1142.8 1408.2 1128.3 1414.6C1113.8 1421.1 1063.8 1442 1047.7 1446.9C1031.6 1451.7 976.8 1458.2 967.1 1463C957.5 1467.8 947 1488 951 1495.2C955 1502.5 995.3 1531.5 1007.4 1535.5C1019.5 1539.6 1067.9 1529.9 1071.9 1535.5C1075.9 1541.2 1048.5 1581.5 1047.7 1591.9C1046.9 1602.4 1057.4 1631.4 1063.8 1640.3C1070.3 1649.2 1097.7 1675.8 1112.2 1680.6C1126.7 1685.4 1191.2 1687 1208.9 1688.7C1226.6 1690.3 1273.4 1698.3 1289.5 1696.7C1305.6 1695.1 1361.2 1679 1370.1 1672.5C1379 1666.1 1382.2 1637.9 1378.2 1632.2C1374.1 1626.6 1338.7 1621.8 1329.8 1616.1C1320.9 1610.5 1296.8 1583.1 1289.5 1575.8C1282.3 1568.6 1257.3 1548.4 1257.3 1543.6C1257.3 1538.8 1282.3 1533.1 1289.5 1527.5C1296.8 1521.8 1326.6 1493.6 1329.8 1487.2C1333 1480.7 1325.8 1465.4 1321.7 1463C1317.7 1460.6 1292.7 1463 1289.5 1463" fill="none" stroke="#3b8e86" stroke-width="11" stroke-linejoin="round"/>
<path d="M1313.7 898.8C1319.3 902.1 1356.4 925.4 1370.1 931.1C1383.8 936.7 1436.2 951.2 1450.7 955.3C1465.2 959.3 1503.1 972.2 1515.2 971.4C1527.3 970.6 1561.9 947.2 1571.6 947.2C1581.3 947.2 1603.8 964.9 1611.9 971.4C1619.9 977.8 1640.1 1002.8 1652.2 1011.7C1664.3 1020.5 1724.7 1055.2 1732.8 1060" fill="none" stroke="#3b8e86" stroke-width="11" stroke-linejoin="round"/>
<path d="M1386.2 866.6C1388.6 869 1399.9 885.9 1410.4 890.8C1420.9 895.6 1478.9 915.8 1491 915C1503.1 914.2 1527.3 885.9 1531.3 882.7" fill="none" stroke="#3b8e86" stroke-width="11" stroke-linejoin="round"/>
<path d="M1563.5 866.6C1568.4 870.6 1599 902.1 1611.9 906.9C1624.8 911.7 1680.4 911.7 1692.5 915C1704.6 918.2 1728.7 936.7 1732.8 939.1" fill="none" stroke="#3b8e86" stroke-width="11" stroke-linejoin="round"/>
<path d="M8.1 1237.3C13.7 1243.8 53.2 1288.9 64.5 1301.8C75.8 1314.7 111.2 1353.4 120.9 1366.3C130.6 1379.2 153.1 1417.9 161.2 1430.8C169.2 1443.7 191 1483.1 201.5 1495.2C212 1507.3 253.9 1540.4 266 1551.7C278.1 1562.9 312.7 1596 322.4 1608.1C332 1620.2 355.4 1659.7 362.7 1672.5C369.9 1685.4 391.7 1729.8 394.9 1736.2" fill="none" stroke="#3b8e86" stroke-width="11" stroke-linejoin="round"/>
<path d="M112.8 1454.9C116.9 1450.9 162.8 1442.8 169.2 1446.9C175.7 1450.9 178.1 1488 177.3 1495.2C176.5 1502.5 166 1520.2 161.2 1519.4C156.4 1518.6 133.8 1493.6 129 1487.2C124.1 1480.7 108.8 1459 112.8 1454.9Z" fill="none" stroke="#3b6e8e" stroke-width="11" stroke-linejoin="round"/>
<path d="M201.5 1535.5C207.1 1538.8 247.4 1559.7 257.9 1567.8C268.4 1575.8 302.2 1606.5 306.3 1616.1C310.3 1625.8 299 1659.6 298.2 1664.5" fill="none" stroke="#3b6e8e" stroke-width="11" stroke-linejoin="round"/>
<path d="M24.2 1591.9C29.8 1594.4 70.1 1609.7 80.6 1616.1C91.1 1622.6 125.7 1650 129 1656.4C132.2 1662.9 114.4 1678.2 112.8 1680.6" fill="none" stroke="#3b6e8e" stroke-width="11" stroke-linejoin="round"/>
<path d="M201.5 1430.8C203.1 1426.7 214.4 1420.3 217.6 1422.7C220.8 1425.1 233.7 1450.1 233.7 1454.9C233.7 1459.8 220.8 1470.3 217.6 1471.1C214.4 1471.9 203.1 1467 201.5 1463C199.9 1459 199.9 1434.8 201.5 1430.8Z" fill="none" stroke="#5cc25c" stroke-width="11" stroke-linejoin="round"/>
<path d="M274 1519.4C274 1512.2 299.8 1521.8 306.3 1527.5C312.7 1533.1 335.3 1567.8 338.5 1575.8C341.7 1583.9 341.7 1605.6 338.5 1608.1C335.3 1610.5 312.7 1608.9 306.3 1600C299.8 1591.1 274 1526.7 274 1519.4Z" fill="none" stroke="#5cc25c" stroke-width="11" stroke-linejoin="round"/>
<path d="M419.1 915C421.5 912.5 441.7 919 443.3 923C444.9 927 437.6 952.8 435.2 955.3C432.8 957.7 420.7 951.2 419.1 947.2C417.5 943.2 416.7 917.4 419.1 915Z" fill="none" stroke="#3b8e86" stroke-width="11" stroke-linejoin="round"/>
<text transform="translate(411 113) rotate(60) scale(1.12 1)" y="36" font-family="Liberation Sans" font-size="102" text-anchor="middle" fill="#0d0d0d">296</text>
<text transform="translate(725 963) rotate(60) scale(1.12 1)" y="36" font-family="Liberation Sans" font-size="102" text-anchor="middle" fill="#0d0d0d">294</text>
<text transform="translate(838 955) rotate(-50) scale(1.12 1)" y="36" font-family="Liberation Sans" font-size="102" text-anchor="middle" fill="#0d0d0d">294</text>
<text transform="translate(1257 814) rotate(-90) scale(1.12 1)" y="36" font-family="Liberation Sans" font-size="102" text-anchor="middle" fill="#0d0d0d">294</text>
<text transform="translate(1241 1463) rotate(60) scale(1.12 1)" y="36" font-family="Liberation Sans" font-size="102" text-anchor="middle" fill="#0d0d0d">294</text>
</g></g>
<rect x="947.5" y="1632.4" width="612" height="613" fill="none" stroke="#0d0d0d" stroke-width="4.4"/>
<path d="M947.5 2245.4H936M947.5 2194.3H924.5M947.5 2143.2H936M947.5 2092.2H936M947.5 2041.1H936M947.5 1990H936M947.5 1938.9H924.5M947.5 1887.8H936M947.5 1836.7H936M947.5 1785.7H936M947.5 1734.6H936M947.5 1683.5H924.5M947.5 1632.4H936M947.5 2245.4V2256.9M998.5 2245.4V2256.9M1049.5 2245.4V2256.9M1100.5 2245.4V2256.9M1151.5 2245.4V2268.4M1202.5 2245.4V2256.9M1253.5 2245.4V2256.9M1304.5 2245.4V2256.9M1355.5 2245.4V2256.9M1406.5 2245.4V2268.4M1457.5 2245.4V2256.9M1508.5 2245.4V2256.9M1559.5 2245.4V2256.9" stroke="#0d0d0d" stroke-width="4.5" fill="none"/>
<text x="922.2" y="2215.3" font-family="Liberation Serif" font-size="56" text-anchor="end" fill="#231f20">15°N</text>
<text x="922.2" y="1959.9" font-family="Liberation Serif" font-size="56" text-anchor="end" fill="#231f20">20°N</text>
<text x="922.2" y="1704.5" font-family="Liberation Serif" font-size="56" text-anchor="end" fill="#231f20">25°N</text>
<text x="1151.5" y="2313.7" font-family="Liberation Serif" font-size="56" text-anchor="middle" fill="#231f20">110°E</text>
<text x="1406.5" y="2313.7" font-family="Liberation Serif" font-size="56" text-anchor="middle" fill="#231f20">115°E</text>
<text x="1253.5" y="1608.7" font-family="Liberation Serif" font-size="56" text-anchor="middle" fill="#231f20">(j) Exp.118 850 hPa</text>
<g transform="translate(1722.5 1632.4) scale(0.353111)">
<g clip-path="url(#cp)">
<rect x="-10" y="-10" width="1760" height="1760" fill="#e4e1f3"/>
<path d="M-50 -50C108.3 -158.3 750 -75 900 -50C1050 -25 870 50 850 100C830 150 805 200 780 250C755 300 710 341.7 700 400C690 458.3 703.3 533.3 720 600C736.7 666.7 770 746.7 800 800C830 853.3 850 893.3 900 920C950 946.7 1033.3 963.3 1100 960C1166.7 956.7 1233.3 930 1300 900C1366.7 870 1456.7 830 1500 780C1543.3 730 1550 663.3 1560 600C1570 536.7 1556.7 458.3 1560 400C1563.3 341.7 1573.3 325 1580 250C1586.7 175 1563.3 0 1600 -50C1636.7 -100 1766.7 -358.3 1800 -50C1833.3 258.3 2033.3 1491.7 1800 1800C1566.7 2108.3 650 1825 400 1800C150 1775 333.3 1700 300 1650C266.7 1600 230 1550 200 1500C170 1450 143.3 1391.7 120 1350C96.7 1308.3 30 1271.7 60 1250C90 1228.3 226.7 1236.7 300 1220C373.3 1203.3 463.3 1178.3 500 1150C536.7 1121.7 530 1091.7 520 1050C510 1008.3 476.7 950 440 900C403.3 850 348.3 791.7 300 750C251.7 708.3 208.3 675 150 650C91.7 625 -16.7 716.7 -50 600C-83.3 483.3 -208.3 58.3 -50 -50Z" fill="#fde0e5"/>
<path d="M60 100C76.7 70 146.7 91.7 200 100C253.3 108.3 363.3 125 380 150C396.7 175 330 225 300 250C270 275 233.3 295 200 300C166.7 305 123.3 313.3 100 280C76.7 246.7 43.3 130 60 100Z" fill="#e4e1f3"/>
<path d="M30 350C41.7 325 105 311.7 150 300C195 288.3 241.7 288.3 300 280C358.3 271.7 450 263.3 500 250C550 236.7 570 191.7 600 200C630 208.3 660 258.3 680 300C700 341.7 706.7 391.7 720 450C733.3 508.3 741.7 591.7 760 650C778.3 708.3 813.3 750 830 800C846.7 850 856.7 908.3 860 950C863.3 991.7 863.3 1021.7 850 1050C836.7 1078.3 805 1103.3 780 1120C755 1136.7 730 1153.3 700 1150C670 1146.7 630 1125 600 1100C570 1075 545 1041.7 520 1000C495 958.3 478.3 900 450 850C421.7 800 391.7 741.7 350 700C308.3 658.3 245 641.7 200 600C155 558.3 108.3 491.7 80 450C51.7 408.3 18.3 375 30 350Z" fill="#f6a9b6"/>
<path d="M1150 1150C1158.3 1108.3 1208.3 1038.3 1250 1000C1291.7 961.7 1350 945 1400 920C1450 895 1508.3 886.7 1550 850C1591.7 813.3 1619 758.3 1650 700C1681 641.7 1711 533.3 1736 500C1761 466.7 1789.3 283.3 1800 500C1810.7 716.7 1883.3 1583.3 1800 1800C1716.7 2016.7 1383.3 1833.3 1300 1800C1216.7 1766.7 1308.3 1666.7 1300 1600C1291.7 1533.3 1266.7 1458.3 1250 1400C1233.3 1341.7 1216.7 1291.7 1200 1250C1183.3 1208.3 1141.7 1191.7 1150 1150Z" fill="#f6a9b6"/>
<path d="M250 1300C266.7 1266.7 350 1258.3 400 1250C450 1241.7 500 1241.7 550 1250C600 1258.3 650 1275 700 1300C750 1325 816.7 1358.3 850 1400C883.3 1441.7 900 1508.3 900 1550C900 1591.7 883.3 1625 850 1650C816.7 1675 750 1700 700 1700C650 1700 600 1675 550 1650C500 1625 441.7 1583.3 400 1550C358.3 1516.7 325 1491.7 300 1450C275 1408.3 233.3 1333.3 250 1300Z" fill="#f6a9b6"/>
<path d="M1560 80C1560 21.7 1560 -28.3 1600 -50C1640 -71.7 1766.7 -133.3 1800 -50C1833.3 33.3 1816.7 375 1800 450C1783.3 525 1733.3 425 1700 400C1666.7 375 1623.3 353.3 1600 300C1576.7 246.7 1560 138.3 1560 80Z" fill="#f6a9b6"/>
<path d="M-50 -50C8.3 -70 241.7 -68.3 300 -50C358.3 -31.7 325 38.3 300 60C275 81.7 208.3 78.3 150 80C91.7 81.7 -16.7 91.7 -50 70C-83.3 48.3 -108.3 -30 -50 -50Z" fill="#f6a9b6"/>
<path d="M550 100C573.3 75 661.7 50 700 50C738.3 50 771.7 75 780 100C788.3 125 771.7 175 750 200C728.3 225 681.7 250 650 250C618.3 250 576.7 225 560 200C543.3 175 526.7 125 550 100Z" fill="#f6a9b6"/>
<path d="M130 450C146.7 416.7 213.3 375 250 350C286.7 325 300 311.7 350 300C400 288.3 501.7 271.7 550 280C598.3 288.3 618.3 313.3 640 350C661.7 386.7 666.7 441.7 680 500C693.3 558.3 703.3 641.7 720 700C736.7 758.3 763.3 800 780 850C796.7 900 825 958.3 820 1000C815 1041.7 778.3 1083.3 750 1100C721.7 1116.7 681.7 1116.7 650 1100C618.3 1083.3 585 1041.7 560 1000C535 958.3 526.7 900 500 850C473.3 800 441.7 738.3 400 700C358.3 661.7 291.7 645 250 620C208.3 595 170 578.3 150 550C130 521.7 113.3 483.3 130 450Z" fill="#f05a75"/>
<path d="M380 1300C405 1280 496.7 1271.7 550 1280C603.3 1288.3 665 1321.7 700 1350C735 1378.3 750 1416.7 760 1450C770 1483.3 778.3 1531.7 760 1550C741.7 1568.3 693.3 1571.7 650 1560C606.7 1548.3 541.7 1506.7 500 1480C458.3 1453.3 420 1430 400 1400C380 1370 355 1320 380 1300Z" fill="#f05a75"/>
<path d="M1200 1200C1213.3 1163.3 1258.3 1105 1300 1080C1341.7 1055 1400 1060 1450 1050C1500 1040 1558.3 1028.3 1600 1020C1641.7 1011.7 1666.7 1011.7 1700 1000C1733.3 988.3 1783.3 816.7 1800 950C1816.7 1083.3 1863.3 1658.3 1800 1800C1736.7 1941.7 1486.7 1825 1420 1800C1353.3 1775 1420 1708.3 1400 1650C1380 1591.7 1330 1508.3 1300 1450C1270 1391.7 1236.7 1341.7 1220 1300C1203.3 1258.3 1186.7 1236.7 1200 1200Z" fill="#f05a75"/>
<path d="M1600 60C1605 18.3 1616.7 -31.7 1650 -50C1683.3 -68.3 1775 -108.3 1800 -50C1825 8.3 1816.7 250 1800 300C1783.3 350 1730 266.7 1700 250C1670 233.3 1636.7 231.7 1620 200C1603.3 168.3 1595 101.7 1600 60Z" fill="#f05a75"/>
<path d="M-50 -50C0 -66.7 203.3 -65 250 -50C296.7 -35 255 21.7 230 40C205 58.3 146.7 58.3 100 60C53.3 61.7 -25 68.3 -50 50C-75 31.7 -100 -33.3 -50 -50Z" fill="#f05a75"/>
<path d="M30 160C35 146.7 68.3 140 80 150C91.7 160 105 206.7 100 220C95 233.3 61.7 240 50 230C38.3 220 25 173.3 30 160Z" fill="#f05a75"/>
<path d="M600 150C610 136.7 663.3 116.7 680 120C696.7 123.3 710 156.7 700 170C690 183.3 636.7 203.3 620 200C603.3 196.7 590 163.3 600 150Z" fill="#f05a75"/>
<path d="M250 500C261.7 466.7 308.3 413.3 350 400C391.7 386.7 461.7 403.3 500 420C538.3 436.7 556.7 461.7 580 500C603.3 538.3 620 600 640 650C660 700 686.7 750 700 800C713.3 850 728.3 920 720 950C711.7 980 673.3 988.3 650 980C626.7 971.7 601.7 938.3 580 900C558.3 861.7 550 791.7 520 750C490 708.3 440 675 400 650C360 625 305 625 280 600C255 575 238.3 533.3 250 500Z" fill="#ee3f58"/>
<path d="M680 450C680 391.7 721.7 366.7 750 300C778.3 233.3 825 108.3 850 50C875 -8.3 781.7 -33.3 900 -50C1018.3 -66.7 1451.7 -100 1560 -50C1668.3 0 1560 158.3 1550 250C1540 341.7 1511.7 433.3 1500 500C1488.3 566.7 1496.7 608.3 1480 650C1463.3 691.7 1438.3 720 1400 750C1361.7 780 1300 810 1250 830C1200 850 1150 863.3 1100 870C1050 876.7 991.7 881.7 950 870C908.3 858.3 883.3 836.7 850 800C816.7 763.3 778.3 708.3 750 650C721.7 591.7 680 508.3 680 450Z" fill="#b6b3de"/>
<path d="M-50 560C-16.7 450 91.7 576.7 150 600C208.3 623.3 255 658.3 300 700C345 741.7 383.3 800 420 850C456.7 900 503.3 950 520 1000C536.7 1050 548.3 1116.7 520 1150C491.7 1183.3 411.7 1183.3 350 1200C288.3 1216.7 216.7 1240 150 1250C83.3 1260 -16.7 1375 -50 1260C-83.3 1145 -83.3 670 -50 560Z" fill="#b6b3de"/>
<path d="M-50 1300C-25 1225 58.3 1316.7 100 1350C141.7 1383.3 166.7 1450 200 1500C233.3 1550 275 1600 300 1650C325 1700 408.3 1775 350 1800C291.7 1825 16.7 1883.3 -50 1800C-116.7 1716.7 -75 1375 -50 1300Z" fill="#b6b3de"/>
<path d="M760 500C755 433.3 800 358.3 820 300C840 241.7 858.3 191.7 880 150C901.7 108.3 913.3 71.7 950 50C986.7 28.3 1041.7 23.3 1100 20C1158.3 16.7 1233.3 28.3 1300 30C1366.7 31.7 1470 -6.7 1500 30C1530 66.7 1493.3 180 1480 250C1466.7 320 1433.3 388.3 1420 450C1406.7 511.7 1420 575 1400 620C1380 665 1341.7 693.3 1300 720C1258.3 746.7 1203.3 770 1150 780C1096.7 790 1030 793.3 980 780C930 766.7 886.7 746.7 850 700C813.3 653.3 765 566.7 760 500Z" fill="#6468bc"/>
<path d="M-50 640C-25 548.3 50 646.7 100 670C150 693.3 203.3 741.7 250 780C296.7 818.3 341.7 860 380 900C418.3 940 465 986.7 480 1020C495 1053.3 500 1081.7 470 1100C440 1118.3 361.7 1113.3 300 1130C238.3 1146.7 158.3 1185 100 1200C41.7 1215 -25 1313.3 -50 1220C-75 1126.7 -75 731.7 -50 640Z" fill="#6468bc"/>
<path d="M-50 1500C-25 1458.3 50 1525 100 1550C150 1575 216.7 1608.3 250 1650C283.3 1691.7 350 1775 300 1800C250 1825 8.3 1850 -50 1800C-108.3 1750 -75 1541.7 -50 1500Z" fill="#6468bc"/>
<path d="M850 420C865 370 908.3 286.7 950 250C991.7 213.3 1041.7 203.3 1100 200C1158.3 196.7 1250 205 1300 230C1350 255 1386.7 296.7 1400 350C1413.3 403.3 1396.7 500 1380 550C1363.3 600 1346.7 625 1300 650C1253.3 675 1158.3 700 1100 700C1041.7 700 990 675 950 650C910 625 876.7 588.3 860 550C843.3 511.7 835 470 850 420Z" fill="#4a5aaf"/>
<path d="M-50 720C-28.3 653.3 41.7 728.3 80 750C118.3 771.7 143.3 816.7 180 850C216.7 883.3 271.7 916.7 300 950C328.3 983.3 366.7 1025 350 1050C333.3 1075 250 1086.7 200 1100C150 1113.3 91.7 1121.7 50 1130C8.3 1138.3 -33.3 1218.3 -50 1150C-66.7 1081.7 -71.7 786.7 -50 720Z" fill="#4a5aaf"/>
<path d="M1790 180C1781 187.5 1759.3 203.3 1736 225C1712.7 246.7 1679.3 285.8 1650 310C1620.7 334.2 1585 350 1560 370C1535 390 1526.7 415.8 1500 430C1473.3 444.2 1433.3 448.3 1400 455C1366.7 461.7 1333.3 460 1300 470C1266.7 480 1233.3 502.5 1200 515C1166.7 527.5 1133.3 532.5 1100 545C1066.7 557.5 1038.3 580 1000 590C961.7 600 906.7 596.7 870 605C833.3 613.3 808.3 630 780 640C751.7 650 725 655 700 665C675 675 646.7 702.5 630 700C613.3 697.5 618.3 665.8 600 650C581.7 634.2 553.3 613.3 520 605C486.7 596.7 431.7 596.7 400 600C368.3 603.3 355 614.2 330 625C305 635.8 271.7 651.7 250 665C228.3 678.3 221.7 693.3 200 705C178.3 716.7 138.3 723.3 120 735C101.7 746.7 103.3 762.5 90 775C76.7 787.5 61.7 795.8 40 810C18.3 824.2 -26.7 851.7 -40 860" fill="none" stroke="#aca9b0" stroke-opacity="0.62" stroke-width="13" stroke-linejoin="round" stroke-linecap="round"/>
<path d="M-40 1120C-26.7 1128.3 11.7 1143.3 40 1170C68.3 1196.7 100 1246.7 130 1280C160 1313.3 190 1341.7 220 1370C250 1398.3 283.3 1420 310 1450C336.7 1480 360 1516.7 380 1550C400 1583.3 416.7 1610 430 1650C443.3 1690 455 1766.7 460 1790" fill="none" stroke="#aca9b0" stroke-opacity="0.62" stroke-width="13" stroke-linejoin="round" stroke-linecap="round"/>
<path d="M450 885C468.3 881.2 526.7 867.5 560 862C593.3 856.5 623.3 845.7 650 852C676.7 858.3 710.8 875.3 720 900C729.2 924.7 718.3 975 705 1000C691.7 1025 664.2 1033.3 640 1050C615.8 1066.7 583.3 1088 560 1100C536.7 1112 523.3 1122 500 1122C476.7 1122 439.7 1112 420 1100C400.3 1088 388.7 1073.3 382 1050C375.3 1026.7 368.7 987.5 380 960C391.3 932.5 438.3 897.5 450 885" fill="none" stroke="#aca9b0" stroke-opacity="0.62" stroke-width="13" stroke-linejoin="round" stroke-linecap="round"/>
<path d="M104.8 56.4C108 55.6 131.4 45.9 137 48.4C142.7 50.8 160.4 75.8 161.2 80.6C162 85.4 143.5 94.3 145.1 96.7C146.7 99.1 168.4 102.4 177.3 104.8C186.2 107.2 224.1 119.3 233.7 120.9C243.4 122.5 270 120.9 274 120.9" fill="none" stroke="#5cc25c" stroke-width="11" stroke-linejoin="round"/>
<path d="M419.1 137C418.3 141 415.9 170.9 411 177.3C406.2 183.8 381.2 198.3 370.7 201.5C360.3 204.7 316.7 205.5 306.3 209.5C295.8 213.6 271.6 234.5 266 241.8C260.3 249 252.3 274 249.8 282.1C247.4 290.1 239.4 315.1 241.8 322.4C244.2 329.6 270 348.2 274 354.6C278.1 361.1 283.7 380.4 282.1 386.9C280.5 393.3 261.9 409.4 257.9 419.1C253.9 428.8 249 473.9 241.8 483.6C234.5 493.2 197.5 511.8 185.4 515.8C173.3 519.8 132.2 525.5 120.9 523.9C109.6 522.3 78.2 506.9 72.5 499.7C66.9 492.4 64.5 459.4 64.5 451.3C64.5 443.3 66.9 425.5 72.5 419.1C78.2 412.6 114.4 396.5 120.9 386.9C127.3 377.2 137.8 332.9 137 322.4C136.2 311.9 113.6 290.1 112.8 282.1C112 274 125.7 249.8 129 241.8C132.2 233.7 146.7 207.1 145.1 201.5C143.5 195.8 116.1 190.2 112.8 185.4C109.6 180.5 109.6 159.6 112.8 153.1C116.1 146.7 142.7 127.3 145.1 120.9C147.5 114.4 141 95.1 137 88.7C133 82.2 108 59.6 104.8 56.4" fill="none" stroke="#5cc25c" stroke-width="11" stroke-linejoin="round"/>
<path d="M32.2 225.7C33 223.2 52.4 224.1 56.4 225.7C60.4 227.3 73.3 239.4 72.5 241.8C71.7 244.2 52.4 251.5 48.4 249.8C44.3 248.2 31.4 228.1 32.2 225.7Z" fill="none" stroke="#5cc25c" stroke-width="11" stroke-linejoin="round"/>
<path d="M129 386.9C133.8 382 170.1 370.7 177.3 370.7C184.6 370.7 201.5 382.8 201.5 386.9C201.5 390.9 184.6 407.8 177.3 411C170.1 414.3 133.8 421.5 129 419.1C124.1 416.7 124.1 391.7 129 386.9Z" fill="none" stroke="#5cc25c" stroke-width="11" stroke-linejoin="round"/>
<path d="M475.5 161.2C479.5 155.5 513.4 143.5 523.9 145.1C534.3 146.7 574.6 171.7 580.3 177.3C585.9 182.9 585.9 197.5 580.3 201.5C574.6 205.5 533.5 217.6 523.9 217.6C514.2 217.6 488.4 207.1 483.6 201.5C478.7 195.8 471.5 166.8 475.5 161.2Z" fill="none" stroke="#5cc25c" stroke-width="11" stroke-linejoin="round"/>
<path d="M370.7 298.2C374 293.4 407.8 277.2 419.1 274C430.4 270.8 475.5 266 483.6 266C491.6 266 503.7 270 499.7 274C495.7 278.1 454.6 301.4 443.3 306.3C432 311.1 394.1 323.2 386.9 322.4C379.6 321.6 367.5 303 370.7 298.2Z" fill="none" stroke="#5cc25c" stroke-width="11" stroke-linejoin="round"/>
<path d="M64.5 628.6C70.1 625.4 112.8 612.5 129 612.5C145.1 612.5 212.8 625.4 225.7 628.6C238.6 631.9 257.1 640.7 257.9 644.8C258.7 648.8 246.6 667.3 233.7 668.9C220.8 670.5 145.1 663.3 129 660.9C112.8 658.5 79 648 72.5 644.8C66.1 641.5 58.8 631.9 64.5 628.6Z" fill="none" stroke="#5cc25c" stroke-width="11" stroke-linejoin="round"/>
<path d="M677 177.3C678.6 174.9 704.4 167.6 709.2 169.2C714.1 170.9 727 191 725.3 193.4C723.7 195.8 697.9 195 693.1 193.4C688.3 191.8 675.4 179.7 677 177.3Z" fill="none" stroke="#5cc25c" stroke-width="11" stroke-linejoin="round"/>
<path d="M540 80.6C542.4 75.8 558.5 38.7 564.2 32.2C569.8 25.8 591.6 15.3 596.4 16.1C601.2 16.9 614.9 35.5 612.5 40.3C610.1 45.1 578.7 59.6 572.2 64.5C565.8 69.3 550.5 86.2 548 88.7" fill="none" stroke="#5cc25c" stroke-width="11" stroke-linejoin="round"/>
<path d="M693.1 32.2C694.7 29 712.5 21 717.3 24.2C722.1 27.4 740.7 58.8 741.5 64.5C742.3 70.1 729.4 81.4 725.3 80.6C721.3 79.8 704.4 61.3 701.2 56.4C697.9 51.6 691.5 35.5 693.1 32.2Z" fill="none" stroke="#3b8e86" stroke-width="11" stroke-linejoin="round"/>
<path d="M789.8 80.6C793.9 75 836.6 64.5 846.2 64.5C855.9 64.5 879.3 76.6 886.5 80.6C893.8 84.6 920.4 100.7 918.8 104.8C917.2 108.8 881.7 119.3 870.4 120.9C859.1 122.5 814 124.9 805.9 120.9C797.9 116.9 785.8 86.2 789.8 80.6Z" fill="none" stroke="#3b8e86" stroke-width="11" stroke-linejoin="round"/>
<path d="M636.7 266C637.5 262.7 664.1 263.5 668.9 266C673.8 268.4 685.9 286.9 685.1 290.1C684.2 293.4 665.7 300.6 660.9 298.2C656 295.8 635.9 269.2 636.7 266Z" fill="none" stroke="#3b8e86" stroke-width="11" stroke-linejoin="round"/>
<path d="M886.5 225.7C891.4 224.1 922.8 211.2 934.9 209.5C947 207.9 996.1 212 1007.4 209.5C1018.7 207.1 1040.5 191.8 1047.7 185.4C1055 178.9 1074.3 153.1 1080 145.1C1085.6 137 1095.3 109.6 1104.1 104.8C1113 99.9 1159.8 95.9 1168.6 96.7C1177.5 97.5 1188.8 108 1192.8 112.8C1196.8 117.7 1202.5 139.4 1208.9 145.1C1215.4 150.7 1246.8 165.2 1257.3 169.2C1267.7 173.3 1308 183.8 1313.7 185.4" fill="none" stroke="#3b8e86" stroke-width="11" stroke-linejoin="round"/>
<path d="M1450.7 209.5C1449.1 213.6 1442.6 244.2 1434.6 249.8C1426.5 255.5 1384.6 264.3 1370.1 266C1355.6 267.6 1304 265.2 1289.5 266C1275 266.8 1234.7 272.4 1225 274C1215.4 275.6 1194.4 285.3 1192.8 282.1C1191.2 278.9 1204.1 249 1208.9 241.8C1213.7 234.5 1236.3 217.6 1241.2 209.5C1246 201.5 1255.7 166 1257.3 161.2" fill="none" stroke="#3b8e86" stroke-width="11" stroke-linejoin="round"/>
<path d="M886.5 225.7C889 227.3 902.7 236.1 910.7 241.8C918.8 247.4 957.5 277.2 967.1 282.1C976.8 286.9 999.4 294.2 1007.4 290.1C1015.5 286.1 1035.6 250.6 1047.7 241.8C1059.8 232.9 1118.6 207.1 1128.3 201.5C1138 195.8 1142.8 187 1144.4 185.4" fill="none" stroke="#3b8e86" stroke-width="11" stroke-linejoin="round"/>
<path d="M685.1 467.4C685.9 463.4 701.2 448.1 709.2 443.3C717.3 438.4 751.9 423.9 765.6 419.1C779.3 414.3 832.5 396.5 846.2 394.9C859.9 393.3 903.5 398.9 902.7 403C901.8 407 851.1 428.8 838.2 435.2C825.3 441.7 787.4 462.6 773.7 467.4C760 472.3 710 483.6 701.2 483.6C692.3 483.6 684.2 471.5 685.1 467.4Z" fill="none" stroke="#3b8e86" stroke-width="11" stroke-linejoin="round"/>
<path d="M773.7 419.1C776.9 415.9 796.3 392.5 805.9 386.9C815.6 381.2 864 365.1 870.4 362.7" fill="none" stroke="#3b8e86" stroke-width="11" stroke-linejoin="round"/>
<path d="M773.7 523.9C776.9 521.4 794.7 503.7 805.9 499.7C817.2 495.7 870.4 486 886.5 483.6C902.7 481.1 954.2 477.1 967.1 475.5C980 473.9 1010.7 468.3 1015.5 467.4" fill="none" stroke="#3b8e86" stroke-width="11" stroke-linejoin="round"/>
<path d="M781.8 580.3C788.2 578.7 831.7 567.4 846.2 564.2C860.7 560.9 909.9 551.3 926.8 548C943.8 544.8 1006.6 533.5 1015.5 531.9" fill="none" stroke="#3b8e86" stroke-width="11" stroke-linejoin="round"/>
<path d="M773.7 523.9C774.5 529.5 781 574.6 781.8 580.3" fill="none" stroke="#3b8e86" stroke-width="11" stroke-linejoin="round"/>
<path d="M1168.6 419.1C1169.4 416.7 1188.8 410.2 1192.8 411C1196.8 411.8 1209.7 424.7 1208.9 427.1C1208.1 429.6 1188.8 436 1184.7 435.2C1180.7 434.4 1167.8 421.5 1168.6 419.1Z" fill="none" stroke="#3b8e86" stroke-width="11" stroke-linejoin="round"/>
<path d="M1257.3 564.2C1262.1 561.7 1294.3 544 1305.6 540C1316.9 536 1365.3 529.5 1370.1 523.9C1374.9 518.2 1360.4 490.8 1354 483.6C1347.5 476.3 1312.1 457.8 1305.6 451.3C1299.2 444.9 1287.9 424.7 1289.5 419.1C1291.1 413.4 1313.7 398.9 1321.7 394.9C1329.8 390.9 1363.7 383.6 1370.1 378.8C1376.5 374 1378.2 352.2 1386.2 346.6C1394.3 340.9 1440.2 328.8 1450.7 322.4C1461.2 315.9 1479.7 287.7 1491 282.1C1502.3 276.4 1554.7 274.8 1563.5 266C1572.4 257.1 1578.8 207.9 1579.6 193.4C1580.5 178.9 1568.4 135.4 1571.6 120.9C1574.8 106.4 1609.5 58.8 1611.9 48.4C1614.3 37.9 1597.4 19.3 1595.8 16.1" fill="none" stroke="#3b8e86" stroke-width="11" stroke-linejoin="round"/>
<path d="M934.9 869.6C938.1 862.4 957.5 810.7 967.1 797.9C976.8 785.1 1017.1 753.6 1031.6 741.5C1046.1 729.4 1104.1 683.4 1112.2 677" fill="none" stroke="#3b8e86" stroke-width="11" stroke-linejoin="round"/>
<path d="M1579.6 499.7C1586.1 501.3 1636.1 509.4 1644.1 515.8C1652.2 522.3 1653.8 556.9 1660.2 564.2C1666.7 571.4 1701.3 584.3 1708.6 588.3C1715.9 592.4 1730.4 602.8 1732.8 604.5" fill="none" stroke="#3b8e86" stroke-width="11" stroke-linejoin="round"/>
<path d="M1515.2 548C1520.8 549.7 1561.9 558.5 1571.6 564.2C1581.3 569.8 1601.4 601.2 1611.9 604.5C1622.4 607.7 1669.9 597.2 1676.4 596.4" fill="none" stroke="#3b8e86" stroke-width="11" stroke-linejoin="round"/>
<path d="M1466.8 717.3C1473.3 716.5 1523.2 713.3 1531.3 709.2C1539.4 705.2 1542.6 682.6 1547.4 677C1552.2 671.4 1575.6 649.6 1579.6 652.8C1583.7 656 1589.3 699.6 1587.7 709.2C1586.1 718.9 1570.8 746.3 1563.5 749.5C1556.3 752.8 1516.8 738.2 1515.2 741.5C1513.6 744.7 1541 772.9 1547.4 781.8C1553.9 790.6 1573.2 822.9 1579.6 830.1C1586.1 837.4 1608.7 851.9 1611.9 854.3" fill="none" stroke="#3b8e86" stroke-width="11" stroke-linejoin="round"/>
<path d="M1289.5 869.6C1289.5 863.2 1284.7 815.5 1289.5 805.9C1294.3 796.4 1325 777.7 1337.9 773.7C1350.8 769.7 1403.1 764 1418.5 765.6C1433.8 767.3 1479.7 783.4 1491 789.8C1502.3 796.3 1525.6 822.1 1531.3 830.1C1536.9 838.1 1545.8 865.7 1547.4 869.6" fill="none" stroke="#3b8e86" stroke-width="11" stroke-linejoin="round"/>
<path d="M1611.9 8.1C1616.7 1.6 1645.7 10.5 1652.2 16.1C1658.6 21.8 1677.2 57.2 1676.4 64.5C1675.6 71.7 1651.4 87 1644.1 88.7C1636.9 90.3 1607 88.7 1603.8 80.6C1600.6 72.5 1607 14.5 1611.9 8.1Z" fill="none" stroke="#3b8e86" stroke-width="11" stroke-linejoin="round"/>
<path d="M1676.4 104.8C1678 110.4 1689.3 152.3 1692.5 161.2C1695.7 170.1 1710.2 191.8 1708.6 193.4C1707 195 1679.6 178.9 1676.4 177.3" fill="none" stroke="#3b8e86" stroke-width="11" stroke-linejoin="round"/>
<path d="M266 869.6C268.4 855.2 282.9 747.8 290.1 725.3C297.4 702.9 329.6 648.8 338.5 644.8C347.4 640.7 374 678.6 378.8 685.1C383.6 691.5 392.5 707.6 386.9 709.2C381.2 710.8 331.2 697.9 322.4 701.2C313.5 704.4 298.2 731 298.2 741.5C298.2 751.9 316.7 793.1 322.4 805.9C328 818.8 351.4 863.2 354.6 869.6" fill="none" stroke="#3b8e86" stroke-width="11" stroke-linejoin="round"/>
<path d="M515.8 869.6C516.6 864.1 519 824.4 523.9 814C528.7 803.6 554.5 773.7 564.2 765.6C573.8 757.6 606.1 735 620.6 733.4C635.1 731.8 698.8 743.9 709.2 749.5C719.7 755.2 722.1 777.8 725.3 789.8C728.6 801.8 739.9 861.6 741.5 869.6" fill="none" stroke="#3b8e86" stroke-width="11" stroke-linejoin="round"/>
<path d="M290.1 866.6C295 870.6 328.8 898.8 338.5 906.9C348.2 915 378.8 936.7 386.9 947.2C394.9 957.7 411.8 999.6 419.1 1011.7C426.3 1023.8 452.9 1056 459.4 1068.1C465.8 1080.2 477.9 1122.1 483.6 1132.6C489.2 1143 506.1 1166.4 515.8 1172.9C525.5 1179.3 563.4 1193 580.3 1197C597.2 1201.1 668.9 1214 685.1 1213.2C701.2 1212.3 732.6 1194.6 741.5 1189C750.3 1183.3 762.4 1161.6 773.7 1156.7C785 1151.9 839 1139 854.3 1140.6C869.6 1142.2 915.6 1166.4 926.8 1172.9C938.1 1179.3 959.9 1199.5 967.1 1205.1C974.4 1210.7 1003.4 1226.9 999.4 1229.3C995.3 1231.7 938.1 1230.9 926.8 1229.3C915.6 1227.7 893.8 1214 886.5 1213.2C879.3 1212.3 862.4 1218.8 854.3 1221.2C846.2 1223.6 811.6 1233.3 805.9 1237.3C800.3 1241.4 796.3 1258.3 797.9 1261.5C799.5 1264.7 824.5 1267.2 822.1 1269.6C819.6 1272 778.5 1280.9 773.7 1285.7C768.9 1290.5 770.5 1311.5 773.7 1317.9C776.9 1324.4 808.4 1346.9 805.9 1350.2C803.5 1353.4 759.2 1352.6 749.5 1350.2C739.9 1347.7 715.7 1332.4 709.2 1326C702.8 1319.5 693.1 1290.5 685.1 1285.7C677 1280.9 640.7 1278.4 628.6 1277.6C616.5 1276.8 577.1 1280 564.2 1277.6C551.3 1275.2 511 1257.5 499.7 1253.5C488.4 1249.4 459.4 1242.2 451.3 1237.3C443.3 1232.5 425.5 1205.9 419.1 1205.1C412.6 1204.3 394.9 1225.2 386.9 1229.3C378.8 1233.3 343.3 1238.1 338.5 1245.4C333.7 1252.6 335.3 1291.3 338.5 1301.8C341.7 1312.3 365.9 1337.3 370.7 1350.2C375.6 1363.1 386 1417.1 386.9 1430.8C387.7 1444.5 373.2 1475.9 378.8 1487.2C384.4 1498.5 429.6 1536.3 443.3 1543.6C457 1550.8 503.7 1553.3 515.8 1559.7C527.9 1566.2 552.9 1600.8 564.2 1608.1C575.4 1615.3 614.1 1629 628.6 1632.2C643.1 1635.5 701.2 1636.3 709.2 1640.3C717.3 1644.3 712.5 1665.3 709.2 1672.5C706 1679.8 683.4 1706.5 677 1712.8C670.5 1719.2 648 1733.9 644.8 1736.2" fill="none" stroke="#3b8e86" stroke-width="11" stroke-linejoin="round"/>
<path d="M354.6 866.6C356.2 871.4 365.9 906.9 370.7 915C375.6 923 394.9 945.6 403 947.2C411 948.8 441.7 935.9 451.3 931.1C461 926.2 492.4 905.3 499.7 898.8C506.9 892.4 521.4 869.8 523.9 866.6" fill="none" stroke="#3b8e86" stroke-width="11" stroke-linejoin="round"/>
<path d="M918.8 866.6C918.8 873 923.6 924.6 918.8 931.1C913.9 937.5 876.9 927 870.4 931.1C864 935.1 854.3 963.3 854.3 971.4C854.3 979.4 865.6 1003.6 870.4 1011.7C875.3 1019.7 893 1045.5 902.7 1052C912.3 1058.4 956.7 1072.9 967.1 1076.1C977.6 1079.4 1007.4 1082.6 1007.4 1084.2C1007.4 1085.8 979.2 1094.7 967.1 1092.3C955 1089.8 899.4 1064.9 886.5 1060C873.6 1055.2 847 1046.3 838.2 1043.9C829.3 1041.5 805.1 1033.4 797.9 1035.8C790.6 1038.3 772.9 1067.3 765.6 1068.1C758.4 1068.9 731.8 1049.5 725.3 1043.9C718.9 1038.3 702.8 1019.7 701.2 1011.7C699.6 1003.6 706 970.6 709.2 963.3C712.5 956.1 729.4 945.6 733.4 939.1C737.4 932.7 748.7 906.1 749.5 898.8C750.3 891.6 742.3 869.8 741.5 866.6" fill="none" stroke="#3b8e86" stroke-width="11" stroke-linejoin="round"/>
<path d="M999.4 947.2C1003.4 939.9 1038.1 910.1 1047.7 906.9C1057.4 903.7 1089.6 910.1 1096.1 915C1102.5 919.8 1113.8 947.2 1112.2 955.3C1110.6 963.3 1088 990.7 1080 995.6C1071.9 1000.4 1038.9 1005.2 1031.6 1003.6C1024.4 1002 1010.7 985.1 1007.4 979.4C1004.2 973.8 995.3 954.4 999.4 947.2Z" fill="none" stroke="#3b8e86" stroke-width="11" stroke-linejoin="round"/>
<path d="M1059.8 931.1C1061.4 929.9 1079.6 940.7 1080 943.2C1080.4 945.6 1065.9 956.5 1063.8 955.3C1061.8 954 1058.2 932.3 1059.8 931.1Z" fill="none" stroke="#5cc25c" stroke-width="11" stroke-linejoin="round"/>
<path d="M1297.6 866.6C1300 873 1316.1 919 1321.7 931.1C1327.4 943.2 1349.1 976.2 1354 987.5C1358.8 998.8 1367.7 1030.2 1370.1 1043.9C1372.5 1057.6 1374.1 1112.4 1378.2 1124.5C1382.2 1136.6 1401.5 1162.4 1410.4 1164.8C1419.3 1167.2 1458.8 1144.7 1466.8 1148.7C1474.9 1152.7 1484.5 1201.1 1491 1205.1C1497.4 1209.1 1522.4 1191.4 1531.3 1189C1540.2 1186.6 1571.6 1177.7 1579.6 1180.9C1587.7 1184.1 1610.3 1214 1611.9 1221.2C1613.5 1228.5 1599.8 1240.6 1595.8 1253.5C1591.7 1266.3 1578 1332.4 1571.6 1350.2C1565.1 1367.9 1537.7 1417.1 1531.3 1430.8C1524.8 1444.5 1514.4 1475.1 1507.1 1487.2C1499.9 1499.3 1464.4 1541.2 1458.8 1551.7C1453.1 1562.1 1448.3 1589.5 1450.7 1591.9C1453.1 1594.4 1474.9 1582.3 1482.9 1575.8C1491 1569.4 1518.4 1536.3 1531.3 1527.5C1544.2 1518.6 1597.4 1495.2 1611.9 1487.2C1626.4 1479.1 1664.3 1456.5 1676.4 1446.9C1688.4 1437.2 1727.1 1396.1 1732.8 1390.5" fill="none" stroke="#3b8e86" stroke-width="11" stroke-linejoin="round"/>
<path d="M1547.4 866.6C1550.6 868.2 1569.2 877.9 1579.6 882.7C1590.1 887.6 1636.9 907.7 1652.2 915C1667.5 922.2 1724.7 951.2 1732.8 955.3" fill="none" stroke="#3b8e86" stroke-width="11" stroke-linejoin="round"/>
<path d="M1265.3 1422.7C1258.1 1425.1 1206.5 1441.2 1192.8 1446.9C1179.1 1452.5 1142.8 1474.3 1128.3 1479.1C1113.8 1484 1063.8 1492 1047.7 1495.2C1031.6 1498.5 983.2 1508.1 967.1 1511.4C951 1514.6 896.2 1524.2 886.5 1527.5C876.9 1530.7 865.6 1539.6 870.4 1543.6C875.3 1547.6 922 1560.5 934.9 1567.8C947.8 1575 988.1 1605.6 999.4 1616.1C1010.7 1626.6 1037.2 1663.7 1047.7 1672.5C1058.2 1681.4 1096.9 1698.4 1104.1 1704.8C1111.4 1711.1 1118.6 1733.1 1120.3 1736.2" fill="none" stroke="#3b8e86" stroke-width="11" stroke-linejoin="round"/>
<path d="M854.3 1382.4C857.5 1385.6 879.3 1409.8 886.5 1414.6C893.8 1419.5 918.8 1425.9 926.8 1430.8C934.9 1435.6 962.3 1456.5 967.1 1463C972 1469.4 978.4 1490.4 975.2 1495.2C972 1500.1 938.1 1513 934.9 1511.4C931.7 1509.7 947.8 1485.6 943 1479.1C938.1 1472.7 894.6 1453.3 886.5 1446.9C878.5 1440.4 864.8 1417.9 862.4 1414.6" fill="none" stroke="#3b8e86" stroke-width="11" stroke-linejoin="round"/>
<path d="M1273.4 1446.9C1276.6 1448.5 1298.4 1459.8 1305.6 1463C1312.9 1466.2 1339.5 1472.7 1345.9 1479.1C1352.4 1485.6 1368.5 1518.6 1370.1 1527.5C1371.7 1536.3 1366.1 1559.7 1362 1567.8C1358 1575.8 1337.1 1600.8 1329.8 1608.1C1322.6 1615.3 1296.8 1633.9 1289.5 1640.3C1282.3 1646.8 1265.3 1665.3 1257.3 1672.5C1249.2 1679.8 1215.4 1706.5 1208.9 1712.8C1202.5 1719.2 1194.4 1733.9 1192.8 1736.2" fill="none" stroke="#3b8e86" stroke-width="11" stroke-linejoin="round"/>
<path d="M1152.5 1269.6C1157.3 1261.5 1200 1221.2 1208.9 1221.2C1217.8 1221.2 1239.5 1262.3 1241.2 1269.6C1242.8 1276.8 1233.1 1290.5 1225 1293.7C1217 1297 1167.8 1304.2 1160.6 1301.8C1153.3 1299.4 1147.7 1277.6 1152.5 1269.6Z" fill="none" stroke="#3b8e86" stroke-width="11" stroke-linejoin="round"/>
<path d="M1628 1124.5C1629.6 1121.3 1658.6 1106.8 1660.2 1108.4C1661.9 1110 1647.3 1139 1644.1 1140.6C1640.9 1142.2 1626.4 1127.7 1628 1124.5Z" fill="none" stroke="#3b8e86" stroke-width="11" stroke-linejoin="round"/>
<path d="M8.1 1237.3C13.7 1245.4 53.2 1302.6 64.5 1317.9C75.8 1333.2 110.4 1377.6 120.9 1390.5C131.4 1403.4 162 1434.8 169.2 1446.9C176.5 1459 186.2 1500.1 193.4 1511.4C200.7 1522.6 232.1 1551.7 241.8 1559.7C251.5 1567.8 280.5 1583.9 290.1 1591.9C299.8 1600 330.4 1629 338.5 1640.3C346.6 1651.6 367.5 1698.3 370.7 1704.8" fill="none" stroke="#3b8e86" stroke-width="11" stroke-linejoin="round"/>
<path d="M129 1495.2C129.8 1490.4 164.4 1463.8 169.2 1463C174.1 1462.2 178.1 1482.3 177.3 1487.2C176.5 1492 166 1510.5 161.2 1511.4C156.4 1512.2 128.1 1500.1 129 1495.2Z" fill="none" stroke="#3b6e8e" stroke-width="11" stroke-linejoin="round"/>
<path d="M161.2 1575.8C163.6 1571.8 199.1 1544.4 209.5 1543.6C220 1542.8 262.7 1562.1 266 1567.8C269.2 1573.4 249.8 1598.4 241.8 1600C233.7 1601.6 193.4 1586.3 185.4 1583.9C177.3 1581.5 158.8 1579.9 161.2 1575.8Z" fill="none" stroke="#3b6e8e" stroke-width="11" stroke-linejoin="round"/>
<path d="M80.6 1704.8C88.7 1702.4 148.3 1681.4 161.2 1680.6C174.1 1679.8 204.7 1695.1 209.5 1696.7" fill="none" stroke="#3b6e8e" stroke-width="11" stroke-linejoin="round"/>
<path d="M201.5 1422.7C202.3 1416.3 215.2 1410.6 217.6 1414.6C220 1418.7 226.5 1456.5 225.7 1463C224.9 1469.4 212 1483.1 209.5 1479.1C207.1 1475.1 200.7 1429.1 201.5 1422.7Z" fill="none" stroke="#5cc25c" stroke-width="11" stroke-linejoin="round"/>
<path d="M306.3 1559.7C307.9 1556.5 334.5 1571 338.5 1575.8C342.5 1580.7 348.2 1604.8 346.6 1608.1C344.9 1611.3 326.4 1612.9 322.4 1608.1C318.3 1603.2 304.6 1562.9 306.3 1559.7Z" fill="none" stroke="#5cc25c" stroke-width="11" stroke-linejoin="round"/>
<text transform="translate(363 97) rotate(15) scale(1.12 1)" y="36" font-family="Liberation Sans" font-size="102" text-anchor="middle" fill="#0d0d0d">296</text>
<text transform="translate(1402 177) rotate(0) scale(1.12 1)" y="36" font-family="Liberation Sans" font-size="102" text-anchor="middle" fill="#0d0d0d">294</text>
<text transform="translate(967 338) rotate(80) scale(1.12 1)" y="36" font-family="Liberation Sans" font-size="102" text-anchor="middle" fill="#0d0d0d">294</text>
<text transform="translate(1064 484) rotate(-85) scale(1.12 1)" y="36" font-family="Liberation Sans" font-size="102" text-anchor="middle" fill="#0d0d0d">294</text>
<text transform="translate(1185 637) rotate(-60) scale(1.12 1)" y="36" font-family="Liberation Sans" font-size="102" text-anchor="middle" fill="#0d0d0d">294</text>
<text transform="translate(1491 516) rotate(-30) scale(1.12 1)" y="36" font-family="Liberation Sans" font-size="102" text-anchor="middle" fill="#0d0d0d">294</text>
<text transform="translate(1636 1302) rotate(60) scale(1.12 1)" y="36" font-family="Liberation Sans" font-size="102" text-anchor="middle" fill="#0d0d0d">294</text>
<text transform="translate(1354 1398) rotate(75) scale(1.12 1)" y="36" font-family="Liberation Sans" font-size="102" text-anchor="middle" fill="#0d0d0d">294</text>
<text transform="translate(314 1665) rotate(-45) scale(1.12 1)" y="36" font-family="Liberation Sans" font-size="102" text-anchor="middle" fill="#0d0d0d">92</text>
</g></g>
<rect x="1722.5" y="1632.4" width="612" height="613" fill="none" stroke="#0d0d0d" stroke-width="4.4"/>
<path d="M1722.5 2245.4H1711M1722.5 2194.3H1699.5M1722.5 2143.2H1711M1722.5 2092.2H1711M1722.5 2041.1H1711M1722.5 1990H1711M1722.5 1938.9H1699.5M1722.5 1887.8H1711M1722.5 1836.7H1711M1722.5 1785.7H1711M1722.5 1734.6H1711M1722.5 1683.5H1699.5M1722.5 1632.4H1711M1722.5 2245.4V2256.9M1773.5 2245.4V2256.9M1824.5 2245.4V2256.9M1875.5 2245.4V2256.9M1926.5 2245.4V2268.4M1977.5 2245.4V2256.9M2028.5 2245.4V2256.9M2079.5 2245.4V2256.9M2130.5 2245.4V2256.9M2181.5 2245.4V2268.4M2232.5 2245.4V2256.9M2283.5 2245.4V2256.9M2334.5 2245.4V2256.9" stroke="#0d0d0d" stroke-width="4.5" fill="none"/>
<text x="1697.2" y="2215.3" font-family="Liberation Serif" font-size="56" text-anchor="end" fill="#231f20">15°N</text>
<text x="1697.2" y="1959.9" font-family="Liberation Serif" font-size="56" text-anchor="end" fill="#231f20">20°N</text>
<text x="1697.2" y="1704.5" font-family="Liberation Serif" font-size="56" text-anchor="end" fill="#231f20">25°N</text>
<text x="1926.5" y="2313.7" font-family="Liberation Serif" font-size="56" text-anchor="middle" fill="#231f20">110°E</text>
<text x="2181.5" y="2313.7" font-family="Liberation Serif" font-size="56" text-anchor="middle" fill="#231f20">115°E</text>
<text x="2028.5" y="1608.7" font-family="Liberation Serif" font-size="56" text-anchor="middle" fill="#231f20">(k) Exp.183 850 hPa</text>
<g transform="translate(2499.5 1632.4) scale(0.353111)">
<g clip-path="url(#cp)">
<rect x="-10" y="-10" width="1760" height="1760" fill="#4a5aaf"/>
<path d="M950 520C958.3 481.7 1000 440 1050 420C1100 400 1191.7 391.7 1250 400C1308.3 408.3 1378.3 433.3 1400 470C1421.7 506.7 1413.3 585 1380 620C1346.7 655 1263.3 675 1200 680C1136.7 685 1041.7 676.7 1000 650C958.3 623.3 941.7 558.3 950 520Z" fill="#3953ac"/>
<path d="M1480 720C1501.7 680 1546.7 673.3 1600 660C1653.3 646.7 1766.7 450 1800 640C1833.3 830 1870 1606.7 1800 1800C1730 1993.3 1443.3 1850 1380 1800C1316.7 1750 1403.3 1600 1420 1500C1436.7 1400 1471.7 1300 1480 1200C1488.3 1100 1470 980 1470 900C1470 820 1458.3 760 1480 720Z" fill="#3953ac"/>
<path d="M-50 720C-31.7 655 31.7 718.3 60 740C88.3 761.7 108.3 806.7 120 850C131.7 893.3 136.7 958.3 130 1000C123.3 1041.7 110 1078.3 80 1100C50 1121.7 -28.3 1193.3 -50 1130C-71.7 1066.7 -68.3 785 -50 720Z" fill="#3953ac"/>
<path d="M-50 -50C111.7 -148.3 766.7 -91.7 920 -50C1073.3 -8.3 890 133.3 870 200C850 266.7 815 291.7 800 350C785 408.3 776.7 491.7 780 550C783.3 608.3 796.7 661.7 820 700C843.3 738.3 881.7 766.7 920 780C958.3 793.3 1003.3 776.7 1050 780C1096.7 783.3 1161.7 780 1200 800C1238.3 820 1263.3 850 1280 900C1296.7 950 1308.3 1033.3 1300 1100C1291.7 1166.7 1253.3 1233.3 1230 1300C1206.7 1366.7 1176.7 1416.7 1160 1500C1143.3 1583.3 1253.3 1750 1130 1800C1006.7 1850 555 1825 420 1800C285 1775 365 1700 320 1650C275 1600 200 1545 150 1500C100 1455 53.3 1413.3 20 1380C-13.3 1346.7 -66.7 1321.7 -50 1300C-33.3 1278.3 61.7 1275 120 1250C178.3 1225 253.3 1195 300 1150C346.7 1105 391.7 1035 400 980C408.3 925 378.3 870 350 820C321.7 770 275 720 230 680C185 640 126.7 603.3 80 580C33.3 556.7 -28.3 645 -50 540C-71.7 435 -211.7 48.3 -50 -50Z" fill="#6468bc"/>
<path d="M880 -50C978.3 -83.3 1363.3 -83.3 1450 -50C1536.7 -16.7 1425 100 1400 150C1375 200 1341.7 233.3 1300 250C1258.3 266.7 1200 250 1150 250C1100 250 1041.7 241.7 1000 250C958.3 258.3 923.3 316.7 900 300C876.7 283.3 863.3 208.3 860 150C856.7 91.7 781.7 -16.7 880 -50Z" fill="#4a5aaf"/>
<path d="M-50 -50C105 -145 735 -91.7 880 -50C1025 -8.3 843.3 125 820 200C796.7 275 755 333.3 740 400C725 466.7 723.3 546.7 730 600C736.7 653.3 755 691.7 780 720C805 748.3 843.3 758.3 880 770C916.7 781.7 955 781.7 1000 790C1045 798.3 1113.3 801.7 1150 820C1186.7 838.3 1205 853.3 1220 900C1235 946.7 1246.7 1033.3 1240 1100C1233.3 1166.7 1200 1233.3 1180 1300C1160 1366.7 1136.7 1416.7 1120 1500C1103.3 1583.3 1191.7 1750 1080 1800C968.3 1850 571.7 1825 450 1800C328.3 1775 391.7 1700 350 1650C308.3 1600 248.3 1550 200 1500C151.7 1450 101.7 1386.7 60 1350C18.3 1313.3 -65 1305 -50 1280C-35 1255 88.3 1230 150 1200C211.7 1170 278.3 1141.7 320 1100C361.7 1058.3 396.7 1000 400 950C403.3 900 373.3 850 340 800C306.7 750 248.3 690 200 650C151.7 610 91.7 581.7 50 560C8.3 538.3 -33.3 621.7 -50 520C-66.7 418.3 -205 45 -50 -50Z" fill="#b6b3de"/>
<path d="M1370 250C1378.3 203.3 1428.3 150 1450 100C1471.7 50 1441.7 -25 1500 -50C1558.3 -75 1750 -136.7 1800 -50C1850 36.7 1833.3 391.7 1800 470C1766.7 548.3 1666.7 435 1600 420C1533.3 405 1438.3 408.3 1400 380C1361.7 351.7 1361.7 296.7 1370 250Z" fill="#b6b3de"/>
<path d="M-50 -50C101.7 -145 718.3 -83.3 860 -50C1001.7 -16.7 823.3 83.3 800 150C776.7 216.7 740 283.3 720 350C700 416.7 683.3 491.7 680 550C676.7 608.3 671.7 661.7 700 700C728.3 738.3 808.3 760 850 780C891.7 800 908.3 808.3 950 820C991.7 831.7 1061.7 828.3 1100 850C1138.3 871.7 1166.7 900 1180 950C1193.3 1000 1190 1091.7 1180 1150C1170 1208.3 1136.7 1241.7 1120 1300C1103.3 1358.3 1091.7 1416.7 1080 1500C1068.3 1583.3 1146.7 1750 1050 1800C953.3 1850 608.3 1825 500 1800C391.7 1775 433.3 1700 400 1650C366.7 1600 341.7 1550 300 1500C258.3 1450 183.3 1386.7 150 1350C116.7 1313.3 83.3 1305 100 1280C116.7 1255 206.7 1230 250 1200C293.3 1170 331.7 1141.7 360 1100C388.3 1058.3 416.7 1000 420 950C423.3 900 408.3 845 380 800C351.7 755 296.7 716.7 250 680C203.3 643.3 150 606.7 100 580C50 553.3 -25 625 -50 520C-75 415 -201.7 45 -50 -50Z" fill="#e4e1f3"/>
<path d="M1390 300C1398.3 261.7 1456.7 178.3 1480 120C1503.3 61.7 1476.7 -21.7 1530 -50C1583.3 -78.3 1755 -131.7 1800 -50C1845 31.7 1825 365 1800 440C1775 515 1711.7 415 1650 400C1588.3 385 1473.3 366.7 1430 350C1386.7 333.3 1381.7 338.3 1390 300Z" fill="#e4e1f3"/>
<path d="M-50 -50C100 -141.7 708.3 -75 850 -50C991.7 -25 825 50 800 100C775 150 723.3 200 700 250C676.7 300 668.3 341.7 660 400C651.7 458.3 640 541.7 650 600C660 658.3 686.7 708.3 720 750C753.3 791.7 823.3 808.3 850 850C876.7 891.7 880 958.3 880 1000C880 1041.7 838.3 1075 850 1100C861.7 1125 911.7 1136.7 950 1150C988.3 1163.3 1071.7 1163.3 1080 1180C1088.3 1196.7 1021.7 1230 1000 1250C978.3 1270 966.7 1283.3 950 1300C933.3 1316.7 913.3 1316.7 900 1350C886.7 1383.3 870 1450 870 1500C870 1550 911.7 1608.3 900 1650C888.3 1691.7 841.7 1725 800 1750C758.3 1775 700 1800 650 1800C600 1800 538.3 1783.3 500 1750C461.7 1716.7 443.3 1650 420 1600C396.7 1550 376.7 1500 360 1450C343.3 1400 313.3 1350 320 1300C326.7 1250 383.3 1200 400 1150C416.7 1100 423.3 1050 420 1000C416.7 950 400 900 380 850C360 800 338.3 741.7 300 700C261.7 658.3 195 630 150 600C105 570 63.3 536.7 30 520C-3.3 503.3 -36.7 595 -50 500C-63.3 405 -200 41.7 -50 -50Z" fill="#fde0e5"/>
<path d="M1400 320C1408.3 281.7 1473.3 181.7 1500 120C1526.7 58.3 1510 -21.7 1560 -50C1610 -78.3 1760 -128.3 1800 -50C1840 28.3 1825 348.3 1800 420C1775 491.7 1708.3 391.7 1650 380C1591.7 368.3 1491.7 360 1450 350C1408.3 340 1391.7 358.3 1400 320Z" fill="#fde0e5"/>
<path d="M60 150C76.7 120 118.3 111.7 150 120C181.7 128.3 241.7 161.7 250 200C258.3 238.3 225 313.3 200 350C175 386.7 125 428.3 100 420C75 411.7 56.7 345 50 300C43.3 255 43.3 180 60 150Z" fill="#e4e1f3"/>
<path d="M130 400C138.3 358.3 163.3 326.7 200 300C236.7 273.3 291.7 256.7 350 240C408.3 223.3 505 201.7 550 200C595 198.3 598.3 205 620 230C641.7 255 666.7 305 680 350C693.3 395 686.7 441.7 700 500C713.3 558.3 740 633.3 760 700C780 766.7 806.7 841.7 820 900C833.3 958.3 843.3 1008.3 840 1050C836.7 1091.7 810 1108.3 800 1150C790 1191.7 771.7 1258.3 780 1300C788.3 1341.7 833.3 1358.3 850 1400C866.7 1441.7 880 1500 880 1550C880 1600 880 1671.7 850 1700C820 1728.3 750 1728.3 700 1720C650 1711.7 596.7 1686.7 550 1650C503.3 1613.3 456.7 1558.3 420 1500C383.3 1441.7 341.7 1358.3 330 1300C318.3 1241.7 338.3 1191.7 350 1150C361.7 1108.3 400 1091.7 400 1050C400 1008.3 375 958.3 350 900C325 841.7 283.3 758.3 250 700C216.7 641.7 170 600 150 550C130 500 121.7 441.7 130 400Z" fill="#f6a9b6"/>
<path d="M-50 -50C8.3 -71.7 245 -68.3 300 -50C355 -31.7 305 38.3 280 60C255 81.7 205 76.7 150 80C95 83.3 -16.7 101.7 -50 80C-83.3 58.3 -108.3 -28.3 -50 -50Z" fill="#f6a9b6"/>
<path d="M1500 60C1506.7 10 1510 -31.7 1560 -50C1610 -68.3 1760 -125 1800 -50C1840 25 1830 333.3 1800 400C1770 466.7 1666.7 375 1620 350C1573.3 325 1540 298.3 1520 250C1500 201.7 1493.3 110 1500 60Z" fill="#f6a9b6"/>
<path d="M200 430C215 401.7 250 351.7 300 330C350 308.3 450 300 500 300C550 300 576.7 305 600 330C623.3 355 626.7 405 640 450C653.3 495 663.3 541.7 680 600C696.7 658.3 720 741.7 740 800C760 858.3 790 908.3 800 950C810 991.7 810 1025 800 1050C790 1075 770 1075 740 1100C710 1125 651.7 1191.7 620 1200C588.3 1208.3 573.3 1183.3 550 1150C526.7 1116.7 501.7 1050 480 1000C458.3 950 441.7 900 420 850C398.3 800 378.3 741.7 350 700C321.7 658.3 273.3 633.3 250 600C226.7 566.7 218.3 528.3 210 500C201.7 471.7 185 458.3 200 430Z" fill="#f05a75"/>
<path d="M480 1350C498.3 1336.7 563.3 1315 600 1320C636.7 1325 675 1350 700 1380C725 1410 743.3 1470 750 1500C756.7 1530 756.7 1551.7 740 1560C723.3 1568.3 681.7 1568.3 650 1550C618.3 1531.7 576.7 1475 550 1450C523.3 1425 501.7 1416.7 490 1400C478.3 1383.3 461.7 1363.3 480 1350Z" fill="#f05a75"/>
<path d="M1560 100C1565 55 1560 -25 1600 -50C1640 -75 1766.7 -113.3 1800 -50C1833.3 13.3 1825 271.7 1800 330C1775 388.3 1688.3 318.3 1650 300C1611.7 281.7 1585 253.3 1570 220C1555 186.7 1555 145 1560 100Z" fill="#f05a75"/>
<path d="M-50 -50C0 -66.7 203.3 -65 250 -50C296.7 -35 255 21.7 230 40C205 58.3 146.7 58.3 100 60C53.3 61.7 -25 68.3 -50 50C-75 31.7 -100 -33.3 -50 -50Z" fill="#f05a75"/>
<path d="M600 250C606.7 240 640 231.7 650 240C660 248.3 666.7 290 660 300C653.3 310 620 308.3 610 300C600 291.7 593.3 260 600 250Z" fill="#f05a75"/>
<path d="M360 520C368.3 500 388.3 503.3 420 500C451.7 496.7 526.7 486.7 550 500C573.3 513.3 548.3 546.7 560 580C571.7 613.3 596.7 655 620 700C643.3 745 683.3 808.3 700 850C716.7 891.7 728.3 916.7 720 950C711.7 983.3 676.7 1033.3 650 1050C623.3 1066.7 585 1071.7 560 1050C535 1028.3 521.7 970 500 920C478.3 870 451.7 800 430 750C408.3 700 381.7 658.3 370 620C358.3 581.7 351.7 540 360 520Z" fill="#ee3f58"/>
<path d="M1790 180C1781 187.5 1759.3 203.3 1736 225C1712.7 246.7 1679.3 285.8 1650 310C1620.7 334.2 1585 350 1560 370C1535 390 1526.7 415.8 1500 430C1473.3 444.2 1433.3 448.3 1400 455C1366.7 461.7 1333.3 460 1300 470C1266.7 480 1233.3 502.5 1200 515C1166.7 527.5 1133.3 532.5 1100 545C1066.7 557.5 1038.3 580 1000 590C961.7 600 906.7 596.7 870 605C833.3 613.3 808.3 630 780 640C751.7 650 725 655 700 665C675 675 646.7 702.5 630 700C613.3 697.5 618.3 665.8 600 650C581.7 634.2 553.3 613.3 520 605C486.7 596.7 431.7 596.7 400 600C368.3 603.3 355 614.2 330 625C305 635.8 271.7 651.7 250 665C228.3 678.3 221.7 693.3 200 705C178.3 716.7 138.3 723.3 120 735C101.7 746.7 103.3 762.5 90 775C76.7 787.5 61.7 795.8 40 810C18.3 824.2 -26.7 851.7 -40 860" fill="none" stroke="#aca9b0" stroke-opacity="0.62" stroke-width="13" stroke-linejoin="round" stroke-linecap="round"/>
<path d="M-40 1120C-26.7 1128.3 11.7 1143.3 40 1170C68.3 1196.7 100 1246.7 130 1280C160 1313.3 190 1341.7 220 1370C250 1398.3 283.3 1420 310 1450C336.7 1480 360 1516.7 380 1550C400 1583.3 416.7 1610 430 1650C443.3 1690 455 1766.7 460 1790" fill="none" stroke="#aca9b0" stroke-opacity="0.62" stroke-width="13" stroke-linejoin="round" stroke-linecap="round"/>
<path d="M450 885C468.3 881.2 526.7 867.5 560 862C593.3 856.5 623.3 845.7 650 852C676.7 858.3 710.8 875.3 720 900C729.2 924.7 718.3 975 705 1000C691.7 1025 664.2 1033.3 640 1050C615.8 1066.7 583.3 1088 560 1100C536.7 1112 523.3 1122 500 1122C476.7 1122 439.7 1112 420 1100C400.3 1088 388.7 1073.3 382 1050C375.3 1026.7 368.7 987.5 380 960C391.3 932.5 438.3 897.5 450 885" fill="none" stroke="#aca9b0" stroke-opacity="0.62" stroke-width="13" stroke-linejoin="round" stroke-linecap="round"/>
<path d="M104.8 56.4C108 55.6 131.4 47.6 137 48.4C142.7 49.2 158.8 62.9 161.2 64.5" fill="none" stroke="#5cc25c" stroke-width="11" stroke-linejoin="round"/>
<path d="M306.3 104.8C310.3 104 336.9 95.1 346.6 96.7C356.2 98.3 395.7 116.1 403 120.9C410.2 125.7 417.5 138.6 419.1 145.1C420.7 151.5 422.3 179.7 419.1 185.4C415.9 191 394.9 199.9 386.9 201.5C378.8 203.1 348.2 199.9 338.5 201.5C328.8 203.1 297.4 213.6 290.1 217.6C282.9 221.6 269.2 236.1 266 241.8C262.7 247.4 261.1 267.6 257.9 274C254.7 280.5 238.6 299.8 233.7 306.3C228.9 312.7 211.2 332.9 209.5 338.5C207.9 344.1 212.8 357.8 217.6 362.7C222.4 367.5 252.3 380.4 257.9 386.9C263.5 393.3 272.4 417.5 274 427.1C275.6 436.8 278.9 474.7 274 483.6C269.2 492.4 236.9 511.8 225.7 515.8C214.4 519.8 174.1 523.9 161.2 523.9C148.3 523.9 107.2 520.6 96.7 515.8C86.2 511 59.6 483.6 56.4 475.5C53.2 467.4 60.4 443.3 64.5 435.2C68.5 427.1 91.9 400.6 96.7 394.9C101.5 389.3 108 378 112.8 378.8C117.7 379.6 140.2 403 145.1 403C149.9 403 160.4 385.2 161.2 378.8C162 372.3 157.2 345.7 153.1 338.5C149.1 331.2 124.9 313.5 120.9 306.3C116.9 299 112 272.4 112.8 266C113.6 259.5 125.7 246.6 129 241.8C132.2 236.9 145.9 223.2 145.1 217.6C144.3 212 124.1 191 120.9 185.4C117.7 179.7 110.4 167.6 112.8 161.2C115.2 154.7 141 128.1 145.1 120.9C149.1 113.6 153.9 94.3 153.1 88.7C152.3 83 138.6 66.9 137 64.5" fill="none" stroke="#5cc25c" stroke-width="11" stroke-linejoin="round"/>
<path d="M32.2 233.7C33.8 231.3 52.4 224.9 56.4 225.7C60.4 226.5 74.1 239.4 72.5 241.8C70.9 244.2 44.3 250.6 40.3 249.8C36.3 249 30.6 236.1 32.2 233.7Z" fill="none" stroke="#5cc25c" stroke-width="11" stroke-linejoin="round"/>
<path d="M475.5 153.1C477.9 148.3 490.8 143.5 499.7 145.1C508.5 146.7 556.9 163.6 564.2 169.2C571.4 174.9 577.1 197.5 572.2 201.5C567.4 205.5 525.5 210.4 515.8 209.5C506.1 208.7 479.5 199.1 475.5 193.4C471.5 187.8 473.1 158 475.5 153.1Z" fill="none" stroke="#5cc25c" stroke-width="11" stroke-linejoin="round"/>
<path d="M72.5 628.6C77.4 626.2 99.9 622.2 120.9 620.6C141.8 619 266.8 610.1 282.1 612.5C297.4 614.9 279.7 639.1 274 644.8C268.4 650.4 241 667.3 225.7 668.9C210.4 670.5 136.2 663.3 120.9 660.9C105.6 658.5 77.4 648 72.5 644.8C67.7 641.5 67.7 631.1 72.5 628.6Z" fill="none" stroke="#5cc25c" stroke-width="11" stroke-linejoin="round"/>
<path d="M435.2 145.1C437.6 140.2 477.9 95.1 483.6 88.7C489.2 82.2 494 75.8 491.6 80.6C489.2 85.4 465 130.6 459.4 137C453.7 143.5 432.8 149.9 435.2 145.1Z" fill="none" stroke="#5cc25c" stroke-width="11" stroke-linejoin="round"/>
<path d="M540 80.6C542.4 75.8 557.7 38.7 564.2 32.2C570.6 25.8 601.2 14.5 604.5 16.1C607.7 17.7 601.2 41.9 596.4 48.4C591.6 54.8 560.1 77.4 556.1 80.6" fill="none" stroke="#5cc25c" stroke-width="11" stroke-linejoin="round"/>
<path d="M644.8 161.2C645.6 157.2 662.5 151.5 668.9 153.1C675.4 154.7 705.2 172.5 709.2 177.3C713.3 182.1 714.1 199.9 709.2 201.5C704.4 203.1 667.3 197.5 660.9 193.4C654.4 189.4 643.9 165.2 644.8 161.2Z" fill="none" stroke="#5cc25c" stroke-width="11" stroke-linejoin="round"/>
<path d="M370.7 56.4C372.3 54 398.1 47.6 403 48.4C407.8 49.2 420.7 62.1 419.1 64.5C417.5 66.9 391.7 73.3 386.9 72.5C382 71.7 369.1 58.8 370.7 56.4Z" fill="none" stroke="#3b8e86" stroke-width="11" stroke-linejoin="round"/>
<path d="M805.9 96.7C810 92.7 843.8 74.1 854.3 72.5C864.8 70.9 904.3 76.6 910.7 80.6C917.2 84.6 924.4 108.8 918.8 112.8C913.1 116.9 864.8 120.9 854.3 120.9C843.8 120.9 818.8 115.2 814 112.8C809.2 110.4 801.9 100.7 805.9 96.7Z" fill="none" stroke="#3b8e86" stroke-width="11" stroke-linejoin="round"/>
<path d="M652.8 282.1C654.4 279.7 673.8 272.4 677 274C680.2 275.6 686.7 295.8 685.1 298.2C683.4 300.6 664.1 299.8 660.9 298.2C657.6 296.6 651.2 284.5 652.8 282.1Z" fill="none" stroke="#3b8e86" stroke-width="11" stroke-linejoin="round"/>
<path d="M749.5 483.6C751.1 477.9 768.9 473.1 773.7 475.5C778.5 477.9 797.1 501.3 797.9 507.7C798.7 514.2 785.8 537.6 781.8 540C777.7 542.4 760.8 537.6 757.6 531.9C754.4 526.3 747.9 489.2 749.5 483.6Z" fill="none" stroke="#3b8e86" stroke-width="11" stroke-linejoin="round"/>
<path d="M741.5 394.9C746.3 390.9 784.2 363.5 789.8 354.6C795.5 345.7 793.9 311.1 797.9 306.3C801.9 301.4 829.3 301.4 830.1 306.3C830.9 311.1 807.6 343.3 805.9 354.6C804.3 365.9 816.4 412.6 814 419.1C811.6 425.5 789 420.7 781.8 419.1C774.5 417.5 745.5 404.6 741.5 403" fill="none" stroke="#3b8e86" stroke-width="11" stroke-linejoin="round"/>
<path d="M886.5 209.5C889.8 208.7 910.7 200.7 918.8 201.5C926.8 202.3 957.5 218.4 967.1 217.6C976.8 216.8 1005 199.9 1015.5 193.4C1026 187 1060.6 158.8 1071.9 153.1C1083.2 147.5 1117 141 1128.3 137C1139.6 133 1178.3 120.1 1184.7 112.8C1191.2 105.6 1193.6 75 1192.8 64.5C1192 54 1178.3 13.7 1176.7 8.1" fill="none" stroke="#3b8e86" stroke-width="11" stroke-linejoin="round"/>
<path d="M886.5 209.5C889 216 910.7 262.7 910.7 274C910.7 285.3 893 311.9 886.5 322.4C880.1 332.9 848.7 369.1 846.2 378.8C843.8 388.5 861.6 408.6 862.4 419.1C863.2 429.6 852.7 477.1 854.3 483.6C855.9 490 871.2 488.4 878.5 483.6C885.7 478.7 919.6 443.3 926.8 435.2C934.1 427.1 943 414.3 951 403C959.1 391.7 997.8 336.1 1007.4 322.4C1017.1 308.7 1037.2 275.6 1047.7 266C1058.2 256.3 1100.1 231.3 1112.2 225.7C1124.3 220 1158.9 213.6 1168.6 209.5C1178.3 205.5 1204.9 192.6 1208.9 185.4C1212.9 178.1 1210.5 145.1 1208.9 137C1207.3 129 1194.4 108 1192.8 104.8" fill="none" stroke="#3b8e86" stroke-width="11" stroke-linejoin="round"/>
<path d="M1160.6 282.1C1163.8 278.9 1183.9 255.5 1192.8 249.8C1201.7 244.2 1239.5 228.9 1249.2 225.7C1258.9 222.4 1277.4 220.8 1289.5 217.6C1301.6 214.4 1350 196.6 1370.1 193.4C1390.3 190.2 1470.8 188.6 1491 185.4C1511.1 182.1 1562.7 167.6 1571.6 161.2C1580.5 154.7 1580.5 130.6 1579.6 120.9C1578.8 111.2 1566.8 75.8 1563.5 64.5C1560.3 53.2 1549 13.7 1547.4 8.1" fill="none" stroke="#3b8e86" stroke-width="11" stroke-linejoin="round"/>
<path d="M1225 282.1C1229.9 280.5 1262.1 266.8 1273.4 266C1284.7 265.2 1332.2 268.4 1337.9 274C1343.5 279.7 1333 312.7 1329.8 322.4C1326.6 332 1309.7 361.1 1305.6 370.7C1301.6 380.4 1292.7 407.8 1289.5 419.1C1286.3 430.4 1269.4 476.3 1273.4 483.6C1277.4 490.8 1312.1 490 1329.8 491.6C1347.5 493.2 1430.5 498.1 1450.7 499.7C1470.8 501.3 1520 506.1 1531.3 507.7C1542.6 509.4 1567.6 513.4 1563.5 515.8C1559.5 518.2 1503.9 531.9 1491 531.9C1478.1 531.9 1446.7 515.8 1434.6 515.8C1422.5 515.8 1380.6 527.9 1370.1 531.9C1359.6 536 1337.9 551.3 1329.8 556.1C1321.7 560.9 1297.6 574.6 1289.5 580.3C1281.4 585.9 1261.3 606.1 1249.2 612.5C1237.1 619 1184.7 638.3 1168.6 644.8C1152.5 651.2 1104.1 670.5 1088 677C1071.9 683.4 1021.9 700.4 1007.4 709.2C992.9 718.1 952.6 755.2 943 765.6C933.3 776.1 915.6 803.6 910.7 814C905.9 824.4 896.2 864.1 894.6 869.6" fill="none" stroke="#3b8e86" stroke-width="11" stroke-linejoin="round"/>
<path d="M1080 443.3C1080 440 1117 423.1 1128.3 419.1C1139.6 415.1 1183.1 402.2 1192.8 403C1202.5 403.8 1223.4 422.3 1225 427.1C1226.6 432 1218.6 448.9 1208.9 451.3C1199.2 453.7 1141.2 452.1 1128.3 451.3C1115.4 450.5 1080 446.5 1080 443.3Z" fill="none" stroke="#3b8e86" stroke-width="11" stroke-linejoin="round"/>
<path d="M1152.5 322.4C1153.3 320 1166.2 312.7 1168.6 314.3C1171 315.9 1177.5 336.1 1176.7 338.5C1175.9 340.9 1163 340.1 1160.6 338.5C1158.1 336.9 1151.7 324.8 1152.5 322.4Z" fill="none" stroke="#3b8e86" stroke-width="11" stroke-linejoin="round"/>
<path d="M999.4 483.6C1004.2 479.5 1046.1 471.5 1047.7 475.5C1049.3 479.5 1020.3 519.8 1015.5 523.9C1010.7 527.9 1001 519.8 999.4 515.8C997.8 511.8 994.5 487.6 999.4 483.6Z" fill="none" stroke="#3b8e86" stroke-width="11" stroke-linejoin="round"/>
<path d="M1386.2 346.6C1388.6 342.5 1404 312.7 1410.4 306.3C1416.8 299.8 1438.6 283.7 1450.7 282.1C1462.8 280.5 1520 292.6 1531.3 290.1C1542.6 287.7 1559.5 265.2 1563.5 257.9C1567.6 250.6 1569.2 223.2 1571.6 217.6C1574 212 1586.1 203.1 1587.7 201.5" fill="none" stroke="#3b8e86" stroke-width="11" stroke-linejoin="round"/>
<path d="M1636.1 16.1C1636.1 12.1 1655.4 6.4 1660.2 8.1C1665.1 9.7 1684.4 28.2 1684.4 32.2C1684.4 36.3 1665.1 50 1660.2 48.4C1655.4 46.7 1636.1 20.1 1636.1 16.1Z" fill="none" stroke="#3b8e86" stroke-width="11" stroke-linejoin="round"/>
<path d="M1273.4 781.8C1278.2 776.1 1310.5 729.4 1321.7 725.3C1333 721.3 1373.3 736.6 1386.2 741.5C1399.1 746.3 1440.2 767.3 1450.7 773.7C1461.2 780.2 1482.9 796.4 1491 805.9C1499.1 815.5 1527.3 863.2 1531.3 869.6" fill="none" stroke="#3b8e86" stroke-width="11" stroke-linejoin="round"/>
<path d="M475.5 644.8C479.5 643.9 505.3 638.3 515.8 636.7C526.3 635.1 569 627.8 580.3 628.6C591.6 629.4 619 639.9 628.6 644.8C638.3 649.6 670.5 668.9 677 677C683.4 685.1 691.5 715.7 693.1 725.3C694.7 735 691.5 765.6 693.1 773.7C694.7 781.8 706 796.4 709.2 805.9C712.5 815.5 723.7 863.2 725.3 869.6" fill="none" stroke="#3b8e86" stroke-width="11" stroke-linejoin="round"/>
<path d="M475.5 644.8C476.3 651.2 481.1 697.9 483.6 709.2C486 720.5 499.7 747.9 499.7 757.6C499.7 767.3 482 794.7 483.6 805.9C485.2 817.1 512.6 863.2 515.8 869.6" fill="none" stroke="#3b8e86" stroke-width="11" stroke-linejoin="round"/>
<path d="M282.1 869.6C283.7 859.2 295 781.7 298.2 765.6C301.4 749.6 311.9 718.1 314.3 709.2C316.7 700.4 320.8 675.4 322.4 677C324 678.6 328.8 714.1 330.4 725.3C332 736.6 335.3 781 338.5 789.8C341.7 798.7 354.6 810 362.7 814C370.7 818 411.8 824.6 419.1 830.1C426.3 835.7 433.6 865.7 435.2 869.6" fill="none" stroke="#3b8e86" stroke-width="11" stroke-linejoin="round"/>
<path d="M757.6 869.6C758.4 863.2 763.2 812.3 765.6 805.9C768.1 799.6 779.3 799.6 781.8 805.9C784.2 812.3 789 863.2 789.8 869.6" fill="none" stroke="#3b8e86" stroke-width="11" stroke-linejoin="round"/>
<path d="M282.1 866.6C284.5 871.4 300.6 903.7 306.3 915C311.9 926.2 332 968.1 338.5 979.4C344.9 990.7 362.7 1020.5 370.7 1027.8C378.8 1035 411 1047.1 419.1 1052C427.1 1056.8 448.1 1070.5 451.3 1076.1C454.6 1081.8 449.7 1101.9 451.3 1108.4C452.9 1114.8 470.7 1135 467.4 1140.6C464.2 1146.3 425.5 1165.6 419.1 1164.8C412.6 1164 406.2 1131.8 403 1132.6C399.7 1133.4 391.7 1167.2 386.9 1172.9C382 1178.5 360.3 1183.3 354.6 1189C349 1194.6 332 1217.2 330.4 1229.3C328.8 1241.4 333.7 1296.2 338.5 1309.9C343.3 1323.6 374 1354.2 378.8 1366.3C383.6 1378.4 384.4 1417.9 386.9 1430.8C389.3 1443.7 396.5 1487.2 403 1495.2C409.4 1503.3 443.3 1508.9 451.3 1511.4C459.4 1513.8 478.7 1513.8 483.6 1519.4C488.4 1525.1 491.6 1558.9 499.7 1567.8C507.7 1576.6 552.9 1601.6 564.2 1608.1C575.4 1614.5 598 1628.2 612.5 1632.2C627 1636.3 697.1 1645.1 709.2 1648.4C721.3 1651.6 733.4 1661.3 733.4 1664.5C733.4 1667.7 718.1 1676.6 709.2 1680.6C700.4 1684.6 659.3 1699.2 644.8 1704.8C630.2 1710.3 572.2 1733.1 564.2 1736.2" fill="none" stroke="#3b8e86" stroke-width="11" stroke-linejoin="round"/>
<path d="M354.6 874.7C357 877.1 368.3 907.7 370.7 915C373.2 922.2 379.6 940.7 378.8 947.2C378 953.6 365.9 981 362.7 979.4C359.5 977.8 348.2 939.9 346.6 931.1C344.9 922.2 345.7 896.4 346.6 890.8C347.4 885.1 352.2 872.2 354.6 874.7Z" fill="none" stroke="#3b8e86" stroke-width="11" stroke-linejoin="round"/>
<path d="M386.9 987.5C386.9 984.3 411.8 974.6 419.1 971.4C426.3 968.1 452.9 954.4 459.4 955.3C465.8 956.1 484.4 973.8 483.6 979.4C482.8 985.1 457.8 1009.3 451.3 1011.7C444.9 1014.1 425.5 1006 419.1 1003.6C412.6 1001.2 386.9 990.7 386.9 987.5Z" fill="none" stroke="#3b6e8e" stroke-width="11" stroke-linejoin="round"/>
<path d="M403 874.7C405.4 877.1 419.1 897.2 427.1 898.8C435.2 900.4 471.5 894 483.6 890.8C495.7 887.6 541.6 869 548 866.6" fill="none" stroke="#3b8e86" stroke-width="11" stroke-linejoin="round"/>
<path d="M596.4 898.8C599.6 903.7 623.8 938.3 628.6 947.2C633.5 956.1 640.7 981 644.8 987.5C648.8 993.9 663.3 1010.1 668.9 1011.7C674.6 1013.3 697.1 1001.2 701.2 1003.6C705.2 1006 706.8 1028.6 709.2 1035.8C711.6 1043.1 718.9 1066.5 725.3 1076.1C731.8 1085.8 767.3 1120.5 773.7 1132.6C780.2 1144.7 794.7 1189.8 789.8 1197C785 1204.3 733.4 1206.7 725.3 1205.1C717.3 1203.5 716.5 1182.5 709.2 1180.9C702 1179.3 660.9 1186.6 652.8 1189C644.8 1191.4 635.1 1200.3 628.6 1205.1C622.2 1209.9 599.6 1234.1 588.3 1237.3C577.1 1240.6 526.3 1237.3 515.8 1237.3C505.3 1237.3 482.8 1234.9 483.6 1237.3C484.4 1239.8 515.8 1256.7 523.9 1261.5C531.9 1266.3 555.3 1284.9 564.2 1285.7C573 1286.5 602.8 1272 612.5 1269.6C622.2 1267.2 652.8 1259.9 660.9 1261.5C668.9 1263.1 688.3 1280 693.1 1285.7C697.9 1291.3 704.4 1312.3 709.2 1317.9C714.1 1323.6 733.4 1342.9 741.5 1342.1C749.5 1341.3 781.8 1316.3 789.8 1309.9C797.9 1303.4 812.4 1281.7 822.1 1277.6C831.7 1273.6 868 1270.4 886.5 1269.6C905.1 1268.8 1001 1273.6 1007.4 1269.6C1013.9 1265.5 943 1238.1 951 1229.3C959.1 1220.4 1086.4 1189.8 1088 1180.9C1089.6 1172.1 987.3 1147.1 967.1 1140.6C947 1134.2 901 1120.5 886.5 1116.4C872 1112.4 824.5 1106 822.1 1100.3C819.6 1094.7 859.9 1068.9 862.4 1060C864.8 1051.2 850.3 1020.5 846.2 1011.7C842.2 1002.8 823.7 981 822.1 971.4C820.4 961.7 823.7 924.6 830.1 915C836.6 905.3 880.9 878.7 886.5 874.7" fill="none" stroke="#3b8e86" stroke-width="11" stroke-linejoin="round"/>
<path d="M612.5 898.8C614.1 894 635.9 876.3 644.8 874.7C653.6 873 693.1 878.7 701.2 882.7C709.2 886.7 727 909.3 725.3 915C723.7 920.6 694.7 938.3 685.1 939.1C675.4 939.9 635.9 927 628.6 923C621.4 919 610.9 903.7 612.5 898.8Z" fill="none" stroke="#3b8e86" stroke-width="11" stroke-linejoin="round"/>
<path d="M862.4 1390.5C865.6 1384.8 889 1373.5 894.6 1374.3C900.2 1375.1 917.2 1392.9 918.8 1398.5C920.4 1404.2 910.7 1424.3 910.7 1430.8C910.7 1437.2 921.2 1459 918.8 1463C916.4 1467 892.2 1474.3 886.5 1471.1C880.9 1467.8 864.8 1438.8 862.4 1430.8C859.9 1422.7 859.1 1396.1 862.4 1390.5Z" fill="none" stroke="#3b8e86" stroke-width="11" stroke-linejoin="round"/>
<path d="M918.8 1463C923.6 1463 959.9 1460.6 967.1 1463C974.4 1465.4 983.2 1486.4 991.3 1487.2C999.4 1488 1037.2 1474.3 1047.7 1471.1C1058.2 1467.8 1091.2 1456.5 1096.1 1454.9" fill="none" stroke="#3b8e86" stroke-width="11" stroke-linejoin="round"/>
<path d="M822.1 1551.7C828.5 1550 876.9 1539.6 886.5 1535.5C896.2 1531.5 915.6 1517 918.8 1511.4C922 1505.7 918.8 1482.3 918.8 1479.1" fill="none" stroke="#3b8e86" stroke-width="11" stroke-linejoin="round"/>
<path d="M814 1551.7C821.3 1553.3 871.2 1563.7 886.5 1567.8C901.8 1571.8 954.2 1584.7 967.1 1591.9C980 1599.2 1009.8 1630.6 1015.5 1640.3C1021.1 1650 1016.3 1682.2 1023.5 1688.7C1030.8 1695.1 1077.5 1700 1088 1704.8C1098.5 1709.5 1124.3 1733.1 1128.3 1736.2" fill="none" stroke="#3b8e86" stroke-width="11" stroke-linejoin="round"/>
<path d="M999.4 987.5C1003.4 989.9 1030 1010.9 1039.7 1011.7C1049.3 1012.5 1088 1002 1096.1 995.6C1104.1 989.1 1118.6 957.7 1120.3 947.2C1121.9 936.7 1111.4 898 1112.2 890.8C1113 883.5 1126.7 876.3 1128.3 874.7" fill="none" stroke="#3b8e86" stroke-width="11" stroke-linejoin="round"/>
<path d="M1055.8 1068.1C1059.8 1065.7 1088.8 1049.5 1096.1 1043.9C1103.3 1038.3 1123.5 1021.3 1128.3 1011.7C1133.2 1002 1143.6 960.9 1144.4 947.2C1145.2 933.5 1137.2 881.9 1136.4 874.7" fill="none" stroke="#3b8e86" stroke-width="11" stroke-linejoin="round"/>
<path d="M1225 1261.5C1231.5 1254.3 1275 1204.3 1289.5 1189C1304 1173.7 1360.4 1124.5 1370.1 1108.4C1379.8 1092.3 1386.2 1043.9 1386.2 1027.8C1386.2 1011.7 1373.3 963.3 1370.1 947.2C1366.9 931.1 1355.6 874.7 1354 866.6" fill="none" stroke="#3b8e86" stroke-width="11" stroke-linejoin="round"/>
<path d="M1257.3 1326C1264.5 1318.7 1316.1 1269.6 1329.8 1253.5C1343.5 1237.3 1385.4 1177.7 1394.3 1164.8C1403.1 1151.9 1411.2 1130.1 1418.5 1124.5C1425.7 1118.9 1460.4 1106 1466.8 1108.4C1473.3 1110.8 1476.5 1140.6 1482.9 1148.7C1489.4 1156.7 1522.4 1180.9 1531.3 1189C1540.2 1197 1565.1 1222.8 1571.6 1229.3C1578 1235.7 1587.7 1255.9 1595.8 1253.5C1603.8 1251 1642.5 1213.2 1652.2 1205.1C1661.9 1197 1684.4 1177.7 1692.5 1172.9C1700.5 1168 1728.7 1158.4 1732.8 1156.7" fill="none" stroke="#3b8e86" stroke-width="11" stroke-linejoin="round"/>
<path d="M1434.6 1003.6C1436.2 999.6 1453.9 996.4 1458.8 1003.6C1463.6 1010.9 1482.9 1068.1 1482.9 1076.1C1482.9 1084.2 1462.8 1087.4 1458.8 1084.2C1454.7 1081 1445.1 1052 1442.6 1043.9C1440.2 1035.8 1433 1007.6 1434.6 1003.6Z" fill="none" stroke="#3b8e86" stroke-width="11" stroke-linejoin="round"/>
<path d="M1571.6 874.7C1572.4 880.3 1571.6 923.8 1579.6 931.1C1587.7 938.3 1640.9 939.9 1652.2 947.2C1663.5 954.4 1684.4 995.6 1692.5 1003.6C1700.5 1011.7 1728.7 1025.4 1732.8 1027.8" fill="none" stroke="#3b8e86" stroke-width="11" stroke-linejoin="round"/>
<path d="M1265.3 1438.8C1269.4 1435.6 1300.8 1407.4 1305.6 1406.6C1310.5 1405.8 1315.3 1425.1 1313.7 1430.8C1312.1 1436.4 1287.1 1454.9 1289.5 1463C1291.9 1471.1 1329.8 1502.5 1337.9 1511.4C1345.9 1520.2 1361.2 1548.4 1370.1 1551.7C1379 1554.9 1418.5 1542 1426.5 1543.6C1434.6 1545.2 1452.3 1562.9 1450.7 1567.8C1449.1 1572.6 1418.5 1588.7 1410.4 1591.9C1402.3 1595.2 1380.6 1602.4 1370.1 1600C1359.6 1597.6 1312.1 1571 1305.6 1567.8" fill="none" stroke="#3b8e86" stroke-width="11" stroke-linejoin="round"/>
<path d="M1362 1446.9C1364.5 1441.2 1403.1 1402.6 1410.4 1398.5C1417.7 1394.5 1437 1400.9 1434.6 1406.6C1432.2 1412.2 1393.5 1450.9 1386.2 1454.9C1379 1459 1359.6 1452.5 1362 1446.9Z" fill="none" stroke="#3b8e86" stroke-width="11" stroke-linejoin="round"/>
<path d="M1434.6 1511.4C1442.6 1504.9 1499.1 1458.2 1515.2 1446.9C1531.3 1435.6 1578 1406.6 1595.8 1398.5C1613.5 1390.5 1682.8 1369.5 1692.5 1366.3" fill="none" stroke="#3b8e86" stroke-width="11" stroke-linejoin="round"/>
<path d="M1450.7 1575.8C1458.8 1572.6 1515.2 1551.7 1531.3 1543.6C1547.4 1535.5 1595.8 1506.5 1611.9 1495.2C1628 1484 1680.4 1439.6 1692.5 1430.8C1704.6 1421.9 1728.7 1409 1732.8 1406.6" fill="none" stroke="#3b8e86" stroke-width="11" stroke-linejoin="round"/>
<path d="M1571.6 1309.9C1573.2 1307 1592.5 1292.9 1595.8 1293.7C1599 1294.6 1605.4 1315.1 1603.8 1317.9C1602.2 1320.7 1582.9 1322.8 1579.6 1322C1576.4 1321.2 1570 1312.7 1571.6 1309.9Z" fill="none" stroke="#3b8e86" stroke-width="11" stroke-linejoin="round"/>
<path d="M1168.6 1736.2C1180.7 1731.5 1269.4 1698.3 1289.5 1688.7C1309.7 1679.1 1354 1648.4 1370.1 1640.3C1386.2 1632.2 1442.6 1611.3 1450.7 1608.1" fill="none" stroke="#3b8e86" stroke-width="11" stroke-linejoin="round"/>
<path d="M1055.8 955.3C1057.4 951.2 1076.7 938.3 1080 939.1C1083.2 939.9 1089.6 959.3 1088 963.3C1086.4 967.3 1067.1 980.2 1063.8 979.4C1060.6 978.6 1054.2 959.3 1055.8 955.3Z" fill="none" stroke="#5cb86a" stroke-width="11" stroke-linejoin="round"/>
<path d="M193.4 1430.8C194.2 1424.3 214.4 1411.4 217.6 1414.6C220.8 1417.9 226.5 1456.5 225.7 1463C224.9 1469.4 212.8 1482.3 209.5 1479.1C206.3 1475.9 192.6 1437.2 193.4 1430.8Z" fill="none" stroke="#5cc25c" stroke-width="11" stroke-linejoin="round"/>
<path d="M306.3 1559.7C307.9 1555.7 334.5 1570.2 338.5 1575.8C342.5 1581.5 348.2 1612.1 346.6 1616.1C344.9 1620.2 326.4 1621.8 322.4 1616.1C318.3 1610.5 304.6 1563.7 306.3 1559.7Z" fill="none" stroke="#5cc25c" stroke-width="11" stroke-linejoin="round"/>
<path d="M8.1 1237.3C13.7 1243.8 52.4 1287.3 64.5 1301.8C76.6 1316.3 117.7 1366.3 129 1382.4C140.2 1398.5 169.2 1450.1 177.3 1463C185.4 1475.9 199.1 1501.7 209.5 1511.4C220 1521 269.2 1549.2 282.1 1559.7C295 1570.2 328.8 1604.8 338.5 1616.1C348.2 1627.4 373.2 1660.5 378.8 1672.5C384.4 1684.6 393.3 1729.8 394.9 1736.2" fill="none" stroke="#3b8e86" stroke-width="11" stroke-linejoin="round"/>
<path d="M145.1 1479.1C147.5 1472.7 174.1 1444.5 177.3 1446.9C180.5 1449.3 179.7 1496.8 177.3 1503.3C174.9 1509.7 156.4 1513.8 153.1 1511.4C149.9 1508.9 142.7 1485.6 145.1 1479.1Z" fill="none" stroke="#3b6e8e" stroke-width="11" stroke-linejoin="round"/>
<path d="M193.4 1551.7C191 1545.2 232.9 1541.2 241.8 1543.6C250.6 1546 279.7 1569.4 282.1 1575.8C284.5 1582.3 274.8 1610.5 266 1608.1C257.1 1605.6 195.8 1558.1 193.4 1551.7Z" fill="none" stroke="#3b6e8e" stroke-width="11" stroke-linejoin="round"/>
<path d="M48.4 1640.3C49.2 1637.1 81.4 1638.7 88.7 1640.3C95.9 1641.9 121.7 1653.2 120.9 1656.4C120.1 1659.6 87.8 1674.2 80.6 1672.5C73.3 1670.9 47.6 1643.5 48.4 1640.3Z" fill="none" stroke="#3b6e8e" stroke-width="11" stroke-linejoin="round"/>
<text transform="translate(218 89) rotate(30) scale(1.12 1)" y="36" font-family="Liberation Sans" font-size="102" text-anchor="middle" fill="#0d0d0d">296</text>
<text transform="translate(741 48) rotate(20) scale(1.12 1)" y="36" font-family="Liberation Sans" font-size="102" text-anchor="middle" fill="#0d0d0d">294</text>
<text transform="translate(1112 105) rotate(-60) scale(1.12 1)" y="36" font-family="Liberation Sans" font-size="102" text-anchor="middle" fill="#0d0d0d">294</text>
<text transform="translate(1443 218) rotate(-30) scale(1.12 1)" y="36" font-family="Liberation Sans" font-size="102" text-anchor="middle" fill="#0d0d0d">294</text>
<text transform="translate(999 931) rotate(-60) scale(1.12 1)" y="36" font-family="Liberation Sans" font-size="102" text-anchor="middle" fill="#0d0d0d">294</text>
<text transform="translate(1185 1318) rotate(70) scale(1.12 1)" y="36" font-family="Liberation Sans" font-size="102" text-anchor="middle" fill="#0d0d0d">294</text>
<text transform="translate(1169 1463) rotate(0) scale(1.12 1)" y="36" font-family="Liberation Sans" font-size="102" text-anchor="middle" fill="#0d0d0d">294</text>
<text transform="translate(1684 1310) rotate(0) scale(1.12 1)" y="36" font-family="Liberation Sans" font-size="102" text-anchor="middle" fill="#0d0d0d">29</text>
</g></g>
<rect x="2499.5" y="1632.4" width="612" height="613" fill="none" stroke="#0d0d0d" stroke-width="4.4"/>
<path d="M2499.5 2245.4H2488M2499.5 2194.3H2476.5M2499.5 2143.2H2488M2499.5 2092.2H2488M2499.5 2041.1H2488M2499.5 1990H2488M2499.5 1938.9H2476.5M2499.5 1887.8H2488M2499.5 1836.7H2488M2499.5 1785.7H2488M2499.5 1734.6H2488M2499.5 1683.5H2476.5M2499.5 1632.4H2488M2499.5 2245.4V2256.9M2550.5 2245.4V2256.9M2601.5 2245.4V2256.9M2652.5 2245.4V2256.9M2703.5 2245.4V2268.4M2754.5 2245.4V2256.9M2805.5 2245.4V2256.9M2856.5 2245.4V2256.9M2907.5 2245.4V2256.9M2958.5 2245.4V2268.4M3009.5 2245.4V2256.9M3060.5 2245.4V2256.9M3111.5 2245.4V2256.9" stroke="#0d0d0d" stroke-width="4.5" fill="none"/>
<text x="2474.2" y="2215.3" font-family="Liberation Serif" font-size="56" text-anchor="end" fill="#231f20">15°N</text>
<text x="2474.2" y="1959.9" font-family="Liberation Serif" font-size="56" text-anchor="end" fill="#231f20">20°N</text>
<text x="2474.2" y="1704.5" font-family="Liberation Serif" font-size="56" text-anchor="end" fill="#231f20">25°N</text>
<text x="2703.5" y="2313.7" font-family="Liberation Serif" font-size="56" text-anchor="middle" fill="#231f20">110°E</text>
<text x="2958.5" y="2313.7" font-family="Liberation Serif" font-size="56" text-anchor="middle" fill="#231f20">115°E</text>
<text x="2805.5" y="1608.7" font-family="Liberation Serif" font-size="56" text-anchor="middle" fill="#231f20">(l) Exp.118+183 850 hPa</text>
<rect x="494" y="2358" width="191.9" height="42" fill="#3252aa"/>
<rect x="685.4" y="2358" width="191.9" height="42" fill="#3953ac"/>
<rect x="876.8" y="2358" width="191.9" height="42" fill="#4a5aaf"/>
<rect x="1068.2" y="2358" width="191.9" height="42" fill="#6468bc"/>
<rect x="1259.7" y="2358" width="191.9" height="42" fill="#b6b3de"/>
<rect x="1451.1" y="2358" width="191.9" height="42" fill="#e4e1f3"/>
<rect x="1642.5" y="2358" width="191.9" height="42" fill="#fde0e5"/>
<rect x="1833.9" y="2358" width="191.9" height="42" fill="#f6a9b6"/>
<rect x="2025.3" y="2358" width="191.9" height="42" fill="#f05a75"/>
<rect x="2216.8" y="2358" width="191.9" height="42" fill="#ee3f58"/>
<rect x="2408.2" y="2358" width="191.9" height="42" fill="#ec2e3e"/>
<rect x="2599.6" y="2358" width="191.9" height="42" fill="#ea232a"/>
<path d="M685.4 2358V2400" stroke="#111" stroke-width="3.2"/>
<path d="M876.8 2358V2400" stroke="#111" stroke-width="3.2"/>
<path d="M1068.2 2358V2400" stroke="#111" stroke-width="3.2"/>
<path d="M1259.7 2358V2400" stroke="#111" stroke-width="3.2"/>
<path d="M1451.1 2358V2400" stroke="#111" stroke-width="3.2"/>
<path d="M1642.5 2358V2400" stroke="#111" stroke-width="3.2"/>
<path d="M1833.9 2358V2400" stroke="#111" stroke-width="3.2"/>
<path d="M2025.3 2358V2400" stroke="#111" stroke-width="3.2"/>
<path d="M2216.8 2358V2400" stroke="#111" stroke-width="3.2"/>
<path d="M2408.2 2358V2400" stroke="#111" stroke-width="3.2"/>
<path d="M2599.6 2358V2400" stroke="#111" stroke-width="3.2"/>
<rect x="496" y="2360" width="2293" height="38" fill="none" stroke="#0d0d0d" stroke-width="4.4"/>
<text x="494" y="2450.5" font-family="Liberation Serif" font-size="56" text-anchor="middle" fill="#231f20">−1.00</text>
<text x="685.4" y="2450.5" font-family="Liberation Serif" font-size="56" text-anchor="middle" fill="#231f20">−0.50</text>
<text x="876.8" y="2450.5" font-family="Liberation Serif" font-size="56" text-anchor="middle" fill="#231f20">−0.10</text>
<text x="1068.2" y="2450.5" font-family="Liberation Serif" font-size="56" text-anchor="middle" fill="#231f20">−0.05</text>
<text x="1259.7" y="2450.5" font-family="Liberation Serif" font-size="56" text-anchor="middle" fill="#231f20">−0.02</text>
<text x="1451.1" y="2450.5" font-family="Liberation Serif" font-size="56" text-anchor="middle" fill="#231f20">−0.01</text>
<text x="1642.5" y="2450.5" font-family="Liberation Serif" font-size="56" text-anchor="middle" fill="#231f20">0</text>
<text x="1833.9" y="2450.5" font-family="Liberation Serif" font-size="56" text-anchor="middle" fill="#231f20">0.01</text>
<text x="2025.3" y="2450.5" font-family="Liberation Serif" font-size="56" text-anchor="middle" fill="#231f20">0.02</text>
<text x="2216.8" y="2450.5" font-family="Liberation Serif" font-size="56" text-anchor="middle" fill="#231f20">0.05</text>
<text x="2408.2" y="2450.5" font-family="Liberation Serif" font-size="56" text-anchor="middle" fill="#231f20">0.10</text>
<text x="2599.6" y="2450.5" font-family="Liberation Serif" font-size="56" text-anchor="middle" fill="#231f20">0.50</text>
<text x="2791" y="2450.5" font-family="Liberation Serif" font-size="56" text-anchor="middle" fill="#231f20">1.00</text>
<text x="1638" y="2519.6" font-family="Liberation Serif" font-size="56" text-anchor="middle" fill="#231f20">Increments of temperature / K</text>
</svg></body></html>
